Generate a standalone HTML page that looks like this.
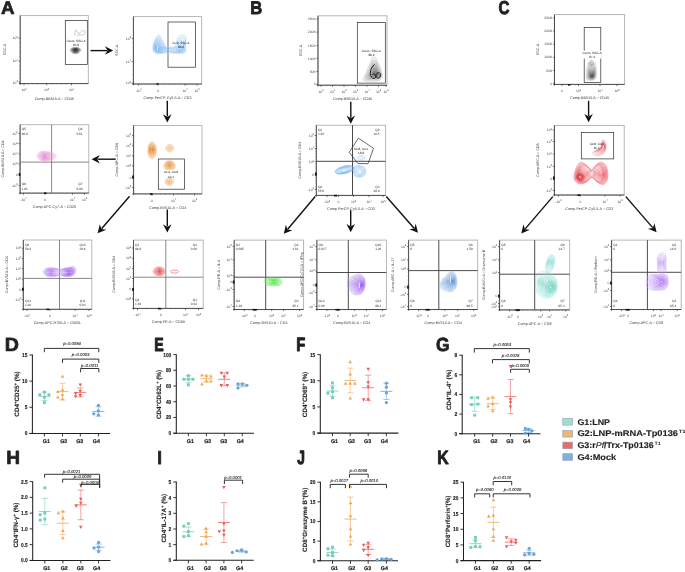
<!DOCTYPE html>
<html><head><meta charset="utf-8"><style>
html,body{margin:0;padding:0;background:#fff;}
body{width:685px;height:572px;overflow:hidden;font-family:"Liberation Sans", sans-serif;}
svg{display:block;will-change:transform;}
</style></head><body>
<svg text-rendering="geometricPrecision" width="685" height="572" viewBox="0 0 685 572" font-family='"Liberation Sans", sans-serif'>
<rect width="685" height="572" fill="#ffffff"/>
<rect x="20.20" y="15.60" width="68.10" height="68.00" fill="none" stroke="#b0b0b0" stroke-width="0.9"/>
<line x1="20.20" y1="15.60" x2="20.20" y2="84.80" stroke="#333" stroke-width="0.8"/>
<line x1="19.00" y1="83.60" x2="88.30" y2="83.60" stroke="#333" stroke-width="0.8"/>
<line x1="18.60" y1="82.30" x2="20.20" y2="82.30" stroke="#333" stroke-width="0.7"/>
<text x="17.90" y="83.50" font-size="3.4" text-anchor="end" fill="#444">10<tspan dy="-1.4" font-size="2.6">3</tspan></text>
<line x1="18.60" y1="61.20" x2="20.20" y2="61.20" stroke="#333" stroke-width="0.7"/>
<text x="17.90" y="62.40" font-size="3.4" text-anchor="end" fill="#444">10<tspan dy="-1.4" font-size="2.6">4</tspan></text>
<line x1="18.60" y1="38.20" x2="20.20" y2="38.20" stroke="#333" stroke-width="0.7"/>
<text x="17.90" y="39.40" font-size="3.4" text-anchor="end" fill="#444">10<tspan dy="-1.4" font-size="2.6">5</tspan></text>
<line x1="19.30" y1="78.08" x2="20.20" y2="78.08" stroke="#666" stroke-width="0.5"/>
<line x1="19.30" y1="73.86" x2="20.20" y2="73.86" stroke="#666" stroke-width="0.5"/>
<line x1="19.30" y1="69.64" x2="20.20" y2="69.64" stroke="#666" stroke-width="0.5"/>
<line x1="19.30" y1="65.42" x2="20.20" y2="65.42" stroke="#666" stroke-width="0.5"/>
<line x1="19.30" y1="56.60" x2="20.20" y2="56.60" stroke="#666" stroke-width="0.5"/>
<line x1="19.30" y1="52.00" x2="20.20" y2="52.00" stroke="#666" stroke-width="0.5"/>
<line x1="19.30" y1="47.40" x2="20.20" y2="47.40" stroke="#666" stroke-width="0.5"/>
<line x1="19.30" y1="42.80" x2="20.20" y2="42.80" stroke="#666" stroke-width="0.5"/>
<line x1="24.00" y1="83.60" x2="24.00" y2="85.20" stroke="#333" stroke-width="0.7"/>
<text x="24.00" y="91.20" font-size="3.4" text-anchor="middle" fill="#444">10<tspan dy="-1.4" font-size="2.6">0</tspan></text>
<line x1="46.70" y1="83.60" x2="46.70" y2="85.20" stroke="#333" stroke-width="0.7"/>
<text x="46.70" y="91.20" font-size="3.4" text-anchor="middle" fill="#444">10<tspan dy="-1.4" font-size="2.6">2</tspan></text>
<line x1="71.50" y1="83.60" x2="71.50" y2="85.20" stroke="#333" stroke-width="0.7"/>
<text x="71.50" y="91.20" font-size="3.4" text-anchor="middle" fill="#444">10<tspan dy="-1.4" font-size="2.6">4</tspan></text>
<line x1="28.54" y1="83.60" x2="28.54" y2="84.50" stroke="#666" stroke-width="0.5"/>
<line x1="33.08" y1="83.60" x2="33.08" y2="84.50" stroke="#666" stroke-width="0.5"/>
<line x1="37.62" y1="83.60" x2="37.62" y2="84.50" stroke="#666" stroke-width="0.5"/>
<line x1="42.16" y1="83.60" x2="42.16" y2="84.50" stroke="#666" stroke-width="0.5"/>
<line x1="51.66" y1="83.60" x2="51.66" y2="84.50" stroke="#666" stroke-width="0.5"/>
<line x1="56.62" y1="83.60" x2="56.62" y2="84.50" stroke="#666" stroke-width="0.5"/>
<line x1="61.58" y1="83.60" x2="61.58" y2="84.50" stroke="#666" stroke-width="0.5"/>
<line x1="66.54" y1="83.60" x2="66.54" y2="84.50" stroke="#666" stroke-width="0.5"/>
<text x="54.25" y="99.60" font-size="3.7" text-anchor="middle" fill="#3a3a3a">Comp-BB515-A :: CD45</text>
<text x="6.50" y="49.60" font-size="3.7" text-anchor="middle" fill="#3a3a3a" transform="rotate(-90 6.5 49.599999999999994)">SSC-A</text>
<rect x="65.30" y="20.40" width="22.00" height="44.10" fill="none" stroke="#2a2a2a" stroke-width="0.7"/>
<path d="M70.3,49.5 C70.5,48.9 71.1,48.2 72.0,47.9 C72.9,47.6 74.3,47.5 75.5,47.5 C76.7,47.5 78.1,47.6 79.0,47.9 C79.9,48.2 80.5,48.9 80.7,49.5 C80.9,50.1 80.5,51.2 80.0,51.8 C79.5,52.4 78.8,53.0 78.0,53.3 C77.2,53.6 76.3,53.7 75.5,53.7 C74.7,53.7 73.8,53.6 73.0,53.3 C72.2,53.0 71.5,52.4 71.0,51.8 C70.5,51.2 70.1,50.1 70.3,49.5Z" fill="#a0a0a0" fill-opacity="0.070" stroke="#a0a0a0" stroke-width="0.5" stroke-opacity="1.00"/>
<path d="M70.8,49.5 C71.0,48.9 71.6,48.4 72.3,48.1 C73.1,47.8 74.5,47.7 75.5,47.7 C76.5,47.7 77.9,47.8 78.7,48.1 C79.4,48.4 80.0,48.9 80.2,49.5 C80.3,50.1 80.0,51.0 79.5,51.6 C79.1,52.2 78.4,52.7 77.8,52.9 C77.1,53.2 76.2,53.3 75.5,53.3 C74.8,53.3 73.9,53.2 73.2,52.9 C72.6,52.7 71.9,52.2 71.5,51.6 C71.0,51.0 70.7,50.1 70.8,49.5Z" fill="#909090" fill-opacity="0.070" stroke="#909090" stroke-width="0.5" stroke-opacity="1.00"/>
<path d="M71.3,49.6 C71.5,49.0 72.0,48.5 72.7,48.3 C73.4,48.0 74.6,48.0 75.5,48.0 C76.4,48.0 77.6,48.0 78.3,48.3 C79.0,48.5 79.5,49.0 79.7,49.6 C79.8,50.1 79.5,50.9 79.1,51.4 C78.7,51.9 78.1,52.3 77.5,52.6 C76.9,52.9 76.2,52.9 75.5,52.9 C74.8,52.9 74.1,52.9 73.5,52.6 C72.9,52.3 72.3,51.9 71.9,51.4 C71.5,50.9 71.2,50.1 71.3,49.6Z" fill="#808080" fill-opacity="0.070" stroke="#808080" stroke-width="0.5" stroke-opacity="1.00"/>
<path d="M71.9,49.6 C72.0,49.1 72.4,48.7 73.0,48.5 C73.7,48.2 74.7,48.2 75.5,48.2 C76.3,48.2 77.3,48.2 78.0,48.5 C78.6,48.7 79.0,49.1 79.1,49.6 C79.3,50.0 79.0,50.8 78.7,51.2 C78.3,51.6 77.8,52.0 77.2,52.2 C76.7,52.5 76.1,52.5 75.5,52.5 C74.9,52.5 74.3,52.5 73.8,52.2 C73.2,52.0 72.7,51.6 72.3,51.2 C72.0,50.8 71.7,50.0 71.9,49.6Z" fill="#707070" fill-opacity="0.070" stroke="#707070" stroke-width="0.5" stroke-opacity="1.00"/>
<path d="M72.4,49.6 C72.5,49.2 72.9,48.9 73.4,48.7 C73.9,48.5 74.8,48.4 75.5,48.4 C76.2,48.4 77.1,48.5 77.6,48.7 C78.1,48.9 78.5,49.2 78.6,49.6 C78.7,50.0 78.5,50.6 78.2,51.0 C77.9,51.4 77.5,51.7 77.0,51.9 C76.5,52.1 76.0,52.1 75.5,52.1 C75.0,52.1 74.5,52.1 74.0,51.9 C73.5,51.7 73.1,51.4 72.8,51.0 C72.5,50.6 72.3,50.0 72.4,49.6Z" fill="#606060" fill-opacity="0.070" stroke="#606060" stroke-width="0.5" stroke-opacity="1.00"/>
<path d="M72.9,49.6 C73.0,49.3 73.3,49.0 73.8,48.8 C74.2,48.7 74.9,48.6 75.5,48.6 C76.1,48.6 76.8,48.7 77.2,48.8 C77.7,49.0 78.0,49.3 78.1,49.6 C78.2,50.0 78.0,50.5 77.8,50.8 C77.5,51.1 77.1,51.4 76.8,51.5 C76.4,51.7 75.9,51.8 75.5,51.8 C75.1,51.8 74.6,51.7 74.2,51.5 C73.9,51.4 73.5,51.1 73.2,50.8 C73.0,50.5 72.8,50.0 72.9,49.6Z" fill="#505050" fill-opacity="0.070" stroke="#505050" stroke-width="0.5" stroke-opacity="1.00"/>
<path d="M73.4,49.7 C73.5,49.4 73.8,49.2 74.1,49.0 C74.4,48.9 75.0,48.9 75.5,48.9 C76.0,48.9 76.6,48.9 76.9,49.0 C77.2,49.2 77.5,49.4 77.6,49.7 C77.6,49.9 77.5,50.3 77.3,50.6 C77.1,50.9 76.8,51.1 76.5,51.2 C76.2,51.3 75.8,51.4 75.5,51.4 C75.2,51.4 74.8,51.3 74.5,51.2 C74.2,51.1 73.9,50.9 73.7,50.6 C73.5,50.3 73.4,49.9 73.4,49.7Z" fill="#404040" fill-opacity="0.070" stroke="#404040" stroke-width="0.5" stroke-opacity="1.00"/>
<path d="M73.9,49.7 C74.0,49.5 74.2,49.3 74.5,49.2 C74.7,49.1 75.2,49.1 75.5,49.1 C75.8,49.1 76.3,49.1 76.5,49.2 C76.8,49.3 77.0,49.5 77.1,49.7 C77.1,49.9 77.0,50.2 76.8,50.4 C76.7,50.6 76.5,50.8 76.2,50.8 C76.0,50.9 75.8,51.0 75.5,51.0 C75.2,51.0 75.0,50.9 74.8,50.8 C74.5,50.8 74.3,50.6 74.2,50.4 C74.0,50.2 73.9,49.9 73.9,49.7Z" fill="#303030" fill-opacity="0.070" stroke="#303030" stroke-width="0.5" stroke-opacity="1.00"/>
<path d="M74.5,49.7 C74.5,49.6 74.6,49.5 74.8,49.4 C75.0,49.4 75.3,49.3 75.5,49.3 C75.7,49.3 76.0,49.4 76.2,49.4 C76.4,49.5 76.5,49.6 76.5,49.7 C76.6,49.9 76.5,50.1 76.4,50.2 C76.3,50.3 76.2,50.4 76.0,50.5 C75.8,50.6 75.7,50.6 75.5,50.6 C75.3,50.6 75.2,50.6 75.0,50.5 C74.8,50.4 74.7,50.3 74.6,50.2 C74.5,50.1 74.4,49.9 74.5,49.7Z" fill="#202020" fill-opacity="0.070" stroke="#202020" stroke-width="0.5" stroke-opacity="1.00"/>
<path d="M75.0,49.8 C75.0,49.7 75.1,49.6 75.2,49.6 C75.2,49.6 75.4,49.6 75.5,49.6 C75.6,49.6 75.8,49.6 75.8,49.6 C75.9,49.6 76.0,49.7 76.0,49.8 C76.0,49.8 76.0,49.9 76.0,50.0 C75.9,50.1 75.8,50.1 75.8,50.1 C75.7,50.2 75.6,50.2 75.5,50.2 C75.4,50.2 75.3,50.2 75.2,50.1 C75.2,50.1 75.1,50.1 75.0,50.0 C75.0,49.9 75.0,49.8 75.0,49.8Z" fill="#111111" fill-opacity="0.070" stroke="#111111" stroke-width="0.5" stroke-opacity="1.00"/>
<path d="M72.5,49.2 L78.8,49.2 M72.2,50.6 L79,50.6 M73,52 L78,52" stroke="#222" stroke-width="0.6" stroke-opacity="0.7"/>
<path d="M74.8,35.5 C74.5,32.7 75.2,30.2 76.3,29.9 C77.3,31.2 77.5,33.5 79.2,33.7 C80.8,31.7 82.5,29.7 84.6,30.9 C86.2,32.9 84,35.5 81.2,34.9 C79.5,34.5 77.8,35.7 76.5,35.3" fill="none" stroke="#888" stroke-width="0.45"/>
<text x="76.00" y="41.60" font-size="3.1" text-anchor="middle" fill="#222">CD45, SSC-A</text>
<text x="76.00" y="45.70" font-size="3.1" text-anchor="middle" fill="#222">95.9</text>
<line x1="90.50" y1="50.60" x2="107.20" y2="50.60" stroke="#111" stroke-width="1.4"/>
<polygon points="113.20,50.60 104.90,54.85 107.58,50.60 104.90,46.35" fill="#111"/>
<rect x="133.40" y="16.60" width="68.30" height="67.40" fill="none" stroke="#b0b0b0" stroke-width="0.9"/>
<line x1="133.40" y1="16.60" x2="133.40" y2="85.20" stroke="#333" stroke-width="0.8"/>
<line x1="132.20" y1="84.00" x2="201.70" y2="84.00" stroke="#333" stroke-width="0.8"/>
<line x1="131.80" y1="83.20" x2="133.40" y2="83.20" stroke="#333" stroke-width="0.7"/>
<text x="131.10" y="84.40" font-size="3.4" text-anchor="end" fill="#444">10<tspan dy="-1.4" font-size="2.6">3</tspan></text>
<line x1="131.80" y1="61.60" x2="133.40" y2="61.60" stroke="#333" stroke-width="0.7"/>
<text x="131.10" y="62.80" font-size="3.4" text-anchor="end" fill="#444">10<tspan dy="-1.4" font-size="2.6">4</tspan></text>
<line x1="131.80" y1="38.60" x2="133.40" y2="38.60" stroke="#333" stroke-width="0.7"/>
<text x="131.10" y="39.80" font-size="3.4" text-anchor="end" fill="#444">10<tspan dy="-1.4" font-size="2.6">5</tspan></text>
<line x1="132.50" y1="78.88" x2="133.40" y2="78.88" stroke="#666" stroke-width="0.5"/>
<line x1="132.50" y1="74.56" x2="133.40" y2="74.56" stroke="#666" stroke-width="0.5"/>
<line x1="132.50" y1="70.24" x2="133.40" y2="70.24" stroke="#666" stroke-width="0.5"/>
<line x1="132.50" y1="65.92" x2="133.40" y2="65.92" stroke="#666" stroke-width="0.5"/>
<line x1="132.50" y1="57.00" x2="133.40" y2="57.00" stroke="#666" stroke-width="0.5"/>
<line x1="132.50" y1="52.40" x2="133.40" y2="52.40" stroke="#666" stroke-width="0.5"/>
<line x1="132.50" y1="47.80" x2="133.40" y2="47.80" stroke="#666" stroke-width="0.5"/>
<line x1="132.50" y1="43.20" x2="133.40" y2="43.20" stroke="#666" stroke-width="0.5"/>
<line x1="138.60" y1="84.00" x2="138.60" y2="85.60" stroke="#333" stroke-width="0.7"/>
<text x="138.60" y="91.60" font-size="3.4" text-anchor="middle" fill="#444">-10<tspan dy="-1.4" font-size="2.6">4</tspan></text>
<line x1="158.00" y1="84.00" x2="158.00" y2="85.60" stroke="#333" stroke-width="0.7"/>
<text x="158.00" y="91.60" font-size="3.4" text-anchor="middle" fill="#444">0</text>
<line x1="185.00" y1="84.00" x2="185.00" y2="85.60" stroke="#333" stroke-width="0.7"/>
<text x="185.00" y="91.60" font-size="3.4" text-anchor="middle" fill="#444">10<tspan dy="-1.4" font-size="2.6">4</tspan></text>
<line x1="197.00" y1="84.00" x2="197.00" y2="85.60" stroke="#333" stroke-width="0.7"/>
<text x="197.00" y="91.60" font-size="3.4" text-anchor="middle" fill="#444">10<tspan dy="-1.4" font-size="2.6">5</tspan></text>
<line x1="142.48" y1="84.00" x2="142.48" y2="84.90" stroke="#666" stroke-width="0.5"/>
<line x1="146.36" y1="84.00" x2="146.36" y2="84.90" stroke="#666" stroke-width="0.5"/>
<line x1="150.24" y1="84.00" x2="150.24" y2="84.90" stroke="#666" stroke-width="0.5"/>
<line x1="154.12" y1="84.00" x2="154.12" y2="84.90" stroke="#666" stroke-width="0.5"/>
<line x1="163.40" y1="84.00" x2="163.40" y2="84.90" stroke="#666" stroke-width="0.5"/>
<line x1="168.80" y1="84.00" x2="168.80" y2="84.90" stroke="#666" stroke-width="0.5"/>
<line x1="174.20" y1="84.00" x2="174.20" y2="84.90" stroke="#666" stroke-width="0.5"/>
<line x1="179.60" y1="84.00" x2="179.60" y2="84.90" stroke="#666" stroke-width="0.5"/>
<line x1="187.40" y1="84.00" x2="187.40" y2="84.90" stroke="#666" stroke-width="0.5"/>
<line x1="189.80" y1="84.00" x2="189.80" y2="84.90" stroke="#666" stroke-width="0.5"/>
<line x1="192.20" y1="84.00" x2="192.20" y2="84.90" stroke="#666" stroke-width="0.5"/>
<line x1="194.60" y1="84.00" x2="194.60" y2="84.90" stroke="#666" stroke-width="0.5"/>
<text x="167.55" y="98.60" font-size="3.7" text-anchor="middle" fill="#3a3a3a">Comp-PerCP-Cy5-5-A :: CD3</text>
<text x="118.50" y="50.30" font-size="3.7" text-anchor="middle" fill="#3a3a3a" transform="rotate(-90 118.5 50.3)">SSC-A</text>
<rect x="168.00" y="22.00" width="27.40" height="45.20" fill="none" stroke="#2a2a2a" stroke-width="0.7"/>
<path d="M160.0,47.5 C161.7,46.6 167.0,47.0 170.0,47.0 C173.0,47.0 176.7,46.6 178.0,47.5 C179.3,48.4 179.3,51.6 178.0,52.5 C176.7,53.4 173.0,53.0 170.0,53.0 C167.0,53.0 161.7,53.4 160.0,52.5 C158.3,51.6 158.3,48.4 160.0,47.5Z" fill="#a8d0f6" fill-opacity="0.025" stroke="#a8d0f6" stroke-width="0.45" stroke-opacity="0.98"/>
<path d="M162.1,48.1 C163.4,47.4 167.5,47.7 169.8,47.7 C172.1,47.7 174.9,47.4 175.9,48.1 C176.9,48.8 176.9,51.2 175.9,51.9 C174.9,52.6 172.1,52.3 169.8,52.3 C167.5,52.3 163.4,52.6 162.1,51.9 C160.8,51.2 160.8,48.8 162.1,48.1Z" fill="#93c5f3" fill-opacity="0.025" stroke="#93c5f3" stroke-width="0.45" stroke-opacity="0.98"/>
<path d="M164.2,48.7 C165.1,48.2 167.9,48.4 169.5,48.4 C171.1,48.4 173.1,48.2 173.8,48.7 C174.5,49.2 174.5,50.8 173.8,51.3 C173.1,51.8 171.1,51.6 169.5,51.6 C167.9,51.6 165.1,51.8 164.2,51.3 C163.3,50.8 163.3,49.2 164.2,48.7Z" fill="#7ebaf0" fill-opacity="0.025" stroke="#7ebaf0" stroke-width="0.45" stroke-opacity="0.98"/>
<path d="M166.3,49.2 C166.8,49.0 168.4,49.1 169.3,49.1 C170.2,49.1 171.3,49.0 171.7,49.2 C172.1,49.5 172.1,50.5 171.7,50.8 C171.3,51.0 170.2,50.9 169.3,50.9 C168.4,50.9 166.8,51.0 166.3,50.8 C165.8,50.5 165.8,49.5 166.3,49.2Z" fill="#6ab0ee" fill-opacity="0.025" stroke="#6ab0ee" stroke-width="0.45" stroke-opacity="0.98"/>
<path d="M158.5,34.8 C159.7,34.5 160.5,37.0 161.5,38.5 C162.5,40.0 163.8,42.3 164.5,44.0 C165.2,45.7 165.9,47.2 166.0,48.5 C166.1,49.8 165.8,51.2 165.0,52.0 C164.2,52.8 162.5,53.3 161.0,53.5 C159.5,53.7 157.3,53.7 156.0,53.3 C154.7,52.9 153.8,52.2 153.3,51.0 C152.8,49.8 152.8,47.8 153.0,46.0 C153.2,44.2 153.6,42.4 154.5,40.5 C155.4,38.6 157.3,35.1 158.5,34.8Z" fill="#9acaf6" fill-opacity="0.030" stroke="#9acaf6" stroke-width="0.45" stroke-opacity="1.00"/>
<path d="M158.4,36.1 C159.5,35.8 160.2,38.0 161.1,39.4 C162.0,40.8 163.2,42.9 163.9,44.4 C164.5,45.9 165.1,47.3 165.2,48.5 C165.3,49.7 165.1,50.9 164.3,51.7 C163.6,52.4 162.0,52.8 160.7,53.0 C159.3,53.2 157.3,53.2 156.1,52.9 C155.0,52.5 154.1,51.9 153.7,50.8 C153.2,49.7 153.2,47.8 153.4,46.2 C153.6,44.6 153.9,42.9 154.8,41.2 C155.6,39.5 157.3,36.4 158.4,36.1Z" fill="#91c4f4" fill-opacity="0.030" stroke="#91c4f4" stroke-width="0.45" stroke-opacity="1.00"/>
<path d="M158.3,37.3 C159.3,37.0 159.9,39.1 160.8,40.3 C161.6,41.6 162.6,43.5 163.2,44.8 C163.8,46.2 164.4,47.4 164.4,48.5 C164.5,49.6 164.3,50.7 163.6,51.4 C162.9,52.0 161.6,52.4 160.4,52.6 C159.1,52.8 157.3,52.8 156.3,52.4 C155.2,52.1 154.5,51.5 154.1,50.5 C153.7,49.5 153.7,47.9 153.8,46.5 C154.0,45.0 154.3,43.5 155.1,42.0 C155.8,40.4 157.4,37.6 158.3,37.3Z" fill="#88bff2" fill-opacity="0.030" stroke="#88bff2" stroke-width="0.45" stroke-opacity="1.00"/>
<path d="M158.2,38.6 C159.1,38.3 159.7,40.1 160.4,41.3 C161.1,42.4 162.0,44.0 162.6,45.2 C163.1,46.4 163.6,47.5 163.7,48.5 C163.7,49.5 163.5,50.4 162.9,51.0 C162.3,51.6 161.1,52.0 160.0,52.1 C158.9,52.3 157.3,52.3 156.4,52.0 C155.5,51.7 154.8,51.2 154.5,50.3 C154.1,49.4 154.1,48.0 154.2,46.7 C154.4,45.4 154.7,44.1 155.3,42.7 C156.0,41.4 157.4,38.8 158.2,38.6Z" fill="#80b9f1" fill-opacity="0.030" stroke="#80b9f1" stroke-width="0.45" stroke-opacity="1.00"/>
<path d="M158.1,39.8 C158.9,39.6 159.4,41.2 160.0,42.2 C160.7,43.1 161.5,44.6 161.9,45.7 C162.4,46.7 162.8,47.7 162.9,48.5 C162.9,49.3 162.8,50.2 162.2,50.7 C161.7,51.2 160.7,51.5 159.7,51.7 C158.8,51.8 157.4,51.8 156.6,51.5 C155.7,51.3 155.2,50.8 154.8,50.1 C154.5,49.3 154.5,48.0 154.7,46.9 C154.8,45.8 155.0,44.6 155.6,43.4 C156.2,42.3 157.4,40.1 158.1,39.8Z" fill="#77b4ef" fill-opacity="0.030" stroke="#77b4ef" stroke-width="0.45" stroke-opacity="1.00"/>
<path d="M158.0,41.1 C158.7,40.9 159.1,42.3 159.7,43.1 C160.2,43.9 160.9,45.2 161.3,46.1 C161.7,47.0 162.0,47.8 162.1,48.5 C162.1,49.2 162.0,49.9 161.6,50.4 C161.1,50.8 160.2,51.1 159.4,51.2 C158.6,51.3 157.4,51.3 156.7,51.1 C156.0,50.9 155.5,50.5 155.2,49.9 C155.0,49.2 155.0,48.1 155.1,47.1 C155.2,46.2 155.4,45.2 155.9,44.2 C156.4,43.2 157.4,41.3 158.0,41.1Z" fill="#6fafee" fill-opacity="0.030" stroke="#6fafee" stroke-width="0.45" stroke-opacity="1.00"/>
<path d="M157.9,42.4 C158.5,42.2 158.8,43.3 159.3,44.0 C159.7,44.7 160.3,45.7 160.6,46.5 C161.0,47.2 161.3,47.9 161.3,48.5 C161.3,49.1 161.2,49.7 160.9,50.1 C160.5,50.4 159.7,50.6 159.1,50.7 C158.4,50.8 157.4,50.8 156.8,50.7 C156.3,50.5 155.8,50.2 155.6,49.6 C155.4,49.1 155.4,48.2 155.5,47.4 C155.6,46.6 155.7,45.8 156.2,44.9 C156.6,44.1 157.4,42.5 157.9,42.4Z" fill="#66a9ec" fill-opacity="0.030" stroke="#66a9ec" stroke-width="0.45" stroke-opacity="1.00"/>
<path d="M157.9,43.6 C158.3,43.5 158.6,44.4 158.9,44.9 C159.3,45.5 159.7,46.3 160.0,46.9 C160.3,47.5 160.5,48.0 160.5,48.5 C160.6,49.0 160.5,49.4 160.2,49.7 C159.9,50.0 159.3,50.2 158.7,50.3 C158.2,50.4 157.4,50.4 157.0,50.2 C156.5,50.1 156.2,49.8 156.0,49.4 C155.8,49.0 155.8,48.2 155.9,47.6 C156.0,47.0 156.1,46.3 156.4,45.7 C156.8,45.0 157.4,43.7 157.9,43.6Z" fill="#5da4ea" fill-opacity="0.030" stroke="#5da4ea" stroke-width="0.45" stroke-opacity="1.00"/>
<path d="M157.8,44.9 C158.1,44.8 158.3,45.5 158.6,45.9 C158.8,46.3 159.2,46.9 159.3,47.3 C159.5,47.8 159.7,48.1 159.7,48.5 C159.8,48.9 159.7,49.2 159.5,49.4 C159.3,49.6 158.8,49.8 158.4,49.8 C158.0,49.9 157.4,49.9 157.1,49.8 C156.8,49.7 156.5,49.5 156.4,49.2 C156.3,48.8 156.3,48.3 156.3,47.8 C156.4,47.4 156.5,46.9 156.7,46.4 C156.9,45.9 157.5,45.0 157.8,44.9Z" fill="#559ee9" fill-opacity="0.030" stroke="#559ee9" stroke-width="0.45" stroke-opacity="1.00"/>
<path d="M157.7,46.1 C157.9,46.1 158.0,46.5 158.2,46.8 C158.4,47.0 158.6,47.4 158.7,47.7 C158.8,48.0 158.9,48.3 159.0,48.5 C159.0,48.7 158.9,49.0 158.8,49.1 C158.6,49.2 158.4,49.3 158.1,49.4 C157.8,49.4 157.5,49.4 157.2,49.3 C157.0,49.3 156.9,49.1 156.8,48.9 C156.7,48.7 156.7,48.4 156.7,48.1 C156.8,47.8 156.8,47.4 157.0,47.1 C157.1,46.8 157.5,46.2 157.7,46.1Z" fill="#4c99e7" fill-opacity="0.030" stroke="#4c99e7" stroke-width="0.45" stroke-opacity="1.00"/>
<path d="M157.6,47.4 C157.7,47.4 157.7,47.6 157.8,47.7 C157.9,47.8 158.0,48.0 158.1,48.1 C158.1,48.3 158.2,48.4 158.2,48.5 C158.2,48.6 158.2,48.7 158.1,48.8 C158.0,48.8 157.9,48.9 157.8,48.9 C157.7,48.9 157.5,48.9 157.4,48.9 C157.3,48.9 157.2,48.8 157.2,48.7 C157.1,48.6 157.1,48.4 157.1,48.3 C157.2,48.2 157.2,48.0 157.3,47.9 C157.3,47.7 157.5,47.4 157.6,47.4Z" fill="#4494e6" fill-opacity="0.030" stroke="#4494e6" stroke-width="0.45" stroke-opacity="1.00"/>
<path d="M171.5,50.5 C171.6,49.5 173.2,48.2 174.0,47.0 C174.8,45.8 175.9,44.4 176.5,43.0 C177.1,41.6 176.8,39.8 177.5,38.5 C178.2,37.2 179.3,35.8 180.5,35.3 C181.7,34.8 183.5,34.8 184.5,35.3 C185.5,35.8 186.1,37.0 186.3,38.5 C186.5,40.0 185.6,42.2 185.5,44.0 C185.4,45.8 186.2,48.0 186.0,49.5 C185.8,51.0 185.7,52.4 184.5,53.0 C183.3,53.6 180.8,53.4 179.0,53.4 C177.2,53.4 174.8,53.5 173.5,53.0 C172.2,52.5 171.4,51.5 171.5,50.5Z" fill="#a0ccf6" fill-opacity="0.025" stroke="#a0ccf6" stroke-width="0.45" stroke-opacity="0.98"/>
<path d="M172.7,50.4 C172.7,49.5 174.1,48.4 174.8,47.3 C175.6,46.2 176.5,45.0 177.0,43.8 C177.6,42.5 177.3,41.0 177.9,39.8 C178.5,38.7 179.5,37.5 180.6,37.0 C181.6,36.6 183.2,36.6 184.1,37.0 C184.9,37.5 185.5,38.6 185.7,39.8 C185.8,41.1 185.0,43.1 185.0,44.7 C184.9,46.3 185.5,48.2 185.4,49.5 C185.2,50.8 185.1,52.0 184.1,52.6 C183.0,53.1 180.9,52.9 179.2,52.9 C177.6,52.9 175.5,53.0 174.4,52.6 C173.3,52.2 172.6,51.3 172.7,50.4Z" fill="#96c6f4" fill-opacity="0.025" stroke="#96c6f4" stroke-width="0.45" stroke-opacity="0.98"/>
<path d="M173.8,50.3 C173.9,49.5 175.1,48.6 175.7,47.6 C176.3,46.7 177.2,45.7 177.6,44.6 C178.0,43.5 177.8,42.1 178.3,41.2 C178.9,40.2 179.7,39.2 180.6,38.7 C181.5,38.3 182.9,38.3 183.7,38.7 C184.4,39.2 184.9,40.1 185.0,41.2 C185.1,42.3 184.4,43.9 184.4,45.3 C184.4,46.7 184.9,48.4 184.8,49.5 C184.7,50.6 184.5,51.7 183.7,52.1 C182.8,52.6 180.9,52.5 179.5,52.5 C178.1,52.5 176.3,52.5 175.3,52.1 C174.4,51.8 173.7,51.0 173.8,50.3Z" fill="#8cc1f3" fill-opacity="0.025" stroke="#8cc1f3" stroke-width="0.45" stroke-opacity="0.98"/>
<path d="M175.0,50.1 C175.0,49.5 176.0,48.7 176.6,47.9 C177.1,47.1 177.8,46.3 178.1,45.4 C178.5,44.5 178.4,43.3 178.8,42.5 C179.2,41.7 179.9,40.8 180.7,40.5 C181.4,40.1 182.6,40.1 183.2,40.5 C183.8,40.8 184.3,41.6 184.4,42.5 C184.5,43.4 183.9,44.8 183.9,46.0 C183.8,47.2 184.3,48.5 184.2,49.5 C184.1,50.5 184.0,51.3 183.2,51.7 C182.5,52.1 180.9,52.0 179.7,52.0 C178.6,52.0 177.0,52.0 176.2,51.7 C175.4,51.4 174.9,50.8 175.0,50.1Z" fill="#82bbf1" fill-opacity="0.025" stroke="#82bbf1" stroke-width="0.45" stroke-opacity="0.98"/>
<path d="M176.1,50.0 C176.2,49.5 177.0,48.9 177.4,48.2 C177.8,47.6 178.4,46.9 178.7,46.2 C179.0,45.4 178.9,44.5 179.2,43.8 C179.5,43.2 180.1,42.5 180.7,42.2 C181.3,41.9 182.3,41.9 182.8,42.2 C183.3,42.5 183.6,43.1 183.7,43.8 C183.8,44.6 183.3,45.7 183.3,46.7 C183.3,47.6 183.7,48.7 183.6,49.5 C183.5,50.3 183.4,51.0 182.8,51.3 C182.2,51.6 180.9,51.5 180.0,51.5 C179.0,51.5 177.8,51.5 177.1,51.3 C176.5,51.1 176.1,50.5 176.1,50.0Z" fill="#78b6f0" fill-opacity="0.025" stroke="#78b6f0" stroke-width="0.45" stroke-opacity="0.98"/>
<path d="M177.3,49.9 C177.3,49.5 177.9,49.0 178.2,48.5 C178.6,48.0 179.0,47.5 179.2,46.9 C179.5,46.4 179.4,45.7 179.6,45.2 C179.9,44.7 180.3,44.1 180.8,43.9 C181.3,43.7 182.0,43.7 182.4,43.9 C182.8,44.1 183.0,44.6 183.1,45.2 C183.1,45.7 182.8,46.6 182.8,47.3 C182.7,48.1 183.0,48.9 183.0,49.5 C182.9,50.1 182.8,50.6 182.4,50.9 C181.9,51.1 180.9,51.0 180.2,51.0 C179.5,51.0 178.5,51.1 178.1,50.9 C177.6,50.7 177.2,50.3 177.3,49.9Z" fill="#6eb0ee" fill-opacity="0.025" stroke="#6eb0ee" stroke-width="0.45" stroke-opacity="0.98"/>
<path d="M178.4,49.8 C178.4,49.5 178.9,49.2 179.1,48.8 C179.3,48.5 179.6,48.1 179.8,47.7 C179.9,47.4 179.9,46.9 180.1,46.5 C180.2,46.2 180.5,45.8 180.9,45.6 C181.2,45.5 181.7,45.5 181.9,45.6 C182.2,45.8 182.4,46.1 182.4,46.5 C182.5,46.9 182.2,47.5 182.2,48.0 C182.2,48.5 182.4,49.1 182.4,49.5 C182.3,49.9 182.3,50.3 181.9,50.5 C181.6,50.6 181.0,50.6 180.5,50.6 C180.0,50.6 179.3,50.6 179.0,50.5 C178.6,50.3 178.4,50.0 178.4,49.8Z" fill="#64abed" fill-opacity="0.025" stroke="#64abed" stroke-width="0.45" stroke-opacity="0.98"/>
<path d="M179.6,49.6 C179.6,49.5 179.8,49.3 179.9,49.1 C180.1,48.9 180.2,48.7 180.3,48.5 C180.4,48.3 180.4,48.0 180.5,47.9 C180.6,47.7 180.8,47.4 180.9,47.4 C181.1,47.3 181.4,47.3 181.5,47.4 C181.7,47.4 181.8,47.6 181.8,47.9 C181.8,48.1 181.7,48.4 181.7,48.7 C181.7,48.9 181.8,49.3 181.8,49.5 C181.7,49.7 181.7,49.9 181.5,50.0 C181.3,50.1 181.0,50.1 180.7,50.1 C180.4,50.1 180.1,50.1 179.9,50.0 C179.7,50.0 179.6,49.8 179.6,49.6Z" fill="#5aa6ec" fill-opacity="0.025" stroke="#5aa6ec" stroke-width="0.45" stroke-opacity="0.98"/>
<path d="M157.3,46.5 L157.6,50.5" stroke="#fff" stroke-width="0.8"/>
<text x="181.00" y="44.10" font-size="3.1" text-anchor="middle" fill="#222">CD3, SSC-A</text>
<text x="181.00" y="48.20" font-size="3.1" text-anchor="middle" fill="#222">88.2</text>
<rect x="156.5" y="83" width="1.8" height="1.6" fill="#111"/>
<line x1="167.30" y1="100.70" x2="167.30" y2="116.60" stroke="#111" stroke-width="1.4"/>
<polygon points="167.30,122.60 163.05,114.30 167.30,116.97 171.55,114.30" fill="#111"/>
<rect x="133.60" y="125.50" width="68.40" height="68.40" fill="none" stroke="#b0b0b0" stroke-width="0.9"/>
<line x1="133.60" y1="125.50" x2="133.60" y2="195.10" stroke="#333" stroke-width="0.8"/>
<line x1="132.40" y1="193.90" x2="202.00" y2="193.90" stroke="#333" stroke-width="0.8"/>
<line x1="132.00" y1="187.60" x2="133.60" y2="187.60" stroke="#333" stroke-width="0.7"/>
<text x="131.30" y="188.80" font-size="3.4" text-anchor="end" fill="#444">-10<tspan dy="-1.4" font-size="2.6">2</tspan></text>
<line x1="132.00" y1="177.40" x2="133.60" y2="177.40" stroke="#333" stroke-width="0.7"/>
<text x="131.30" y="178.60" font-size="3.4" text-anchor="end" fill="#444">0</text>
<line x1="132.00" y1="165.90" x2="133.60" y2="165.90" stroke="#333" stroke-width="0.7"/>
<text x="131.30" y="167.10" font-size="3.4" text-anchor="end" fill="#444">10<tspan dy="-1.4" font-size="2.6">3</tspan></text>
<line x1="132.00" y1="155.80" x2="133.60" y2="155.80" stroke="#333" stroke-width="0.7"/>
<text x="131.30" y="157.00" font-size="3.4" text-anchor="end" fill="#444">10<tspan dy="-1.4" font-size="2.6">4</tspan></text>
<line x1="132.00" y1="145.60" x2="133.60" y2="145.60" stroke="#333" stroke-width="0.7"/>
<text x="131.30" y="146.80" font-size="3.4" text-anchor="end" fill="#444">10<tspan dy="-1.4" font-size="2.6">5</tspan></text>
<line x1="132.00" y1="135.40" x2="133.60" y2="135.40" stroke="#333" stroke-width="0.7"/>
<text x="131.30" y="136.60" font-size="3.4" text-anchor="end" fill="#444">10<tspan dy="-1.4" font-size="2.6">6</tspan></text>
<line x1="132.70" y1="185.56" x2="133.60" y2="185.56" stroke="#666" stroke-width="0.5"/>
<line x1="132.70" y1="183.52" x2="133.60" y2="183.52" stroke="#666" stroke-width="0.5"/>
<line x1="132.70" y1="181.48" x2="133.60" y2="181.48" stroke="#666" stroke-width="0.5"/>
<line x1="132.70" y1="179.44" x2="133.60" y2="179.44" stroke="#666" stroke-width="0.5"/>
<line x1="132.70" y1="175.10" x2="133.60" y2="175.10" stroke="#666" stroke-width="0.5"/>
<line x1="132.70" y1="172.80" x2="133.60" y2="172.80" stroke="#666" stroke-width="0.5"/>
<line x1="132.70" y1="170.50" x2="133.60" y2="170.50" stroke="#666" stroke-width="0.5"/>
<line x1="132.70" y1="168.20" x2="133.60" y2="168.20" stroke="#666" stroke-width="0.5"/>
<line x1="132.70" y1="163.88" x2="133.60" y2="163.88" stroke="#666" stroke-width="0.5"/>
<line x1="132.70" y1="161.86" x2="133.60" y2="161.86" stroke="#666" stroke-width="0.5"/>
<line x1="132.70" y1="159.84" x2="133.60" y2="159.84" stroke="#666" stroke-width="0.5"/>
<line x1="132.70" y1="157.82" x2="133.60" y2="157.82" stroke="#666" stroke-width="0.5"/>
<line x1="132.70" y1="153.76" x2="133.60" y2="153.76" stroke="#666" stroke-width="0.5"/>
<line x1="132.70" y1="151.72" x2="133.60" y2="151.72" stroke="#666" stroke-width="0.5"/>
<line x1="132.70" y1="149.68" x2="133.60" y2="149.68" stroke="#666" stroke-width="0.5"/>
<line x1="132.70" y1="147.64" x2="133.60" y2="147.64" stroke="#666" stroke-width="0.5"/>
<line x1="132.70" y1="143.56" x2="133.60" y2="143.56" stroke="#666" stroke-width="0.5"/>
<line x1="132.70" y1="141.52" x2="133.60" y2="141.52" stroke="#666" stroke-width="0.5"/>
<line x1="132.70" y1="139.48" x2="133.60" y2="139.48" stroke="#666" stroke-width="0.5"/>
<line x1="132.70" y1="137.44" x2="133.60" y2="137.44" stroke="#666" stroke-width="0.5"/>
<line x1="152.00" y1="193.90" x2="152.00" y2="195.50" stroke="#333" stroke-width="0.7"/>
<text x="152.00" y="201.50" font-size="3.4" text-anchor="middle" fill="#444">0</text>
<line x1="173.50" y1="193.90" x2="173.50" y2="195.50" stroke="#333" stroke-width="0.7"/>
<text x="173.50" y="201.50" font-size="3.4" text-anchor="middle" fill="#444">10<tspan dy="-1.4" font-size="2.6">4</tspan></text>
<line x1="194.50" y1="193.90" x2="194.50" y2="195.50" stroke="#333" stroke-width="0.7"/>
<text x="194.50" y="201.50" font-size="3.4" text-anchor="middle" fill="#444">10<tspan dy="-1.4" font-size="2.6">5</tspan></text>
<line x1="156.30" y1="193.90" x2="156.30" y2="194.80" stroke="#666" stroke-width="0.5"/>
<line x1="160.60" y1="193.90" x2="160.60" y2="194.80" stroke="#666" stroke-width="0.5"/>
<line x1="164.90" y1="193.90" x2="164.90" y2="194.80" stroke="#666" stroke-width="0.5"/>
<line x1="169.20" y1="193.90" x2="169.20" y2="194.80" stroke="#666" stroke-width="0.5"/>
<line x1="177.70" y1="193.90" x2="177.70" y2="194.80" stroke="#666" stroke-width="0.5"/>
<line x1="181.90" y1="193.90" x2="181.90" y2="194.80" stroke="#666" stroke-width="0.5"/>
<line x1="186.10" y1="193.90" x2="186.10" y2="194.80" stroke="#666" stroke-width="0.5"/>
<line x1="190.30" y1="193.90" x2="190.30" y2="194.80" stroke="#666" stroke-width="0.5"/>
<text x="167.80" y="208.50" font-size="3.7" text-anchor="middle" fill="#3a3a3a">Comp-BV510-A :: CD4</text>
<text x="117.90" y="159.70" font-size="3.7" text-anchor="middle" fill="#3a3a3a" transform="rotate(-90 117.9 159.7)">Comp-APC-A :: CD8</text>
<rect x="158.30" y="159.00" width="26.10" height="30.20" fill="none" stroke="#2a2a2a" stroke-width="0.7"/>
<path d="M152.0,141.4 C152.9,141.4 154.1,142.4 154.8,143.5 C155.5,144.6 156.2,146.3 156.4,148.0 C156.6,149.7 156.5,151.9 156.2,153.5 C155.9,155.1 155.2,156.6 154.5,157.5 C153.8,158.4 152.8,159.0 152.0,159.0 C151.2,159.0 150.2,158.4 149.5,157.5 C148.8,156.6 148.2,155.1 148.0,153.5 C147.8,151.9 147.8,149.7 148.0,148.0 C148.2,146.3 148.6,144.6 149.3,143.5 C150.0,142.4 151.1,141.4 152.0,141.4Z" fill="#f0b070" fill-opacity="0.065" stroke="#f0b070" stroke-width="0.45" stroke-opacity="1.00"/>
<path d="M152.0,142.5 C152.8,142.5 153.8,143.4 154.4,144.3 C155.0,145.3 155.6,146.8 155.8,148.2 C156.0,149.6 155.9,151.6 155.6,153.0 C155.3,154.3 154.7,155.6 154.1,156.4 C153.5,157.2 152.7,157.7 152.0,157.7 C151.3,157.7 150.4,157.2 149.8,156.4 C149.2,155.6 148.7,154.3 148.5,153.0 C148.3,151.6 148.3,149.6 148.5,148.2 C148.7,146.8 149.1,145.3 149.6,144.3 C150.2,143.4 151.2,142.5 152.0,142.5Z" fill="#eeaa66" fill-opacity="0.065" stroke="#eeaa66" stroke-width="0.45" stroke-opacity="1.00"/>
<path d="M152.0,143.3 C152.7,143.3 153.5,144.1 154.1,144.9 C154.7,145.8 155.1,147.1 155.3,148.4 C155.5,149.6 155.4,151.3 155.2,152.6 C154.9,153.8 154.4,154.9 153.9,155.6 C153.3,156.3 152.6,156.8 152.0,156.8 C151.3,156.8 150.6,156.3 150.0,155.6 C149.5,154.9 149.1,153.8 148.9,152.6 C148.7,151.3 148.7,149.6 148.9,148.4 C149.1,147.1 149.4,145.8 149.9,144.9 C150.4,144.1 151.3,143.3 152.0,143.3Z" fill="#eda45d" fill-opacity="0.065" stroke="#eda45d" stroke-width="0.45" stroke-opacity="1.00"/>
<path d="M151.9,144.0 C152.6,144.0 153.3,144.7 153.8,145.5 C154.3,146.2 154.7,147.4 154.9,148.5 C155.1,149.6 155.0,151.1 154.8,152.2 C154.6,153.3 154.1,154.3 153.6,154.9 C153.1,155.5 152.5,155.9 151.9,155.9 C151.4,155.9 150.7,155.5 150.2,154.9 C149.8,154.3 149.4,153.3 149.2,152.2 C149.1,151.1 149.1,149.6 149.2,148.5 C149.4,147.4 149.7,146.2 150.1,145.5 C150.6,144.7 151.3,144.0 151.9,144.0Z" fill="#eb9e53" fill-opacity="0.065" stroke="#eb9e53" stroke-width="0.45" stroke-opacity="1.00"/>
<path d="M151.9,144.7 C152.5,144.7 153.1,145.3 153.6,146.0 C154.0,146.6 154.4,147.6 154.5,148.6 C154.7,149.6 154.6,150.9 154.4,151.9 C154.2,152.8 153.8,153.7 153.4,154.2 C153.0,154.8 152.4,155.1 151.9,155.1 C151.4,155.1 150.8,154.8 150.4,154.2 C150.0,153.7 149.7,152.8 149.6,151.9 C149.4,150.9 149.4,149.6 149.6,148.6 C149.7,147.6 149.9,146.6 150.3,146.0 C150.7,145.3 151.4,144.7 151.9,144.7Z" fill="#ea984a" fill-opacity="0.065" stroke="#ea984a" stroke-width="0.45" stroke-opacity="1.00"/>
<path d="M151.9,145.4 C152.4,145.4 153.0,145.9 153.3,146.4 C153.7,147.0 154.0,147.9 154.1,148.7 C154.3,149.6 154.2,150.7 154.0,151.5 C153.9,152.3 153.5,153.1 153.2,153.6 C152.8,154.1 152.3,154.3 151.9,154.3 C151.5,154.3 151.0,154.1 150.6,153.6 C150.3,153.1 150.0,152.3 149.9,151.5 C149.7,150.7 149.7,149.6 149.9,148.7 C150.0,147.9 150.2,147.0 150.5,146.4 C150.9,145.9 151.4,145.4 151.9,145.4Z" fill="#e89240" fill-opacity="0.065" stroke="#e89240" stroke-width="0.45" stroke-opacity="1.00"/>
<path d="M151.9,146.0 C152.3,146.0 152.8,146.4 153.1,146.9 C153.4,147.4 153.7,148.1 153.8,148.8 C153.9,149.6 153.8,150.5 153.7,151.2 C153.6,151.9 153.3,152.6 153.0,153.0 C152.7,153.4 152.2,153.6 151.9,153.6 C151.5,153.6 151.1,153.4 150.8,153.0 C150.5,152.6 150.3,151.9 150.2,151.2 C150.0,150.5 150.1,149.6 150.2,148.8 C150.2,148.1 150.4,147.4 150.7,146.9 C151.0,146.4 151.5,146.0 151.9,146.0Z" fill="#e78c37" fill-opacity="0.065" stroke="#e78c37" stroke-width="0.45" stroke-opacity="1.00"/>
<path d="M151.9,146.6 C152.2,146.6 152.6,146.9 152.9,147.3 C153.1,147.7 153.4,148.4 153.5,149.0 C153.5,149.6 153.5,150.4 153.4,150.9 C153.3,151.5 153.0,152.0 152.8,152.4 C152.5,152.7 152.2,152.9 151.9,152.9 C151.6,152.9 151.2,152.7 151.0,152.4 C150.7,152.0 150.5,151.5 150.4,150.9 C150.3,150.4 150.4,149.6 150.4,149.0 C150.5,148.4 150.7,147.7 150.9,147.3 C151.1,146.9 151.5,146.6 151.9,146.6Z" fill="#e5862d" fill-opacity="0.065" stroke="#e5862d" stroke-width="0.45" stroke-opacity="1.00"/>
<path d="M151.9,147.2 C152.1,147.2 152.5,147.5 152.7,147.8 C152.9,148.1 153.1,148.6 153.1,149.1 C153.2,149.5 153.2,150.2 153.1,150.6 C153.0,151.1 152.8,151.5 152.6,151.8 C152.4,152.1 152.1,152.2 151.9,152.2 C151.6,152.2 151.3,152.1 151.1,151.8 C150.9,151.5 150.8,151.1 150.7,150.6 C150.6,150.2 150.6,149.5 150.7,149.1 C150.8,148.6 150.9,148.1 151.1,147.8 C151.3,147.5 151.6,147.2 151.9,147.2Z" fill="#e48024" fill-opacity="0.065" stroke="#e48024" stroke-width="0.45" stroke-opacity="1.00"/>
<path d="M151.8,147.7 C152.0,147.7 152.3,148.0 152.4,148.2 C152.6,148.4 152.7,148.8 152.8,149.2 C152.8,149.5 152.8,150.0 152.8,150.4 C152.7,150.7 152.5,151.0 152.4,151.2 C152.2,151.4 152.0,151.6 151.8,151.6 C151.7,151.6 151.4,151.4 151.3,151.2 C151.2,151.0 151.0,150.7 151.0,150.4 C150.9,150.0 150.9,149.5 151.0,149.2 C151.0,148.8 151.1,148.4 151.3,148.2 C151.4,148.0 151.6,147.7 151.8,147.7Z" fill="#e27a1a" fill-opacity="0.065" stroke="#e27a1a" stroke-width="0.45" stroke-opacity="1.00"/>
<path d="M151.8,148.3 C152.0,148.3 152.1,148.5 152.2,148.6 C152.4,148.8 152.4,149.0 152.5,149.3 C152.5,149.5 152.5,149.9 152.4,150.1 C152.4,150.3 152.3,150.5 152.2,150.7 C152.1,150.8 152.0,150.9 151.8,150.9 C151.7,150.9 151.6,150.8 151.5,150.7 C151.4,150.5 151.3,150.3 151.2,150.1 C151.2,149.9 151.2,149.5 151.2,149.3 C151.3,149.0 151.3,148.8 151.4,148.6 C151.5,148.5 151.7,148.3 151.8,148.3Z" fill="#e17411" fill-opacity="0.065" stroke="#e17411" stroke-width="0.45" stroke-opacity="1.00"/>
<path d="M151.8,148.9 C151.9,148.9 152.0,148.9 152.0,149.0 C152.1,149.1 152.1,149.2 152.2,149.4 C152.2,149.5 152.2,149.7 152.2,149.8 C152.1,149.9 152.1,150.1 152.0,150.1 C152.0,150.2 151.9,150.3 151.8,150.3 C151.7,150.3 151.7,150.2 151.6,150.1 C151.6,150.1 151.5,149.9 151.5,149.8 C151.5,149.7 151.5,149.5 151.5,149.4 C151.5,149.2 151.5,149.1 151.6,149.0 C151.7,148.9 151.7,148.9 151.8,148.9Z" fill="#e06e08" fill-opacity="0.065" stroke="#e06e08" stroke-width="0.45" stroke-opacity="1.00"/>
<path d="M151.7,146 L151.7,152.5" stroke="#fff" stroke-width="0.6" stroke-dasharray="0.8,0.6"/>
<path d="M173.7,148.2 C173.7,148.8 173.5,149.6 173.2,150.1 C172.8,150.6 172.3,151.2 171.7,151.5 C171.1,151.8 170.4,152.0 169.7,152.0 C169.0,152.0 168.3,151.8 167.7,151.5 C167.1,151.2 166.6,150.6 166.2,150.1 C165.9,149.6 165.7,148.8 165.7,148.2 C165.7,147.6 165.9,146.8 166.2,146.3 C166.6,145.8 167.1,145.2 167.7,144.9 C168.3,144.6 169.0,144.4 169.7,144.4 C170.4,144.4 171.1,144.6 171.7,144.9 C172.3,145.2 172.8,145.8 173.2,146.3 C173.5,146.8 173.7,147.6 173.7,148.2Z" fill="#eeb680" fill-opacity="0.015" stroke="#eeb680" stroke-width="0.45" stroke-opacity="1.00"/>
<path d="M172.9,148.2 C172.9,148.7 172.7,149.3 172.5,149.7 C172.2,150.2 171.8,150.6 171.3,150.8 C170.8,151.1 170.2,151.2 169.7,151.2 C169.2,151.2 168.6,151.1 168.1,150.8 C167.6,150.6 167.2,150.2 166.9,149.7 C166.7,149.3 166.5,148.7 166.5,148.2 C166.5,147.7 166.7,147.1 166.9,146.7 C167.2,146.2 167.6,145.8 168.1,145.6 C168.6,145.3 169.2,145.2 169.7,145.2 C170.2,145.2 170.8,145.3 171.3,145.6 C171.8,145.8 172.2,146.2 172.5,146.7 C172.7,147.1 172.9,147.7 172.9,148.2Z" fill="#ecad72" fill-opacity="0.015" stroke="#ecad72" stroke-width="0.45" stroke-opacity="1.00"/>
<path d="M172.1,148.2 C172.1,148.6 172.0,149.0 171.8,149.3 C171.6,149.7 171.2,150.0 170.9,150.2 C170.6,150.4 170.1,150.5 169.7,150.5 C169.3,150.5 168.8,150.4 168.5,150.2 C168.2,150.0 167.8,149.7 167.6,149.3 C167.4,149.0 167.3,148.6 167.3,148.2 C167.3,147.8 167.4,147.4 167.6,147.1 C167.8,146.7 168.2,146.4 168.5,146.2 C168.8,146.0 169.3,145.9 169.7,145.9 C170.1,145.9 170.6,146.0 170.9,146.2 C171.2,146.4 171.6,146.7 171.8,147.1 C172.0,147.4 172.1,147.8 172.1,148.2Z" fill="#eba564" fill-opacity="0.015" stroke="#eba564" stroke-width="0.45" stroke-opacity="1.00"/>
<path d="M171.3,148.2 C171.3,148.5 171.2,148.7 171.1,149.0 C171.0,149.2 170.7,149.4 170.5,149.5 C170.3,149.6 170.0,149.7 169.7,149.7 C169.4,149.7 169.1,149.6 168.9,149.5 C168.7,149.4 168.4,149.2 168.3,149.0 C168.2,148.7 168.1,148.5 168.1,148.2 C168.1,147.9 168.2,147.7 168.3,147.4 C168.4,147.2 168.7,147.0 168.9,146.9 C169.1,146.8 169.4,146.7 169.7,146.7 C170.0,146.7 170.3,146.8 170.5,146.9 C170.7,147.0 171.0,147.2 171.1,147.4 C171.2,147.7 171.3,147.9 171.3,148.2Z" fill="#e99c56" fill-opacity="0.015" stroke="#e99c56" stroke-width="0.45" stroke-opacity="1.00"/>
<path d="M170.5,148.2 C170.5,148.3 170.5,148.5 170.4,148.6 C170.3,148.7 170.2,148.8 170.1,148.9 C170.0,148.9 169.8,149.0 169.7,149.0 C169.6,149.0 169.4,148.9 169.3,148.9 C169.2,148.8 169.1,148.7 169.0,148.6 C168.9,148.5 168.9,148.3 168.9,148.2 C168.9,148.1 168.9,147.9 169.0,147.8 C169.1,147.7 169.2,147.6 169.3,147.5 C169.4,147.5 169.6,147.4 169.7,147.4 C169.8,147.4 170.0,147.5 170.1,147.5 C170.2,147.6 170.3,147.7 170.4,147.8 C170.5,147.9 170.5,148.1 170.5,148.2Z" fill="#e89448" fill-opacity="0.015" stroke="#e89448" stroke-width="0.45" stroke-opacity="1.00"/>
<path d="M164.0,166.0 C164.1,164.8 164.6,162.9 165.5,162.0 C166.4,161.1 168.2,160.7 169.5,160.7 C170.8,160.7 172.5,161.1 173.5,162.0 C174.5,162.9 175.2,164.8 175.3,166.0 C175.4,167.2 175.0,168.6 174.0,169.2 C173.0,169.8 171.0,169.6 169.5,169.6 C168.0,169.6 165.9,169.8 165.0,169.2 C164.1,168.6 163.9,167.2 164.0,166.0Z" fill="#f0b478" fill-opacity="0.050" stroke="#f0b478" stroke-width="0.45" stroke-opacity="1.00"/>
<path d="M164.6,165.9 C164.7,164.8 165.1,163.1 165.9,162.3 C166.8,161.5 168.3,161.2 169.5,161.2 C170.7,161.2 172.2,161.5 173.1,162.3 C173.9,163.1 174.6,164.8 174.6,165.9 C174.7,166.9 174.4,168.2 173.5,168.7 C172.6,169.2 170.8,169.1 169.5,169.1 C168.2,169.1 166.3,169.2 165.5,168.7 C164.7,168.2 164.5,166.9 164.6,165.9Z" fill="#eeac6b" fill-opacity="0.050" stroke="#eeac6b" stroke-width="0.45" stroke-opacity="1.00"/>
<path d="M165.2,165.7 C165.3,164.8 165.7,163.3 166.4,162.6 C167.1,161.9 168.5,161.6 169.5,161.6 C170.5,161.6 171.9,161.9 172.6,162.6 C173.3,163.3 173.9,164.8 174.0,165.7 C174.1,166.7 173.7,167.7 173.0,168.2 C172.2,168.7 170.7,168.5 169.5,168.5 C168.3,168.5 166.7,168.7 166.0,168.2 C165.3,167.7 165.2,166.7 165.2,165.7Z" fill="#eca55f" fill-opacity="0.050" stroke="#eca55f" stroke-width="0.45" stroke-opacity="1.00"/>
<path d="M165.9,165.6 C165.9,164.8 166.2,163.5 166.8,162.9 C167.5,162.4 168.6,162.1 169.5,162.1 C170.4,162.1 171.5,162.4 172.2,162.9 C172.8,163.5 173.3,164.8 173.3,165.6 C173.4,166.4 173.1,167.3 172.5,167.7 C171.8,168.1 170.5,168.0 169.5,168.0 C168.5,168.0 167.1,168.1 166.5,167.7 C165.9,167.3 165.8,166.4 165.9,165.6Z" fill="#ea9d52" fill-opacity="0.050" stroke="#ea9d52" stroke-width="0.45" stroke-opacity="1.00"/>
<path d="M166.5,165.5 C166.5,164.8 166.8,163.7 167.3,163.3 C167.8,162.8 168.8,162.5 169.5,162.5 C170.2,162.5 171.2,162.8 171.7,163.3 C172.2,163.7 172.6,164.8 172.7,165.5 C172.7,166.1 172.5,166.9 172.0,167.2 C171.4,167.6 170.3,167.4 169.5,167.4 C168.7,167.4 167.5,167.6 167.0,167.2 C166.5,166.9 166.4,166.1 166.5,165.5Z" fill="#e89646" fill-opacity="0.050" stroke="#e89646" stroke-width="0.45" stroke-opacity="1.00"/>
<path d="M167.1,165.3 C167.1,164.8 167.3,164.0 167.8,163.6 C168.2,163.2 168.9,163.0 169.5,163.0 C170.1,163.0 170.8,163.2 171.2,163.6 C171.7,164.0 172.0,164.8 172.0,165.3 C172.1,165.9 171.9,166.5 171.5,166.7 C171.0,167.0 170.2,166.9 169.5,166.9 C168.8,166.9 167.9,167.0 167.5,166.7 C167.1,166.5 167.1,165.9 167.1,165.3Z" fill="#e68e39" fill-opacity="0.050" stroke="#e68e39" stroke-width="0.45" stroke-opacity="1.00"/>
<path d="M167.7,165.2 C167.7,164.8 167.9,164.2 168.2,163.9 C168.5,163.6 169.1,163.5 169.5,163.5 C169.9,163.5 170.5,163.6 170.8,163.9 C171.1,164.2 171.4,164.8 171.4,165.2 C171.4,165.6 171.3,166.0 171.0,166.2 C170.6,166.4 170.0,166.4 169.5,166.4 C169.0,166.4 168.3,166.4 168.0,166.2 C167.7,166.0 167.7,165.6 167.7,165.2Z" fill="#e4872d" fill-opacity="0.050" stroke="#e4872d" stroke-width="0.45" stroke-opacity="1.00"/>
<path d="M168.3,165.1 C168.3,164.8 168.5,164.4 168.7,164.2 C168.8,164.0 169.2,163.9 169.5,163.9 C169.8,163.9 170.1,164.0 170.3,164.2 C170.6,164.4 170.7,164.8 170.7,165.1 C170.8,165.3 170.7,165.6 170.5,165.7 C170.3,165.9 169.8,165.8 169.5,165.8 C169.2,165.8 168.7,165.9 168.5,165.7 C168.3,165.6 168.3,165.3 168.3,165.1Z" fill="#e27f20" fill-opacity="0.050" stroke="#e27f20" stroke-width="0.45" stroke-opacity="1.00"/>
<path d="M168.9,164.9 C169.0,164.8 169.0,164.6 169.1,164.5 C169.2,164.4 169.4,164.4 169.5,164.4 C169.6,164.4 169.8,164.4 169.9,164.5 C170.0,164.6 170.1,164.8 170.1,164.9 C170.1,165.0 170.0,165.2 169.9,165.2 C169.9,165.3 169.7,165.3 169.5,165.3 C169.3,165.3 169.1,165.3 169.1,165.2 C169.0,165.2 168.9,165.0 168.9,164.9Z" fill="#e07814" fill-opacity="0.050" stroke="#e07814" stroke-width="0.45" stroke-opacity="1.00"/>
<path d="M173.7,181.6 C173.7,182.3 173.5,183.0 173.1,183.6 C172.8,184.2 172.2,184.7 171.6,185.1 C170.9,185.4 170.1,185.6 169.4,185.6 C168.7,185.6 167.9,185.4 167.2,185.1 C166.6,184.7 166.0,184.2 165.7,183.6 C165.3,183.0 165.1,182.3 165.1,181.6 C165.1,180.9 165.3,180.2 165.7,179.6 C166.0,179.0 166.6,178.5 167.2,178.1 C167.9,177.8 168.7,177.6 169.4,177.6 C170.1,177.6 170.9,177.8 171.6,178.1 C172.2,178.5 172.8,179.0 173.1,179.6 C173.5,180.2 173.7,180.9 173.7,181.6Z" fill="#f0b880" fill-opacity="0.025" stroke="#f0b880" stroke-width="0.45" stroke-opacity="1.00"/>
<path d="M173.0,181.7 C173.0,182.2 172.8,182.8 172.5,183.3 C172.2,183.8 171.7,184.3 171.2,184.5 C170.7,184.8 170.0,185.0 169.4,185.0 C168.8,185.0 168.1,184.8 167.6,184.5 C167.1,184.3 166.6,183.8 166.3,183.3 C166.0,182.8 165.8,182.2 165.8,181.7 C165.8,181.1 166.0,180.5 166.3,180.0 C166.6,179.5 167.1,179.1 167.6,178.8 C168.1,178.5 168.8,178.3 169.4,178.3 C170.0,178.3 170.7,178.5 171.2,178.8 C171.7,179.1 172.2,179.5 172.5,180.0 C172.8,180.5 173.0,181.1 173.0,181.7Z" fill="#eeae71" fill-opacity="0.025" stroke="#eeae71" stroke-width="0.45" stroke-opacity="1.00"/>
<path d="M172.2,181.7 C172.2,182.2 172.1,182.7 171.9,183.1 C171.6,183.4 171.2,183.8 170.8,184.0 C170.4,184.2 169.9,184.4 169.4,184.4 C168.9,184.4 168.4,184.2 168.0,184.0 C167.6,183.8 167.2,183.4 166.9,183.1 C166.7,182.7 166.6,182.2 166.6,181.7 C166.6,181.3 166.7,180.8 166.9,180.4 C167.2,180.0 167.6,179.7 168.0,179.4 C168.4,179.2 168.9,179.1 169.4,179.1 C169.9,179.1 170.4,179.2 170.8,179.4 C171.2,179.7 171.6,180.0 171.9,180.4 C172.1,180.8 172.2,181.3 172.2,181.7Z" fill="#eca563" fill-opacity="0.025" stroke="#eca563" stroke-width="0.45" stroke-opacity="1.00"/>
<path d="M171.5,181.8 C171.5,182.1 171.4,182.5 171.2,182.8 C171.0,183.1 170.8,183.3 170.5,183.5 C170.1,183.7 169.8,183.8 169.4,183.8 C169.0,183.8 168.7,183.7 168.3,183.5 C168.0,183.3 167.8,183.1 167.6,182.8 C167.4,182.5 167.3,182.1 167.3,181.8 C167.3,181.5 167.4,181.1 167.6,180.8 C167.8,180.5 168.0,180.3 168.3,180.1 C168.7,179.9 169.0,179.8 169.4,179.8 C169.8,179.8 170.1,179.9 170.5,180.1 C170.8,180.3 171.0,180.5 171.2,180.8 C171.4,181.1 171.5,181.5 171.5,181.8Z" fill="#eb9c54" fill-opacity="0.025" stroke="#eb9c54" stroke-width="0.45" stroke-opacity="1.00"/>
<path d="M170.8,181.9 C170.8,182.1 170.7,182.3 170.6,182.5 C170.5,182.7 170.3,182.9 170.1,183.0 C169.9,183.1 169.6,183.2 169.4,183.2 C169.2,183.2 168.9,183.1 168.7,183.0 C168.5,182.9 168.3,182.7 168.2,182.5 C168.1,182.3 168.0,182.1 168.0,181.9 C168.0,181.7 168.1,181.4 168.2,181.2 C168.3,181.0 168.5,180.9 168.7,180.8 C168.9,180.7 169.2,180.6 169.4,180.6 C169.6,180.6 169.9,180.7 170.1,180.8 C170.3,180.9 170.5,181.0 170.6,181.2 C170.7,181.4 170.8,181.7 170.8,181.9Z" fill="#e99346" fill-opacity="0.025" stroke="#e99346" stroke-width="0.45" stroke-opacity="1.00"/>
<path d="M170.0,181.9 C170.0,182.0 170.0,182.2 170.0,182.2 C169.9,182.3 169.8,182.4 169.7,182.5 C169.6,182.5 169.5,182.5 169.4,182.5 C169.3,182.5 169.2,182.5 169.1,182.5 C169.0,182.4 168.9,182.3 168.8,182.2 C168.8,182.2 168.8,182.0 168.8,181.9 C168.8,181.8 168.8,181.7 168.8,181.6 C168.9,181.6 169.0,181.5 169.1,181.4 C169.2,181.4 169.3,181.3 169.4,181.3 C169.5,181.3 169.6,181.4 169.7,181.4 C169.8,181.5 169.9,181.6 170.0,181.6 C170.0,181.7 170.0,181.8 170.0,181.9Z" fill="#e88a38" fill-opacity="0.025" stroke="#e88a38" stroke-width="0.45" stroke-opacity="1.00"/>
<text x="171.00" y="173.40" font-size="3.1" text-anchor="middle" fill="#222">CD4, CD8</text>
<text x="171.00" y="177.50" font-size="3.1" text-anchor="middle" fill="#222">50.1</text>
<rect x="132.2" y="175.5" width="1.6" height="3.2" fill="#111"/>
<rect x="150" y="193.2" width="2.6" height="1.6" fill="#111"/>
<line x1="129.60" y1="196.30" x2="101.53" y2="228.67" stroke="#111" stroke-width="1.4"/>
<polygon points="97.60,233.20 99.83,224.15 101.29,228.95 106.25,229.71" fill="#111"/>
<line x1="167.30" y1="209.50" x2="167.30" y2="226.60" stroke="#111" stroke-width="1.4"/>
<polygon points="167.30,232.60 163.05,224.30 167.30,226.97 171.55,224.30" fill="#111"/>
<line x1="115.50" y1="159.20" x2="97.60" y2="159.20" stroke="#111" stroke-width="1.4"/>
<polygon points="91.60,159.20 99.90,154.95 97.22,159.20 99.90,163.45" fill="#111"/>
<rect x="20.10" y="124.70" width="68.70" height="68.40" fill="none" stroke="#b0b0b0" stroke-width="0.9"/>
<line x1="20.10" y1="124.70" x2="20.10" y2="194.30" stroke="#333" stroke-width="0.8"/>
<line x1="18.90" y1="193.10" x2="88.80" y2="193.10" stroke="#333" stroke-width="0.8"/>
<line x1="18.50" y1="185.40" x2="20.10" y2="185.40" stroke="#333" stroke-width="0.7"/>
<text x="17.80" y="186.60" font-size="3.4" text-anchor="end" fill="#444">-10<tspan dy="-1.4" font-size="2.6">3</tspan></text>
<line x1="18.50" y1="174.50" x2="20.10" y2="174.50" stroke="#333" stroke-width="0.7"/>
<text x="17.80" y="175.70" font-size="3.4" text-anchor="end" fill="#444">0</text>
<line x1="18.50" y1="164.00" x2="20.10" y2="164.00" stroke="#333" stroke-width="0.7"/>
<text x="17.80" y="165.20" font-size="3.4" text-anchor="end" fill="#444">10<tspan dy="-1.4" font-size="2.6">3</tspan></text>
<line x1="18.50" y1="153.90" x2="20.10" y2="153.90" stroke="#333" stroke-width="0.7"/>
<text x="17.80" y="155.10" font-size="3.4" text-anchor="end" fill="#444">10<tspan dy="-1.4" font-size="2.6">4</tspan></text>
<line x1="18.50" y1="143.70" x2="20.10" y2="143.70" stroke="#333" stroke-width="0.7"/>
<text x="17.80" y="144.90" font-size="3.4" text-anchor="end" fill="#444">10<tspan dy="-1.4" font-size="2.6">5</tspan></text>
<line x1="18.50" y1="133.50" x2="20.10" y2="133.50" stroke="#333" stroke-width="0.7"/>
<text x="17.80" y="134.70" font-size="3.4" text-anchor="end" fill="#444">10<tspan dy="-1.4" font-size="2.6">6</tspan></text>
<line x1="19.20" y1="183.22" x2="20.10" y2="183.22" stroke="#666" stroke-width="0.5"/>
<line x1="19.20" y1="181.04" x2="20.10" y2="181.04" stroke="#666" stroke-width="0.5"/>
<line x1="19.20" y1="178.86" x2="20.10" y2="178.86" stroke="#666" stroke-width="0.5"/>
<line x1="19.20" y1="176.68" x2="20.10" y2="176.68" stroke="#666" stroke-width="0.5"/>
<line x1="19.20" y1="172.40" x2="20.10" y2="172.40" stroke="#666" stroke-width="0.5"/>
<line x1="19.20" y1="170.30" x2="20.10" y2="170.30" stroke="#666" stroke-width="0.5"/>
<line x1="19.20" y1="168.20" x2="20.10" y2="168.20" stroke="#666" stroke-width="0.5"/>
<line x1="19.20" y1="166.10" x2="20.10" y2="166.10" stroke="#666" stroke-width="0.5"/>
<line x1="19.20" y1="161.98" x2="20.10" y2="161.98" stroke="#666" stroke-width="0.5"/>
<line x1="19.20" y1="159.96" x2="20.10" y2="159.96" stroke="#666" stroke-width="0.5"/>
<line x1="19.20" y1="157.94" x2="20.10" y2="157.94" stroke="#666" stroke-width="0.5"/>
<line x1="19.20" y1="155.92" x2="20.10" y2="155.92" stroke="#666" stroke-width="0.5"/>
<line x1="19.20" y1="151.86" x2="20.10" y2="151.86" stroke="#666" stroke-width="0.5"/>
<line x1="19.20" y1="149.82" x2="20.10" y2="149.82" stroke="#666" stroke-width="0.5"/>
<line x1="19.20" y1="147.78" x2="20.10" y2="147.78" stroke="#666" stroke-width="0.5"/>
<line x1="19.20" y1="145.74" x2="20.10" y2="145.74" stroke="#666" stroke-width="0.5"/>
<line x1="19.20" y1="141.66" x2="20.10" y2="141.66" stroke="#666" stroke-width="0.5"/>
<line x1="19.20" y1="139.62" x2="20.10" y2="139.62" stroke="#666" stroke-width="0.5"/>
<line x1="19.20" y1="137.58" x2="20.10" y2="137.58" stroke="#666" stroke-width="0.5"/>
<line x1="19.20" y1="135.54" x2="20.10" y2="135.54" stroke="#666" stroke-width="0.5"/>
<line x1="23.50" y1="193.10" x2="23.50" y2="194.70" stroke="#333" stroke-width="0.7"/>
<text x="23.50" y="200.70" font-size="3.4" text-anchor="middle" fill="#444">-10<tspan dy="-1.4" font-size="2.6">4</tspan></text>
<line x1="45.00" y1="193.10" x2="45.00" y2="194.70" stroke="#333" stroke-width="0.7"/>
<text x="45.00" y="200.70" font-size="3.4" text-anchor="middle" fill="#444">0</text>
<line x1="72.50" y1="193.10" x2="72.50" y2="194.70" stroke="#333" stroke-width="0.7"/>
<text x="72.50" y="200.70" font-size="3.4" text-anchor="middle" fill="#444">10<tspan dy="-1.4" font-size="2.6">4</tspan></text>
<line x1="84.50" y1="193.10" x2="84.50" y2="194.70" stroke="#333" stroke-width="0.7"/>
<text x="84.50" y="200.70" font-size="3.4" text-anchor="middle" fill="#444">10<tspan dy="-1.4" font-size="2.6">5</tspan></text>
<line x1="27.80" y1="193.10" x2="27.80" y2="194.00" stroke="#666" stroke-width="0.5"/>
<line x1="32.10" y1="193.10" x2="32.10" y2="194.00" stroke="#666" stroke-width="0.5"/>
<line x1="36.40" y1="193.10" x2="36.40" y2="194.00" stroke="#666" stroke-width="0.5"/>
<line x1="40.70" y1="193.10" x2="40.70" y2="194.00" stroke="#666" stroke-width="0.5"/>
<line x1="50.50" y1="193.10" x2="50.50" y2="194.00" stroke="#666" stroke-width="0.5"/>
<line x1="56.00" y1="193.10" x2="56.00" y2="194.00" stroke="#666" stroke-width="0.5"/>
<line x1="61.50" y1="193.10" x2="61.50" y2="194.00" stroke="#666" stroke-width="0.5"/>
<line x1="67.00" y1="193.10" x2="67.00" y2="194.00" stroke="#666" stroke-width="0.5"/>
<line x1="74.90" y1="193.10" x2="74.90" y2="194.00" stroke="#666" stroke-width="0.5"/>
<line x1="77.30" y1="193.10" x2="77.30" y2="194.00" stroke="#666" stroke-width="0.5"/>
<line x1="79.70" y1="193.10" x2="79.70" y2="194.00" stroke="#666" stroke-width="0.5"/>
<line x1="82.10" y1="193.10" x2="82.10" y2="194.00" stroke="#666" stroke-width="0.5"/>
<text x="54.45" y="207.70" font-size="3.7" text-anchor="middle" fill="#3a3a3a">Comp-APC-Cy7-A :: CD25</text>
<text x="4.10" y="158.90" font-size="3.7" text-anchor="middle" fill="#3a3a3a" transform="rotate(-90 4.1 158.9)">Comp-BV510-A :: CD4</text>
<line x1="51.60" y1="124.70" x2="51.60" y2="193.10" stroke="#6a6a6a" stroke-width="0.8"/>
<line x1="20.10" y1="162.10" x2="88.80" y2="162.10" stroke="#6a6a6a" stroke-width="0.8"/>
<text x="21.70" y="130.30" font-size="3.2" text-anchor="start" fill="#333">Q5</text>
<text x="21.70" y="134.70" font-size="3.2" text-anchor="start" fill="#333">96.9</text>
<text x="82.60" y="130.30" font-size="3.2" text-anchor="end" fill="#333">Q6</text>
<text x="82.60" y="134.70" font-size="3.2" text-anchor="end" fill="#333">0.61</text>
<text x="21.70" y="185.30" font-size="3.2" text-anchor="start" fill="#333">Q8</text>
<text x="21.70" y="190.10" font-size="3.2" text-anchor="start" fill="#333">1.81</text>
<text x="82.60" y="185.30" font-size="3.2" text-anchor="end" fill="#333">Q7</text>
<text x="82.60" y="190.10" font-size="3.2" text-anchor="end" fill="#333">0.40</text>
<path d="M37.1,156.5 C36.9,155.3 37.7,153.9 38.5,153.0 C39.3,152.1 40.6,151.6 42.0,151.3 C43.4,151.1 45.3,151.3 47.0,151.5 C48.7,151.7 50.6,152.0 52.0,152.5 C53.4,153.0 54.8,153.8 55.5,154.5 C56.2,155.2 56.4,155.8 56.2,156.5 C56.0,157.2 55.5,158.3 54.5,159.0 C53.5,159.7 51.8,160.2 50.0,160.5 C48.2,160.8 45.8,161.2 44.0,161.1 C42.2,161.0 40.6,160.8 39.5,160.0 C38.4,159.2 37.3,157.7 37.1,156.5Z" fill="#f0aee0" fill-opacity="0.035" stroke="#f0aee0" stroke-width="0.45" stroke-opacity="1.00"/>
<path d="M37.8,156.5 C37.7,155.5 38.4,154.1 39.1,153.4 C39.8,152.6 41.0,152.1 42.2,151.8 C43.5,151.6 45.2,151.8 46.8,152.0 C48.2,152.2 50.0,152.5 51.2,152.9 C52.5,153.4 53.8,154.1 54.4,154.7 C55.0,155.3 55.2,155.8 55.0,156.5 C54.9,157.2 54.4,158.2 53.5,158.8 C52.6,159.4 51.0,159.8 49.5,160.1 C47.9,160.4 45.6,160.7 44.0,160.7 C42.5,160.6 41.0,160.3 40.0,159.7 C39.0,159.0 38.0,157.6 37.8,156.5Z" fill="#eea4dc" fill-opacity="0.035" stroke="#eea4dc" stroke-width="0.45" stroke-opacity="1.00"/>
<path d="M38.6,156.5 C38.4,155.6 39.0,154.4 39.7,153.7 C40.4,153.0 41.4,152.6 42.5,152.4 C43.6,152.2 45.2,152.4 46.5,152.5 C47.8,152.7 49.4,152.9 50.5,153.3 C51.6,153.7 52.7,154.4 53.3,154.9 C53.9,155.5 54.0,155.9 53.9,156.5 C53.7,157.1 53.3,158.0 52.5,158.5 C51.7,159.1 50.3,159.4 48.9,159.7 C47.5,160.0 45.5,160.3 44.1,160.2 C42.7,160.1 41.4,159.9 40.5,159.3 C39.6,158.7 38.7,157.5 38.6,156.5Z" fill="#ec9bd8" fill-opacity="0.035" stroke="#ec9bd8" stroke-width="0.45" stroke-opacity="1.00"/>
<path d="M39.3,156.5 C39.2,155.7 39.7,154.7 40.3,154.1 C40.9,153.5 41.8,153.1 42.8,152.9 C43.7,152.7 45.1,152.9 46.2,153.0 C47.4,153.2 48.8,153.4 49.8,153.7 C50.7,154.1 51.7,154.7 52.2,155.1 C52.7,155.6 52.8,156.0 52.7,156.5 C52.6,157.1 52.2,157.8 51.5,158.3 C50.8,158.7 49.6,159.1 48.4,159.3 C47.1,159.6 45.4,159.8 44.1,159.8 C42.9,159.7 41.8,159.5 41.0,159.0 C40.2,158.4 39.4,157.3 39.3,156.5Z" fill="#ea92d5" fill-opacity="0.035" stroke="#ea92d5" stroke-width="0.45" stroke-opacity="1.00"/>
<path d="M40.1,156.5 C40.0,155.8 40.4,155.0 40.9,154.4 C41.4,153.9 42.1,153.6 43.0,153.4 C43.9,153.3 45.0,153.4 46.0,153.5 C47.0,153.7 48.1,153.8 49.0,154.1 C49.9,154.4 50.7,154.9 51.1,155.3 C51.5,155.7 51.6,156.1 51.5,156.5 C51.4,157.0 51.1,157.6 50.5,158.0 C49.9,158.4 48.8,158.7 47.8,158.9 C46.8,159.2 45.2,159.3 44.2,159.3 C43.2,159.2 42.2,159.1 41.5,158.6 C40.8,158.2 40.2,157.2 40.1,156.5Z" fill="#e889d1" fill-opacity="0.035" stroke="#e889d1" stroke-width="0.45" stroke-opacity="1.00"/>
<path d="M40.8,156.6 C40.7,156.0 41.1,155.2 41.5,154.8 C41.9,154.4 42.5,154.1 43.2,153.9 C44.0,153.8 44.9,154.0 45.8,154.1 C46.6,154.2 47.5,154.3 48.2,154.6 C49.0,154.8 49.6,155.2 50.0,155.6 C50.4,155.9 50.4,156.2 50.4,156.6 C50.3,156.9 50.0,157.5 49.5,157.8 C49.0,158.1 48.1,158.4 47.2,158.6 C46.4,158.7 45.1,158.9 44.2,158.8 C43.4,158.8 42.6,158.7 42.0,158.3 C41.4,157.9 40.9,157.1 40.8,156.6Z" fill="#e780ce" fill-opacity="0.035" stroke="#e780ce" stroke-width="0.45" stroke-opacity="1.00"/>
<path d="M41.5,156.6 C41.5,156.1 41.8,155.5 42.1,155.2 C42.4,154.8 42.9,154.6 43.5,154.5 C44.1,154.4 44.8,154.5 45.5,154.6 C46.2,154.6 46.9,154.8 47.5,155.0 C48.1,155.2 48.6,155.5 48.9,155.8 C49.2,156.0 49.2,156.3 49.2,156.6 C49.1,156.9 48.9,157.3 48.5,157.6 C48.1,157.8 47.4,158.0 46.7,158.2 C46.0,158.3 45.0,158.4 44.3,158.4 C43.6,158.4 43.0,158.3 42.5,158.0 C42.0,157.7 41.6,157.0 41.5,156.6Z" fill="#e577ca" fill-opacity="0.035" stroke="#e577ca" stroke-width="0.45" stroke-opacity="1.00"/>
<path d="M42.3,156.6 C42.2,156.2 42.5,155.8 42.7,155.5 C42.9,155.3 43.3,155.1 43.8,155.0 C44.2,154.9 44.8,155.0 45.2,155.1 C45.8,155.1 46.3,155.2 46.8,155.4 C47.2,155.5 47.6,155.8 47.8,156.0 C48.0,156.2 48.1,156.3 48.0,156.6 C48.0,156.8 47.8,157.1 47.5,157.3 C47.2,157.5 46.7,157.7 46.1,157.8 C45.6,157.9 44.9,158.0 44.4,157.9 C43.8,157.9 43.3,157.8 43.0,157.6 C42.7,157.4 42.3,156.9 42.3,156.6Z" fill="#e36ec7" fill-opacity="0.035" stroke="#e36ec7" stroke-width="0.45" stroke-opacity="1.00"/>
<path d="M43.0,156.6 C43.0,156.3 43.1,156.1 43.3,155.9 C43.5,155.7 43.7,155.6 44.0,155.5 C44.3,155.5 44.7,155.5 45.0,155.6 C45.3,155.6 45.7,155.7 46.0,155.8 C46.3,155.9 46.6,156.0 46.7,156.2 C46.8,156.3 46.9,156.4 46.8,156.6 C46.8,156.7 46.7,156.9 46.5,157.1 C46.3,157.2 46.0,157.3 45.6,157.4 C45.2,157.4 44.8,157.5 44.4,157.5 C44.0,157.5 43.7,157.4 43.5,157.3 C43.3,157.1 43.1,156.8 43.0,156.6Z" fill="#e165c3" fill-opacity="0.035" stroke="#e165c3" stroke-width="0.45" stroke-opacity="1.00"/>
<path d="M43.8,156.6 C43.7,156.5 43.8,156.3 43.9,156.2 C44.0,156.2 44.1,156.1 44.2,156.1 C44.4,156.0 44.6,156.1 44.8,156.1 C44.9,156.1 45.1,156.1 45.2,156.2 C45.4,156.2 45.5,156.3 45.6,156.4 C45.7,156.5 45.7,156.5 45.7,156.6 C45.7,156.7 45.6,156.8 45.5,156.8 C45.4,156.9 45.2,157.0 45.0,157.0 C44.9,157.0 44.6,157.1 44.5,157.0 C44.3,157.0 44.1,157.0 44.0,156.9 C43.9,156.9 43.8,156.7 43.8,156.6Z" fill="#e05cc0" fill-opacity="0.035" stroke="#e05cc0" stroke-width="0.45" stroke-opacity="1.00"/>
<rect x="18.8" y="173" width="1.5" height="3" fill="#111"/>
<rect x="44" y="192.4" width="2.4" height="1.6" fill="#111"/>
<rect x="23.30" y="240.00" width="68.50" height="69.30" fill="none" stroke="#b0b0b0" stroke-width="0.9"/>
<line x1="23.30" y1="240.00" x2="23.30" y2="310.50" stroke="#333" stroke-width="0.8"/>
<line x1="22.10" y1="309.30" x2="91.80" y2="309.30" stroke="#333" stroke-width="0.8"/>
<line x1="21.70" y1="299.60" x2="23.30" y2="299.60" stroke="#333" stroke-width="0.7"/>
<text x="21.00" y="300.80" font-size="3.4" text-anchor="end" fill="#444">-10<tspan dy="-1.4" font-size="2.6">3</tspan></text>
<line x1="21.70" y1="289.30" x2="23.30" y2="289.30" stroke="#333" stroke-width="0.7"/>
<text x="21.00" y="290.50" font-size="3.4" text-anchor="end" fill="#444">0</text>
<line x1="21.70" y1="279.10" x2="23.30" y2="279.10" stroke="#333" stroke-width="0.7"/>
<text x="21.00" y="280.30" font-size="3.4" text-anchor="end" fill="#444">10<tspan dy="-1.4" font-size="2.6">3</tspan></text>
<line x1="21.70" y1="268.80" x2="23.30" y2="268.80" stroke="#333" stroke-width="0.7"/>
<text x="21.00" y="270.00" font-size="3.4" text-anchor="end" fill="#444">10<tspan dy="-1.4" font-size="2.6">4</tspan></text>
<line x1="21.70" y1="258.50" x2="23.30" y2="258.50" stroke="#333" stroke-width="0.7"/>
<text x="21.00" y="259.70" font-size="3.4" text-anchor="end" fill="#444">10<tspan dy="-1.4" font-size="2.6">5</tspan></text>
<line x1="21.70" y1="248.20" x2="23.30" y2="248.20" stroke="#333" stroke-width="0.7"/>
<text x="21.00" y="249.40" font-size="3.4" text-anchor="end" fill="#444">10<tspan dy="-1.4" font-size="2.6">6</tspan></text>
<line x1="22.40" y1="297.54" x2="23.30" y2="297.54" stroke="#666" stroke-width="0.5"/>
<line x1="22.40" y1="295.48" x2="23.30" y2="295.48" stroke="#666" stroke-width="0.5"/>
<line x1="22.40" y1="293.42" x2="23.30" y2="293.42" stroke="#666" stroke-width="0.5"/>
<line x1="22.40" y1="291.36" x2="23.30" y2="291.36" stroke="#666" stroke-width="0.5"/>
<line x1="22.40" y1="287.26" x2="23.30" y2="287.26" stroke="#666" stroke-width="0.5"/>
<line x1="22.40" y1="285.22" x2="23.30" y2="285.22" stroke="#666" stroke-width="0.5"/>
<line x1="22.40" y1="283.18" x2="23.30" y2="283.18" stroke="#666" stroke-width="0.5"/>
<line x1="22.40" y1="281.14" x2="23.30" y2="281.14" stroke="#666" stroke-width="0.5"/>
<line x1="22.40" y1="277.04" x2="23.30" y2="277.04" stroke="#666" stroke-width="0.5"/>
<line x1="22.40" y1="274.98" x2="23.30" y2="274.98" stroke="#666" stroke-width="0.5"/>
<line x1="22.40" y1="272.92" x2="23.30" y2="272.92" stroke="#666" stroke-width="0.5"/>
<line x1="22.40" y1="270.86" x2="23.30" y2="270.86" stroke="#666" stroke-width="0.5"/>
<line x1="22.40" y1="266.74" x2="23.30" y2="266.74" stroke="#666" stroke-width="0.5"/>
<line x1="22.40" y1="264.68" x2="23.30" y2="264.68" stroke="#666" stroke-width="0.5"/>
<line x1="22.40" y1="262.62" x2="23.30" y2="262.62" stroke="#666" stroke-width="0.5"/>
<line x1="22.40" y1="260.56" x2="23.30" y2="260.56" stroke="#666" stroke-width="0.5"/>
<line x1="22.40" y1="256.44" x2="23.30" y2="256.44" stroke="#666" stroke-width="0.5"/>
<line x1="22.40" y1="254.38" x2="23.30" y2="254.38" stroke="#666" stroke-width="0.5"/>
<line x1="22.40" y1="252.32" x2="23.30" y2="252.32" stroke="#666" stroke-width="0.5"/>
<line x1="22.40" y1="250.26" x2="23.30" y2="250.26" stroke="#666" stroke-width="0.5"/>
<line x1="27.00" y1="309.30" x2="27.00" y2="310.90" stroke="#333" stroke-width="0.7"/>
<text x="27.00" y="316.90" font-size="3.4" text-anchor="middle" fill="#444">-10<tspan dy="-1.4" font-size="2.6">4</tspan></text>
<line x1="50.00" y1="309.30" x2="50.00" y2="310.90" stroke="#333" stroke-width="0.7"/>
<text x="50.00" y="316.90" font-size="3.4" text-anchor="middle" fill="#444">0</text>
<line x1="75.00" y1="309.30" x2="75.00" y2="310.90" stroke="#333" stroke-width="0.7"/>
<text x="75.00" y="316.90" font-size="3.4" text-anchor="middle" fill="#444">10<tspan dy="-1.4" font-size="2.6">4</tspan></text>
<line x1="89.00" y1="309.30" x2="89.00" y2="310.90" stroke="#333" stroke-width="0.7"/>
<text x="89.00" y="316.90" font-size="3.4" text-anchor="middle" fill="#444">10<tspan dy="-1.4" font-size="2.6">5</tspan></text>
<line x1="31.60" y1="309.30" x2="31.60" y2="310.20" stroke="#666" stroke-width="0.5"/>
<line x1="36.20" y1="309.30" x2="36.20" y2="310.20" stroke="#666" stroke-width="0.5"/>
<line x1="40.80" y1="309.30" x2="40.80" y2="310.20" stroke="#666" stroke-width="0.5"/>
<line x1="45.40" y1="309.30" x2="45.40" y2="310.20" stroke="#666" stroke-width="0.5"/>
<line x1="55.00" y1="309.30" x2="55.00" y2="310.20" stroke="#666" stroke-width="0.5"/>
<line x1="60.00" y1="309.30" x2="60.00" y2="310.20" stroke="#666" stroke-width="0.5"/>
<line x1="65.00" y1="309.30" x2="65.00" y2="310.20" stroke="#666" stroke-width="0.5"/>
<line x1="70.00" y1="309.30" x2="70.00" y2="310.20" stroke="#666" stroke-width="0.5"/>
<line x1="77.80" y1="309.30" x2="77.80" y2="310.20" stroke="#666" stroke-width="0.5"/>
<line x1="80.60" y1="309.30" x2="80.60" y2="310.20" stroke="#666" stroke-width="0.5"/>
<line x1="83.40" y1="309.30" x2="83.40" y2="310.20" stroke="#666" stroke-width="0.5"/>
<line x1="86.20" y1="309.30" x2="86.20" y2="310.20" stroke="#666" stroke-width="0.5"/>
<text x="57.55" y="323.90" font-size="3.7" text-anchor="middle" fill="#3a3a3a">Comp-APC-R700-A :: CD62L</text>
<text x="8.10" y="274.65" font-size="3.7" text-anchor="middle" fill="#3a3a3a" transform="rotate(-90 8.1 274.65)">Comp-BV510-A :: CD4</text>
<line x1="59.50" y1="240.00" x2="59.50" y2="309.30" stroke="#6a6a6a" stroke-width="0.8"/>
<line x1="23.30" y1="278.40" x2="91.80" y2="278.40" stroke="#6a6a6a" stroke-width="0.8"/>
<text x="24.90" y="245.60" font-size="3.2" text-anchor="start" fill="#333">Q9</text>
<text x="24.90" y="250.00" font-size="3.2" text-anchor="start" fill="#333">58.4</text>
<text x="85.60" y="245.60" font-size="3.2" text-anchor="end" fill="#333">Q10</text>
<text x="85.60" y="250.00" font-size="3.2" text-anchor="end" fill="#333">39.6</text>
<text x="24.90" y="301.50" font-size="3.2" text-anchor="start" fill="#333">Q12</text>
<text x="24.90" y="306.30" font-size="3.2" text-anchor="start" fill="#333">1.20</text>
<text x="85.60" y="301.50" font-size="3.2" text-anchor="end" fill="#333">Q11</text>
<text x="85.60" y="306.30" font-size="3.2" text-anchor="end" fill="#333">0.03</text>
<path d="M43.2,272.0 C43.1,270.9 43.7,269.7 44.5,269.0 C45.3,268.3 46.6,267.9 48.0,267.7 C49.4,267.5 51.5,267.5 53.0,267.6 C54.5,267.7 55.9,268.2 57.0,268.5 C58.1,268.8 58.5,269.3 59.5,269.4 C60.5,269.4 61.6,269.1 63.0,268.8 C64.4,268.5 66.5,267.8 68.0,267.5 C69.5,267.2 70.9,267.0 72.0,266.8 C73.1,266.6 73.8,266.0 74.5,266.2 C75.2,266.4 75.8,267.1 76.0,268.0 C76.2,268.9 76.3,270.3 76.0,271.5 C75.7,272.7 75.2,274.1 74.0,275.0 C72.8,275.9 70.8,276.5 69.0,276.7 C67.2,276.9 64.6,276.2 63.0,276.0 C61.4,275.8 60.8,275.4 59.5,275.5 C58.2,275.6 56.8,276.3 55.0,276.5 C53.2,276.7 50.7,276.9 49.0,276.7 C47.3,276.5 46.0,276.3 45.0,275.5 C44.0,274.7 43.3,273.1 43.2,272.0Z" fill="#d8b8f8" fill-opacity="0.030" stroke="#d8b8f8" stroke-width="0.45" stroke-opacity="0.98"/>
<path d="M45.2,272.0 C45.2,271.1 45.7,270.0 46.4,269.4 C47.1,268.7 48.2,268.4 49.4,268.2 C50.7,268.0 52.5,268.0 53.8,268.2 C55.1,268.3 56.4,268.7 57.3,268.9 C58.3,269.2 58.6,269.7 59.5,269.7 C60.4,269.8 61.3,269.5 62.6,269.2 C63.8,268.9 65.6,268.4 66.9,268.1 C68.2,267.8 69.5,267.6 70.4,267.4 C71.4,267.3 72.0,266.8 72.6,266.9 C73.2,267.1 73.7,267.7 73.9,268.5 C74.2,269.3 74.2,270.5 73.9,271.6 C73.6,272.6 73.2,273.9 72.2,274.6 C71.2,275.4 69.4,276.0 67.8,276.1 C66.2,276.3 63.9,275.7 62.6,275.5 C61.2,275.3 60.7,275.0 59.5,275.1 C58.3,275.1 57.1,275.8 55.6,275.9 C54.0,276.1 51.8,276.3 50.3,276.1 C48.9,276.0 47.7,275.7 46.8,275.1 C46.0,274.4 45.3,272.9 45.2,272.0Z" fill="#cca4f6" fill-opacity="0.030" stroke="#cca4f6" stroke-width="0.45" stroke-opacity="0.98"/>
<path d="M47.3,272.0 C47.2,271.2 47.6,270.3 48.2,269.8 C48.9,269.2 49.8,268.9 50.9,268.8 C51.9,268.6 53.5,268.6 54.6,268.7 C55.8,268.8 56.8,269.2 57.6,269.4 C58.4,269.6 58.8,270.0 59.5,270.0 C60.2,270.1 61.1,269.8 62.1,269.6 C63.2,269.4 64.8,268.9 65.9,268.6 C67.0,268.4 68.1,268.3 68.9,268.1 C69.7,267.9 70.2,267.5 70.8,267.6 C71.2,267.8 71.7,268.3 71.9,269.0 C72.1,269.7 72.1,270.8 71.9,271.6 C71.6,272.5 71.2,273.6 70.4,274.2 C69.5,274.9 68.0,275.4 66.6,275.5 C65.2,275.6 63.3,275.1 62.1,275.0 C60.9,274.9 60.5,274.6 59.5,274.6 C58.5,274.7 57.4,275.2 56.1,275.4 C54.8,275.5 52.9,275.6 51.6,275.5 C50.4,275.4 49.4,275.2 48.6,274.6 C47.9,274.0 47.3,272.8 47.3,272.0Z" fill="#c090f4" fill-opacity="0.030" stroke="#c090f4" stroke-width="0.45" stroke-opacity="0.98"/>
<path d="M44.0,272.0 C44.0,271.0 44.5,269.6 45.5,269.0 C46.5,268.4 48.4,268.3 50.0,268.2 C51.6,268.1 53.6,268.2 55.0,268.5 C56.4,268.8 57.9,269.0 58.5,270.0 C59.1,271.0 59.1,273.5 58.5,274.5 C57.9,275.5 56.6,275.7 55.0,276.0 C53.4,276.3 50.6,276.4 49.0,276.2 C47.4,276.0 46.3,275.7 45.5,275.0 C44.7,274.3 44.0,273.0 44.0,272.0Z" fill="#c09af4" fill-opacity="0.040" stroke="#c09af4" stroke-width="0.45" stroke-opacity="1.00"/>
<path d="M44.9,272.0 C44.9,271.2 45.3,270.0 46.2,269.4 C47.1,268.9 48.7,268.8 50.1,268.7 C51.5,268.7 53.3,268.7 54.5,269.0 C55.7,269.2 57.0,269.4 57.5,270.3 C58.0,271.2 58.0,273.3 57.5,274.2 C57.0,275.1 55.9,275.3 54.5,275.5 C53.1,275.8 50.6,275.8 49.3,275.7 C47.9,275.6 46.9,275.3 46.2,274.7 C45.5,274.0 44.9,272.9 44.9,272.0Z" fill="#ba8df3" fill-opacity="0.040" stroke="#ba8df3" stroke-width="0.45" stroke-opacity="1.00"/>
<path d="M45.8,272.1 C45.8,271.3 46.2,270.3 46.9,269.8 C47.7,269.4 49.1,269.3 50.3,269.3 C51.4,269.2 52.9,269.3 54.0,269.5 C55.0,269.7 56.1,269.8 56.6,270.6 C57.0,271.3 57.0,273.2 56.6,273.9 C56.1,274.7 55.1,274.8 54.0,275.0 C52.8,275.3 50.7,275.3 49.5,275.2 C48.3,275.1 47.5,274.8 46.9,274.3 C46.3,273.8 45.8,272.8 45.8,272.1Z" fill="#b580f2" fill-opacity="0.040" stroke="#b580f2" stroke-width="0.45" stroke-opacity="1.00"/>
<path d="M46.7,272.1 C46.7,271.5 47.0,270.7 47.6,270.3 C48.2,269.9 49.4,269.8 50.4,269.8 C51.4,269.7 52.6,269.8 53.5,270.0 C54.3,270.1 55.2,270.3 55.6,270.9 C56.0,271.5 56.0,273.0 55.6,273.7 C55.2,274.3 54.4,274.4 53.5,274.6 C52.5,274.7 50.7,274.8 49.8,274.7 C48.8,274.6 48.1,274.4 47.6,274.0 C47.1,273.5 46.7,272.7 46.7,272.1Z" fill="#af73f1" fill-opacity="0.040" stroke="#af73f1" stroke-width="0.45" stroke-opacity="1.00"/>
<path d="M47.6,272.2 C47.6,271.7 47.8,271.0 48.3,270.7 C48.8,270.4 49.7,270.3 50.5,270.3 C51.3,270.3 52.3,270.3 52.9,270.5 C53.6,270.6 54.4,270.7 54.6,271.2 C54.9,271.7 54.9,272.9 54.6,273.4 C54.4,273.9 53.7,274.0 52.9,274.1 C52.2,274.2 50.8,274.3 50.0,274.2 C49.3,274.1 48.7,274.0 48.3,273.6 C47.9,273.3 47.6,272.6 47.6,272.2Z" fill="#aa66f0" fill-opacity="0.040" stroke="#aa66f0" stroke-width="0.45" stroke-opacity="1.00"/>
<path d="M48.5,272.2 C48.5,271.8 48.7,271.3 49.0,271.1 C49.4,270.9 50.1,270.9 50.6,270.8 C51.2,270.8 51.9,270.8 52.4,270.9 C52.9,271.1 53.5,271.1 53.7,271.5 C53.9,271.8 53.9,272.7 53.7,273.1 C53.5,273.4 53.0,273.5 52.4,273.6 C51.9,273.7 50.9,273.8 50.3,273.7 C49.7,273.6 49.3,273.5 49.0,273.3 C48.7,273.0 48.5,272.6 48.5,272.2Z" fill="#a459ef" fill-opacity="0.040" stroke="#a459ef" stroke-width="0.45" stroke-opacity="1.00"/>
<path d="M49.4,272.2 C49.4,272.0 49.5,271.7 49.7,271.5 C50.0,271.4 50.4,271.4 50.8,271.4 C51.1,271.3 51.6,271.4 51.9,271.4 C52.2,271.5 52.6,271.5 52.7,271.8 C52.8,272.0 52.8,272.6 52.7,272.8 C52.6,273.0 52.3,273.1 51.9,273.1 C51.6,273.2 50.9,273.2 50.5,273.2 C50.2,273.2 49.9,273.1 49.7,272.9 C49.6,272.8 49.4,272.5 49.4,272.2Z" fill="#9f4cee" fill-opacity="0.040" stroke="#9f4cee" stroke-width="0.45" stroke-opacity="1.00"/>
<path d="M50.3,272.3 C50.3,272.2 50.4,272.0 50.5,272.0 C50.6,271.9 50.7,271.9 50.9,271.9 C51.1,271.9 51.3,271.9 51.4,271.9 C51.5,272.0 51.7,272.0 51.8,272.1 C51.8,272.2 51.8,272.4 51.8,272.5 C51.7,272.6 51.6,272.6 51.4,272.7 C51.2,272.7 51.0,272.7 50.8,272.7 C50.6,272.7 50.5,272.6 50.5,272.6 C50.4,272.5 50.3,272.4 50.3,272.3Z" fill="#9a40ee" fill-opacity="0.040" stroke="#9a40ee" stroke-width="0.45" stroke-opacity="1.00"/>
<path d="M60.0,271.5 C60.1,270.4 61.7,269.6 63.0,269.0 C64.3,268.4 66.4,268.2 68.0,268.0 C69.6,267.8 71.3,267.4 72.5,267.5 C73.7,267.6 74.6,267.8 75.0,268.5 C75.4,269.2 75.3,270.9 75.0,272.0 C74.7,273.1 74.2,274.6 73.0,275.3 C71.8,276.0 69.8,276.3 68.0,276.3 C66.2,276.3 63.8,276.3 62.5,275.5 C61.2,274.7 59.9,272.6 60.0,271.5Z" fill="#b486f2" fill-opacity="0.050" stroke="#b486f2" stroke-width="0.45" stroke-opacity="1.00"/>
<path d="M61.0,271.6 C61.1,270.7 62.5,269.9 63.7,269.4 C64.9,268.9 66.7,268.7 68.1,268.5 C69.5,268.3 71.1,268.0 72.1,268.1 C73.1,268.1 74.0,268.3 74.3,268.9 C74.7,269.6 74.6,271.1 74.3,272.1 C74.0,273.1 73.6,274.3 72.5,275.0 C71.5,275.6 69.7,275.8 68.1,275.9 C66.6,275.9 64.4,275.9 63.2,275.2 C62.0,274.5 60.9,272.6 61.0,271.6Z" fill="#ae7af0" fill-opacity="0.050" stroke="#ae7af0" stroke-width="0.45" stroke-opacity="1.00"/>
<path d="M62.0,271.7 C62.1,270.9 63.3,270.2 64.3,269.8 C65.4,269.3 67.0,269.2 68.2,269.0 C69.5,268.8 70.8,268.6 71.7,268.6 C72.6,268.7 73.3,268.8 73.7,269.4 C74.0,270.0 73.9,271.2 73.7,272.1 C73.4,273.0 73.0,274.1 72.1,274.7 C71.2,275.2 69.6,275.4 68.2,275.4 C66.9,275.5 65.0,275.4 64.0,274.8 C62.9,274.2 62.0,272.6 62.0,271.7Z" fill="#a96fef" fill-opacity="0.050" stroke="#a96fef" stroke-width="0.45" stroke-opacity="1.00"/>
<path d="M63.0,271.8 C63.1,271.1 64.1,270.6 65.0,270.2 C65.9,269.8 67.3,269.7 68.3,269.5 C69.4,269.4 70.5,269.1 71.3,269.2 C72.1,269.2 72.7,269.4 73.0,269.9 C73.3,270.3 73.2,271.4 73.0,272.2 C72.8,272.9 72.4,273.9 71.7,274.4 C70.9,274.8 69.5,275.0 68.3,275.0 C67.2,275.0 65.6,275.0 64.7,274.5 C63.8,274.0 63.0,272.6 63.0,271.8Z" fill="#a463ee" fill-opacity="0.050" stroke="#a463ee" stroke-width="0.45" stroke-opacity="1.00"/>
<path d="M64.0,271.9 C64.1,271.4 65.0,270.9 65.7,270.6 C66.4,270.3 67.6,270.2 68.5,270.0 C69.3,269.9 70.3,269.7 70.9,269.8 C71.6,269.8 72.1,269.9 72.3,270.3 C72.5,270.7 72.5,271.6 72.3,272.2 C72.1,272.8 71.8,273.6 71.2,274.0 C70.6,274.4 69.4,274.6 68.5,274.6 C67.5,274.6 66.2,274.6 65.4,274.1 C64.7,273.7 64.0,272.5 64.0,271.9Z" fill="#9f58ed" fill-opacity="0.050" stroke="#9f58ed" stroke-width="0.45" stroke-opacity="1.00"/>
<path d="M65.1,272.1 C65.1,271.6 65.8,271.2 66.4,271.0 C67.0,270.7 67.9,270.6 68.6,270.5 C69.3,270.4 70.0,270.3 70.5,270.3 C71.0,270.3 71.4,270.4 71.6,270.8 C71.8,271.1 71.8,271.8 71.6,272.3 C71.5,272.8 71.3,273.4 70.8,273.7 C70.2,274.0 69.3,274.1 68.6,274.2 C67.8,274.2 66.7,274.2 66.2,273.8 C65.6,273.5 65.0,272.5 65.1,272.1Z" fill="#994ceb" fill-opacity="0.050" stroke="#994ceb" stroke-width="0.45" stroke-opacity="1.00"/>
<path d="M66.1,272.2 C66.1,271.8 66.6,271.6 67.0,271.4 C67.5,271.2 68.2,271.1 68.7,271.0 C69.2,271.0 69.8,270.8 70.1,270.9 C70.5,270.9 70.8,271.0 71.0,271.2 C71.1,271.4 71.1,272.0 71.0,272.3 C70.8,272.7 70.7,273.2 70.3,273.4 C69.9,273.6 69.2,273.7 68.7,273.7 C68.1,273.7 67.3,273.7 66.9,273.5 C66.5,273.2 66.0,272.5 66.1,272.2Z" fill="#9441ea" fill-opacity="0.050" stroke="#9441ea" stroke-width="0.45" stroke-opacity="1.00"/>
<path d="M67.1,272.3 C67.1,272.1 67.4,271.9 67.7,271.8 C68.0,271.6 68.5,271.6 68.8,271.5 C69.1,271.5 69.5,271.4 69.7,271.4 C70.0,271.5 70.2,271.5 70.3,271.6 C70.4,271.8 70.3,272.2 70.3,272.4 C70.2,272.6 70.1,272.9 69.8,273.1 C69.6,273.2 69.2,273.3 68.8,273.3 C68.4,273.3 67.9,273.3 67.6,273.1 C67.3,273.0 67.1,272.5 67.1,272.3Z" fill="#8f35e9" fill-opacity="0.050" stroke="#8f35e9" stroke-width="0.45" stroke-opacity="1.00"/>
<path d="M68.1,272.4 C68.1,272.3 68.3,272.2 68.4,272.1 C68.5,272.1 68.7,272.1 68.9,272.1 C69.1,272.0 69.2,272.0 69.3,272.0 C69.5,272.0 69.6,272.0 69.6,272.1 C69.6,272.2 69.6,272.3 69.6,272.4 C69.6,272.6 69.5,272.7 69.4,272.8 C69.3,272.9 69.1,272.9 68.9,272.9 C68.7,272.9 68.5,272.9 68.3,272.8 C68.2,272.7 68.1,272.5 68.1,272.4Z" fill="#8a2ae8" fill-opacity="0.050" stroke="#8a2ae8" stroke-width="0.45" stroke-opacity="1.00"/>
<path d="M47,272.3 L57,272.3 M62,272.6 L72,272.4" stroke="#fff" stroke-width="0.5" stroke-opacity="0.8" stroke-dasharray="1.5,0.7"/>
<rect x="22" y="287.8" width="1.6" height="3" fill="#111"/>
<rect x="46.5" y="308.6" width="2.8" height="1.6" fill="#111"/>
<rect x="133.50" y="240.10" width="69.70" height="68.30" fill="none" stroke="#b0b0b0" stroke-width="0.9"/>
<line x1="133.50" y1="240.10" x2="133.50" y2="309.60" stroke="#333" stroke-width="0.8"/>
<line x1="132.30" y1="308.40" x2="203.20" y2="308.40" stroke="#333" stroke-width="0.8"/>
<line x1="131.90" y1="299.00" x2="133.50" y2="299.00" stroke="#333" stroke-width="0.7"/>
<text x="131.20" y="300.20" font-size="3.4" text-anchor="end" fill="#444">-10<tspan dy="-1.4" font-size="2.6">3</tspan></text>
<line x1="131.90" y1="289.10" x2="133.50" y2="289.10" stroke="#333" stroke-width="0.7"/>
<text x="131.20" y="290.30" font-size="3.4" text-anchor="end" fill="#444">0</text>
<line x1="131.90" y1="278.50" x2="133.50" y2="278.50" stroke="#333" stroke-width="0.7"/>
<text x="131.20" y="279.70" font-size="3.4" text-anchor="end" fill="#444">10<tspan dy="-1.4" font-size="2.6">3</tspan></text>
<line x1="131.90" y1="268.40" x2="133.50" y2="268.40" stroke="#333" stroke-width="0.7"/>
<text x="131.20" y="269.60" font-size="3.4" text-anchor="end" fill="#444">10<tspan dy="-1.4" font-size="2.6">4</tspan></text>
<line x1="131.90" y1="258.20" x2="133.50" y2="258.20" stroke="#333" stroke-width="0.7"/>
<text x="131.20" y="259.40" font-size="3.4" text-anchor="end" fill="#444">10<tspan dy="-1.4" font-size="2.6">5</tspan></text>
<line x1="131.90" y1="248.00" x2="133.50" y2="248.00" stroke="#333" stroke-width="0.7"/>
<text x="131.20" y="249.20" font-size="3.4" text-anchor="end" fill="#444">10<tspan dy="-1.4" font-size="2.6">6</tspan></text>
<line x1="132.60" y1="297.02" x2="133.50" y2="297.02" stroke="#666" stroke-width="0.5"/>
<line x1="132.60" y1="295.04" x2="133.50" y2="295.04" stroke="#666" stroke-width="0.5"/>
<line x1="132.60" y1="293.06" x2="133.50" y2="293.06" stroke="#666" stroke-width="0.5"/>
<line x1="132.60" y1="291.08" x2="133.50" y2="291.08" stroke="#666" stroke-width="0.5"/>
<line x1="132.60" y1="286.98" x2="133.50" y2="286.98" stroke="#666" stroke-width="0.5"/>
<line x1="132.60" y1="284.86" x2="133.50" y2="284.86" stroke="#666" stroke-width="0.5"/>
<line x1="132.60" y1="282.74" x2="133.50" y2="282.74" stroke="#666" stroke-width="0.5"/>
<line x1="132.60" y1="280.62" x2="133.50" y2="280.62" stroke="#666" stroke-width="0.5"/>
<line x1="132.60" y1="276.48" x2="133.50" y2="276.48" stroke="#666" stroke-width="0.5"/>
<line x1="132.60" y1="274.46" x2="133.50" y2="274.46" stroke="#666" stroke-width="0.5"/>
<line x1="132.60" y1="272.44" x2="133.50" y2="272.44" stroke="#666" stroke-width="0.5"/>
<line x1="132.60" y1="270.42" x2="133.50" y2="270.42" stroke="#666" stroke-width="0.5"/>
<line x1="132.60" y1="266.36" x2="133.50" y2="266.36" stroke="#666" stroke-width="0.5"/>
<line x1="132.60" y1="264.32" x2="133.50" y2="264.32" stroke="#666" stroke-width="0.5"/>
<line x1="132.60" y1="262.28" x2="133.50" y2="262.28" stroke="#666" stroke-width="0.5"/>
<line x1="132.60" y1="260.24" x2="133.50" y2="260.24" stroke="#666" stroke-width="0.5"/>
<line x1="132.60" y1="256.16" x2="133.50" y2="256.16" stroke="#666" stroke-width="0.5"/>
<line x1="132.60" y1="254.12" x2="133.50" y2="254.12" stroke="#666" stroke-width="0.5"/>
<line x1="132.60" y1="252.08" x2="133.50" y2="252.08" stroke="#666" stroke-width="0.5"/>
<line x1="132.60" y1="250.04" x2="133.50" y2="250.04" stroke="#666" stroke-width="0.5"/>
<line x1="137.50" y1="308.40" x2="137.50" y2="310.00" stroke="#333" stroke-width="0.7"/>
<text x="137.50" y="316.00" font-size="3.4" text-anchor="middle" fill="#444">-10<tspan dy="-1.4" font-size="2.6">4</tspan></text>
<line x1="161.00" y1="308.40" x2="161.00" y2="310.00" stroke="#333" stroke-width="0.7"/>
<text x="161.00" y="316.00" font-size="3.4" text-anchor="middle" fill="#444">0</text>
<line x1="185.50" y1="308.40" x2="185.50" y2="310.00" stroke="#333" stroke-width="0.7"/>
<text x="185.50" y="316.00" font-size="3.4" text-anchor="middle" fill="#444">10<tspan dy="-1.4" font-size="2.6">4</tspan></text>
<line x1="198.50" y1="308.40" x2="198.50" y2="310.00" stroke="#333" stroke-width="0.7"/>
<text x="198.50" y="316.00" font-size="3.4" text-anchor="middle" fill="#444">10<tspan dy="-1.4" font-size="2.6">5</tspan></text>
<line x1="142.20" y1="308.40" x2="142.20" y2="309.30" stroke="#666" stroke-width="0.5"/>
<line x1="146.90" y1="308.40" x2="146.90" y2="309.30" stroke="#666" stroke-width="0.5"/>
<line x1="151.60" y1="308.40" x2="151.60" y2="309.30" stroke="#666" stroke-width="0.5"/>
<line x1="156.30" y1="308.40" x2="156.30" y2="309.30" stroke="#666" stroke-width="0.5"/>
<line x1="165.90" y1="308.40" x2="165.90" y2="309.30" stroke="#666" stroke-width="0.5"/>
<line x1="170.80" y1="308.40" x2="170.80" y2="309.30" stroke="#666" stroke-width="0.5"/>
<line x1="175.70" y1="308.40" x2="175.70" y2="309.30" stroke="#666" stroke-width="0.5"/>
<line x1="180.60" y1="308.40" x2="180.60" y2="309.30" stroke="#666" stroke-width="0.5"/>
<line x1="188.10" y1="308.40" x2="188.10" y2="309.30" stroke="#666" stroke-width="0.5"/>
<line x1="190.70" y1="308.40" x2="190.70" y2="309.30" stroke="#666" stroke-width="0.5"/>
<line x1="193.30" y1="308.40" x2="193.30" y2="309.30" stroke="#666" stroke-width="0.5"/>
<line x1="195.90" y1="308.40" x2="195.90" y2="309.30" stroke="#666" stroke-width="0.5"/>
<text x="168.35" y="323.00" font-size="3.7" text-anchor="middle" fill="#3a3a3a">Comp-PE-A :: CD69</text>
<text x="115.10" y="274.25" font-size="3.7" text-anchor="middle" fill="#3a3a3a" transform="rotate(-90 115.1 274.25)">Comp-BV510-A :: CD4</text>
<line x1="165.80" y1="240.10" x2="165.80" y2="308.40" stroke="#6a6a6a" stroke-width="0.8"/>
<line x1="133.50" y1="277.20" x2="203.20" y2="277.20" stroke="#6a6a6a" stroke-width="0.8"/>
<text x="135.10" y="245.70" font-size="3.2" text-anchor="start" fill="#333">Q1</text>
<text x="135.10" y="250.10" font-size="3.2" text-anchor="start" fill="#333">98.8</text>
<text x="197.00" y="245.70" font-size="3.2" text-anchor="end" fill="#333">Q2</text>
<text x="197.00" y="250.10" font-size="3.2" text-anchor="end" fill="#333">0.06</text>
<text x="135.10" y="300.60" font-size="3.2" text-anchor="start" fill="#333">Q4</text>
<text x="135.10" y="305.40" font-size="3.2" text-anchor="start" fill="#333">1.46</text>
<text x="197.00" y="300.60" font-size="3.2" text-anchor="end" fill="#333">Q3</text>
<text x="197.00" y="305.40" font-size="3.2" text-anchor="end" fill="#333">0.02</text>
<path d="M165.5,271.4 C165.5,272.0 165.2,272.6 164.9,273.1 C164.7,273.7 164.3,274.3 163.7,274.7 C163.2,275.1 162.4,275.4 161.7,275.6 C160.9,275.9 160.1,276.0 159.3,276.0 C158.5,276.0 157.6,275.9 156.9,275.7 C156.2,275.5 155.5,275.1 154.9,274.7 C154.3,274.3 153.8,273.7 153.5,273.2 C153.2,272.6 153.1,272.0 153.1,271.4 C153.1,270.8 153.2,270.2 153.5,269.6 C153.8,269.1 154.4,268.6 154.9,268.2 C155.5,267.7 156.2,267.3 156.9,267.1 C157.6,266.9 158.5,266.7 159.3,266.7 C160.1,266.8 160.9,267.0 161.6,267.2 C162.4,267.4 163.1,267.8 163.6,268.2 C164.2,268.6 164.7,269.1 165.0,269.7 C165.3,270.2 165.5,270.8 165.5,271.4Z" fill="#f08e96" fill-opacity="0.035" stroke="#f08e96" stroke-width="0.45" stroke-opacity="1.00"/>
<path d="M164.9,271.4 C164.9,271.9 164.7,272.5 164.4,273.0 C164.1,273.5 163.8,274.0 163.3,274.4 C162.8,274.7 162.1,275.0 161.5,275.2 C160.8,275.4 160.0,275.5 159.3,275.6 C158.6,275.6 157.8,275.5 157.2,275.3 C156.5,275.1 155.9,274.7 155.4,274.3 C154.9,274.0 154.4,273.5 154.1,273.0 C153.9,272.5 153.8,271.9 153.8,271.4 C153.8,270.9 153.9,270.3 154.1,269.8 C154.4,269.3 154.9,268.9 155.4,268.5 C155.9,268.1 156.5,267.7 157.2,267.5 C157.8,267.3 158.6,267.2 159.3,267.2 C160.0,267.2 160.8,267.4 161.4,267.6 C162.1,267.8 162.7,268.1 163.2,268.5 C163.7,268.9 164.2,269.4 164.4,269.8 C164.7,270.3 164.9,270.9 164.9,271.4Z" fill="#ed8088" fill-opacity="0.035" stroke="#ed8088" stroke-width="0.45" stroke-opacity="1.00"/>
<path d="M164.3,271.4 C164.3,271.9 164.1,272.3 163.9,272.8 C163.6,273.2 163.3,273.7 162.9,274.0 C162.5,274.3 161.8,274.6 161.2,274.8 C160.7,275.0 160.0,275.1 159.4,275.1 C158.7,275.1 158.0,275.0 157.5,274.8 C156.9,274.6 156.3,274.3 155.9,274.0 C155.4,273.7 155.0,273.3 154.7,272.8 C154.5,272.4 154.4,271.9 154.4,271.4 C154.4,270.9 154.5,270.4 154.8,270.0 C155.0,269.6 155.4,269.2 155.9,268.8 C156.3,268.5 156.9,268.2 157.4,268.0 C158.0,267.8 158.7,267.7 159.4,267.7 C160.0,267.7 160.7,267.9 161.2,268.1 C161.8,268.3 162.4,268.5 162.8,268.8 C163.3,269.2 163.6,269.6 163.9,270.0 C164.1,270.4 164.3,270.9 164.3,271.4Z" fill="#ea727a" fill-opacity="0.035" stroke="#ea727a" stroke-width="0.45" stroke-opacity="1.00"/>
<path d="M163.7,271.4 C163.7,271.8 163.5,272.2 163.3,272.6 C163.1,273.0 162.8,273.4 162.5,273.7 C162.1,274.0 161.5,274.2 161.0,274.3 C160.5,274.5 159.9,274.6 159.4,274.6 C158.8,274.6 158.2,274.5 157.7,274.4 C157.2,274.2 156.7,274.0 156.3,273.7 C155.9,273.4 155.6,273.0 155.4,272.6 C155.2,272.3 155.1,271.8 155.1,271.4 C155.1,271.0 155.2,270.5 155.4,270.2 C155.6,269.8 156.0,269.4 156.4,269.1 C156.7,268.9 157.2,268.6 157.7,268.4 C158.2,268.3 158.8,268.2 159.4,268.2 C159.9,268.2 160.5,268.3 161.0,268.5 C161.5,268.7 162.0,268.9 162.4,269.2 C162.8,269.5 163.1,269.8 163.3,270.2 C163.5,270.6 163.7,271.0 163.7,271.4Z" fill="#e8646d" fill-opacity="0.035" stroke="#e8646d" stroke-width="0.45" stroke-opacity="1.00"/>
<path d="M163.1,271.4 C163.1,271.7 162.9,272.1 162.8,272.4 C162.6,272.7 162.4,273.1 162.0,273.3 C161.7,273.6 161.3,273.8 160.8,273.9 C160.4,274.0 159.9,274.1 159.4,274.1 C159.0,274.1 158.4,274.1 158.0,273.9 C157.6,273.8 157.1,273.6 156.8,273.3 C156.5,273.1 156.2,272.8 156.0,272.5 C155.8,272.1 155.8,271.8 155.8,271.4 C155.8,271.0 155.8,270.7 156.0,270.4 C156.2,270.0 156.5,269.7 156.8,269.5 C157.2,269.2 157.6,269.0 158.0,268.9 C158.4,268.7 159.0,268.6 159.4,268.6 C159.9,268.7 160.4,268.8 160.8,268.9 C161.2,269.1 161.7,269.3 162.0,269.5 C162.3,269.7 162.6,270.1 162.8,270.4 C163.0,270.7 163.1,271.1 163.1,271.4Z" fill="#e5565f" fill-opacity="0.035" stroke="#e5565f" stroke-width="0.45" stroke-opacity="1.00"/>
<path d="M162.5,271.4 C162.5,271.7 162.4,272.0 162.2,272.2 C162.1,272.5 161.9,272.8 161.6,273.0 C161.4,273.2 161.0,273.4 160.6,273.5 C160.3,273.6 159.8,273.7 159.5,273.7 C159.1,273.7 158.6,273.6 158.3,273.5 C157.9,273.4 157.6,273.2 157.3,273.0 C157.0,272.8 156.8,272.5 156.6,272.3 C156.5,272.0 156.4,271.7 156.4,271.4 C156.4,271.1 156.5,270.8 156.6,270.5 C156.8,270.3 157.0,270.0 157.3,269.8 C157.6,269.6 157.9,269.4 158.3,269.3 C158.6,269.2 159.1,269.1 159.5,269.1 C159.8,269.1 160.2,269.2 160.6,269.3 C161.0,269.5 161.3,269.6 161.6,269.8 C161.8,270.0 162.1,270.3 162.2,270.5 C162.4,270.8 162.5,271.1 162.5,271.4Z" fill="#e24852" fill-opacity="0.035" stroke="#e24852" stroke-width="0.45" stroke-opacity="1.00"/>
<path d="M161.9,271.4 C161.9,271.6 161.8,271.9 161.7,272.1 C161.6,272.3 161.4,272.5 161.2,272.7 C161.0,272.8 160.7,273.0 160.4,273.0 C160.1,273.1 159.8,273.2 159.5,273.2 C159.2,273.2 158.8,273.1 158.6,273.1 C158.3,273.0 158.0,272.8 157.8,272.7 C157.6,272.5 157.4,272.3 157.2,272.1 C157.1,271.9 157.1,271.6 157.1,271.4 C157.1,271.2 157.1,270.9 157.2,270.7 C157.4,270.5 157.6,270.3 157.8,270.1 C158.0,270.0 158.3,269.8 158.6,269.7 C158.8,269.6 159.2,269.6 159.5,269.6 C159.8,269.6 160.1,269.7 160.4,269.8 C160.7,269.9 160.9,270.0 161.2,270.2 C161.4,270.3 161.6,270.5 161.7,270.7 C161.8,270.9 161.9,271.2 161.9,271.4Z" fill="#e03a44" fill-opacity="0.035" stroke="#e03a44" stroke-width="0.45" stroke-opacity="1.00"/>
<path d="M161.3,271.4 C161.3,271.6 161.2,271.7 161.1,271.9 C161.0,272.0 160.9,272.2 160.8,272.3 C160.6,272.5 160.4,272.5 160.2,272.6 C160.0,272.7 159.7,272.7 159.5,272.7 C159.3,272.7 159.0,272.7 158.8,272.6 C158.6,272.6 158.4,272.5 158.3,272.3 C158.1,272.2 157.9,272.1 157.9,271.9 C157.8,271.8 157.8,271.6 157.8,271.4 C157.8,271.2 157.8,271.0 157.9,270.9 C158.0,270.7 158.1,270.6 158.3,270.5 C158.4,270.4 158.6,270.2 158.8,270.2 C159.0,270.1 159.3,270.1 159.5,270.1 C159.7,270.1 160.0,270.1 160.2,270.2 C160.4,270.3 160.6,270.4 160.7,270.5 C160.9,270.6 161.0,270.8 161.1,270.9 C161.2,271.1 161.3,271.2 161.3,271.4Z" fill="#dd2c37" fill-opacity="0.035" stroke="#dd2c37" stroke-width="0.45" stroke-opacity="1.00"/>
<path d="M160.7,271.4 C160.7,271.5 160.6,271.6 160.6,271.7 C160.5,271.8 160.5,271.9 160.4,272.0 C160.3,272.1 160.1,272.1 160.0,272.2 C159.8,272.2 159.7,272.2 159.5,272.2 C159.4,272.2 159.2,272.2 159.1,272.2 C159.0,272.1 158.8,272.1 158.7,272.0 C158.6,271.9 158.5,271.8 158.5,271.7 C158.4,271.6 158.4,271.5 158.4,271.4 C158.4,271.3 158.4,271.2 158.5,271.1 C158.5,271.0 158.6,270.9 158.7,270.8 C158.9,270.7 159.0,270.7 159.1,270.6 C159.2,270.6 159.4,270.5 159.5,270.6 C159.7,270.6 159.8,270.6 160.0,270.6 C160.1,270.7 160.2,270.7 160.3,270.8 C160.4,270.9 160.5,271.0 160.6,271.1 C160.6,271.2 160.7,271.3 160.7,271.4Z" fill="#da1e29" fill-opacity="0.035" stroke="#da1e29" stroke-width="0.45" stroke-opacity="1.00"/>
<path d="M160.1,271.4 C160.1,271.4 160.1,271.5 160.0,271.5 C160.0,271.6 160.0,271.6 159.9,271.7 C159.9,271.7 159.8,271.7 159.8,271.7 C159.7,271.8 159.6,271.8 159.6,271.8 C159.5,271.8 159.4,271.8 159.4,271.7 C159.3,271.7 159.3,271.7 159.2,271.7 C159.2,271.6 159.1,271.6 159.1,271.5 C159.1,271.5 159.1,271.4 159.1,271.4 C159.1,271.4 159.1,271.3 159.1,271.3 C159.1,271.2 159.2,271.2 159.2,271.1 C159.3,271.1 159.3,271.1 159.4,271.1 C159.4,271.0 159.5,271.0 159.6,271.0 C159.6,271.0 159.7,271.0 159.8,271.1 C159.8,271.1 159.9,271.1 159.9,271.1 C160.0,271.2 160.0,271.2 160.0,271.3 C160.1,271.3 160.1,271.4 160.1,271.4Z" fill="#d8101c" fill-opacity="0.035" stroke="#d8101c" stroke-width="0.45" stroke-opacity="1.00"/>
<ellipse cx="174.6" cy="271.6" rx="4" ry="1.5" fill="none" stroke="#e2343c" stroke-width="0.5"/>
<rect x="132.2" y="288" width="1.6" height="3" fill="#111"/>
<rect x="158" y="307.8" width="2.6" height="1.6" fill="#111"/>
<rect x="318.00" y="15.80" width="69.00" height="69.40" fill="none" stroke="#b0b0b0" stroke-width="0.9"/>
<line x1="318.00" y1="15.80" x2="318.00" y2="86.40" stroke="#333" stroke-width="0.8"/>
<line x1="316.80" y1="85.20" x2="387.00" y2="85.20" stroke="#333" stroke-width="0.8"/>
<line x1="316.40" y1="84.20" x2="318.00" y2="84.20" stroke="#333" stroke-width="0.7"/>
<text x="315.70" y="85.40" font-size="3.4" text-anchor="end" fill="#444">0</text>
<line x1="316.40" y1="71.40" x2="318.00" y2="71.40" stroke="#333" stroke-width="0.7"/>
<text x="315.70" y="72.60" font-size="3.4" text-anchor="end" fill="#444">50K</text>
<line x1="316.40" y1="58.30" x2="318.00" y2="58.30" stroke="#333" stroke-width="0.7"/>
<text x="315.70" y="59.50" font-size="3.4" text-anchor="end" fill="#444">100K</text>
<line x1="316.40" y1="45.60" x2="318.00" y2="45.60" stroke="#333" stroke-width="0.7"/>
<text x="315.70" y="46.80" font-size="3.4" text-anchor="end" fill="#444">150K</text>
<line x1="316.40" y1="32.10" x2="318.00" y2="32.10" stroke="#333" stroke-width="0.7"/>
<text x="315.70" y="33.30" font-size="3.4" text-anchor="end" fill="#444">200K</text>
<line x1="316.40" y1="19.00" x2="318.00" y2="19.00" stroke="#333" stroke-width="0.7"/>
<text x="315.70" y="20.20" font-size="3.4" text-anchor="end" fill="#444">250K</text>
<line x1="317.10" y1="81.64" x2="318.00" y2="81.64" stroke="#666" stroke-width="0.5"/>
<line x1="317.10" y1="79.08" x2="318.00" y2="79.08" stroke="#666" stroke-width="0.5"/>
<line x1="317.10" y1="76.52" x2="318.00" y2="76.52" stroke="#666" stroke-width="0.5"/>
<line x1="317.10" y1="73.96" x2="318.00" y2="73.96" stroke="#666" stroke-width="0.5"/>
<line x1="317.10" y1="68.78" x2="318.00" y2="68.78" stroke="#666" stroke-width="0.5"/>
<line x1="317.10" y1="66.16" x2="318.00" y2="66.16" stroke="#666" stroke-width="0.5"/>
<line x1="317.10" y1="63.54" x2="318.00" y2="63.54" stroke="#666" stroke-width="0.5"/>
<line x1="317.10" y1="60.92" x2="318.00" y2="60.92" stroke="#666" stroke-width="0.5"/>
<line x1="317.10" y1="55.76" x2="318.00" y2="55.76" stroke="#666" stroke-width="0.5"/>
<line x1="317.10" y1="53.22" x2="318.00" y2="53.22" stroke="#666" stroke-width="0.5"/>
<line x1="317.10" y1="50.68" x2="318.00" y2="50.68" stroke="#666" stroke-width="0.5"/>
<line x1="317.10" y1="48.14" x2="318.00" y2="48.14" stroke="#666" stroke-width="0.5"/>
<line x1="317.10" y1="42.90" x2="318.00" y2="42.90" stroke="#666" stroke-width="0.5"/>
<line x1="317.10" y1="40.20" x2="318.00" y2="40.20" stroke="#666" stroke-width="0.5"/>
<line x1="317.10" y1="37.50" x2="318.00" y2="37.50" stroke="#666" stroke-width="0.5"/>
<line x1="317.10" y1="34.80" x2="318.00" y2="34.80" stroke="#666" stroke-width="0.5"/>
<line x1="317.10" y1="29.48" x2="318.00" y2="29.48" stroke="#666" stroke-width="0.5"/>
<line x1="317.10" y1="26.86" x2="318.00" y2="26.86" stroke="#666" stroke-width="0.5"/>
<line x1="317.10" y1="24.24" x2="318.00" y2="24.24" stroke="#666" stroke-width="0.5"/>
<line x1="317.10" y1="21.62" x2="318.00" y2="21.62" stroke="#666" stroke-width="0.5"/>
<line x1="321.00" y1="85.20" x2="321.00" y2="86.80" stroke="#333" stroke-width="0.7"/>
<text x="321.00" y="92.80" font-size="3.4" text-anchor="middle" fill="#444">10<tspan dy="-1.4" font-size="2.6">0</tspan></text>
<line x1="332.50" y1="85.20" x2="332.50" y2="86.80" stroke="#333" stroke-width="0.7"/>
<text x="332.50" y="92.80" font-size="3.4" text-anchor="middle" fill="#444">10<tspan dy="-1.4" font-size="2.6">1</tspan></text>
<line x1="344.00" y1="85.20" x2="344.00" y2="86.80" stroke="#333" stroke-width="0.7"/>
<text x="344.00" y="92.80" font-size="3.4" text-anchor="middle" fill="#444">10<tspan dy="-1.4" font-size="2.6">2</tspan></text>
<line x1="355.50" y1="85.20" x2="355.50" y2="86.80" stroke="#333" stroke-width="0.7"/>
<text x="355.50" y="92.80" font-size="3.4" text-anchor="middle" fill="#444">10<tspan dy="-1.4" font-size="2.6">3</tspan></text>
<line x1="367.00" y1="85.20" x2="367.00" y2="86.80" stroke="#333" stroke-width="0.7"/>
<text x="367.00" y="92.80" font-size="3.4" text-anchor="middle" fill="#444">10<tspan dy="-1.4" font-size="2.6">4</tspan></text>
<line x1="378.50" y1="85.20" x2="378.50" y2="86.80" stroke="#333" stroke-width="0.7"/>
<text x="378.50" y="92.80" font-size="3.4" text-anchor="middle" fill="#444">10<tspan dy="-1.4" font-size="2.6">5</tspan></text>
<line x1="386.00" y1="85.20" x2="386.00" y2="86.80" stroke="#333" stroke-width="0.7"/>
<text x="386.00" y="92.80" font-size="3.4" text-anchor="middle" fill="#444">10<tspan dy="-1.4" font-size="2.6">6</tspan></text>
<line x1="323.30" y1="85.20" x2="323.30" y2="86.10" stroke="#666" stroke-width="0.5"/>
<line x1="325.60" y1="85.20" x2="325.60" y2="86.10" stroke="#666" stroke-width="0.5"/>
<line x1="327.90" y1="85.20" x2="327.90" y2="86.10" stroke="#666" stroke-width="0.5"/>
<line x1="330.20" y1="85.20" x2="330.20" y2="86.10" stroke="#666" stroke-width="0.5"/>
<line x1="334.80" y1="85.20" x2="334.80" y2="86.10" stroke="#666" stroke-width="0.5"/>
<line x1="337.10" y1="85.20" x2="337.10" y2="86.10" stroke="#666" stroke-width="0.5"/>
<line x1="339.40" y1="85.20" x2="339.40" y2="86.10" stroke="#666" stroke-width="0.5"/>
<line x1="341.70" y1="85.20" x2="341.70" y2="86.10" stroke="#666" stroke-width="0.5"/>
<line x1="346.30" y1="85.20" x2="346.30" y2="86.10" stroke="#666" stroke-width="0.5"/>
<line x1="348.60" y1="85.20" x2="348.60" y2="86.10" stroke="#666" stroke-width="0.5"/>
<line x1="350.90" y1="85.20" x2="350.90" y2="86.10" stroke="#666" stroke-width="0.5"/>
<line x1="353.20" y1="85.20" x2="353.20" y2="86.10" stroke="#666" stroke-width="0.5"/>
<line x1="357.80" y1="85.20" x2="357.80" y2="86.10" stroke="#666" stroke-width="0.5"/>
<line x1="360.10" y1="85.20" x2="360.10" y2="86.10" stroke="#666" stroke-width="0.5"/>
<line x1="362.40" y1="85.20" x2="362.40" y2="86.10" stroke="#666" stroke-width="0.5"/>
<line x1="364.70" y1="85.20" x2="364.70" y2="86.10" stroke="#666" stroke-width="0.5"/>
<line x1="369.30" y1="85.20" x2="369.30" y2="86.10" stroke="#666" stroke-width="0.5"/>
<line x1="371.60" y1="85.20" x2="371.60" y2="86.10" stroke="#666" stroke-width="0.5"/>
<line x1="373.90" y1="85.20" x2="373.90" y2="86.10" stroke="#666" stroke-width="0.5"/>
<line x1="376.20" y1="85.20" x2="376.20" y2="86.10" stroke="#666" stroke-width="0.5"/>
<line x1="380.00" y1="85.20" x2="380.00" y2="86.10" stroke="#666" stroke-width="0.5"/>
<line x1="381.50" y1="85.20" x2="381.50" y2="86.10" stroke="#666" stroke-width="0.5"/>
<line x1="383.00" y1="85.20" x2="383.00" y2="86.10" stroke="#666" stroke-width="0.5"/>
<line x1="384.50" y1="85.20" x2="384.50" y2="86.10" stroke="#666" stroke-width="0.5"/>
<text x="352.50" y="99.80" font-size="3.7" text-anchor="middle" fill="#3a3a3a">Comp-BB515-A :: CD45</text>
<text x="302.10" y="50.50" font-size="3.7" text-anchor="middle" fill="#3a3a3a" transform="rotate(-90 302.1 50.5)">SSC-A</text>
<rect x="357.30" y="22.50" width="28.00" height="60.60" fill="none" stroke="#2a2a2a" stroke-width="0.7"/>
<path d="M363.3,80.2 C362.6,79.0 364.6,76.2 365.5,74.0 C366.4,71.8 367.6,69.2 368.5,67.0 C369.4,64.8 370.3,62.6 371.0,61.0 C371.7,59.4 371.8,58.1 372.5,57.6 C373.2,57.1 374.7,57.1 375.5,57.8 C376.3,58.4 376.7,59.8 377.5,61.5 C378.3,63.2 379.8,65.9 380.5,68.0 C381.2,70.1 381.8,72.3 382.0,74.0 C382.2,75.7 382.5,77.3 381.8,78.4 C381.1,79.5 380.0,80.4 378.0,80.8 C376.0,81.2 372.4,81.1 370.0,81.0 C367.6,80.9 364.1,81.4 363.3,80.2Z" fill="#a8a8a8" fill-opacity="0.025" stroke="#a8a8a8" stroke-width="0.45" stroke-opacity="1.00"/>
<path d="M365.0,79.2 C364.3,78.2 366.1,75.8 366.9,73.9 C367.6,72.0 368.6,69.8 369.4,67.9 C370.2,66.1 371.0,64.1 371.6,62.8 C372.1,61.4 372.2,60.3 372.9,59.9 C373.5,59.4 374.7,59.5 375.4,60.0 C376.1,60.6 376.4,61.8 377.1,63.2 C377.9,64.7 379.1,67.0 379.7,68.8 C380.4,70.6 380.8,72.4 381.0,73.9 C381.2,75.4 381.4,76.7 380.8,77.7 C380.3,78.7 379.3,79.4 377.6,79.8 C375.9,80.1 372.8,80.0 370.7,79.9 C368.6,79.8 365.6,80.2 365.0,79.2Z" fill="#9b9b9b" fill-opacity="0.025" stroke="#9b9b9b" stroke-width="0.45" stroke-opacity="1.00"/>
<path d="M366.2,78.5 C365.6,77.7 367.2,75.5 367.9,73.9 C368.5,72.2 369.4,70.2 370.1,68.6 C370.8,67.0 371.5,65.3 372.0,64.1 C372.5,62.9 372.6,61.9 373.1,61.5 C373.7,61.1 374.7,61.2 375.4,61.7 C376.0,62.2 376.3,63.2 376.9,64.5 C377.5,65.8 378.6,67.8 379.1,69.4 C379.7,70.9 380.1,72.6 380.3,73.9 C380.4,75.2 380.6,76.3 380.1,77.2 C379.6,78.0 378.7,78.7 377.3,79.0 C375.8,79.3 373.1,79.2 371.2,79.1 C369.4,79.1 366.8,79.4 366.2,78.5Z" fill="#8e8e8e" fill-opacity="0.025" stroke="#8e8e8e" stroke-width="0.45" stroke-opacity="1.00"/>
<path d="M367.3,77.9 C366.8,77.1 368.2,75.3 368.8,73.8 C369.3,72.4 370.1,70.7 370.7,69.2 C371.3,67.8 371.9,66.3 372.4,65.3 C372.8,64.3 372.9,63.4 373.4,63.1 C373.9,62.7 374.8,62.8 375.3,63.2 C375.9,63.6 376.1,64.5 376.6,65.6 C377.2,66.7 378.1,68.5 378.6,69.9 C379.1,71.3 379.5,72.7 379.6,73.8 C379.7,75.0 379.9,76.0 379.5,76.7 C379.0,77.5 378.3,78.0 377.0,78.3 C375.7,78.6 373.3,78.5 371.7,78.4 C370.1,78.4 367.8,78.7 367.3,77.9Z" fill="#818181" fill-opacity="0.025" stroke="#818181" stroke-width="0.45" stroke-opacity="1.00"/>
<path d="M368.4,77.3 C367.9,76.6 369.1,75.0 369.6,73.8 C370.1,72.5 370.8,71.0 371.3,69.8 C371.8,68.6 372.4,67.3 372.7,66.4 C373.1,65.5 373.2,64.8 373.6,64.5 C374.0,64.2 374.8,64.2 375.3,64.6 C375.8,65.0 375.9,65.7 376.4,66.7 C376.9,67.7 377.7,69.2 378.1,70.4 C378.5,71.6 378.9,72.8 379.0,73.8 C379.1,74.8 379.2,75.6 378.9,76.3 C378.5,76.9 377.8,77.4 376.7,77.6 C375.6,77.9 373.6,77.8 372.2,77.8 C370.8,77.7 368.8,78.0 368.4,77.3Z" fill="#747474" fill-opacity="0.025" stroke="#747474" stroke-width="0.45" stroke-opacity="1.00"/>
<path d="M369.3,76.7 C369.0,76.2 370.0,74.8 370.4,73.7 C370.8,72.7 371.4,71.4 371.9,70.4 C372.3,69.3 372.7,68.2 373.1,67.5 C373.4,66.7 373.4,66.1 373.8,65.8 C374.2,65.6 374.8,65.6 375.2,65.9 C375.6,66.2 375.8,66.9 376.2,67.7 C376.6,68.5 377.3,69.8 377.7,70.8 C378.0,71.8 378.3,72.9 378.4,73.7 C378.5,74.6 378.6,75.3 378.3,75.9 C378.0,76.4 377.4,76.8 376.4,77.0 C375.5,77.2 373.8,77.2 372.6,77.1 C371.4,77.1 369.7,77.3 369.3,76.7Z" fill="#686868" fill-opacity="0.025" stroke="#686868" stroke-width="0.45" stroke-opacity="1.00"/>
<path d="M370.3,76.2 C370.0,75.7 370.8,74.6 371.2,73.7 C371.5,72.8 372.0,71.8 372.4,70.9 C372.8,70.0 373.1,69.1 373.4,68.5 C373.7,67.8 373.7,67.3 374.0,67.1 C374.3,66.9 374.9,66.9 375.2,67.2 C375.5,67.5 375.7,68.0 376.0,68.7 C376.3,69.4 376.9,70.5 377.2,71.3 C377.5,72.1 377.7,73.0 377.8,73.7 C377.9,74.4 378.0,75.0 377.7,75.5 C377.5,75.9 377.0,76.3 376.2,76.4 C375.4,76.6 374.0,76.6 373.0,76.5 C372.0,76.5 370.6,76.7 370.3,76.2Z" fill="#5b5b5b" fill-opacity="0.025" stroke="#5b5b5b" stroke-width="0.45" stroke-opacity="1.00"/>
<path d="M371.2,75.7 C371.0,75.3 371.6,74.4 371.9,73.7 C372.2,73.0 372.6,72.1 372.9,71.4 C373.2,70.7 373.5,70.0 373.7,69.5 C373.9,69.0 373.9,68.5 374.2,68.4 C374.4,68.2 374.9,68.2 375.2,68.4 C375.4,68.6 375.5,69.1 375.8,69.6 C376.1,70.2 376.5,71.0 376.8,71.7 C377.0,72.4 377.2,73.1 377.3,73.7 C377.3,74.2 377.4,74.7 377.2,75.1 C377.0,75.5 376.6,75.7 376.0,75.9 C375.3,76.0 374.2,76.0 373.4,75.9 C372.6,75.9 371.5,76.0 371.2,75.7Z" fill="#4e4e4e" fill-opacity="0.025" stroke="#4e4e4e" stroke-width="0.45" stroke-opacity="1.00"/>
<path d="M372.1,75.2 C371.9,74.9 372.4,74.2 372.7,73.6 C372.9,73.1 373.2,72.4 373.4,71.9 C373.6,71.4 373.8,70.8 374.0,70.4 C374.2,70.0 374.2,69.7 374.4,69.6 C374.6,69.4 374.9,69.5 375.1,69.6 C375.3,69.8 375.4,70.1 375.6,70.5 C375.8,71.0 376.2,71.6 376.4,72.1 C376.5,72.7 376.7,73.2 376.7,73.6 C376.8,74.1 376.8,74.4 376.7,74.7 C376.5,75.0 376.2,75.2 375.7,75.3 C375.3,75.4 374.4,75.4 373.8,75.4 C373.2,75.3 372.3,75.4 372.1,75.2Z" fill="#414141" fill-opacity="0.025" stroke="#414141" stroke-width="0.45" stroke-opacity="1.00"/>
<path d="M373.0,74.7 C372.8,74.5 373.2,74.0 373.4,73.6 C373.5,73.2 373.7,72.8 373.9,72.4 C374.0,72.0 374.2,71.6 374.3,71.3 C374.4,71.1 374.4,70.8 374.6,70.8 C374.7,70.7 374.9,70.7 375.1,70.8 C375.2,70.9 375.3,71.1 375.4,71.4 C375.6,71.7 375.8,72.2 376.0,72.5 C376.1,72.9 376.2,73.3 376.2,73.6 C376.2,73.9 376.3,74.2 376.2,74.3 C376.1,74.5 375.9,74.7 375.5,74.8 C375.2,74.8 374.6,74.8 374.1,74.8 C373.7,74.8 373.1,74.9 373.0,74.7Z" fill="#343434" fill-opacity="0.025" stroke="#343434" stroke-width="0.45" stroke-opacity="1.00"/>
<path d="M373.8,74.2 C373.8,74.1 374.0,73.8 374.1,73.5 C374.1,73.3 374.3,73.1 374.4,72.8 C374.4,72.6 374.5,72.4 374.6,72.2 C374.7,72.1 374.7,72.0 374.8,71.9 C374.8,71.9 375.0,71.9 375.1,71.9 C375.1,72.0 375.2,72.1 375.2,72.3 C375.3,72.5 375.5,72.7 375.6,73.0 C375.6,73.2 375.7,73.4 375.7,73.5 C375.7,73.7 375.7,73.9 375.7,74.0 C375.6,74.1 375.5,74.2 375.3,74.2 C375.1,74.3 374.7,74.3 374.5,74.2 C374.3,74.2 373.9,74.3 373.8,74.2Z" fill="#282828" fill-opacity="0.025" stroke="#282828" stroke-width="0.45" stroke-opacity="1.00"/>
<path d="M374.8,64.6 C372.2,65.8 370.2,69.5 370.3,73.5 C370.4,76.8 372.2,78.6 374.2,78.4 C375.8,78.1 376.2,76.2 375.2,74.6 C374.4,73.4 372.8,73.6 372.4,75" fill="none" stroke="#111" stroke-width="0.9"/>
<ellipse cx="378.4" cy="75.4" rx="2.3" ry="2.9" fill="none" stroke="#1a1a1a" stroke-width="0.8" transform="rotate(20 378.4 75.4)"/>
<ellipse cx="378.4" cy="75.6" rx="1.2" ry="1.5" fill="none" stroke="#333" stroke-width="0.5"/>
<text x="371.40" y="52.00" font-size="3.1" text-anchor="middle" fill="#222">CD45, SSC-A</text>
<text x="371.40" y="56.10" font-size="3.1" text-anchor="middle" fill="#222">98.2</text>
<line x1="350.80" y1="101.70" x2="350.80" y2="117.80" stroke="#111" stroke-width="1.4"/>
<polygon points="350.80,123.80 346.55,115.50 350.80,118.17 355.05,115.50" fill="#111"/>
<rect x="554.50" y="14.60" width="70.10" height="69.80" fill="none" stroke="#b0b0b0" stroke-width="0.9"/>
<line x1="554.50" y1="14.60" x2="554.50" y2="85.60" stroke="#333" stroke-width="0.8"/>
<line x1="553.30" y1="84.40" x2="624.60" y2="84.40" stroke="#333" stroke-width="0.8"/>
<line x1="552.90" y1="83.30" x2="554.50" y2="83.30" stroke="#333" stroke-width="0.7"/>
<text x="552.20" y="84.50" font-size="3.4" text-anchor="end" fill="#444">0</text>
<line x1="552.90" y1="70.30" x2="554.50" y2="70.30" stroke="#333" stroke-width="0.7"/>
<text x="552.20" y="71.50" font-size="3.4" text-anchor="end" fill="#444">50K</text>
<line x1="552.90" y1="57.20" x2="554.50" y2="57.20" stroke="#333" stroke-width="0.7"/>
<text x="552.20" y="58.40" font-size="3.4" text-anchor="end" fill="#444">100K</text>
<line x1="552.90" y1="44.20" x2="554.50" y2="44.20" stroke="#333" stroke-width="0.7"/>
<text x="552.20" y="45.40" font-size="3.4" text-anchor="end" fill="#444">150K</text>
<line x1="552.90" y1="31.10" x2="554.50" y2="31.10" stroke="#333" stroke-width="0.7"/>
<text x="552.20" y="32.30" font-size="3.4" text-anchor="end" fill="#444">200K</text>
<line x1="552.90" y1="18.00" x2="554.50" y2="18.00" stroke="#333" stroke-width="0.7"/>
<text x="552.20" y="19.20" font-size="3.4" text-anchor="end" fill="#444">250K</text>
<line x1="553.60" y1="80.70" x2="554.50" y2="80.70" stroke="#666" stroke-width="0.5"/>
<line x1="553.60" y1="78.10" x2="554.50" y2="78.10" stroke="#666" stroke-width="0.5"/>
<line x1="553.60" y1="75.50" x2="554.50" y2="75.50" stroke="#666" stroke-width="0.5"/>
<line x1="553.60" y1="72.90" x2="554.50" y2="72.90" stroke="#666" stroke-width="0.5"/>
<line x1="553.60" y1="67.68" x2="554.50" y2="67.68" stroke="#666" stroke-width="0.5"/>
<line x1="553.60" y1="65.06" x2="554.50" y2="65.06" stroke="#666" stroke-width="0.5"/>
<line x1="553.60" y1="62.44" x2="554.50" y2="62.44" stroke="#666" stroke-width="0.5"/>
<line x1="553.60" y1="59.82" x2="554.50" y2="59.82" stroke="#666" stroke-width="0.5"/>
<line x1="553.60" y1="54.60" x2="554.50" y2="54.60" stroke="#666" stroke-width="0.5"/>
<line x1="553.60" y1="52.00" x2="554.50" y2="52.00" stroke="#666" stroke-width="0.5"/>
<line x1="553.60" y1="49.40" x2="554.50" y2="49.40" stroke="#666" stroke-width="0.5"/>
<line x1="553.60" y1="46.80" x2="554.50" y2="46.80" stroke="#666" stroke-width="0.5"/>
<line x1="553.60" y1="41.58" x2="554.50" y2="41.58" stroke="#666" stroke-width="0.5"/>
<line x1="553.60" y1="38.96" x2="554.50" y2="38.96" stroke="#666" stroke-width="0.5"/>
<line x1="553.60" y1="36.34" x2="554.50" y2="36.34" stroke="#666" stroke-width="0.5"/>
<line x1="553.60" y1="33.72" x2="554.50" y2="33.72" stroke="#666" stroke-width="0.5"/>
<line x1="553.60" y1="28.48" x2="554.50" y2="28.48" stroke="#666" stroke-width="0.5"/>
<line x1="553.60" y1="25.86" x2="554.50" y2="25.86" stroke="#666" stroke-width="0.5"/>
<line x1="553.60" y1="23.24" x2="554.50" y2="23.24" stroke="#666" stroke-width="0.5"/>
<line x1="553.60" y1="20.62" x2="554.50" y2="20.62" stroke="#666" stroke-width="0.5"/>
<line x1="562.00" y1="84.40" x2="562.00" y2="86.00" stroke="#333" stroke-width="0.7"/>
<text x="562.00" y="92.00" font-size="3.4" text-anchor="middle" fill="#444">0</text>
<line x1="578.50" y1="84.40" x2="578.50" y2="86.00" stroke="#333" stroke-width="0.7"/>
<text x="578.50" y="92.00" font-size="3.4" text-anchor="middle" fill="#444">10<tspan dy="-1.4" font-size="2.6">3</tspan></text>
<line x1="600.00" y1="84.40" x2="600.00" y2="86.00" stroke="#333" stroke-width="0.7"/>
<text x="600.00" y="92.00" font-size="3.4" text-anchor="middle" fill="#444">10<tspan dy="-1.4" font-size="2.6">4</tspan></text>
<line x1="617.00" y1="84.40" x2="617.00" y2="86.00" stroke="#333" stroke-width="0.7"/>
<text x="617.00" y="92.00" font-size="3.4" text-anchor="middle" fill="#444">10<tspan dy="-1.4" font-size="2.6">5</tspan></text>
<line x1="565.30" y1="84.40" x2="565.30" y2="85.30" stroke="#666" stroke-width="0.5"/>
<line x1="568.60" y1="84.40" x2="568.60" y2="85.30" stroke="#666" stroke-width="0.5"/>
<line x1="571.90" y1="84.40" x2="571.90" y2="85.30" stroke="#666" stroke-width="0.5"/>
<line x1="575.20" y1="84.40" x2="575.20" y2="85.30" stroke="#666" stroke-width="0.5"/>
<line x1="582.80" y1="84.40" x2="582.80" y2="85.30" stroke="#666" stroke-width="0.5"/>
<line x1="587.10" y1="84.40" x2="587.10" y2="85.30" stroke="#666" stroke-width="0.5"/>
<line x1="591.40" y1="84.40" x2="591.40" y2="85.30" stroke="#666" stroke-width="0.5"/>
<line x1="595.70" y1="84.40" x2="595.70" y2="85.30" stroke="#666" stroke-width="0.5"/>
<line x1="603.40" y1="84.40" x2="603.40" y2="85.30" stroke="#666" stroke-width="0.5"/>
<line x1="606.80" y1="84.40" x2="606.80" y2="85.30" stroke="#666" stroke-width="0.5"/>
<line x1="610.20" y1="84.40" x2="610.20" y2="85.30" stroke="#666" stroke-width="0.5"/>
<line x1="613.60" y1="84.40" x2="613.60" y2="85.30" stroke="#666" stroke-width="0.5"/>
<text x="589.55" y="99.00" font-size="3.7" text-anchor="middle" fill="#3a3a3a">Comp-BB515-A :: CD45</text>
<text x="538.90" y="49.50" font-size="3.7" text-anchor="middle" fill="#3a3a3a" transform="rotate(-90 538.9 49.5)">SSC-A</text>
<rect x="584.20" y="27.40" width="16.60" height="55.00" fill="none" stroke="#2a2a2a" stroke-width="0.7"/>
<path d="M586.3,78.0 C586.1,76.5 586.2,73.3 586.5,71.0 C586.8,68.7 587.2,65.8 588.0,64.0 C588.8,62.2 590.1,60.3 591.2,60.0 C592.3,59.7 593.7,60.7 594.5,62.0 C595.3,63.3 595.9,65.8 596.2,68.0 C596.5,70.2 596.6,73.1 596.4,75.0 C596.2,76.9 595.9,78.6 595.0,79.5 C594.1,80.4 592.2,80.2 591.0,80.3 C589.8,80.4 588.3,80.4 587.5,80.0 C586.7,79.6 586.5,79.5 586.3,78.0Z" fill="#b0b0b0" fill-opacity="0.030" stroke="#b0b0b0" stroke-width="0.45" stroke-opacity="1.00"/>
<path d="M587.2,77.7 C587.1,76.4 587.1,73.8 587.4,71.8 C587.6,69.8 588.0,67.5 588.6,65.9 C589.3,64.4 590.4,62.8 591.3,62.6 C592.2,62.3 593.4,63.1 594.1,64.2 C594.8,65.4 595.3,67.5 595.5,69.3 C595.8,71.1 595.9,73.6 595.7,75.2 C595.5,76.8 595.3,78.2 594.5,78.9 C593.8,79.7 592.2,79.5 591.2,79.6 C590.1,79.7 588.9,79.7 588.2,79.4 C587.6,79.0 587.4,78.9 587.2,77.7Z" fill="#a1a1a1" fill-opacity="0.030" stroke="#a1a1a1" stroke-width="0.45" stroke-opacity="1.00"/>
<path d="M587.8,77.5 C587.7,76.4 587.8,74.1 588.0,72.3 C588.2,70.6 588.5,68.6 589.1,67.2 C589.6,65.9 590.6,64.6 591.4,64.3 C592.2,64.1 593.2,64.8 593.8,65.8 C594.4,66.7 594.8,68.6 595.1,70.2 C595.3,71.7 595.4,73.9 595.2,75.3 C595.1,76.7 594.9,77.9 594.2,78.6 C593.5,79.2 592.2,79.1 591.3,79.1 C590.4,79.2 589.3,79.2 588.7,78.9 C588.1,78.6 588.0,78.6 587.8,77.5Z" fill="#929292" fill-opacity="0.030" stroke="#929292" stroke-width="0.45" stroke-opacity="1.00"/>
<path d="M588.4,77.3 C588.3,76.3 588.3,74.3 588.5,72.8 C588.7,71.3 589.0,69.5 589.5,68.4 C590.0,67.2 590.8,66.0 591.5,65.8 C592.2,65.6 593.1,66.3 593.6,67.1 C594.1,68.0 594.5,69.5 594.7,70.9 C594.9,72.3 594.9,74.1 594.8,75.4 C594.7,76.6 594.5,77.7 593.9,78.2 C593.3,78.8 592.2,78.7 591.4,78.7 C590.6,78.8 589.6,78.8 589.1,78.5 C588.6,78.3 588.5,78.2 588.4,77.3Z" fill="#838383" fill-opacity="0.030" stroke="#838383" stroke-width="0.45" stroke-opacity="1.00"/>
<path d="M588.9,77.1 C588.8,76.3 588.8,74.5 589.0,73.3 C589.1,72.0 589.4,70.4 589.8,69.4 C590.2,68.4 591.0,67.4 591.6,67.2 C592.2,67.1 592.9,67.6 593.4,68.3 C593.8,69.1 594.1,70.4 594.3,71.6 C594.5,72.8 594.5,74.4 594.4,75.5 C594.3,76.5 594.1,77.4 593.6,77.9 C593.1,78.4 592.1,78.3 591.5,78.4 C590.8,78.4 590.0,78.4 589.5,78.2 C589.1,78.0 589.0,77.9 588.9,77.1Z" fill="#747474" fill-opacity="0.030" stroke="#747474" stroke-width="0.45" stroke-opacity="1.00"/>
<path d="M589.4,76.9 C589.3,76.2 589.3,74.8 589.4,73.7 C589.6,72.6 589.8,71.3 590.1,70.4 C590.5,69.6 591.1,68.7 591.6,68.6 C592.1,68.4 592.8,68.9 593.2,69.5 C593.5,70.1 593.8,71.3 594.0,72.3 C594.1,73.3 594.1,74.6 594.0,75.5 C594.0,76.4 593.8,77.2 593.4,77.6 C593.0,78.0 592.1,78.0 591.5,78.0 C591.0,78.0 590.3,78.0 589.9,77.9 C589.5,77.7 589.4,77.6 589.4,76.9Z" fill="#656565" fill-opacity="0.030" stroke="#656565" stroke-width="0.45" stroke-opacity="1.00"/>
<path d="M589.8,76.8 C589.7,76.2 589.8,75.0 589.9,74.1 C590.0,73.2 590.2,72.1 590.5,71.4 C590.8,70.7 591.3,69.9 591.7,69.8 C592.1,69.7 592.6,70.1 593.0,70.6 C593.3,71.1 593.5,72.1 593.6,72.9 C593.7,73.7 593.8,74.9 593.7,75.6 C593.6,76.4 593.5,77.0 593.2,77.4 C592.8,77.7 592.1,77.6 591.6,77.7 C591.1,77.7 590.6,77.7 590.3,77.5 C590.0,77.4 589.9,77.4 589.8,76.8Z" fill="#565656" fill-opacity="0.030" stroke="#565656" stroke-width="0.45" stroke-opacity="1.00"/>
<path d="M590.2,76.6 C590.2,76.2 590.2,75.2 590.3,74.4 C590.4,73.7 590.5,72.8 590.8,72.3 C591.0,71.7 591.4,71.1 591.8,71.0 C592.1,70.9 592.5,71.2 592.8,71.6 C593.0,72.1 593.2,72.8 593.3,73.5 C593.4,74.2 593.4,75.1 593.4,75.7 C593.3,76.3 593.2,76.8 592.9,77.1 C592.7,77.4 592.1,77.3 591.7,77.3 C591.3,77.4 590.8,77.4 590.6,77.2 C590.4,77.1 590.3,77.1 590.2,76.6Z" fill="#474747" fill-opacity="0.030" stroke="#474747" stroke-width="0.45" stroke-opacity="1.00"/>
<path d="M590.6,76.5 C590.6,76.1 590.6,75.4 590.7,74.8 C590.8,74.2 590.9,73.6 591.0,73.1 C591.2,72.7 591.6,72.3 591.8,72.2 C592.1,72.1 592.4,72.3 592.6,72.7 C592.8,73.0 592.9,73.6 593.0,74.1 C593.1,74.6 593.1,75.3 593.1,75.8 C593.0,76.2 592.9,76.6 592.7,76.8 C592.5,77.0 592.1,77.0 591.8,77.0 C591.5,77.0 591.1,77.0 590.9,77.0 C590.7,76.9 590.7,76.8 590.6,76.5Z" fill="#383838" fill-opacity="0.030" stroke="#383838" stroke-width="0.45" stroke-opacity="1.00"/>
<path d="M591.0,76.3 C591.0,76.1 591.0,75.6 591.1,75.2 C591.1,74.8 591.2,74.3 591.3,74.0 C591.5,73.7 591.7,73.4 591.9,73.3 C592.0,73.2 592.3,73.4 592.4,73.6 C592.6,73.9 592.7,74.3 592.7,74.7 C592.8,75.0 592.8,75.5 592.7,75.8 C592.7,76.2 592.7,76.4 592.5,76.6 C592.4,76.7 592.0,76.7 591.8,76.7 C591.6,76.7 591.4,76.7 591.2,76.7 C591.1,76.6 591.1,76.6 591.0,76.3Z" fill="#292929" fill-opacity="0.030" stroke="#292929" stroke-width="0.45" stroke-opacity="1.00"/>
<path d="M591.4,76.2 C591.4,76.0 591.4,75.7 591.5,75.5 C591.5,75.3 591.5,75.0 591.6,74.8 C591.7,74.6 591.8,74.4 591.9,74.4 C592.0,74.4 592.2,74.5 592.2,74.6 C592.3,74.7 592.4,75.0 592.4,75.2 C592.5,75.4 592.5,75.7 592.4,75.9 C592.4,76.1 592.4,76.3 592.3,76.3 C592.2,76.4 592.0,76.4 591.9,76.4 C591.8,76.4 591.6,76.4 591.5,76.4 C591.5,76.4 591.4,76.4 591.4,76.2Z" fill="#1a1a1a" fill-opacity="0.030" stroke="#1a1a1a" stroke-width="0.45" stroke-opacity="1.00"/>
<path d="M593.8,63.5 C593.8,64.0 593.6,64.5 593.3,64.9 C593.0,65.3 592.5,65.6 592.0,65.8 C591.5,65.9 590.9,65.9 590.4,65.8 C589.9,65.6 589.4,65.3 589.1,64.9 C588.8,64.5 588.6,64.0 588.6,63.5 C588.6,63.0 588.8,62.5 589.1,62.1 C589.4,61.7 589.9,61.4 590.4,61.2 C590.9,61.1 591.5,61.1 592.0,61.2 C592.5,61.4 593.0,61.7 593.3,62.1 C593.6,62.5 593.8,63.0 593.8,63.5Z" fill="#888" fill-opacity="0.000" stroke="#888" stroke-width="0.4" stroke-opacity="1.00"/>
<path d="M592.9,63.7 C592.9,64.0 592.8,64.3 592.6,64.6 C592.4,64.8 592.0,65.1 591.7,65.2 C591.4,65.3 591.0,65.3 590.7,65.2 C590.4,65.1 590.0,64.8 589.8,64.6 C589.6,64.3 589.5,64.0 589.5,63.7 C589.5,63.4 589.6,63.0 589.8,62.8 C590.0,62.5 590.4,62.3 590.7,62.2 C591.0,62.1 591.4,62.1 591.7,62.2 C592.0,62.3 592.4,62.5 592.6,62.8 C592.8,63.0 592.9,63.4 592.9,63.7Z" fill="#888" fill-opacity="0.000" stroke="#888" stroke-width="0.4" stroke-opacity="1.00"/>
<path d="M592.0,63.9 C592.0,64.0 591.9,64.2 591.8,64.3 C591.7,64.4 591.6,64.5 591.4,64.5 C591.3,64.6 591.1,64.6 591.0,64.5 C590.8,64.5 590.7,64.4 590.6,64.3 C590.5,64.2 590.4,64.0 590.4,63.9 C590.4,63.7 590.5,63.5 590.6,63.4 C590.7,63.3 590.8,63.2 591.0,63.2 C591.1,63.1 591.3,63.1 591.4,63.2 C591.6,63.2 591.7,63.3 591.8,63.4 C591.9,63.5 592.0,63.7 592.0,63.9Z" fill="#888" fill-opacity="0.000" stroke="#888" stroke-width="0.4" stroke-opacity="1.00"/>
<rect x="582.50" y="50.60" width="19" height="8" fill="#fff"/>
<text x="592.00" y="53.60" font-size="3.1" text-anchor="middle" fill="#222">CD45, SSC-A</text>
<text x="592.00" y="57.70" font-size="3.1" text-anchor="middle" fill="#222">97.3</text>
<rect x="568" y="84" width="2.4" height="1.6" fill="#111"/>
<line x1="588.60" y1="100.80" x2="588.60" y2="116.20" stroke="#111" stroke-width="1.4"/>
<polygon points="588.60,122.20 584.35,113.90 588.60,116.58 592.85,113.90" fill="#111"/>
<rect x="316.30" y="125.20" width="69.30" height="70.20" fill="none" stroke="#b0b0b0" stroke-width="0.9"/>
<line x1="316.30" y1="125.20" x2="316.30" y2="196.60" stroke="#333" stroke-width="0.8"/>
<line x1="315.10" y1="195.40" x2="385.60" y2="195.40" stroke="#333" stroke-width="0.8"/>
<line x1="314.70" y1="189.50" x2="316.30" y2="189.50" stroke="#333" stroke-width="0.7"/>
<text x="314.00" y="190.70" font-size="3.4" text-anchor="end" fill="#444">-10<tspan dy="-1.4" font-size="2.6">3</tspan></text>
<line x1="314.70" y1="174.50" x2="316.30" y2="174.50" stroke="#333" stroke-width="0.7"/>
<text x="314.00" y="175.70" font-size="3.4" text-anchor="end" fill="#444">0</text>
<line x1="314.70" y1="161.80" x2="316.30" y2="161.80" stroke="#333" stroke-width="0.7"/>
<text x="314.00" y="163.00" font-size="3.4" text-anchor="end" fill="#444">10<tspan dy="-1.4" font-size="2.6">3</tspan></text>
<line x1="314.70" y1="148.50" x2="316.30" y2="148.50" stroke="#333" stroke-width="0.7"/>
<text x="314.00" y="149.70" font-size="3.4" text-anchor="end" fill="#444">10<tspan dy="-1.4" font-size="2.6">4</tspan></text>
<line x1="314.70" y1="135.50" x2="316.30" y2="135.50" stroke="#333" stroke-width="0.7"/>
<text x="314.00" y="136.70" font-size="3.4" text-anchor="end" fill="#444">10<tspan dy="-1.4" font-size="2.6">5</tspan></text>
<line x1="315.40" y1="186.50" x2="316.30" y2="186.50" stroke="#666" stroke-width="0.5"/>
<line x1="315.40" y1="183.50" x2="316.30" y2="183.50" stroke="#666" stroke-width="0.5"/>
<line x1="315.40" y1="180.50" x2="316.30" y2="180.50" stroke="#666" stroke-width="0.5"/>
<line x1="315.40" y1="177.50" x2="316.30" y2="177.50" stroke="#666" stroke-width="0.5"/>
<line x1="315.40" y1="171.96" x2="316.30" y2="171.96" stroke="#666" stroke-width="0.5"/>
<line x1="315.40" y1="169.42" x2="316.30" y2="169.42" stroke="#666" stroke-width="0.5"/>
<line x1="315.40" y1="166.88" x2="316.30" y2="166.88" stroke="#666" stroke-width="0.5"/>
<line x1="315.40" y1="164.34" x2="316.30" y2="164.34" stroke="#666" stroke-width="0.5"/>
<line x1="315.40" y1="159.14" x2="316.30" y2="159.14" stroke="#666" stroke-width="0.5"/>
<line x1="315.40" y1="156.48" x2="316.30" y2="156.48" stroke="#666" stroke-width="0.5"/>
<line x1="315.40" y1="153.82" x2="316.30" y2="153.82" stroke="#666" stroke-width="0.5"/>
<line x1="315.40" y1="151.16" x2="316.30" y2="151.16" stroke="#666" stroke-width="0.5"/>
<line x1="315.40" y1="145.90" x2="316.30" y2="145.90" stroke="#666" stroke-width="0.5"/>
<line x1="315.40" y1="143.30" x2="316.30" y2="143.30" stroke="#666" stroke-width="0.5"/>
<line x1="315.40" y1="140.70" x2="316.30" y2="140.70" stroke="#666" stroke-width="0.5"/>
<line x1="315.40" y1="138.10" x2="316.30" y2="138.10" stroke="#666" stroke-width="0.5"/>
<line x1="327.00" y1="195.40" x2="327.00" y2="197.00" stroke="#333" stroke-width="0.7"/>
<text x="327.00" y="203.00" font-size="3.4" text-anchor="middle" fill="#444">-10<tspan dy="-1.4" font-size="2.6">3</tspan></text>
<line x1="338.50" y1="195.40" x2="338.50" y2="197.00" stroke="#333" stroke-width="0.7"/>
<text x="338.50" y="203.00" font-size="3.4" text-anchor="middle" fill="#444">0</text>
<line x1="353.50" y1="195.40" x2="353.50" y2="197.00" stroke="#333" stroke-width="0.7"/>
<text x="353.50" y="203.00" font-size="3.4" text-anchor="middle" fill="#444">10<tspan dy="-1.4" font-size="2.6">3</tspan></text>
<line x1="369.00" y1="195.40" x2="369.00" y2="197.00" stroke="#333" stroke-width="0.7"/>
<text x="369.00" y="203.00" font-size="3.4" text-anchor="middle" fill="#444">10<tspan dy="-1.4" font-size="2.6">4</tspan></text>
<line x1="383.00" y1="195.40" x2="383.00" y2="197.00" stroke="#333" stroke-width="0.7"/>
<text x="383.00" y="203.00" font-size="3.4" text-anchor="middle" fill="#444">10<tspan dy="-1.4" font-size="2.6">5</tspan></text>
<line x1="329.30" y1="195.40" x2="329.30" y2="196.30" stroke="#666" stroke-width="0.5"/>
<line x1="331.60" y1="195.40" x2="331.60" y2="196.30" stroke="#666" stroke-width="0.5"/>
<line x1="333.90" y1="195.40" x2="333.90" y2="196.30" stroke="#666" stroke-width="0.5"/>
<line x1="336.20" y1="195.40" x2="336.20" y2="196.30" stroke="#666" stroke-width="0.5"/>
<line x1="341.50" y1="195.40" x2="341.50" y2="196.30" stroke="#666" stroke-width="0.5"/>
<line x1="344.50" y1="195.40" x2="344.50" y2="196.30" stroke="#666" stroke-width="0.5"/>
<line x1="347.50" y1="195.40" x2="347.50" y2="196.30" stroke="#666" stroke-width="0.5"/>
<line x1="350.50" y1="195.40" x2="350.50" y2="196.30" stroke="#666" stroke-width="0.5"/>
<line x1="356.60" y1="195.40" x2="356.60" y2="196.30" stroke="#666" stroke-width="0.5"/>
<line x1="359.70" y1="195.40" x2="359.70" y2="196.30" stroke="#666" stroke-width="0.5"/>
<line x1="362.80" y1="195.40" x2="362.80" y2="196.30" stroke="#666" stroke-width="0.5"/>
<line x1="365.90" y1="195.40" x2="365.90" y2="196.30" stroke="#666" stroke-width="0.5"/>
<line x1="371.80" y1="195.40" x2="371.80" y2="196.30" stroke="#666" stroke-width="0.5"/>
<line x1="374.60" y1="195.40" x2="374.60" y2="196.30" stroke="#666" stroke-width="0.5"/>
<line x1="377.40" y1="195.40" x2="377.40" y2="196.30" stroke="#666" stroke-width="0.5"/>
<line x1="380.20" y1="195.40" x2="380.20" y2="196.30" stroke="#666" stroke-width="0.5"/>
<text x="350.95" y="210.00" font-size="3.7" text-anchor="middle" fill="#3a3a3a">Comp-PerCP-Cy5-5-A :: CD3</text>
<text x="301.30" y="160.30" font-size="3.7" text-anchor="middle" fill="#3a3a3a" transform="rotate(-90 301.3 160.3)">Comp-BV510-A :: CD4</text>
<line x1="352.50" y1="125.20" x2="352.50" y2="195.40" stroke="#4a4a4a" stroke-width="1.0"/>
<line x1="316.30" y1="161.30" x2="385.60" y2="161.30" stroke="#4a4a4a" stroke-width="1.0"/>
<text x="317.90" y="130.80" font-size="3.2" text-anchor="start" fill="#333">Q1</text>
<text x="317.90" y="135.20" font-size="3.2" text-anchor="start" fill="#333">1.26</text>
<text x="379.60" y="130.80" font-size="3.2" text-anchor="end" fill="#333">Q2</text>
<text x="379.60" y="135.20" font-size="3.2" text-anchor="end" fill="#333">10.5</text>
<text x="317.90" y="187.60" font-size="3.2" text-anchor="start" fill="#333">Q4</text>
<text x="317.90" y="192.40" font-size="3.2" text-anchor="start" fill="#333">55.6</text>
<text x="379.60" y="187.60" font-size="3.2" text-anchor="end" fill="#333">Q3</text>
<text x="379.60" y="192.40" font-size="3.2" text-anchor="end" fill="#333">28.8</text>
<path d="M357.0,158.5 C357.0,157.8 357.7,156.5 358.5,156.0 C359.3,155.5 361.0,155.4 362.0,155.5 C363.0,155.6 364.1,155.9 364.5,156.5 C364.9,157.1 365.0,158.3 364.6,159.0 C364.2,159.7 363.0,160.3 362.0,160.5 C361.0,160.7 359.3,160.6 358.5,160.3 C357.7,160.0 357.0,159.2 357.0,158.5Z" fill="#9ccaf6" fill-opacity="0.015" stroke="#9ccaf6" stroke-width="0.45" stroke-opacity="1.00"/>
<path d="M358.2,158.3 C358.2,157.8 358.7,156.9 359.2,156.6 C359.8,156.2 361.0,156.2 361.7,156.2 C362.4,156.3 363.1,156.5 363.4,156.9 C363.8,157.4 363.8,158.2 363.5,158.7 C363.2,159.2 362.4,159.6 361.7,159.8 C361.0,159.9 359.8,159.8 359.2,159.6 C358.7,159.4 358.2,158.9 358.2,158.3Z" fill="#aad2f8" fill-opacity="0.015" stroke="#aad2f8" stroke-width="0.45" stroke-opacity="1.00"/>
<path d="M359.4,158.2 C359.4,157.9 359.7,157.4 360.0,157.2 C360.3,157.0 361.0,157.0 361.4,157.0 C361.8,157.0 362.2,157.2 362.4,157.4 C362.6,157.6 362.6,158.1 362.4,158.4 C362.3,158.7 361.8,158.9 361.4,159.0 C361.0,159.1 360.3,159.1 360.0,158.9 C359.7,158.8 359.4,158.5 359.4,158.2Z" fill="#b8dafa" fill-opacity="0.015" stroke="#b8dafa" stroke-width="0.45" stroke-opacity="1.00"/>
<path d="M354.0,167.0 C354.8,165.9 356.5,165.7 358.0,165.6 C359.5,165.5 361.7,165.8 363.0,166.5 C364.3,167.2 365.4,168.6 365.6,170.0 C365.9,171.4 365.4,173.8 364.5,175.0 C363.6,176.2 361.6,176.9 360.0,177.1 C358.4,177.3 356.1,176.8 355.0,176.0 C353.9,175.2 353.7,173.5 353.5,172.0 C353.3,170.5 353.2,168.1 354.0,167.0Z" fill="#78b8f2" fill-opacity="0.010" stroke="#78b8f2" stroke-width="0.5" stroke-opacity="1.00"/>
<path d="M354.8,167.6 C355.5,166.7 357.0,166.5 358.3,166.4 C359.6,166.4 361.5,166.6 362.6,167.2 C363.7,167.8 364.6,169.0 364.8,170.2 C365.0,171.4 364.7,173.5 363.9,174.5 C363.1,175.5 361.4,176.2 360.0,176.3 C358.6,176.5 356.6,176.1 355.7,175.4 C354.8,174.6 354.6,173.2 354.4,171.9 C354.3,170.6 354.2,168.5 354.8,167.6Z" fill="#81bdf3" fill-opacity="0.010" stroke="#81bdf3" stroke-width="0.5" stroke-opacity="1.00"/>
<path d="M355.7,168.3 C356.2,167.5 357.5,167.3 358.6,167.3 C359.6,167.2 361.2,167.4 362.2,167.9 C363.1,168.4 363.9,169.4 364.0,170.4 C364.2,171.4 363.9,173.2 363.2,174.0 C362.6,174.9 361.1,175.4 360.0,175.5 C358.9,175.7 357.2,175.4 356.4,174.7 C355.6,174.1 355.4,172.9 355.3,171.9 C355.2,170.8 355.1,169.0 355.7,168.3Z" fill="#8bc2f4" fill-opacity="0.010" stroke="#8bc2f4" stroke-width="0.5" stroke-opacity="1.00"/>
<path d="M356.5,168.9 C357.0,168.3 358.0,168.1 358.8,168.1 C359.7,168.0 361.0,168.2 361.7,168.6 C362.5,169.0 363.1,169.8 363.2,170.6 C363.4,171.5 363.2,172.8 362.6,173.5 C362.1,174.2 360.9,174.7 360.0,174.7 C359.1,174.8 357.7,174.6 357.1,174.1 C356.5,173.6 356.3,172.7 356.2,171.8 C356.1,170.9 356.1,169.5 356.5,168.9Z" fill="#94c7f5" fill-opacity="0.010" stroke="#94c7f5" stroke-width="0.5" stroke-opacity="1.00"/>
<path d="M357.4,169.5 C357.7,169.1 358.5,168.9 359.1,168.9 C359.8,168.9 360.8,169.0 361.3,169.3 C361.9,169.6 362.4,170.2 362.5,170.8 C362.6,171.5 362.4,172.5 362.0,173.0 C361.6,173.6 360.7,173.9 360.0,174.0 C359.3,174.0 358.3,173.9 357.8,173.5 C357.3,173.1 357.2,172.4 357.1,171.7 C357.1,171.1 357.0,170.0 357.4,169.5Z" fill="#9eccf6" fill-opacity="0.010" stroke="#9eccf6" stroke-width="0.5" stroke-opacity="1.00"/>
<path d="M358.2,170.2 C358.4,169.8 358.9,169.8 359.4,169.7 C359.8,169.7 360.5,169.8 360.9,170.0 C361.3,170.2 361.6,170.6 361.7,171.1 C361.8,171.5 361.6,172.2 361.4,172.6 C361.1,172.9 360.5,173.1 360.0,173.2 C359.5,173.2 358.8,173.1 358.5,172.8 C358.2,172.6 358.1,172.1 358.1,171.7 C358.0,171.2 358.0,170.5 358.2,170.2Z" fill="#a8d2f8" fill-opacity="0.010" stroke="#a8d2f8" stroke-width="0.5" stroke-opacity="1.00"/>
<path d="M354.1,167.4 C354.2,167.8 354.1,168.3 353.8,168.8 C353.6,169.3 353.1,169.8 352.5,170.3 C351.8,170.8 351.0,171.3 350.1,171.7 C349.2,172.2 348.2,172.6 347.1,172.9 C346.1,173.3 344.9,173.6 343.8,173.7 C342.7,173.9 341.6,174.1 340.6,174.1 C339.6,174.1 338.7,174.1 337.9,173.9 C337.1,173.8 336.4,173.5 336.0,173.3 C335.5,173.0 335.2,172.6 335.1,172.2 C335.0,171.8 335.1,171.3 335.4,170.8 C335.6,170.3 336.1,169.8 336.7,169.3 C337.4,168.8 338.2,168.3 339.1,167.9 C340.0,167.4 341.0,167.0 342.1,166.7 C343.1,166.3 344.3,166.0 345.4,165.9 C346.5,165.7 347.6,165.5 348.6,165.5 C349.6,165.5 350.5,165.5 351.3,165.7 C352.1,165.8 352.8,166.1 353.2,166.3 C353.7,166.6 354.0,167.0 354.1,167.4Z" fill="#5aa6ee" fill-opacity="0.013" stroke="#5aa6ee" stroke-width="0.5" stroke-opacity="1.00"/>
<path d="M353.1,167.7 C353.2,168.1 353.1,168.5 352.9,168.9 C352.6,169.4 352.2,169.8 351.6,170.3 C351.1,170.7 350.3,171.2 349.5,171.6 C348.7,172.0 347.8,172.3 346.8,172.7 C345.9,173.0 344.8,173.2 343.9,173.4 C342.9,173.6 341.9,173.7 341.0,173.7 C340.1,173.7 339.2,173.7 338.5,173.6 C337.8,173.4 337.2,173.2 336.8,173.0 C336.4,172.7 336.1,172.3 336.0,172.0 C335.9,171.6 336.0,171.2 336.2,170.7 C336.5,170.3 336.9,169.8 337.5,169.4 C338.0,169.0 338.8,168.5 339.6,168.1 C340.4,167.7 341.3,167.3 342.3,167.0 C343.2,166.7 344.3,166.5 345.3,166.3 C346.2,166.1 347.3,166.0 348.1,166.0 C349.0,165.9 349.9,166.0 350.6,166.1 C351.3,166.3 351.9,166.5 352.3,166.7 C352.7,167.0 353.0,167.3 353.1,167.7Z" fill="#65acef" fill-opacity="0.013" stroke="#65acef" stroke-width="0.5" stroke-opacity="1.00"/>
<path d="M352.1,168.0 C352.2,168.3 352.1,168.7 351.9,169.1 C351.7,169.5 351.3,169.9 350.8,170.3 C350.3,170.7 349.7,171.1 348.9,171.4 C348.2,171.8 347.4,172.1 346.5,172.4 C345.7,172.6 344.8,172.9 343.9,173.0 C343.0,173.2 342.1,173.3 341.3,173.3 C340.5,173.3 339.8,173.3 339.2,173.2 C338.5,173.1 338.0,172.9 337.6,172.6 C337.2,172.4 337.0,172.1 336.9,171.8 C336.8,171.4 336.9,171.1 337.1,170.7 C337.3,170.3 337.7,169.9 338.2,169.5 C338.7,169.1 339.4,168.7 340.1,168.3 C340.8,168.0 341.7,167.7 342.5,167.4 C343.3,167.1 344.3,166.9 345.1,166.7 C346.0,166.6 346.9,166.5 347.7,166.4 C348.5,166.4 349.3,166.5 349.9,166.6 C350.5,166.7 351.1,166.9 351.4,167.1 C351.8,167.3 352.0,167.7 352.1,168.0Z" fill="#70b2f0" fill-opacity="0.013" stroke="#70b2f0" stroke-width="0.5" stroke-opacity="1.00"/>
<path d="M351.1,168.3 C351.2,168.5 351.1,168.9 350.9,169.2 C350.8,169.6 350.4,169.9 350.0,170.3 C349.5,170.6 349.0,171.0 348.4,171.3 C347.7,171.6 347.0,171.9 346.3,172.1 C345.5,172.3 344.7,172.5 343.9,172.7 C343.2,172.8 342.4,172.9 341.7,172.9 C341.0,172.9 340.3,172.9 339.8,172.8 C339.2,172.7 338.8,172.5 338.4,172.3 C338.1,172.1 337.9,171.9 337.8,171.6 C337.8,171.3 337.8,171.0 338.0,170.6 C338.2,170.3 338.5,169.9 339.0,169.6 C339.4,169.2 340.0,168.9 340.6,168.6 C341.2,168.3 342.0,168.0 342.7,167.7 C343.4,167.5 344.3,167.3 345.0,167.2 C345.8,167.0 346.6,166.9 347.3,166.9 C348.0,166.9 348.6,166.9 349.2,167.0 C349.7,167.1 350.2,167.3 350.5,167.5 C350.8,167.7 351.1,168.0 351.1,168.3Z" fill="#7bb8f2" fill-opacity="0.013" stroke="#7bb8f2" stroke-width="0.5" stroke-opacity="1.00"/>
<path d="M350.1,168.5 C350.2,168.8 350.1,169.1 350.0,169.4 C349.8,169.6 349.5,170.0 349.2,170.3 C348.8,170.5 348.3,170.9 347.8,171.1 C347.2,171.4 346.6,171.6 346.0,171.8 C345.3,172.0 344.6,172.2 344.0,172.3 C343.3,172.4 342.6,172.5 342.1,172.5 C341.5,172.6 340.9,172.5 340.4,172.4 C339.9,172.4 339.5,172.2 339.3,172.0 C339.0,171.9 338.8,171.6 338.7,171.4 C338.7,171.1 338.7,170.8 338.9,170.6 C339.1,170.3 339.4,170.0 339.7,169.7 C340.1,169.4 340.6,169.1 341.1,168.8 C341.7,168.5 342.3,168.3 342.9,168.1 C343.6,167.9 344.3,167.7 344.9,167.6 C345.6,167.5 346.2,167.4 346.8,167.4 C347.4,167.4 348.0,167.4 348.5,167.5 C348.9,167.6 349.3,167.7 349.6,167.9 C349.9,168.1 350.1,168.3 350.1,168.5Z" fill="#86bff3" fill-opacity="0.013" stroke="#86bff3" stroke-width="0.5" stroke-opacity="1.00"/>
<path d="M349.2,168.8 C349.2,169.0 349.2,169.3 349.0,169.5 C348.9,169.7 348.6,170.0 348.3,170.2 C348.0,170.5 347.6,170.7 347.2,171.0 C346.7,171.2 346.2,171.4 345.7,171.6 C345.1,171.7 344.6,171.9 344.0,172.0 C343.5,172.1 342.9,172.1 342.4,172.1 C341.9,172.2 341.4,172.1 341.0,172.1 C340.7,172.0 340.3,171.9 340.1,171.7 C339.9,171.6 339.7,171.4 339.6,171.2 C339.6,171.0 339.6,170.7 339.8,170.5 C339.9,170.3 340.2,170.0 340.5,169.8 C340.8,169.5 341.2,169.3 341.6,169.0 C342.1,168.8 342.6,168.6 343.1,168.4 C343.7,168.3 344.2,168.1 344.8,168.0 C345.3,167.9 345.9,167.9 346.4,167.9 C346.9,167.8 347.4,167.9 347.8,167.9 C348.1,168.0 348.5,168.1 348.7,168.3 C348.9,168.4 349.1,168.6 349.2,168.8Z" fill="#91c5f5" fill-opacity="0.013" stroke="#91c5f5" stroke-width="0.5" stroke-opacity="1.00"/>
<path d="M348.2,169.1 C348.2,169.3 348.2,169.4 348.1,169.6 C347.9,169.8 347.8,170.0 347.5,170.2 C347.3,170.4 346.9,170.6 346.6,170.8 C346.2,171.0 345.8,171.2 345.4,171.3 C345.0,171.4 344.5,171.5 344.1,171.6 C343.6,171.7 343.2,171.7 342.8,171.8 C342.4,171.8 342.0,171.7 341.7,171.7 C341.4,171.6 341.1,171.5 340.9,171.4 C340.7,171.3 340.6,171.2 340.6,171.0 C340.5,170.8 340.6,170.6 340.7,170.4 C340.8,170.2 341.0,170.0 341.2,169.8 C341.5,169.6 341.8,169.4 342.1,169.3 C342.5,169.1 342.9,168.9 343.3,168.8 C343.8,168.7 344.2,168.5 344.7,168.5 C345.1,168.4 345.6,168.3 346.0,168.3 C346.3,168.3 346.7,168.3 347.0,168.4 C347.4,168.4 347.6,168.5 347.8,168.7 C348.0,168.8 348.1,168.9 348.2,169.1Z" fill="#9ccbf6" fill-opacity="0.013" stroke="#9ccbf6" stroke-width="0.5" stroke-opacity="1.00"/>
<path d="M347.2,169.4 C347.2,169.5 347.2,169.6 347.1,169.8 C347.0,169.9 346.9,170.1 346.7,170.2 C346.5,170.4 346.2,170.5 346.0,170.7 C345.7,170.8 345.4,170.9 345.1,171.0 C344.8,171.1 344.4,171.2 344.1,171.3 C343.8,171.3 343.4,171.4 343.1,171.4 C342.8,171.4 342.5,171.4 342.3,171.3 C342.1,171.3 341.9,171.2 341.7,171.1 C341.6,171.0 341.5,170.9 341.5,170.8 C341.4,170.7 341.5,170.5 341.5,170.4 C341.6,170.2 341.8,170.1 342.0,169.9 C342.1,169.8 342.4,169.6 342.7,169.5 C342.9,169.4 343.2,169.2 343.6,169.1 C343.9,169.0 344.2,169.0 344.6,168.9 C344.9,168.8 345.2,168.8 345.5,168.8 C345.8,168.8 346.1,168.8 346.3,168.8 C346.6,168.9 346.8,169.0 346.9,169.0 C347.0,169.1 347.1,169.2 347.2,169.4Z" fill="#a8d2f8" fill-opacity="0.013" stroke="#a8d2f8" stroke-width="0.5" stroke-opacity="1.00"/>
<polygon points="358.4,138.2 373.5,148.3 368,163.7 357.9,163.5 349.2,152.3" fill="none" stroke="#2a2a2a" stroke-width="0.7"/>
<text x="361.00" y="149.90" font-size="3.1" text-anchor="middle" fill="#222">CD8, CD4</text>
<text x="361.00" y="154.00" font-size="3.1" text-anchor="middle" fill="#222">18.8</text>
<rect x="315" y="172.5" width="1.6" height="3.2" fill="#111"/>
<rect x="334" y="194.8" width="3.2" height="1.6" fill="#111"/>
<line x1="315.20" y1="196.50" x2="287.66" y2="229.21" stroke="#111" stroke-width="1.4"/>
<polygon points="283.80,233.80 285.89,224.71 287.42,229.50 292.40,230.19" fill="#111"/>
<line x1="350.70" y1="210.30" x2="350.70" y2="226.20" stroke="#111" stroke-width="1.4"/>
<polygon points="350.70,232.20 346.45,223.90 350.70,226.57 354.95,223.90" fill="#111"/>
<line x1="386.30" y1="196.50" x2="414.05" y2="228.28" stroke="#111" stroke-width="1.4"/>
<polygon points="418.00,232.80 409.34,229.34 414.30,228.56 415.74,223.75" fill="#111"/>
<rect x="554.40" y="125.40" width="69.80" height="69.60" fill="none" stroke="#b0b0b0" stroke-width="0.9"/>
<line x1="554.40" y1="125.40" x2="554.40" y2="196.20" stroke="#333" stroke-width="0.8"/>
<line x1="553.20" y1="195.00" x2="624.20" y2="195.00" stroke="#333" stroke-width="0.8"/>
<line x1="552.80" y1="190.50" x2="554.40" y2="190.50" stroke="#333" stroke-width="0.7"/>
<text x="552.10" y="191.70" font-size="3.4" text-anchor="end" fill="#444">-10<tspan dy="-1.4" font-size="2.6">3</tspan></text>
<line x1="552.80" y1="179.00" x2="554.40" y2="179.00" stroke="#333" stroke-width="0.7"/>
<text x="552.10" y="180.20" font-size="3.4" text-anchor="end" fill="#444">0</text>
<line x1="552.80" y1="166.50" x2="554.40" y2="166.50" stroke="#333" stroke-width="0.7"/>
<text x="552.10" y="167.70" font-size="3.4" text-anchor="end" fill="#444">10<tspan dy="-1.4" font-size="2.6">3</tspan></text>
<line x1="552.80" y1="154.00" x2="554.40" y2="154.00" stroke="#333" stroke-width="0.7"/>
<text x="552.10" y="155.20" font-size="3.4" text-anchor="end" fill="#444">10<tspan dy="-1.4" font-size="2.6">4</tspan></text>
<line x1="552.80" y1="141.50" x2="554.40" y2="141.50" stroke="#333" stroke-width="0.7"/>
<text x="552.10" y="142.70" font-size="3.4" text-anchor="end" fill="#444">10<tspan dy="-1.4" font-size="2.6">5</tspan></text>
<line x1="552.80" y1="130.00" x2="554.40" y2="130.00" stroke="#333" stroke-width="0.7"/>
<text x="552.10" y="131.20" font-size="3.4" text-anchor="end" fill="#444">10<tspan dy="-1.4" font-size="2.6">6</tspan></text>
<line x1="553.50" y1="188.20" x2="554.40" y2="188.20" stroke="#666" stroke-width="0.5"/>
<line x1="553.50" y1="185.90" x2="554.40" y2="185.90" stroke="#666" stroke-width="0.5"/>
<line x1="553.50" y1="183.60" x2="554.40" y2="183.60" stroke="#666" stroke-width="0.5"/>
<line x1="553.50" y1="181.30" x2="554.40" y2="181.30" stroke="#666" stroke-width="0.5"/>
<line x1="553.50" y1="176.50" x2="554.40" y2="176.50" stroke="#666" stroke-width="0.5"/>
<line x1="553.50" y1="174.00" x2="554.40" y2="174.00" stroke="#666" stroke-width="0.5"/>
<line x1="553.50" y1="171.50" x2="554.40" y2="171.50" stroke="#666" stroke-width="0.5"/>
<line x1="553.50" y1="169.00" x2="554.40" y2="169.00" stroke="#666" stroke-width="0.5"/>
<line x1="553.50" y1="164.00" x2="554.40" y2="164.00" stroke="#666" stroke-width="0.5"/>
<line x1="553.50" y1="161.50" x2="554.40" y2="161.50" stroke="#666" stroke-width="0.5"/>
<line x1="553.50" y1="159.00" x2="554.40" y2="159.00" stroke="#666" stroke-width="0.5"/>
<line x1="553.50" y1="156.50" x2="554.40" y2="156.50" stroke="#666" stroke-width="0.5"/>
<line x1="553.50" y1="151.50" x2="554.40" y2="151.50" stroke="#666" stroke-width="0.5"/>
<line x1="553.50" y1="149.00" x2="554.40" y2="149.00" stroke="#666" stroke-width="0.5"/>
<line x1="553.50" y1="146.50" x2="554.40" y2="146.50" stroke="#666" stroke-width="0.5"/>
<line x1="553.50" y1="144.00" x2="554.40" y2="144.00" stroke="#666" stroke-width="0.5"/>
<line x1="553.50" y1="139.20" x2="554.40" y2="139.20" stroke="#666" stroke-width="0.5"/>
<line x1="553.50" y1="136.90" x2="554.40" y2="136.90" stroke="#666" stroke-width="0.5"/>
<line x1="553.50" y1="134.60" x2="554.40" y2="134.60" stroke="#666" stroke-width="0.5"/>
<line x1="553.50" y1="132.30" x2="554.40" y2="132.30" stroke="#666" stroke-width="0.5"/>
<line x1="558.50" y1="195.00" x2="558.50" y2="196.60" stroke="#333" stroke-width="0.7"/>
<text x="558.50" y="202.60" font-size="3.4" text-anchor="middle" fill="#444">-10<tspan dy="-1.4" font-size="2.6">3</tspan></text>
<line x1="580.50" y1="195.00" x2="580.50" y2="196.60" stroke="#333" stroke-width="0.7"/>
<text x="580.50" y="202.60" font-size="3.4" text-anchor="middle" fill="#444">0</text>
<line x1="605.00" y1="195.00" x2="605.00" y2="196.60" stroke="#333" stroke-width="0.7"/>
<text x="605.00" y="202.60" font-size="3.4" text-anchor="middle" fill="#444">10<tspan dy="-1.4" font-size="2.6">4</tspan></text>
<line x1="620.00" y1="195.00" x2="620.00" y2="196.60" stroke="#333" stroke-width="0.7"/>
<text x="620.00" y="202.60" font-size="3.4" text-anchor="middle" fill="#444">10<tspan dy="-1.4" font-size="2.6">5</tspan></text>
<line x1="562.90" y1="195.00" x2="562.90" y2="195.90" stroke="#666" stroke-width="0.5"/>
<line x1="567.30" y1="195.00" x2="567.30" y2="195.90" stroke="#666" stroke-width="0.5"/>
<line x1="571.70" y1="195.00" x2="571.70" y2="195.90" stroke="#666" stroke-width="0.5"/>
<line x1="576.10" y1="195.00" x2="576.10" y2="195.90" stroke="#666" stroke-width="0.5"/>
<line x1="585.40" y1="195.00" x2="585.40" y2="195.90" stroke="#666" stroke-width="0.5"/>
<line x1="590.30" y1="195.00" x2="590.30" y2="195.90" stroke="#666" stroke-width="0.5"/>
<line x1="595.20" y1="195.00" x2="595.20" y2="195.90" stroke="#666" stroke-width="0.5"/>
<line x1="600.10" y1="195.00" x2="600.10" y2="195.90" stroke="#666" stroke-width="0.5"/>
<line x1="608.00" y1="195.00" x2="608.00" y2="195.90" stroke="#666" stroke-width="0.5"/>
<line x1="611.00" y1="195.00" x2="611.00" y2="195.90" stroke="#666" stroke-width="0.5"/>
<line x1="614.00" y1="195.00" x2="614.00" y2="195.90" stroke="#666" stroke-width="0.5"/>
<line x1="617.00" y1="195.00" x2="617.00" y2="195.90" stroke="#666" stroke-width="0.5"/>
<text x="589.30" y="209.60" font-size="3.7" text-anchor="middle" fill="#3a3a3a">Comp-PerCP-Cy5-5-A :: CD3</text>
<text x="539.30" y="160.20" font-size="3.7" text-anchor="middle" fill="#3a3a3a" transform="rotate(-90 539.3 160.2)">Comp-APC-A :: CD8</text>
<rect x="581.30" y="132.50" width="32.40" height="26.40" fill="none" stroke="#2a2a2a" stroke-width="0.7"/>
<path d="M580.5,162.0 C581.8,161.7 583.6,163.1 585.0,164.0 C586.4,164.9 587.9,166.5 589.0,167.5 C590.1,168.5 590.7,170.0 591.5,170.0 C592.3,170.0 593.0,168.6 594.0,167.5 C595.0,166.4 596.3,164.4 597.5,163.5 C598.7,162.6 599.8,161.9 601.0,162.0 C602.2,162.1 603.9,162.7 605.0,164.0 C606.1,165.3 607.0,167.8 607.5,170.0 C608.0,172.2 608.2,174.8 608.0,177.0 C607.8,179.2 607.0,181.8 606.0,183.0 C605.0,184.2 603.5,184.7 602.0,184.5 C600.5,184.3 598.5,183.1 597.0,182.0 C595.5,180.9 594.2,178.6 593.0,178.0 C591.8,177.4 591.0,177.8 590.0,178.5 C589.0,179.2 588.3,181.1 587.0,182.0 C585.7,182.9 583.7,183.8 582.0,184.0 C580.3,184.2 578.3,183.8 577.0,183.0 C575.7,182.2 574.4,180.7 574.0,179.0 C573.6,177.3 574.0,175.2 574.5,173.0 C575.0,170.8 576.0,167.8 577.0,166.0 C578.0,164.2 579.2,162.3 580.5,162.0Z" fill="#f09098" fill-opacity="0.013" stroke="#f09098" stroke-width="0.45" stroke-opacity="1.00"/>
<path d="M581.2,162.8 C582.5,162.5 584.1,163.8 585.4,164.7 C586.7,165.6 588.1,167.0 589.1,168.0 C590.1,168.9 590.7,170.3 591.5,170.3 C592.2,170.3 592.9,169.0 593.8,168.0 C594.7,166.9 596.0,165.1 597.0,164.2 C598.1,163.4 599.1,162.8 600.3,162.8 C601.5,162.9 603.0,163.5 604.0,164.7 C605.0,165.9 605.9,168.3 606.3,170.3 C606.8,172.3 607.0,174.8 606.8,176.8 C606.6,178.8 605.9,181.2 605.0,182.4 C604.0,183.5 602.6,183.9 601.2,183.8 C599.8,183.6 598.0,182.4 596.6,181.4 C595.2,180.4 593.9,178.3 592.9,177.7 C591.8,177.2 591.0,177.6 590.1,178.2 C589.1,178.8 588.5,180.6 587.3,181.4 C586.0,182.3 584.2,183.1 582.6,183.3 C581.1,183.5 579.2,183.1 578.0,182.4 C576.7,181.6 575.6,180.2 575.2,178.7 C574.8,177.1 575.2,175.1 575.7,173.1 C576.1,171.1 577.0,168.3 578.0,166.6 C578.9,164.9 580.0,163.2 581.2,162.8Z" fill="#ef8c94" fill-opacity="0.013" stroke="#ef8c94" stroke-width="0.45" stroke-opacity="1.00"/>
<path d="M582.0,163.7 C583.1,163.4 584.6,164.6 585.8,165.4 C587.1,166.2 588.3,167.6 589.3,168.4 C590.2,169.3 590.7,170.6 591.4,170.6 C592.1,170.6 592.7,169.3 593.6,168.4 C594.4,167.5 595.6,165.8 596.6,165.0 C597.6,164.2 598.5,163.6 599.6,163.7 C600.7,163.8 602.1,164.3 603.0,165.4 C604.0,166.5 604.8,168.7 605.2,170.6 C605.6,172.4 605.8,174.7 605.6,176.6 C605.4,178.4 604.8,180.7 603.9,181.7 C603.0,182.8 601.8,183.2 600.5,183.0 C599.2,182.9 597.4,181.8 596.2,180.9 C594.9,179.9 593.7,177.9 592.7,177.4 C591.7,176.9 591.0,177.3 590.1,177.9 C589.3,178.4 588.7,180.1 587.6,180.9 C586.4,181.7 584.7,182.5 583.3,182.6 C581.8,182.7 580.1,182.5 579.0,181.7 C577.8,181.0 576.7,179.7 576.4,178.3 C576.0,176.9 576.4,175.0 576.8,173.1 C577.2,171.3 578.1,168.7 579.0,167.1 C579.8,165.5 580.8,164.0 582.0,163.7Z" fill="#ee8890" fill-opacity="0.013" stroke="#ee8890" stroke-width="0.45" stroke-opacity="1.00"/>
<path d="M582.7,164.5 C583.8,164.3 585.1,165.4 586.3,166.1 C587.4,166.8 588.6,168.1 589.4,168.9 C590.3,169.7 590.7,170.8 591.4,170.8 C592.1,170.8 592.6,169.7 593.4,168.9 C594.2,168.0 595.2,166.4 596.1,165.7 C597.1,165.0 597.9,164.5 598.9,164.5 C599.9,164.6 601.2,165.0 602.1,166.1 C602.9,167.2 603.6,169.1 604.0,170.8 C604.4,172.6 604.6,174.7 604.4,176.4 C604.2,178.1 603.6,180.1 602.9,181.1 C602.1,182.1 600.9,182.4 599.7,182.3 C598.5,182.2 596.9,181.2 595.7,180.3 C594.6,179.5 593.5,177.6 592.6,177.2 C591.7,176.7 591.0,177.0 590.2,177.6 C589.4,178.1 588.9,179.6 587.8,180.3 C586.8,181.0 585.2,181.8 583.9,181.9 C582.6,182.0 581.0,181.8 579.9,181.1 C578.9,180.5 577.9,179.3 577.6,177.9 C577.2,176.6 577.6,174.9 578.0,173.2 C578.4,171.5 579.2,169.1 579.9,167.7 C580.7,166.2 581.7,164.8 582.7,164.5Z" fill="#ed848c" fill-opacity="0.013" stroke="#ed848c" stroke-width="0.45" stroke-opacity="1.00"/>
<path d="M583.4,165.4 C584.4,165.1 585.7,166.1 586.7,166.8 C587.7,167.5 588.8,168.6 589.6,169.3 C590.3,170.0 590.8,171.1 591.4,171.1 C592.0,171.1 592.4,170.1 593.2,169.3 C593.9,168.5 594.8,167.1 595.7,166.4 C596.5,165.8 597.3,165.3 598.2,165.4 C599.1,165.4 600.3,165.8 601.1,166.8 C601.9,167.8 602.5,169.6 602.9,171.1 C603.2,172.7 603.4,174.6 603.2,176.2 C603.1,177.7 602.5,179.6 601.8,180.5 C601.1,181.4 600.0,181.7 598.9,181.6 C597.8,181.4 596.4,180.5 595.3,179.8 C594.2,179.0 593.3,177.3 592.4,176.9 C591.6,176.5 591.0,176.8 590.3,177.2 C589.6,177.7 589.1,179.1 588.1,179.8 C587.2,180.4 585.7,181.1 584.5,181.2 C583.3,181.3 581.9,181.1 580.9,180.5 C580.0,179.9 579.1,178.8 578.8,177.6 C578.5,176.4 578.8,174.8 579.1,173.3 C579.5,171.7 580.2,169.6 580.9,168.2 C581.6,166.9 582.5,165.6 583.4,165.4Z" fill="#ec8088" fill-opacity="0.013" stroke="#ec8088" stroke-width="0.45" stroke-opacity="1.00"/>
<path d="M584.0,177.2 C584.0,177.8 583.8,178.6 583.5,179.1 C583.2,179.6 582.7,180.2 582.2,180.5 C581.7,180.8 581.0,181.0 580.4,181.0 C579.8,181.0 579.1,180.8 578.6,180.5 C578.1,180.2 577.6,179.6 577.3,179.1 C577.0,178.6 576.8,177.8 576.8,177.2 C576.8,176.6 577.0,175.8 577.3,175.3 C577.6,174.8 578.1,174.2 578.6,173.9 C579.1,173.6 579.8,173.4 580.4,173.4 C581.0,173.4 581.7,173.6 582.2,173.9 C582.7,174.2 583.2,174.8 583.5,175.3 C583.8,175.8 584.0,176.6 584.0,177.2Z" fill="#e01828" fill-opacity="0.025" stroke="#e01828" stroke-width="0.55" stroke-opacity="1.00"/>
<path d="M583.1,177.2 C583.1,177.7 583.0,178.2 582.7,178.6 C582.5,179.0 582.1,179.4 581.8,179.7 C581.4,179.9 580.9,180.1 580.4,180.1 C579.9,180.1 579.4,179.9 579.0,179.7 C578.7,179.4 578.3,179.0 578.1,178.6 C577.8,178.2 577.7,177.7 577.7,177.2 C577.7,176.7 577.8,176.2 578.1,175.8 C578.3,175.4 578.7,175.0 579.0,174.7 C579.4,174.5 579.9,174.3 580.4,174.3 C580.9,174.3 581.4,174.5 581.8,174.7 C582.1,175.0 582.5,175.4 582.7,175.8 C583.0,176.2 583.1,176.7 583.1,177.2Z" fill="#e01828" fill-opacity="0.025" stroke="#e01828" stroke-width="0.55" stroke-opacity="1.00"/>
<path d="M582.2,177.2 C582.2,177.5 582.1,177.9 582.0,178.1 C581.8,178.4 581.6,178.7 581.3,178.8 C581.0,179.0 580.7,179.1 580.4,179.1 C580.1,179.1 579.8,179.0 579.5,178.8 C579.2,178.7 579.0,178.4 578.8,178.1 C578.7,177.9 578.6,177.5 578.6,177.2 C578.6,176.9 578.7,176.5 578.8,176.2 C579.0,176.0 579.2,175.7 579.5,175.6 C579.8,175.4 580.1,175.3 580.4,175.3 C580.7,175.3 581.0,175.4 581.3,175.6 C581.6,175.7 581.8,176.0 582.0,176.2 C582.1,176.5 582.2,176.9 582.2,177.2Z" fill="#e01828" fill-opacity="0.025" stroke="#e01828" stroke-width="0.55" stroke-opacity="1.00"/>
<path d="M595.8,173.8 C595.8,174.3 595.6,174.9 595.2,175.4 C594.8,175.9 594.2,176.3 593.5,176.6 C592.9,176.8 592.0,177.0 591.3,177.0 C590.5,177.0 589.7,176.8 589.0,176.6 C588.4,176.3 587.8,175.9 587.4,175.4 C587.0,174.9 586.8,174.3 586.8,173.8 C586.8,173.3 587.0,172.7 587.4,172.2 C587.8,171.7 588.4,171.3 589.0,171.0 C589.7,170.8 590.5,170.6 591.3,170.6 C592.0,170.6 592.9,170.8 593.5,171.0 C594.2,171.3 594.8,171.7 595.2,172.2 C595.6,172.7 595.8,173.3 595.8,173.8Z" fill="#f09aa2" fill-opacity="0.010" stroke="#f09aa2" stroke-width="0.45" stroke-opacity="1.00"/>
<path d="M594.4,173.8 C594.4,174.2 594.3,174.6 594.0,174.9 C593.8,175.2 593.3,175.6 592.9,175.7 C592.4,175.9 591.8,176.0 591.3,176.0 C590.8,176.0 590.2,175.9 589.7,175.7 C589.3,175.6 588.8,175.2 588.6,174.9 C588.3,174.6 588.1,174.2 588.1,173.8 C588.1,173.4 588.3,173.0 588.6,172.7 C588.8,172.4 589.3,172.0 589.7,171.9 C590.2,171.7 590.8,171.6 591.3,171.6 C591.8,171.6 592.4,171.7 592.9,171.9 C593.3,172.0 593.8,172.4 594.0,172.7 C594.3,173.0 594.4,173.4 594.4,173.8Z" fill="#f09aa2" fill-opacity="0.010" stroke="#f09aa2" stroke-width="0.45" stroke-opacity="1.00"/>
<path d="M593.1,173.8 C593.1,174.0 593.0,174.3 592.9,174.4 C592.7,174.6 592.5,174.8 592.2,174.9 C591.9,175.0 591.6,175.1 591.3,175.1 C591.0,175.1 590.7,175.0 590.4,174.9 C590.1,174.8 589.9,174.6 589.7,174.4 C589.6,174.3 589.5,174.0 589.5,173.8 C589.5,173.6 589.6,173.3 589.7,173.2 C589.9,173.0 590.1,172.8 590.4,172.7 C590.7,172.6 591.0,172.5 591.3,172.5 C591.6,172.5 591.9,172.6 592.2,172.7 C592.5,172.8 592.7,173.0 592.9,173.2 C593.0,173.3 593.1,173.6 593.1,173.8Z" fill="#f09aa2" fill-opacity="0.010" stroke="#f09aa2" stroke-width="0.45" stroke-opacity="1.00"/>
<path d="M580.5,163.0 C581.8,162.8 583.5,163.9 585.0,165.0 C586.5,166.1 588.7,167.8 589.5,169.5 C590.3,171.2 590.4,173.1 590.0,175.0 C589.6,176.9 588.3,179.6 587.0,181.0 C585.7,182.4 583.7,183.2 582.0,183.5 C580.3,183.8 578.2,183.3 577.0,182.5 C575.8,181.7 574.8,180.2 574.5,178.5 C574.2,176.8 574.5,174.1 575.0,172.0 C575.5,169.9 576.6,167.5 577.5,166.0 C578.4,164.5 579.2,163.2 580.5,163.0Z" fill="#ec7880" fill-opacity="0.035" stroke="#ec7880" stroke-width="0.45" stroke-opacity="1.00"/>
<path d="M580.4,164.8 C581.5,164.6 583.0,165.6 584.3,166.5 C585.6,167.5 587.5,169.0 588.2,170.5 C589.0,171.9 589.0,173.6 588.7,175.3 C588.3,176.9 587.2,179.3 586.1,180.5 C584.9,181.7 583.1,182.5 581.7,182.7 C580.2,182.9 578.4,182.5 577.3,181.8 C576.2,181.1 575.4,179.8 575.1,178.3 C574.9,176.8 575.1,174.5 575.6,172.6 C576.0,170.8 577.0,168.7 577.8,167.4 C578.6,166.1 579.3,164.9 580.4,164.8Z" fill="#ea6d76" fill-opacity="0.035" stroke="#ea6d76" stroke-width="0.45" stroke-opacity="1.00"/>
<path d="M580.3,166.2 C581.3,166.1 582.6,166.9 583.8,167.7 C584.9,168.6 586.6,169.9 587.2,171.2 C587.9,172.5 587.9,174.0 587.6,175.5 C587.3,176.9 586.3,179.0 585.3,180.1 C584.3,181.2 582.7,181.8 581.5,182.0 C580.2,182.2 578.6,181.9 577.6,181.2 C576.6,180.6 575.9,179.5 575.7,178.2 C575.4,176.8 575.7,174.8 576.1,173.1 C576.4,171.5 577.3,169.7 578.0,168.5 C578.7,167.4 579.3,166.3 580.3,166.2Z" fill="#e8626c" fill-opacity="0.035" stroke="#e8626c" stroke-width="0.45" stroke-opacity="1.00"/>
<path d="M580.2,167.5 C581.1,167.4 582.2,168.1 583.3,168.9 C584.3,169.6 585.7,170.8 586.3,171.9 C586.9,173.1 586.9,174.4 586.6,175.6 C586.4,176.9 585.5,178.7 584.6,179.7 C583.7,180.7 582.4,181.2 581.2,181.4 C580.1,181.6 578.7,181.3 577.8,180.7 C577.0,180.2 576.4,179.2 576.1,178.0 C575.9,176.8 576.1,175.0 576.5,173.6 C576.8,172.2 577.6,170.6 578.2,169.6 C578.8,168.5 579.4,167.6 580.2,167.5Z" fill="#e65862" fill-opacity="0.035" stroke="#e65862" stroke-width="0.45" stroke-opacity="1.00"/>
<path d="M580.1,168.8 C580.9,168.7 581.9,169.3 582.8,170.0 C583.7,170.6 584.9,171.6 585.4,172.6 C585.9,173.6 585.9,174.7 585.7,175.8 C585.5,177.0 584.7,178.5 583.9,179.3 C583.2,180.2 582.0,180.7 581.0,180.8 C580.0,181.0 578.8,180.7 578.1,180.2 C577.3,179.7 576.8,178.9 576.6,177.9 C576.4,176.9 576.6,175.3 576.9,174.1 C577.2,172.8 577.8,171.4 578.4,170.5 C578.9,169.7 579.4,168.9 580.1,168.8Z" fill="#e44d58" fill-opacity="0.035" stroke="#e44d58" stroke-width="0.45" stroke-opacity="1.00"/>
<path d="M580.1,170.0 C580.7,169.9 581.6,170.4 582.3,171.0 C583.1,171.5 584.1,172.4 584.6,173.2 C585.0,174.1 585.0,175.0 584.8,176.0 C584.6,177.0 584.0,178.3 583.3,179.0 C582.6,179.7 581.6,180.1 580.8,180.3 C580.0,180.4 578.9,180.2 578.3,179.8 C577.7,179.3 577.2,178.6 577.0,177.8 C576.9,176.9 577.0,175.5 577.3,174.5 C577.5,173.5 578.1,172.2 578.5,171.5 C579.0,170.7 579.4,170.1 580.1,170.0Z" fill="#e2434f" fill-opacity="0.035" stroke="#e2434f" stroke-width="0.45" stroke-opacity="1.00"/>
<path d="M580.0,171.2 C580.5,171.1 581.2,171.5 581.9,172.0 C582.5,172.4 583.4,173.2 583.7,173.9 C584.1,174.6 584.1,175.4 583.9,176.2 C583.8,177.0 583.2,178.1 582.7,178.7 C582.1,179.3 581.3,179.6 580.6,179.7 C579.9,179.8 579.0,179.6 578.5,179.3 C578.0,178.9 577.6,178.4 577.5,177.6 C577.3,176.9 577.5,175.8 577.7,174.9 C577.9,174.0 578.3,173.0 578.7,172.4 C579.1,171.8 579.5,171.2 580.0,171.2Z" fill="#e03845" fill-opacity="0.035" stroke="#e03845" stroke-width="0.45" stroke-opacity="1.00"/>
<path d="M579.9,172.3 C580.3,172.2 580.9,172.6 581.4,173.0 C581.9,173.3 582.6,173.9 582.9,174.5 C583.2,175.0 583.2,175.7 583.1,176.3 C582.9,177.0 582.5,177.9 582.1,178.3 C581.6,178.8 581.0,179.1 580.4,179.2 C579.8,179.3 579.1,179.1 578.7,178.8 C578.3,178.6 578.0,178.1 577.9,177.5 C577.8,176.9 577.9,176.0 578.1,175.3 C578.2,174.6 578.6,173.8 578.9,173.3 C579.2,172.8 579.5,172.4 579.9,172.3Z" fill="#de2d3b" fill-opacity="0.035" stroke="#de2d3b" stroke-width="0.45" stroke-opacity="1.00"/>
<path d="M579.8,173.4 C580.1,173.4 580.6,173.7 581.0,173.9 C581.4,174.2 581.9,174.7 582.1,175.1 C582.3,175.5 582.4,176.0 582.3,176.5 C582.2,177.0 581.8,177.7 581.5,178.0 C581.1,178.4 580.6,178.6 580.2,178.7 C579.8,178.7 579.3,178.6 578.9,178.4 C578.6,178.2 578.4,177.8 578.3,177.4 C578.2,176.9 578.3,176.3 578.4,175.7 C578.6,175.2 578.8,174.6 579.1,174.2 C579.3,173.8 579.5,173.5 579.8,173.4Z" fill="#dc2331" fill-opacity="0.035" stroke="#dc2331" stroke-width="0.45" stroke-opacity="1.00"/>
<path d="M579.8,174.5 C580.0,174.5 580.3,174.7 580.6,174.9 C580.8,175.1 581.2,175.4 581.4,175.7 C581.5,176.0 581.5,176.3 581.4,176.6 C581.4,177.0 581.1,177.5 580.9,177.7 C580.7,178.0 580.3,178.1 580.0,178.2 C579.7,178.2 579.4,178.1 579.1,178.0 C578.9,177.8 578.8,177.6 578.7,177.3 C578.6,177.0 578.7,176.5 578.8,176.1 C578.9,175.7 579.1,175.3 579.2,175.1 C579.4,174.8 579.5,174.6 579.8,174.5Z" fill="#da1827" fill-opacity="0.035" stroke="#da1827" stroke-width="0.45" stroke-opacity="1.00"/>
<path d="M579.7,175.6 C579.8,175.6 580.0,175.7 580.1,175.8 C580.3,175.9 580.5,176.1 580.6,176.2 C580.7,176.4 580.7,176.6 580.6,176.8 C580.6,177.0 580.5,177.3 580.3,177.4 C580.2,177.5 580.0,177.6 579.8,177.7 C579.7,177.7 579.5,177.6 579.3,177.6 C579.2,177.5 579.1,177.3 579.1,177.2 C579.1,177.0 579.1,176.7 579.1,176.5 C579.2,176.3 579.3,176.1 579.4,175.9 C579.5,175.8 579.6,175.6 579.7,175.6Z" fill="#d80e1e" fill-opacity="0.035" stroke="#d80e1e" stroke-width="0.45" stroke-opacity="1.00"/>
<path d="M601.0,163.0 C602.2,163.1 604.0,163.8 605.0,165.0 C606.0,166.2 606.8,168.0 607.3,170.0 C607.8,172.0 608.0,174.9 607.7,177.0 C607.4,179.1 606.5,181.4 605.5,182.5 C604.5,183.6 602.9,184.1 601.5,183.8 C600.1,183.6 598.3,182.2 597.0,181.0 C595.7,179.8 594.0,178.5 593.5,176.5 C593.0,174.5 593.3,171.0 594.0,169.0 C594.7,167.0 596.3,165.5 597.5,164.5 C598.7,163.5 599.8,162.9 601.0,163.0Z" fill="#ee8088" fill-opacity="0.020" stroke="#ee8088" stroke-width="0.45" stroke-opacity="1.00"/>
<path d="M601.1,164.2 C602.2,164.3 603.8,164.9 604.7,166.0 C605.6,167.1 606.4,168.7 606.8,170.5 C607.2,172.3 607.4,174.9 607.1,176.8 C606.9,178.7 606.1,180.7 605.1,181.8 C604.2,182.8 602.8,183.1 601.5,182.9 C600.3,182.7 598.7,181.5 597.5,180.4 C596.3,179.3 594.8,178.2 594.4,176.3 C593.9,174.5 594.2,171.4 594.8,169.6 C595.4,167.8 596.9,166.5 598.0,165.6 C599.0,164.7 600.0,164.1 601.1,164.2Z" fill="#ec7780" fill-opacity="0.020" stroke="#ec7780" stroke-width="0.45" stroke-opacity="1.00"/>
<path d="M601.2,165.4 C602.2,165.5 603.6,166.1 604.4,167.0 C605.2,167.9 605.9,169.4 606.2,171.0 C606.6,172.6 606.8,174.9 606.6,176.6 C606.3,178.3 605.6,180.1 604.8,181.0 C604.0,181.9 602.7,182.2 601.6,182.0 C600.5,181.8 599.1,180.8 598.0,179.8 C596.9,178.8 595.6,177.8 595.2,176.2 C594.8,174.6 595.1,171.8 595.6,170.2 C596.1,168.6 597.5,167.4 598.4,166.6 C599.3,165.8 600.2,165.3 601.2,165.4Z" fill="#ea6e78" fill-opacity="0.020" stroke="#ea6e78" stroke-width="0.45" stroke-opacity="1.00"/>
<path d="M601.3,166.6 C602.2,166.7 603.4,167.2 604.1,168.0 C604.8,168.8 605.4,170.1 605.7,171.5 C606.0,172.9 606.2,174.9 606.0,176.4 C605.8,177.9 605.2,179.5 604.5,180.2 C603.7,181.0 602.6,181.3 601.6,181.2 C600.7,181.0 599.4,180.1 598.5,179.2 C597.6,178.3 596.4,177.5 596.0,176.1 C595.7,174.7 595.9,172.2 596.4,170.8 C596.9,169.4 598.0,168.4 598.9,167.7 C599.7,166.9 600.4,166.5 601.3,166.6Z" fill="#e96570" fill-opacity="0.020" stroke="#e96570" stroke-width="0.45" stroke-opacity="1.00"/>
<path d="M601.4,167.8 C602.1,167.9 603.2,168.3 603.8,169.0 C604.4,169.7 604.9,170.8 605.2,172.0 C605.4,173.2 605.6,174.9 605.4,176.2 C605.2,177.4 604.7,178.8 604.1,179.5 C603.5,180.2 602.6,180.4 601.7,180.3 C600.9,180.1 599.8,179.3 599.0,178.6 C598.2,177.9 597.2,177.1 596.9,175.9 C596.6,174.7 596.8,172.6 597.2,171.4 C597.6,170.2 598.6,169.3 599.3,168.7 C600.0,168.1 600.6,167.8 601.4,167.8Z" fill="#e75c68" fill-opacity="0.020" stroke="#e75c68" stroke-width="0.45" stroke-opacity="1.00"/>
<path d="M601.5,169.0 C602.1,169.0 603.0,169.4 603.5,170.0 C604.0,170.6 604.4,171.5 604.6,172.5 C604.9,173.5 605.0,175.0 604.9,176.0 C604.7,177.0 604.3,178.2 603.8,178.8 C603.2,179.3 602.5,179.5 601.8,179.4 C601.0,179.3 600.2,178.6 599.5,178.0 C598.8,177.4 598.0,176.8 597.8,175.8 C597.5,174.8 597.7,173.0 598.0,172.0 C598.3,171.0 599.2,170.2 599.8,169.8 C600.3,169.2 600.9,169.0 601.5,169.0Z" fill="#e65360" fill-opacity="0.020" stroke="#e65360" stroke-width="0.45" stroke-opacity="1.00"/>
<path d="M601.6,170.2 C602.1,170.2 602.8,170.5 603.2,171.0 C603.6,171.5 603.9,172.2 604.1,173.0 C604.3,173.8 604.4,175.0 604.3,175.8 C604.2,176.6 603.8,177.5 603.4,178.0 C603.0,178.5 602.4,178.6 601.8,178.5 C601.2,178.4 600.5,177.9 600.0,177.4 C599.5,176.9 598.8,176.4 598.6,175.6 C598.4,174.8 598.5,173.4 598.8,172.6 C599.1,171.8 599.7,171.2 600.2,170.8 C600.7,170.4 601.1,170.2 601.6,170.2Z" fill="#e44a58" fill-opacity="0.020" stroke="#e44a58" stroke-width="0.45" stroke-opacity="1.00"/>
<path d="M601.7,171.4 C602.1,171.4 602.6,171.7 602.9,172.0 C603.2,172.3 603.5,172.9 603.6,173.5 C603.7,174.1 603.8,175.0 603.7,175.6 C603.6,176.2 603.4,176.9 603.0,177.2 C602.7,177.6 602.3,177.7 601.9,177.6 C601.4,177.6 600.9,177.2 600.5,176.8 C600.1,176.4 599.6,176.0 599.5,175.4 C599.3,174.8 599.4,173.8 599.6,173.2 C599.8,172.6 600.3,172.1 600.6,171.8 C601.0,171.6 601.3,171.4 601.7,171.4Z" fill="#e34150" fill-opacity="0.020" stroke="#e34150" stroke-width="0.45" stroke-opacity="1.00"/>
<path d="M601.8,172.6 C602.0,172.6 602.4,172.8 602.6,173.0 C602.8,173.2 603.0,173.6 603.1,174.0 C603.1,174.4 603.2,175.0 603.1,175.4 C603.1,175.8 602.9,176.3 602.7,176.5 C602.5,176.7 602.2,176.8 601.9,176.8 C601.6,176.7 601.3,176.4 601.0,176.2 C600.7,176.0 600.4,175.7 600.3,175.3 C600.2,174.9 600.3,174.2 600.4,173.8 C600.5,173.4 600.9,173.1 601.1,172.9 C601.3,172.7 601.5,172.6 601.8,172.6Z" fill="#e13848" fill-opacity="0.020" stroke="#e13848" stroke-width="0.45" stroke-opacity="1.00"/>
<path d="M601.9,173.8 C602.0,173.8 602.2,173.9 602.3,174.0 C602.4,174.1 602.5,174.3 602.5,174.5 C602.6,174.7 602.6,175.0 602.6,175.2 C602.5,175.4 602.5,175.6 602.4,175.8 C602.2,175.9 602.1,175.9 602.0,175.9 C601.8,175.9 601.6,175.7 601.5,175.6 C601.4,175.5 601.2,175.3 601.1,175.2 C601.1,175.0 601.1,174.6 601.2,174.4 C601.3,174.2 601.4,174.0 601.5,173.9 C601.7,173.8 601.8,173.8 601.9,173.8Z" fill="#e03040" fill-opacity="0.020" stroke="#e03040" stroke-width="0.45" stroke-opacity="1.00"/>
<circle cx="579.8" cy="177" r="0.7" fill="#fff"/>
<path d="M603.0,139.5 C603.7,139.4 605.0,141.6 605.5,143.0 C606.0,144.4 606.2,146.3 606.0,148.0 C605.8,149.7 605.2,151.8 604.0,153.0 C602.8,154.2 600.7,155.2 599.0,155.5 C597.3,155.8 595.0,155.6 594.0,155.0 C593.0,154.4 592.6,152.6 593.0,152.0 C593.4,151.4 595.2,152.1 596.5,151.5 C597.8,150.9 599.7,149.8 600.5,148.5 C601.3,147.2 601.1,145.0 601.5,143.5 C601.9,142.0 602.3,139.6 603.0,139.5Z" fill="#ee8890" fill-opacity="0.010" stroke="#ee8890" stroke-width="0.45" stroke-opacity="1.00"/>
<path d="M603.1,140.5 C603.6,140.4 604.8,142.3 605.2,143.5 C605.6,144.7 605.9,146.4 605.6,147.8 C605.4,149.2 604.9,151.0 603.9,152.1 C602.9,153.2 601.1,154.0 599.6,154.2 C598.2,154.5 596.2,154.3 595.3,153.8 C594.5,153.3 594.1,151.7 594.5,151.2 C594.8,150.7 596.4,151.3 597.5,150.8 C598.6,150.3 600.2,149.4 600.9,148.2 C601.6,147.1 601.4,145.2 601.8,143.9 C602.1,142.6 602.5,140.6 603.1,140.5Z" fill="#eb767f" fill-opacity="0.010" stroke="#eb767f" stroke-width="0.45" stroke-opacity="1.00"/>
<path d="M603.1,141.5 C603.6,141.4 604.6,143.0 604.9,144.0 C605.3,145.0 605.5,146.4 605.3,147.6 C605.1,148.8 604.7,150.3 603.9,151.2 C603.0,152.1 601.5,152.7 600.3,153.0 C599.1,153.2 597.4,153.0 596.7,152.6 C595.9,152.2 595.6,150.9 595.9,150.5 C596.2,150.0 597.6,150.5 598.5,150.1 C599.4,149.7 600.7,148.9 601.3,147.9 C601.9,147.0 601.8,145.4 602.1,144.3 C602.4,143.3 602.7,141.5 603.1,141.5Z" fill="#e8646e" fill-opacity="0.010" stroke="#e8646e" stroke-width="0.45" stroke-opacity="1.00"/>
<path d="M603.2,142.4 C603.6,142.4 604.4,143.6 604.7,144.5 C604.9,145.3 605.1,146.4 605.0,147.4 C604.8,148.3 604.5,149.5 603.8,150.3 C603.1,151.0 601.9,151.5 600.9,151.7 C599.9,151.9 598.6,151.8 598.0,151.4 C597.4,151.1 597.2,150.0 597.4,149.7 C597.7,149.4 598.7,149.7 599.4,149.4 C600.2,149.1 601.3,148.4 601.8,147.7 C602.2,146.9 602.1,145.6 602.3,144.8 C602.6,143.9 602.8,142.5 603.2,142.4Z" fill="#e5535d" fill-opacity="0.010" stroke="#e5535d" stroke-width="0.45" stroke-opacity="1.00"/>
<path d="M603.3,143.4 C603.6,143.4 604.2,144.3 604.4,145.0 C604.6,145.6 604.7,146.4 604.6,147.2 C604.5,147.9 604.2,148.8 603.7,149.4 C603.2,149.9 602.3,150.3 601.5,150.5 C600.8,150.6 599.8,150.5 599.3,150.2 C598.9,150.0 598.7,149.2 598.9,148.9 C599.1,148.7 599.9,149.0 600.4,148.7 C601.0,148.4 601.8,148.0 602.2,147.4 C602.5,146.8 602.4,145.8 602.6,145.2 C602.8,144.5 603.0,143.5 603.3,143.4Z" fill="#e2414c" fill-opacity="0.010" stroke="#e2414c" stroke-width="0.45" stroke-opacity="1.00"/>
<path d="M603.4,144.4 C603.6,144.4 604.0,145.0 604.1,145.4 C604.2,145.9 604.3,146.4 604.2,146.9 C604.2,147.4 604.0,148.1 603.6,148.4 C603.3,148.8 602.6,149.1 602.1,149.2 C601.6,149.3 600.9,149.2 600.6,149.1 C600.4,148.9 600.2,148.3 600.4,148.2 C600.5,148.0 601.0,148.2 601.4,148.0 C601.8,147.8 602.4,147.5 602.6,147.1 C602.9,146.7 602.8,146.0 602.9,145.6 C603.0,145.2 603.1,144.4 603.4,144.4Z" fill="#e0303c" fill-opacity="0.010" stroke="#e0303c" stroke-width="0.45" stroke-opacity="1.00"/>
<text x="596.80" y="144.60" font-size="3.1" text-anchor="middle" fill="#222">CD8, CD3</text>
<text x="596.80" y="148.70" font-size="3.1" text-anchor="middle" fill="#222">95.6</text>
<rect x="553" y="176.5" width="1.6" height="3.2" fill="#111"/>
<rect x="577.5" y="194.4" width="2.6" height="1.6" fill="#111"/>
<line x1="552.80" y1="196.60" x2="525.20" y2="228.84" stroke="#111" stroke-width="1.4"/>
<polygon points="521.30,233.40 523.47,224.33 524.96,229.13 529.93,229.86" fill="#111"/>
<line x1="625.80" y1="196.60" x2="652.67" y2="227.66" stroke="#111" stroke-width="1.4"/>
<polygon points="656.60,232.20 647.96,228.70 652.92,227.95 654.38,223.14" fill="#111"/>
<rect x="234.20" y="240.10" width="69.40" height="69.40" fill="none" stroke="#b0b0b0" stroke-width="0.9"/>
<line x1="234.20" y1="240.10" x2="234.20" y2="310.70" stroke="#333" stroke-width="0.8"/>
<line x1="233.00" y1="309.50" x2="303.60" y2="309.50" stroke="#333" stroke-width="0.8"/>
<line x1="232.60" y1="306.50" x2="234.20" y2="306.50" stroke="#333" stroke-width="0.7"/>
<text x="231.90" y="307.70" font-size="3.4" text-anchor="end" fill="#444">-10<tspan dy="-1.4" font-size="2.6">4</tspan></text>
<line x1="232.60" y1="289.50" x2="234.20" y2="289.50" stroke="#333" stroke-width="0.7"/>
<text x="231.90" y="290.70" font-size="3.4" text-anchor="end" fill="#444">-10<tspan dy="-1.4" font-size="2.6">3</tspan></text>
<line x1="232.60" y1="282.00" x2="234.20" y2="282.00" stroke="#333" stroke-width="0.7"/>
<text x="231.90" y="283.20" font-size="3.4" text-anchor="end" fill="#444">0</text>
<line x1="232.60" y1="275.70" x2="234.20" y2="275.70" stroke="#333" stroke-width="0.7"/>
<text x="231.90" y="276.90" font-size="3.4" text-anchor="end" fill="#444">10<tspan dy="-1.4" font-size="2.6">3</tspan></text>
<line x1="232.60" y1="259.90" x2="234.20" y2="259.90" stroke="#333" stroke-width="0.7"/>
<text x="231.90" y="261.10" font-size="3.4" text-anchor="end" fill="#444">10<tspan dy="-1.4" font-size="2.6">4</tspan></text>
<line x1="232.60" y1="246.60" x2="234.20" y2="246.60" stroke="#333" stroke-width="0.7"/>
<text x="231.90" y="247.80" font-size="3.4" text-anchor="end" fill="#444">10<tspan dy="-1.4" font-size="2.6">5</tspan></text>
<line x1="233.30" y1="303.10" x2="234.20" y2="303.10" stroke="#666" stroke-width="0.5"/>
<line x1="233.30" y1="299.70" x2="234.20" y2="299.70" stroke="#666" stroke-width="0.5"/>
<line x1="233.30" y1="296.30" x2="234.20" y2="296.30" stroke="#666" stroke-width="0.5"/>
<line x1="233.30" y1="292.90" x2="234.20" y2="292.90" stroke="#666" stroke-width="0.5"/>
<line x1="233.30" y1="288.00" x2="234.20" y2="288.00" stroke="#666" stroke-width="0.5"/>
<line x1="233.30" y1="286.50" x2="234.20" y2="286.50" stroke="#666" stroke-width="0.5"/>
<line x1="233.30" y1="285.00" x2="234.20" y2="285.00" stroke="#666" stroke-width="0.5"/>
<line x1="233.30" y1="283.50" x2="234.20" y2="283.50" stroke="#666" stroke-width="0.5"/>
<line x1="233.30" y1="280.74" x2="234.20" y2="280.74" stroke="#666" stroke-width="0.5"/>
<line x1="233.30" y1="279.48" x2="234.20" y2="279.48" stroke="#666" stroke-width="0.5"/>
<line x1="233.30" y1="278.22" x2="234.20" y2="278.22" stroke="#666" stroke-width="0.5"/>
<line x1="233.30" y1="276.96" x2="234.20" y2="276.96" stroke="#666" stroke-width="0.5"/>
<line x1="233.30" y1="272.54" x2="234.20" y2="272.54" stroke="#666" stroke-width="0.5"/>
<line x1="233.30" y1="269.38" x2="234.20" y2="269.38" stroke="#666" stroke-width="0.5"/>
<line x1="233.30" y1="266.22" x2="234.20" y2="266.22" stroke="#666" stroke-width="0.5"/>
<line x1="233.30" y1="263.06" x2="234.20" y2="263.06" stroke="#666" stroke-width="0.5"/>
<line x1="233.30" y1="257.24" x2="234.20" y2="257.24" stroke="#666" stroke-width="0.5"/>
<line x1="233.30" y1="254.58" x2="234.20" y2="254.58" stroke="#666" stroke-width="0.5"/>
<line x1="233.30" y1="251.92" x2="234.20" y2="251.92" stroke="#666" stroke-width="0.5"/>
<line x1="233.30" y1="249.26" x2="234.20" y2="249.26" stroke="#666" stroke-width="0.5"/>
<line x1="244.20" y1="309.50" x2="244.20" y2="311.10" stroke="#333" stroke-width="0.7"/>
<text x="244.20" y="317.10" font-size="3.4" text-anchor="middle" fill="#444">-10<tspan dy="-1.4" font-size="2.6">3</tspan></text>
<line x1="255.00" y1="309.50" x2="255.00" y2="311.10" stroke="#333" stroke-width="0.7"/>
<text x="255.00" y="317.10" font-size="3.4" text-anchor="middle" fill="#444">0</text>
<line x1="271.70" y1="309.50" x2="271.70" y2="311.10" stroke="#333" stroke-width="0.7"/>
<text x="271.70" y="317.10" font-size="3.4" text-anchor="middle" fill="#444">10<tspan dy="-1.4" font-size="2.6">3</tspan></text>
<line x1="283.60" y1="309.50" x2="283.60" y2="311.10" stroke="#333" stroke-width="0.7"/>
<text x="283.60" y="317.10" font-size="3.4" text-anchor="middle" fill="#444">10<tspan dy="-1.4" font-size="2.6">4</tspan></text>
<line x1="299.60" y1="309.50" x2="299.60" y2="311.10" stroke="#333" stroke-width="0.7"/>
<text x="299.60" y="317.10" font-size="3.4" text-anchor="middle" fill="#444">10<tspan dy="-1.4" font-size="2.6">5</tspan></text>
<line x1="246.36" y1="309.50" x2="246.36" y2="310.40" stroke="#666" stroke-width="0.5"/>
<line x1="248.52" y1="309.50" x2="248.52" y2="310.40" stroke="#666" stroke-width="0.5"/>
<line x1="250.68" y1="309.50" x2="250.68" y2="310.40" stroke="#666" stroke-width="0.5"/>
<line x1="252.84" y1="309.50" x2="252.84" y2="310.40" stroke="#666" stroke-width="0.5"/>
<line x1="258.34" y1="309.50" x2="258.34" y2="310.40" stroke="#666" stroke-width="0.5"/>
<line x1="261.68" y1="309.50" x2="261.68" y2="310.40" stroke="#666" stroke-width="0.5"/>
<line x1="265.02" y1="309.50" x2="265.02" y2="310.40" stroke="#666" stroke-width="0.5"/>
<line x1="268.36" y1="309.50" x2="268.36" y2="310.40" stroke="#666" stroke-width="0.5"/>
<line x1="274.08" y1="309.50" x2="274.08" y2="310.40" stroke="#666" stroke-width="0.5"/>
<line x1="276.46" y1="309.50" x2="276.46" y2="310.40" stroke="#666" stroke-width="0.5"/>
<line x1="278.84" y1="309.50" x2="278.84" y2="310.40" stroke="#666" stroke-width="0.5"/>
<line x1="281.22" y1="309.50" x2="281.22" y2="310.40" stroke="#666" stroke-width="0.5"/>
<line x1="286.80" y1="309.50" x2="286.80" y2="310.40" stroke="#666" stroke-width="0.5"/>
<line x1="290.00" y1="309.50" x2="290.00" y2="310.40" stroke="#666" stroke-width="0.5"/>
<line x1="293.20" y1="309.50" x2="293.20" y2="310.40" stroke="#666" stroke-width="0.5"/>
<line x1="296.40" y1="309.50" x2="296.40" y2="310.40" stroke="#666" stroke-width="0.5"/>
<text x="268.90" y="324.10" font-size="3.7" text-anchor="middle" fill="#3a3a3a">Comp-BV510-A :: CD4</text>
<text x="219.70" y="274.80" font-size="3.7" text-anchor="middle" fill="#3a3a3a" transform="rotate(-90 219.7 274.8)">Comp-PE-A :: IL-4</text>
<line x1="265.70" y1="240.10" x2="265.70" y2="309.50" stroke="#444" stroke-width="0.95"/>
<line x1="234.20" y1="277.20" x2="303.60" y2="277.20" stroke="#444" stroke-width="0.95"/>
<text x="235.80" y="245.70" font-size="3.2" text-anchor="start" fill="#333">Q1</text>
<text x="235.80" y="250.10" font-size="3.2" text-anchor="start" fill="#333">0.095</text>
<text x="298.60" y="245.70" font-size="3.2" text-anchor="end" fill="#333">Q2</text>
<text x="298.60" y="250.10" font-size="3.2" text-anchor="end" fill="#333">3.61</text>
<text x="235.80" y="301.70" font-size="3.2" text-anchor="start" fill="#333">Q4</text>
<text x="235.80" y="306.50" font-size="3.2" text-anchor="start" fill="#333">1.29</text>
<text x="298.60" y="301.70" font-size="3.2" text-anchor="end" fill="#333">Q3</text>
<text x="298.60" y="306.50" font-size="3.2" text-anchor="end" fill="#333">95.1</text>
<rect x="232.80" y="280.50" width="1.6" height="3.2" fill="#111"/>
<rect x="252.50" y="308.90" width="4.4" height="1.6" fill="#111"/>
<path d="M265.0,278.5 C265.9,277.9 268.2,278.1 270.0,278.0 C271.8,277.9 274.2,278.0 276.0,278.2 C277.8,278.4 279.4,278.4 280.5,279.0 C281.6,279.6 282.3,280.6 282.5,281.5 C282.7,282.4 282.4,283.8 281.5,284.5 C280.6,285.2 278.9,285.6 277.0,285.8 C275.1,286.0 271.9,285.8 270.0,285.6 C268.1,285.4 266.4,285.5 265.5,284.8 C264.6,284.1 264.9,282.6 264.8,281.5 C264.7,280.4 264.1,279.1 265.0,278.5Z" fill="#80ee7c" fill-opacity="0.065" stroke="#80ee7c" stroke-width="0.45" stroke-opacity="1.00"/>
<path d="M266.1,278.9 C266.9,278.4 268.9,278.5 270.5,278.5 C272.1,278.4 274.2,278.5 275.7,278.6 C277.3,278.8 278.7,278.8 279.7,279.3 C280.6,279.8 281.3,280.7 281.4,281.5 C281.6,282.3 281.4,283.5 280.6,284.1 C279.8,284.8 278.3,285.1 276.6,285.3 C274.9,285.4 272.2,285.2 270.5,285.1 C268.8,285.0 267.3,285.0 266.6,284.4 C265.8,283.8 266.0,282.4 266.0,281.5 C265.9,280.6 265.4,279.4 266.1,278.9Z" fill="#72ea6e" fill-opacity="0.065" stroke="#72ea6e" stroke-width="0.45" stroke-opacity="1.00"/>
<path d="M267.3,279.3 C267.9,278.8 269.6,278.9 271.0,278.9 C272.4,278.9 274.2,278.9 275.5,279.1 C276.8,279.2 278.1,279.2 278.9,279.7 C279.7,280.1 280.2,280.8 280.4,281.5 C280.5,282.2 280.3,283.2 279.6,283.8 C278.9,284.3 277.7,284.6 276.2,284.7 C274.8,284.9 272.4,284.7 271.0,284.6 C269.6,284.5 268.3,284.5 267.6,284.0 C267.0,283.5 267.2,282.3 267.1,281.5 C267.1,280.7 266.6,279.7 267.3,279.3Z" fill="#64e760" fill-opacity="0.065" stroke="#64e760" stroke-width="0.45" stroke-opacity="1.00"/>
<path d="M268.4,279.7 C268.9,279.3 270.4,279.4 271.5,279.4 C272.7,279.3 274.2,279.4 275.2,279.5 C276.3,279.6 277.4,279.6 278.0,280.0 C278.7,280.3 279.2,281.0 279.3,281.5 C279.4,282.1 279.2,283.0 278.7,283.4 C278.1,283.9 277.1,284.1 275.9,284.2 C274.7,284.3 272.7,284.2 271.5,284.1 C270.3,284.0 269.2,284.0 268.7,283.6 C268.2,283.2 268.3,282.2 268.3,281.5 C268.2,280.9 267.9,280.0 268.4,279.7Z" fill="#56e452" fill-opacity="0.065" stroke="#56e452" stroke-width="0.45" stroke-opacity="1.00"/>
<path d="M269.5,280.1 C270.0,279.8 271.1,279.8 272.0,279.8 C272.9,279.8 274.1,279.8 275.0,279.9 C275.9,280.0 276.7,280.0 277.2,280.3 C277.8,280.6 278.1,281.1 278.2,281.6 C278.3,282.0 278.2,282.7 277.7,283.0 C277.3,283.4 276.4,283.6 275.5,283.7 C274.5,283.8 273.0,283.7 272.0,283.6 C271.1,283.5 270.2,283.5 269.8,283.2 C269.3,282.9 269.5,282.1 269.4,281.6 C269.4,281.0 269.1,280.3 269.5,280.1Z" fill="#48e144" fill-opacity="0.065" stroke="#48e144" stroke-width="0.45" stroke-opacity="1.00"/>
<path d="M270.7,280.4 C271.0,280.2 271.8,280.3 272.5,280.3 C273.2,280.2 274.1,280.3 274.7,280.3 C275.4,280.4 276.0,280.4 276.4,280.6 C276.8,280.8 277.1,281.2 277.2,281.6 C277.2,281.9 277.1,282.4 276.8,282.7 C276.4,282.9 275.8,283.1 275.1,283.2 C274.4,283.2 273.2,283.1 272.5,283.1 C271.8,283.0 271.2,283.0 270.8,282.8 C270.5,282.5 270.6,282.0 270.6,281.6 C270.6,281.2 270.3,280.7 270.7,280.4Z" fill="#3ade36" fill-opacity="0.065" stroke="#3ade36" stroke-width="0.45" stroke-opacity="1.00"/>
<path d="M271.8,280.8 C272.0,280.7 272.6,280.7 273.0,280.7 C273.5,280.7 274.1,280.7 274.5,280.8 C274.9,280.8 275.3,280.8 275.6,281.0 C275.9,281.1 276.0,281.4 276.1,281.6 C276.1,281.8 276.1,282.1 275.8,282.3 C275.6,282.5 275.2,282.6 274.7,282.6 C274.3,282.7 273.5,282.6 273.0,282.6 C272.5,282.5 272.1,282.6 271.9,282.4 C271.7,282.2 271.8,281.8 271.7,281.6 C271.7,281.3 271.6,281.0 271.8,280.8Z" fill="#2cdb28" fill-opacity="0.065" stroke="#2cdb28" stroke-width="0.45" stroke-opacity="1.00"/>
<path d="M272.9,281.2 C273.0,281.2 273.3,281.2 273.5,281.2 C273.7,281.2 274.0,281.2 274.2,281.2 C274.4,281.2 274.6,281.2 274.8,281.3 C274.9,281.4 275.0,281.5 275.0,281.6 C275.0,281.7 275.0,281.9 274.9,281.9 C274.8,282.0 274.6,282.1 274.4,282.1 C274.1,282.1 273.8,282.1 273.5,282.1 C273.3,282.1 273.1,282.1 273.0,282.0 C272.9,281.9 272.9,281.7 272.9,281.6 C272.9,281.5 272.8,281.3 272.9,281.2Z" fill="#1ed81a" fill-opacity="0.065" stroke="#1ed81a" stroke-width="0.45" stroke-opacity="1.00"/>
<path d="M268,281.5 L276,281.5" stroke="#fff" stroke-width="0.45" stroke-opacity="0.8" stroke-dasharray="1.2,0.6"/>
<rect x="316.90" y="240.10" width="69.50" height="69.40" fill="none" stroke="#b0b0b0" stroke-width="0.9"/>
<line x1="316.90" y1="240.10" x2="316.90" y2="310.70" stroke="#333" stroke-width="0.8"/>
<line x1="315.70" y1="309.50" x2="386.40" y2="309.50" stroke="#333" stroke-width="0.8"/>
<line x1="315.30" y1="306.50" x2="316.90" y2="306.50" stroke="#333" stroke-width="0.7"/>
<text x="314.60" y="307.70" font-size="3.4" text-anchor="end" fill="#444">-10<tspan dy="-1.4" font-size="2.6">4</tspan></text>
<line x1="315.30" y1="292.50" x2="316.90" y2="292.50" stroke="#333" stroke-width="0.7"/>
<text x="314.60" y="293.70" font-size="3.4" text-anchor="end" fill="#444">-10<tspan dy="-1.4" font-size="2.6">3</tspan></text>
<line x1="315.30" y1="285.00" x2="316.90" y2="285.00" stroke="#333" stroke-width="0.7"/>
<text x="314.60" y="286.20" font-size="3.4" text-anchor="end" fill="#444">0</text>
<line x1="315.30" y1="271.00" x2="316.90" y2="271.00" stroke="#333" stroke-width="0.7"/>
<text x="314.60" y="272.20" font-size="3.4" text-anchor="end" fill="#444">10<tspan dy="-1.4" font-size="2.6">3</tspan></text>
<line x1="315.30" y1="259.90" x2="316.90" y2="259.90" stroke="#333" stroke-width="0.7"/>
<text x="314.60" y="261.10" font-size="3.4" text-anchor="end" fill="#444">10<tspan dy="-1.4" font-size="2.6">4</tspan></text>
<line x1="315.30" y1="246.60" x2="316.90" y2="246.60" stroke="#333" stroke-width="0.7"/>
<text x="314.60" y="247.80" font-size="3.4" text-anchor="end" fill="#444">10<tspan dy="-1.4" font-size="2.6">5</tspan></text>
<line x1="316.00" y1="303.70" x2="316.90" y2="303.70" stroke="#666" stroke-width="0.5"/>
<line x1="316.00" y1="300.90" x2="316.90" y2="300.90" stroke="#666" stroke-width="0.5"/>
<line x1="316.00" y1="298.10" x2="316.90" y2="298.10" stroke="#666" stroke-width="0.5"/>
<line x1="316.00" y1="295.30" x2="316.90" y2="295.30" stroke="#666" stroke-width="0.5"/>
<line x1="316.00" y1="291.00" x2="316.90" y2="291.00" stroke="#666" stroke-width="0.5"/>
<line x1="316.00" y1="289.50" x2="316.90" y2="289.50" stroke="#666" stroke-width="0.5"/>
<line x1="316.00" y1="288.00" x2="316.90" y2="288.00" stroke="#666" stroke-width="0.5"/>
<line x1="316.00" y1="286.50" x2="316.90" y2="286.50" stroke="#666" stroke-width="0.5"/>
<line x1="316.00" y1="282.20" x2="316.90" y2="282.20" stroke="#666" stroke-width="0.5"/>
<line x1="316.00" y1="279.40" x2="316.90" y2="279.40" stroke="#666" stroke-width="0.5"/>
<line x1="316.00" y1="276.60" x2="316.90" y2="276.60" stroke="#666" stroke-width="0.5"/>
<line x1="316.00" y1="273.80" x2="316.90" y2="273.80" stroke="#666" stroke-width="0.5"/>
<line x1="316.00" y1="268.78" x2="316.90" y2="268.78" stroke="#666" stroke-width="0.5"/>
<line x1="316.00" y1="266.56" x2="316.90" y2="266.56" stroke="#666" stroke-width="0.5"/>
<line x1="316.00" y1="264.34" x2="316.90" y2="264.34" stroke="#666" stroke-width="0.5"/>
<line x1="316.00" y1="262.12" x2="316.90" y2="262.12" stroke="#666" stroke-width="0.5"/>
<line x1="316.00" y1="257.24" x2="316.90" y2="257.24" stroke="#666" stroke-width="0.5"/>
<line x1="316.00" y1="254.58" x2="316.90" y2="254.58" stroke="#666" stroke-width="0.5"/>
<line x1="316.00" y1="251.92" x2="316.90" y2="251.92" stroke="#666" stroke-width="0.5"/>
<line x1="316.00" y1="249.26" x2="316.90" y2="249.26" stroke="#666" stroke-width="0.5"/>
<line x1="326.90" y1="309.50" x2="326.90" y2="311.10" stroke="#333" stroke-width="0.7"/>
<text x="326.90" y="317.10" font-size="3.4" text-anchor="middle" fill="#444">-10<tspan dy="-1.4" font-size="2.6">3</tspan></text>
<line x1="338.00" y1="309.50" x2="338.00" y2="311.10" stroke="#333" stroke-width="0.7"/>
<text x="338.00" y="317.10" font-size="3.4" text-anchor="middle" fill="#444">0</text>
<line x1="354.30" y1="309.50" x2="354.30" y2="311.10" stroke="#333" stroke-width="0.7"/>
<text x="354.30" y="317.10" font-size="3.4" text-anchor="middle" fill="#444">10<tspan dy="-1.4" font-size="2.6">3</tspan></text>
<line x1="366.40" y1="309.50" x2="366.40" y2="311.10" stroke="#333" stroke-width="0.7"/>
<text x="366.40" y="317.10" font-size="3.4" text-anchor="middle" fill="#444">10<tspan dy="-1.4" font-size="2.6">4</tspan></text>
<line x1="382.40" y1="309.50" x2="382.40" y2="311.10" stroke="#333" stroke-width="0.7"/>
<text x="382.40" y="317.10" font-size="3.4" text-anchor="middle" fill="#444">10<tspan dy="-1.4" font-size="2.6">5</tspan></text>
<line x1="329.12" y1="309.50" x2="329.12" y2="310.40" stroke="#666" stroke-width="0.5"/>
<line x1="331.34" y1="309.50" x2="331.34" y2="310.40" stroke="#666" stroke-width="0.5"/>
<line x1="333.56" y1="309.50" x2="333.56" y2="310.40" stroke="#666" stroke-width="0.5"/>
<line x1="335.78" y1="309.50" x2="335.78" y2="310.40" stroke="#666" stroke-width="0.5"/>
<line x1="341.26" y1="309.50" x2="341.26" y2="310.40" stroke="#666" stroke-width="0.5"/>
<line x1="344.52" y1="309.50" x2="344.52" y2="310.40" stroke="#666" stroke-width="0.5"/>
<line x1="347.78" y1="309.50" x2="347.78" y2="310.40" stroke="#666" stroke-width="0.5"/>
<line x1="351.04" y1="309.50" x2="351.04" y2="310.40" stroke="#666" stroke-width="0.5"/>
<line x1="356.72" y1="309.50" x2="356.72" y2="310.40" stroke="#666" stroke-width="0.5"/>
<line x1="359.14" y1="309.50" x2="359.14" y2="310.40" stroke="#666" stroke-width="0.5"/>
<line x1="361.56" y1="309.50" x2="361.56" y2="310.40" stroke="#666" stroke-width="0.5"/>
<line x1="363.98" y1="309.50" x2="363.98" y2="310.40" stroke="#666" stroke-width="0.5"/>
<line x1="369.60" y1="309.50" x2="369.60" y2="310.40" stroke="#666" stroke-width="0.5"/>
<line x1="372.80" y1="309.50" x2="372.80" y2="310.40" stroke="#666" stroke-width="0.5"/>
<line x1="376.00" y1="309.50" x2="376.00" y2="310.40" stroke="#666" stroke-width="0.5"/>
<line x1="379.20" y1="309.50" x2="379.20" y2="310.40" stroke="#666" stroke-width="0.5"/>
<text x="351.65" y="324.10" font-size="3.7" text-anchor="middle" fill="#3a3a3a">Comp-BV510-A :: CD4</text>
<text x="302.70" y="274.80" font-size="3.7" text-anchor="middle" fill="#3a3a3a" transform="rotate(-90 302.7 274.8)">Comp-APC/Cy7(2)A :: IFNg</text>
<line x1="348.30" y1="240.10" x2="348.30" y2="309.50" stroke="#444" stroke-width="0.95"/>
<line x1="316.90" y1="272.50" x2="386.40" y2="272.50" stroke="#444" stroke-width="0.95"/>
<text x="318.50" y="245.70" font-size="3.2" text-anchor="start" fill="#333">Q9</text>
<text x="318.50" y="250.10" font-size="3.2" text-anchor="start" fill="#333">0.017</text>
<text x="381.40" y="245.70" font-size="3.2" text-anchor="end" fill="#333">Q10</text>
<text x="381.40" y="250.10" font-size="3.2" text-anchor="end" fill="#333">1.26</text>
<text x="318.50" y="301.70" font-size="3.2" text-anchor="start" fill="#333">Q12</text>
<text x="318.50" y="306.50" font-size="3.2" text-anchor="start" fill="#333">0.66</text>
<text x="381.40" y="301.70" font-size="3.2" text-anchor="end" fill="#333">Q11</text>
<text x="381.40" y="306.50" font-size="3.2" text-anchor="end" fill="#333">98.1</text>
<rect x="315.50" y="283.50" width="1.6" height="3.2" fill="#111"/>
<rect x="335.50" y="308.90" width="4.4" height="1.6" fill="#111"/>
<path d="M347.6,283.4 C347.7,281.9 348.5,280.0 349.0,279.0 C349.5,278.0 349.4,277.8 350.4,277.2 C351.4,276.6 353.4,275.7 355.0,275.2 C356.6,274.7 358.7,273.9 360.2,274.2 C361.7,274.5 363.0,275.9 363.9,277.2 C364.8,278.5 365.1,280.4 365.3,282.0 C365.5,283.6 365.4,285.0 365.1,286.5 C364.8,288.0 364.2,289.8 363.5,291.0 C362.8,292.2 362.1,293.3 361.0,294.0 C359.9,294.7 358.4,295.0 357.1,295.0 C355.8,295.0 354.0,294.5 353.0,294.0 C352.0,293.5 351.8,292.9 351.0,291.9 C350.2,290.9 349.1,289.4 348.5,288.0 C347.9,286.6 347.5,284.9 347.6,283.4Z" fill="#b08af0" fill-opacity="0.035" stroke="#b08af0" stroke-width="0.45" stroke-opacity="1.00"/>
<path d="M349.0,283.6 C349.1,282.2 349.8,280.6 350.3,279.6 C350.7,278.7 350.6,278.6 351.5,278.0 C352.4,277.5 354.2,276.7 355.6,276.2 C357.1,275.8 358.9,275.1 360.3,275.3 C361.6,275.6 362.8,276.9 363.6,278.0 C364.3,279.2 364.6,280.9 364.8,282.3 C365.0,283.7 364.9,285.0 364.6,286.3 C364.4,287.7 363.8,289.2 363.2,290.4 C362.6,291.5 361.9,292.4 361.0,293.0 C360.0,293.6 358.7,293.9 357.5,293.9 C356.3,293.9 354.7,293.5 353.8,293.0 C352.9,292.6 352.7,292.1 352.0,291.2 C351.4,290.3 350.3,288.9 349.8,287.7 C349.3,286.4 348.9,284.9 349.0,283.6Z" fill="#ab81ef" fill-opacity="0.035" stroke="#ab81ef" stroke-width="0.45" stroke-opacity="1.00"/>
<path d="M350.2,283.7 C350.3,282.5 351.0,281.0 351.3,280.2 C351.7,279.4 351.7,279.3 352.5,278.7 C353.3,278.2 354.8,277.5 356.2,277.1 C357.5,276.7 359.1,276.1 360.3,276.3 C361.5,276.6 362.6,277.7 363.3,278.7 C364.0,279.8 364.2,281.4 364.4,282.6 C364.6,283.8 364.5,285.0 364.2,286.2 C364.0,287.4 363.5,288.8 363.0,289.8 C362.4,290.8 361.8,291.7 361.0,292.2 C360.1,292.7 358.9,293.0 357.8,293.0 C356.8,293.0 355.4,292.6 354.5,292.2 C353.7,291.8 353.5,291.3 352.9,290.5 C352.3,289.7 351.4,288.5 350.9,287.4 C350.5,286.3 350.2,284.9 350.2,283.7Z" fill="#a678ee" fill-opacity="0.035" stroke="#a678ee" stroke-width="0.45" stroke-opacity="1.00"/>
<path d="M351.4,283.9 C351.4,282.8 352.0,281.5 352.4,280.7 C352.7,280.0 352.7,279.9 353.4,279.4 C354.1,279.0 355.5,278.4 356.7,278.0 C357.8,277.6 359.3,277.0 360.4,277.3 C361.4,277.5 362.4,278.5 363.0,279.4 C363.6,280.4 363.9,281.8 364.0,282.9 C364.2,284.0 364.1,285.0 363.9,286.1 C363.7,287.1 363.2,288.4 362.7,289.3 C362.2,290.2 361.7,291.0 360.9,291.4 C360.2,291.9 359.1,292.1 358.2,292.1 C357.2,292.1 356.0,291.8 355.2,291.4 C354.5,291.1 354.3,290.6 353.8,289.9 C353.3,289.2 352.4,288.2 352.0,287.1 C351.6,286.1 351.3,284.9 351.4,283.9Z" fill="#a16fed" fill-opacity="0.035" stroke="#a16fed" stroke-width="0.45" stroke-opacity="1.00"/>
<path d="M352.5,284.0 C352.5,283.0 353.1,281.9 353.4,281.2 C353.7,280.6 353.6,280.5 354.2,280.1 C354.9,279.7 356.1,279.1 357.1,278.8 C358.2,278.5 359.5,278.0 360.4,278.2 C361.4,278.4 362.2,279.3 362.8,280.1 C363.3,280.9 363.5,282.1 363.6,283.1 C363.8,284.1 363.7,285.0 363.5,285.9 C363.3,286.9 362.9,288.0 362.5,288.8 C362.1,289.6 361.6,290.2 360.9,290.7 C360.3,291.1 359.3,291.3 358.5,291.3 C357.6,291.3 356.5,291.0 355.9,290.7 C355.2,290.3 355.1,290.0 354.6,289.3 C354.2,288.7 353.4,287.8 353.1,286.9 C352.7,286.0 352.4,284.9 352.5,284.0Z" fill="#9c66ed" fill-opacity="0.035" stroke="#9c66ed" stroke-width="0.45" stroke-opacity="1.00"/>
<path d="M353.6,284.1 C353.6,283.3 354.1,282.3 354.3,281.7 C354.6,281.1 354.6,281.1 355.1,280.7 C355.7,280.4 356.7,279.9 357.6,279.6 C358.5,279.4 359.7,278.9 360.5,279.1 C361.3,279.3 362.0,280.0 362.5,280.7 C363.0,281.4 363.2,282.5 363.3,283.4 C363.4,284.2 363.3,285.0 363.2,285.8 C363.0,286.6 362.7,287.6 362.3,288.3 C361.9,289.0 361.5,289.6 360.9,289.9 C360.3,290.3 359.5,290.5 358.8,290.5 C358.0,290.5 357.1,290.2 356.5,289.9 C356.0,289.6 355.8,289.3 355.4,288.8 C355.0,288.2 354.4,287.4 354.1,286.6 C353.8,285.9 353.5,284.9 353.6,284.1Z" fill="#975dec" fill-opacity="0.035" stroke="#975dec" stroke-width="0.45" stroke-opacity="1.00"/>
<path d="M354.6,284.3 C354.7,283.6 355.1,282.7 355.3,282.2 C355.5,281.7 355.5,281.7 355.9,281.4 C356.4,281.1 357.3,280.7 358.1,280.4 C358.9,280.2 359.8,279.8 360.5,280.0 C361.2,280.1 361.9,280.8 362.2,281.4 C362.6,282.0 362.8,282.9 362.9,283.6 C363.0,284.3 362.9,285.0 362.8,285.7 C362.7,286.4 362.4,287.2 362.1,287.8 C361.7,288.4 361.4,288.9 360.9,289.2 C360.4,289.5 359.7,289.7 359.1,289.7 C358.5,289.7 357.6,289.4 357.2,289.2 C356.7,289.0 356.6,288.7 356.2,288.2 C355.9,287.8 355.3,287.1 355.1,286.4 C354.8,285.7 354.6,285.0 354.6,284.3Z" fill="#9254eb" fill-opacity="0.035" stroke="#9254eb" stroke-width="0.45" stroke-opacity="1.00"/>
<path d="M355.7,284.4 C355.7,283.8 356.0,283.1 356.2,282.7 C356.4,282.3 356.4,282.2 356.8,282.0 C357.2,281.7 357.9,281.4 358.6,281.2 C359.2,281.0 360.0,280.7 360.6,280.8 C361.1,280.9 361.7,281.5 362.0,282.0 C362.3,282.5 362.5,283.2 362.5,283.8 C362.6,284.4 362.6,285.0 362.5,285.6 C362.3,286.2 362.1,286.8 361.8,287.3 C361.6,287.8 361.3,288.2 360.9,288.5 C360.5,288.7 359.9,288.9 359.4,288.9 C358.8,288.9 358.2,288.7 357.8,288.5 C357.4,288.3 357.3,288.1 357.0,287.7 C356.7,287.3 356.3,286.7 356.0,286.2 C355.8,285.6 355.7,285.0 355.7,284.4Z" fill="#8d4bea" fill-opacity="0.035" stroke="#8d4bea" stroke-width="0.45" stroke-opacity="1.00"/>
<path d="M356.7,284.5 C356.7,284.0 357.0,283.5 357.2,283.1 C357.3,282.8 357.3,282.8 357.6,282.6 C357.9,282.4 358.5,282.1 359.0,282.0 C359.5,281.8 360.2,281.6 360.6,281.7 C361.1,281.8 361.5,282.2 361.8,282.6 C362.0,283.0 362.1,283.6 362.2,284.1 C362.3,284.6 362.2,285.0 362.1,285.5 C362.0,285.9 361.8,286.5 361.6,286.9 C361.4,287.2 361.2,287.6 360.9,287.8 C360.5,288.0 360.1,288.1 359.7,288.1 C359.2,288.1 358.7,287.9 358.4,287.8 C358.1,287.6 358.0,287.4 357.8,287.1 C357.5,286.8 357.2,286.4 357.0,285.9 C356.8,285.5 356.7,285.0 356.7,284.5Z" fill="#8842ea" fill-opacity="0.035" stroke="#8842ea" stroke-width="0.45" stroke-opacity="1.00"/>
<path d="M357.7,284.6 C357.8,284.3 358.0,283.8 358.1,283.6 C358.2,283.4 358.2,283.3 358.4,283.2 C358.6,283.0 359.1,282.8 359.5,282.7 C359.8,282.6 360.3,282.4 360.7,282.5 C361.0,282.6 361.3,282.9 361.5,283.2 C361.7,283.5 361.8,283.9 361.8,284.3 C361.9,284.7 361.9,285.0 361.8,285.3 C361.7,285.7 361.6,286.1 361.4,286.4 C361.3,286.7 361.1,286.9 360.8,287.1 C360.6,287.2 360.3,287.3 359.9,287.3 C359.6,287.3 359.2,287.2 359.0,287.1 C358.8,287.0 358.7,286.8 358.5,286.6 C358.4,286.4 358.1,286.0 357.9,285.7 C357.8,285.4 357.7,285.0 357.7,284.6Z" fill="#8339e9" fill-opacity="0.035" stroke="#8339e9" stroke-width="0.45" stroke-opacity="1.00"/>
<path d="M358.7,284.8 C358.8,284.5 358.9,284.2 359.0,284.1 C359.0,283.9 359.0,283.9 359.2,283.8 C359.3,283.7 359.6,283.6 359.9,283.5 C360.2,283.4 360.5,283.3 360.7,283.3 C360.9,283.4 361.2,283.6 361.3,283.8 C361.4,284.0 361.5,284.3 361.5,284.5 C361.5,284.8 361.5,285.0 361.5,285.2 C361.4,285.5 361.3,285.7 361.2,285.9 C361.1,286.1 361.0,286.3 360.8,286.4 C360.7,286.5 360.4,286.6 360.2,286.6 C360.0,286.6 359.7,286.5 359.6,286.4 C359.4,286.3 359.4,286.2 359.3,286.1 C359.2,285.9 359.0,285.7 358.9,285.5 C358.8,285.2 358.7,285.0 358.7,284.8Z" fill="#7e30e8" fill-opacity="0.035" stroke="#7e30e8" stroke-width="0.45" stroke-opacity="1.00"/>
<path d="M359.7,284.9 C359.8,284.8 359.8,284.6 359.9,284.5 C359.9,284.4 359.9,284.4 360.0,284.4 C360.0,284.3 360.2,284.3 360.3,284.2 C360.5,284.2 360.6,284.1 360.8,284.1 C360.9,284.2 361.0,284.3 361.0,284.4 C361.1,284.5 361.1,284.6 361.2,284.8 C361.2,284.9 361.2,285.0 361.1,285.1 C361.1,285.2 361.1,285.4 361.0,285.5 C361.0,285.6 360.9,285.7 360.8,285.7 C360.7,285.8 360.6,285.8 360.5,285.8 C360.4,285.8 360.3,285.8 360.2,285.7 C360.1,285.7 360.1,285.6 360.0,285.6 C360.0,285.5 359.9,285.4 359.8,285.2 C359.8,285.1 359.7,285.0 359.7,284.9Z" fill="#7a28e8" fill-opacity="0.035" stroke="#7a28e8" stroke-width="0.45" stroke-opacity="1.00"/>
<path d="M359.4,282.5 L359.4,288" stroke="#fff" stroke-width="0.7"/>
<rect x="408.60" y="240.10" width="69.10" height="69.40" fill="none" stroke="#b0b0b0" stroke-width="0.9"/>
<line x1="408.60" y1="240.10" x2="408.60" y2="310.70" stroke="#333" stroke-width="0.8"/>
<line x1="407.40" y1="309.50" x2="477.70" y2="309.50" stroke="#333" stroke-width="0.8"/>
<line x1="407.00" y1="306.50" x2="408.60" y2="306.50" stroke="#333" stroke-width="0.7"/>
<text x="406.30" y="307.70" font-size="3.4" text-anchor="end" fill="#444">-10<tspan dy="-1.4" font-size="2.6">4</tspan></text>
<line x1="407.00" y1="294.50" x2="408.60" y2="294.50" stroke="#333" stroke-width="0.7"/>
<text x="406.30" y="295.70" font-size="3.4" text-anchor="end" fill="#444">-10<tspan dy="-1.4" font-size="2.6">3</tspan></text>
<line x1="407.00" y1="287.00" x2="408.60" y2="287.00" stroke="#333" stroke-width="0.7"/>
<text x="406.30" y="288.20" font-size="3.4" text-anchor="end" fill="#444">0</text>
<line x1="407.00" y1="269.10" x2="408.60" y2="269.10" stroke="#333" stroke-width="0.7"/>
<text x="406.30" y="270.30" font-size="3.4" text-anchor="end" fill="#444">10<tspan dy="-1.4" font-size="2.6">3</tspan></text>
<line x1="407.00" y1="259.90" x2="408.60" y2="259.90" stroke="#333" stroke-width="0.7"/>
<text x="406.30" y="261.10" font-size="3.4" text-anchor="end" fill="#444">10<tspan dy="-1.4" font-size="2.6">4</tspan></text>
<line x1="407.00" y1="246.60" x2="408.60" y2="246.60" stroke="#333" stroke-width="0.7"/>
<text x="406.30" y="247.80" font-size="3.4" text-anchor="end" fill="#444">10<tspan dy="-1.4" font-size="2.6">5</tspan></text>
<line x1="407.70" y1="304.10" x2="408.60" y2="304.10" stroke="#666" stroke-width="0.5"/>
<line x1="407.70" y1="301.70" x2="408.60" y2="301.70" stroke="#666" stroke-width="0.5"/>
<line x1="407.70" y1="299.30" x2="408.60" y2="299.30" stroke="#666" stroke-width="0.5"/>
<line x1="407.70" y1="296.90" x2="408.60" y2="296.90" stroke="#666" stroke-width="0.5"/>
<line x1="407.70" y1="293.00" x2="408.60" y2="293.00" stroke="#666" stroke-width="0.5"/>
<line x1="407.70" y1="291.50" x2="408.60" y2="291.50" stroke="#666" stroke-width="0.5"/>
<line x1="407.70" y1="290.00" x2="408.60" y2="290.00" stroke="#666" stroke-width="0.5"/>
<line x1="407.70" y1="288.50" x2="408.60" y2="288.50" stroke="#666" stroke-width="0.5"/>
<line x1="407.70" y1="283.42" x2="408.60" y2="283.42" stroke="#666" stroke-width="0.5"/>
<line x1="407.70" y1="279.84" x2="408.60" y2="279.84" stroke="#666" stroke-width="0.5"/>
<line x1="407.70" y1="276.26" x2="408.60" y2="276.26" stroke="#666" stroke-width="0.5"/>
<line x1="407.70" y1="272.68" x2="408.60" y2="272.68" stroke="#666" stroke-width="0.5"/>
<line x1="407.70" y1="267.26" x2="408.60" y2="267.26" stroke="#666" stroke-width="0.5"/>
<line x1="407.70" y1="265.42" x2="408.60" y2="265.42" stroke="#666" stroke-width="0.5"/>
<line x1="407.70" y1="263.58" x2="408.60" y2="263.58" stroke="#666" stroke-width="0.5"/>
<line x1="407.70" y1="261.74" x2="408.60" y2="261.74" stroke="#666" stroke-width="0.5"/>
<line x1="407.70" y1="257.24" x2="408.60" y2="257.24" stroke="#666" stroke-width="0.5"/>
<line x1="407.70" y1="254.58" x2="408.60" y2="254.58" stroke="#666" stroke-width="0.5"/>
<line x1="407.70" y1="251.92" x2="408.60" y2="251.92" stroke="#666" stroke-width="0.5"/>
<line x1="407.70" y1="249.26" x2="408.60" y2="249.26" stroke="#666" stroke-width="0.5"/>
<line x1="418.60" y1="309.50" x2="418.60" y2="311.10" stroke="#333" stroke-width="0.7"/>
<text x="418.60" y="317.10" font-size="3.4" text-anchor="middle" fill="#444">-10<tspan dy="-1.4" font-size="2.6">3</tspan></text>
<line x1="428.00" y1="309.50" x2="428.00" y2="311.10" stroke="#333" stroke-width="0.7"/>
<text x="428.00" y="317.10" font-size="3.4" text-anchor="middle" fill="#444">0</text>
<line x1="444.80" y1="309.50" x2="444.80" y2="311.10" stroke="#333" stroke-width="0.7"/>
<text x="444.80" y="317.10" font-size="3.4" text-anchor="middle" fill="#444">10<tspan dy="-1.4" font-size="2.6">3</tspan></text>
<line x1="457.70" y1="309.50" x2="457.70" y2="311.10" stroke="#333" stroke-width="0.7"/>
<text x="457.70" y="317.10" font-size="3.4" text-anchor="middle" fill="#444">10<tspan dy="-1.4" font-size="2.6">4</tspan></text>
<line x1="473.70" y1="309.50" x2="473.70" y2="311.10" stroke="#333" stroke-width="0.7"/>
<text x="473.70" y="317.10" font-size="3.4" text-anchor="middle" fill="#444">10<tspan dy="-1.4" font-size="2.6">5</tspan></text>
<line x1="420.48" y1="309.50" x2="420.48" y2="310.40" stroke="#666" stroke-width="0.5"/>
<line x1="422.36" y1="309.50" x2="422.36" y2="310.40" stroke="#666" stroke-width="0.5"/>
<line x1="424.24" y1="309.50" x2="424.24" y2="310.40" stroke="#666" stroke-width="0.5"/>
<line x1="426.12" y1="309.50" x2="426.12" y2="310.40" stroke="#666" stroke-width="0.5"/>
<line x1="431.36" y1="309.50" x2="431.36" y2="310.40" stroke="#666" stroke-width="0.5"/>
<line x1="434.72" y1="309.50" x2="434.72" y2="310.40" stroke="#666" stroke-width="0.5"/>
<line x1="438.08" y1="309.50" x2="438.08" y2="310.40" stroke="#666" stroke-width="0.5"/>
<line x1="441.44" y1="309.50" x2="441.44" y2="310.40" stroke="#666" stroke-width="0.5"/>
<line x1="447.38" y1="309.50" x2="447.38" y2="310.40" stroke="#666" stroke-width="0.5"/>
<line x1="449.96" y1="309.50" x2="449.96" y2="310.40" stroke="#666" stroke-width="0.5"/>
<line x1="452.54" y1="309.50" x2="452.54" y2="310.40" stroke="#666" stroke-width="0.5"/>
<line x1="455.12" y1="309.50" x2="455.12" y2="310.40" stroke="#666" stroke-width="0.5"/>
<line x1="460.90" y1="309.50" x2="460.90" y2="310.40" stroke="#666" stroke-width="0.5"/>
<line x1="464.10" y1="309.50" x2="464.10" y2="310.40" stroke="#666" stroke-width="0.5"/>
<line x1="467.30" y1="309.50" x2="467.30" y2="310.40" stroke="#666" stroke-width="0.5"/>
<line x1="470.50" y1="309.50" x2="470.50" y2="310.40" stroke="#666" stroke-width="0.5"/>
<text x="443.15" y="324.10" font-size="3.7" text-anchor="middle" fill="#3a3a3a">Comp-BV510-A :: CD4</text>
<text x="394.20" y="274.80" font-size="3.7" text-anchor="middle" fill="#3a3a3a" transform="rotate(-90 394.2 274.8)">Comp-APC-A :: IL-17</text>
<line x1="438.80" y1="240.10" x2="438.80" y2="309.50" stroke="#444" stroke-width="0.95"/>
<line x1="408.60" y1="270.60" x2="477.70" y2="270.60" stroke="#444" stroke-width="0.95"/>
<text x="410.20" y="245.70" font-size="3.2" text-anchor="start" fill="#333">Q5</text>
<text x="410.20" y="250.10" font-size="3.2" text-anchor="start" fill="#333">0</text>
<text x="472.70" y="245.70" font-size="3.2" text-anchor="end" fill="#333">Q6</text>
<text x="472.70" y="250.10" font-size="3.2" text-anchor="end" fill="#333">1.58</text>
<text x="410.20" y="301.70" font-size="3.2" text-anchor="start" fill="#333">Q8</text>
<text x="410.20" y="306.50" font-size="3.2" text-anchor="start" fill="#333">0</text>
<text x="472.70" y="301.70" font-size="3.2" text-anchor="end" fill="#333">Q7</text>
<text x="472.70" y="306.50" font-size="3.2" text-anchor="end" fill="#333">98.5</text>
<rect x="407.20" y="285.50" width="1.6" height="3.2" fill="#111"/>
<rect x="425.50" y="308.90" width="4.4" height="1.6" fill="#111"/>
<path d="M440.0,285.2 C440.2,283.8 441.0,281.6 442.0,280.0 C443.0,278.4 444.8,276.8 446.0,275.5 C447.2,274.2 448.6,273.0 449.5,272.3 C450.4,271.6 450.8,271.2 451.6,271.3 C452.4,271.4 453.7,272.0 454.5,273.0 C455.3,274.0 456.0,275.8 456.4,277.5 C456.8,279.2 457.0,281.6 456.9,283.4 C456.8,285.2 456.3,287.1 455.5,288.5 C454.7,289.9 453.0,290.9 452.0,291.5 C451.0,292.1 450.9,292.1 449.7,291.9 C448.5,291.7 446.4,291.1 445.0,290.5 C443.6,289.9 441.8,289.4 441.0,288.5 C440.2,287.6 439.8,286.6 440.0,285.2Z" fill="#8cb6e6" fill-opacity="0.030" stroke="#8cb6e6" stroke-width="0.45" stroke-opacity="1.00"/>
<path d="M441.2,284.8 C441.4,283.5 442.1,281.6 443.0,280.2 C443.9,278.7 445.5,277.3 446.6,276.1 C447.7,275.0 448.9,273.9 449.7,273.3 C450.5,272.7 450.8,272.3 451.6,272.4 C452.3,272.5 453.5,273.0 454.2,273.9 C454.9,274.8 455.5,276.4 455.9,277.9 C456.2,279.5 456.5,281.6 456.3,283.2 C456.2,284.8 455.8,286.5 455.1,287.8 C454.3,289.0 452.8,289.9 451.9,290.4 C451.1,290.9 450.9,290.9 449.9,290.8 C448.8,290.6 447.0,290.0 445.7,289.5 C444.4,289.0 442.9,288.5 442.1,287.8 C441.4,287.0 441.1,286.1 441.2,284.8Z" fill="#83afe2" fill-opacity="0.030" stroke="#83afe2" stroke-width="0.45" stroke-opacity="1.00"/>
<path d="M442.3,284.5 C442.4,283.3 443.1,281.6 443.9,280.3 C444.7,279.0 446.1,277.7 447.1,276.7 C448.1,275.7 449.1,274.7 449.9,274.1 C450.6,273.6 450.9,273.2 451.6,273.3 C452.2,273.4 453.3,273.9 453.9,274.7 C454.5,275.5 455.1,276.9 455.4,278.3 C455.7,279.7 455.9,281.6 455.8,283.0 C455.7,284.5 455.4,286.0 454.7,287.1 C454.1,288.2 452.7,289.1 451.9,289.5 C451.1,290.0 451.0,290.0 450.1,289.8 C449.1,289.7 447.5,289.2 446.3,288.7 C445.1,288.3 443.8,287.8 443.1,287.1 C442.4,286.4 442.1,285.6 442.3,284.5Z" fill="#7aa8de" fill-opacity="0.030" stroke="#7aa8de" stroke-width="0.45" stroke-opacity="1.00"/>
<path d="M443.3,284.1 C443.4,283.1 444.0,281.6 444.7,280.4 C445.4,279.3 446.7,278.1 447.6,277.2 C448.5,276.3 449.4,275.4 450.1,274.9 C450.7,274.4 451.0,274.1 451.6,274.2 C452.2,274.3 453.1,274.7 453.6,275.4 C454.2,276.2 454.7,277.4 455.0,278.6 C455.3,279.9 455.5,281.5 455.4,282.9 C455.2,284.2 454.9,285.5 454.4,286.5 C453.8,287.5 452.5,288.2 451.9,288.6 C451.2,289.0 451.0,289.0 450.2,288.9 C449.4,288.8 447.9,288.3 446.9,287.9 C445.8,287.5 444.6,287.1 444.0,286.5 C443.4,285.9 443.2,285.2 443.3,284.1Z" fill="#71a1da" fill-opacity="0.030" stroke="#71a1da" stroke-width="0.45" stroke-opacity="1.00"/>
<path d="M444.3,283.8 C444.4,282.9 444.9,281.6 445.5,280.6 C446.1,279.5 447.2,278.5 448.0,277.7 C448.8,276.9 449.7,276.1 450.2,275.7 C450.8,275.3 451.0,275.0 451.6,275.1 C452.1,275.1 452.9,275.5 453.4,276.1 C453.9,276.8 454.3,277.9 454.6,279.0 C454.8,280.1 455.0,281.5 454.9,282.7 C454.8,283.9 454.5,285.1 454.0,285.9 C453.5,286.8 452.4,287.4 451.8,287.8 C451.2,288.2 451.1,288.2 450.4,288.1 C449.6,287.9 448.3,287.5 447.4,287.2 C446.5,286.8 445.4,286.5 444.9,285.9 C444.4,285.4 444.2,284.7 444.3,283.8Z" fill="#689bd6" fill-opacity="0.030" stroke="#689bd6" stroke-width="0.45" stroke-opacity="1.00"/>
<path d="M445.2,283.5 C445.3,282.8 445.8,281.6 446.3,280.7 C446.8,279.8 447.8,278.9 448.5,278.2 C449.2,277.5 449.9,276.8 450.4,276.5 C450.9,276.1 451.1,275.9 451.6,275.9 C452.0,276.0 452.7,276.3 453.1,276.8 C453.6,277.4 454.0,278.4 454.2,279.3 C454.4,280.3 454.5,281.5 454.5,282.5 C454.4,283.5 454.1,284.6 453.7,285.3 C453.2,286.1 452.3,286.7 451.8,287.0 C451.2,287.3 451.2,287.3 450.5,287.2 C449.9,287.1 448.7,286.7 447.9,286.4 C447.1,286.1 446.2,285.8 445.8,285.3 C445.3,284.8 445.1,284.3 445.2,283.5Z" fill="#5f94d2" fill-opacity="0.030" stroke="#5f94d2" stroke-width="0.45" stroke-opacity="1.00"/>
<path d="M446.1,283.2 C446.2,282.6 446.6,281.6 447.1,280.8 C447.5,280.0 448.3,279.3 448.9,278.7 C449.5,278.1 450.1,277.5 450.6,277.2 C451.0,276.9 451.2,276.7 451.5,276.7 C451.9,276.8 452.5,277.0 452.9,277.5 C453.3,278.0 453.6,278.8 453.8,279.6 C454.0,280.4 454.1,281.5 454.0,282.4 C454.0,283.2 453.7,284.1 453.4,284.8 C453.0,285.4 452.2,285.9 451.7,286.2 C451.3,286.4 451.2,286.4 450.7,286.4 C450.1,286.3 449.1,286.0 448.5,285.7 C447.8,285.4 447.0,285.2 446.6,284.8 C446.2,284.4 446.1,283.9 446.1,283.2Z" fill="#568dcf" fill-opacity="0.030" stroke="#568dcf" stroke-width="0.45" stroke-opacity="1.00"/>
<path d="M447.0,282.9 C447.1,282.4 447.4,281.5 447.8,280.9 C448.2,280.3 448.9,279.7 449.4,279.2 C449.9,278.7 450.4,278.2 450.7,277.9 C451.1,277.7 451.2,277.5 451.5,277.5 C451.9,277.6 452.4,277.8 452.7,278.2 C453.0,278.6 453.2,279.3 453.4,280.0 C453.6,280.6 453.7,281.5 453.6,282.2 C453.5,282.9 453.4,283.7 453.0,284.2 C452.7,284.7 452.1,285.2 451.7,285.4 C451.3,285.6 451.3,285.6 450.8,285.5 C450.4,285.5 449.5,285.2 449.0,285.0 C448.4,284.8 447.8,284.6 447.4,284.2 C447.1,283.9 447.0,283.5 447.0,282.9Z" fill="#4d86cb" fill-opacity="0.030" stroke="#4d86cb" stroke-width="0.45" stroke-opacity="1.00"/>
<path d="M447.9,282.6 C448.0,282.2 448.3,281.5 448.6,281.0 C448.9,280.5 449.4,280.0 449.8,279.6 C450.2,279.2 450.6,278.9 450.9,278.7 C451.2,278.4 451.3,278.3 451.5,278.3 C451.8,278.4 452.2,278.6 452.4,278.9 C452.7,279.2 452.9,279.7 453.0,280.3 C453.1,280.8 453.2,281.5 453.2,282.1 C453.1,282.7 453.0,283.2 452.7,283.7 C452.5,284.1 452.0,284.4 451.7,284.6 C451.4,284.8 451.3,284.8 450.9,284.7 C450.6,284.7 449.9,284.5 449.5,284.3 C449.0,284.1 448.5,283.9 448.3,283.7 C448.0,283.4 447.9,283.1 447.9,282.6Z" fill="#4480c7" fill-opacity="0.030" stroke="#4480c7" stroke-width="0.45" stroke-opacity="1.00"/>
<path d="M448.8,282.4 C448.9,282.0 449.1,281.5 449.3,281.2 C449.5,280.8 449.9,280.4 450.2,280.1 C450.5,279.8 450.8,279.5 451.0,279.4 C451.3,279.2 451.3,279.1 451.5,279.1 C451.7,279.2 452.0,279.3 452.2,279.5 C452.4,279.8 452.5,280.2 452.6,280.6 C452.7,281.0 452.8,281.5 452.8,281.9 C452.7,282.4 452.6,282.8 452.4,283.1 C452.2,283.4 451.8,283.7 451.6,283.8 C451.4,284.0 451.4,284.0 451.1,283.9 C450.8,283.9 450.3,283.7 450.0,283.6 C449.7,283.5 449.3,283.3 449.1,283.1 C448.9,282.9 448.8,282.7 448.8,282.4Z" fill="#3b79c3" fill-opacity="0.030" stroke="#3b79c3" stroke-width="0.45" stroke-opacity="1.00"/>
<path d="M449.7,282.1 C449.7,281.9 449.9,281.5 450.0,281.3 C450.2,281.0 450.4,280.8 450.6,280.6 C450.8,280.4 451.0,280.2 451.2,280.1 C451.3,280.0 451.4,279.9 451.5,279.9 C451.6,279.9 451.8,280.0 452.0,280.2 C452.1,280.3 452.2,280.6 452.3,280.9 C452.3,281.1 452.4,281.5 452.3,281.8 C452.3,282.1 452.2,282.4 452.1,282.6 C452.0,282.8 451.7,283.0 451.6,283.1 C451.4,283.1 451.4,283.1 451.2,283.1 C451.0,283.1 450.7,283.0 450.5,282.9 C450.3,282.8 450.0,282.7 449.9,282.6 C449.7,282.5 449.7,282.3 449.7,282.1Z" fill="#3272bf" fill-opacity="0.030" stroke="#3272bf" stroke-width="0.45" stroke-opacity="1.00"/>
<path d="M450.6,281.8 C450.6,281.7 450.7,281.5 450.7,281.4 C450.8,281.3 451.0,281.1 451.1,281.0 C451.2,280.9 451.3,280.8 451.3,280.8 C451.4,280.7 451.4,280.7 451.5,280.7 C451.6,280.7 451.7,280.7 451.7,280.8 C451.8,280.9 451.9,281.0 451.9,281.2 C451.9,281.3 451.9,281.5 451.9,281.7 C451.9,281.8 451.9,282.0 451.8,282.1 C451.8,282.2 451.6,282.3 451.5,282.3 C451.5,282.3 451.4,282.3 451.4,282.3 C451.3,282.3 451.1,282.3 451.0,282.2 C450.9,282.2 450.7,282.1 450.7,282.1 C450.6,282.0 450.6,281.9 450.6,281.8Z" fill="#2a6cbc" fill-opacity="0.030" stroke="#2a6cbc" stroke-width="0.45" stroke-opacity="1.00"/>
<path d="M450.8,276 L450.2,283" stroke="#fff" stroke-width="0.7"/>
<rect x="499.60" y="240.10" width="70.10" height="69.80" fill="none" stroke="#b0b0b0" stroke-width="0.9"/>
<line x1="499.60" y1="240.10" x2="499.60" y2="311.10" stroke="#333" stroke-width="0.8"/>
<line x1="498.40" y1="309.90" x2="569.70" y2="309.90" stroke="#333" stroke-width="0.8"/>
<line x1="498.00" y1="306.90" x2="499.60" y2="306.90" stroke="#333" stroke-width="0.7"/>
<text x="497.30" y="308.10" font-size="3.4" text-anchor="end" fill="#444">-10<tspan dy="-1.4" font-size="2.6">4</tspan></text>
<line x1="498.00" y1="303.50" x2="499.60" y2="303.50" stroke="#333" stroke-width="0.7"/>
<text x="497.30" y="304.70" font-size="3.4" text-anchor="end" fill="#444">-10<tspan dy="-1.4" font-size="2.6">3</tspan></text>
<line x1="498.00" y1="296.00" x2="499.60" y2="296.00" stroke="#333" stroke-width="0.7"/>
<text x="497.30" y="297.20" font-size="3.4" text-anchor="end" fill="#444">0</text>
<line x1="498.00" y1="272.70" x2="499.60" y2="272.70" stroke="#333" stroke-width="0.7"/>
<text x="497.30" y="273.90" font-size="3.4" text-anchor="end" fill="#444">10<tspan dy="-1.4" font-size="2.6">3</tspan></text>
<line x1="498.00" y1="259.90" x2="499.60" y2="259.90" stroke="#333" stroke-width="0.7"/>
<text x="497.30" y="261.10" font-size="3.4" text-anchor="end" fill="#444">10<tspan dy="-1.4" font-size="2.6">4</tspan></text>
<line x1="498.00" y1="246.60" x2="499.60" y2="246.60" stroke="#333" stroke-width="0.7"/>
<text x="497.30" y="247.80" font-size="3.4" text-anchor="end" fill="#444">10<tspan dy="-1.4" font-size="2.6">5</tspan></text>
<line x1="498.70" y1="306.22" x2="499.60" y2="306.22" stroke="#666" stroke-width="0.5"/>
<line x1="498.70" y1="305.54" x2="499.60" y2="305.54" stroke="#666" stroke-width="0.5"/>
<line x1="498.70" y1="304.86" x2="499.60" y2="304.86" stroke="#666" stroke-width="0.5"/>
<line x1="498.70" y1="304.18" x2="499.60" y2="304.18" stroke="#666" stroke-width="0.5"/>
<line x1="498.70" y1="302.00" x2="499.60" y2="302.00" stroke="#666" stroke-width="0.5"/>
<line x1="498.70" y1="300.50" x2="499.60" y2="300.50" stroke="#666" stroke-width="0.5"/>
<line x1="498.70" y1="299.00" x2="499.60" y2="299.00" stroke="#666" stroke-width="0.5"/>
<line x1="498.70" y1="297.50" x2="499.60" y2="297.50" stroke="#666" stroke-width="0.5"/>
<line x1="498.70" y1="291.34" x2="499.60" y2="291.34" stroke="#666" stroke-width="0.5"/>
<line x1="498.70" y1="286.68" x2="499.60" y2="286.68" stroke="#666" stroke-width="0.5"/>
<line x1="498.70" y1="282.02" x2="499.60" y2="282.02" stroke="#666" stroke-width="0.5"/>
<line x1="498.70" y1="277.36" x2="499.60" y2="277.36" stroke="#666" stroke-width="0.5"/>
<line x1="498.70" y1="270.14" x2="499.60" y2="270.14" stroke="#666" stroke-width="0.5"/>
<line x1="498.70" y1="267.58" x2="499.60" y2="267.58" stroke="#666" stroke-width="0.5"/>
<line x1="498.70" y1="265.02" x2="499.60" y2="265.02" stroke="#666" stroke-width="0.5"/>
<line x1="498.70" y1="262.46" x2="499.60" y2="262.46" stroke="#666" stroke-width="0.5"/>
<line x1="498.70" y1="257.24" x2="499.60" y2="257.24" stroke="#666" stroke-width="0.5"/>
<line x1="498.70" y1="254.58" x2="499.60" y2="254.58" stroke="#666" stroke-width="0.5"/>
<line x1="498.70" y1="251.92" x2="499.60" y2="251.92" stroke="#666" stroke-width="0.5"/>
<line x1="498.70" y1="249.26" x2="499.60" y2="249.26" stroke="#666" stroke-width="0.5"/>
<line x1="509.60" y1="309.90" x2="509.60" y2="311.50" stroke="#333" stroke-width="0.7"/>
<text x="509.60" y="317.50" font-size="3.4" text-anchor="middle" fill="#444">-10<tspan dy="-1.4" font-size="2.6">3</tspan></text>
<line x1="518.00" y1="309.90" x2="518.00" y2="311.50" stroke="#333" stroke-width="0.7"/>
<text x="518.00" y="317.50" font-size="3.4" text-anchor="middle" fill="#444">0</text>
<line x1="540.70" y1="309.90" x2="540.70" y2="311.50" stroke="#333" stroke-width="0.7"/>
<text x="540.70" y="317.50" font-size="3.4" text-anchor="middle" fill="#444">10<tspan dy="-1.4" font-size="2.6">3</tspan></text>
<line x1="549.70" y1="309.90" x2="549.70" y2="311.50" stroke="#333" stroke-width="0.7"/>
<text x="549.70" y="317.50" font-size="3.4" text-anchor="middle" fill="#444">10<tspan dy="-1.4" font-size="2.6">4</tspan></text>
<line x1="565.70" y1="309.90" x2="565.70" y2="311.50" stroke="#333" stroke-width="0.7"/>
<text x="565.70" y="317.50" font-size="3.4" text-anchor="middle" fill="#444">10<tspan dy="-1.4" font-size="2.6">5</tspan></text>
<line x1="511.28" y1="309.90" x2="511.28" y2="310.80" stroke="#666" stroke-width="0.5"/>
<line x1="512.96" y1="309.90" x2="512.96" y2="310.80" stroke="#666" stroke-width="0.5"/>
<line x1="514.64" y1="309.90" x2="514.64" y2="310.80" stroke="#666" stroke-width="0.5"/>
<line x1="516.32" y1="309.90" x2="516.32" y2="310.80" stroke="#666" stroke-width="0.5"/>
<line x1="522.54" y1="309.90" x2="522.54" y2="310.80" stroke="#666" stroke-width="0.5"/>
<line x1="527.08" y1="309.90" x2="527.08" y2="310.80" stroke="#666" stroke-width="0.5"/>
<line x1="531.62" y1="309.90" x2="531.62" y2="310.80" stroke="#666" stroke-width="0.5"/>
<line x1="536.16" y1="309.90" x2="536.16" y2="310.80" stroke="#666" stroke-width="0.5"/>
<line x1="542.50" y1="309.90" x2="542.50" y2="310.80" stroke="#666" stroke-width="0.5"/>
<line x1="544.30" y1="309.90" x2="544.30" y2="310.80" stroke="#666" stroke-width="0.5"/>
<line x1="546.10" y1="309.90" x2="546.10" y2="310.80" stroke="#666" stroke-width="0.5"/>
<line x1="547.90" y1="309.90" x2="547.90" y2="310.80" stroke="#666" stroke-width="0.5"/>
<line x1="552.90" y1="309.90" x2="552.90" y2="310.80" stroke="#666" stroke-width="0.5"/>
<line x1="556.10" y1="309.90" x2="556.10" y2="310.80" stroke="#666" stroke-width="0.5"/>
<line x1="559.30" y1="309.90" x2="559.30" y2="310.80" stroke="#666" stroke-width="0.5"/>
<line x1="562.50" y1="309.90" x2="562.50" y2="310.80" stroke="#666" stroke-width="0.5"/>
<text x="534.65" y="324.50" font-size="3.7" text-anchor="middle" fill="#3a3a3a">Comp-APC-A :: CD8</text>
<text x="484.90" y="275.00" font-size="3.7" text-anchor="middle" fill="#3a3a3a" transform="rotate(-90 484.9 275.0)">Comp-BV421-A :: Granzyme B</text>
<line x1="534.70" y1="240.10" x2="534.70" y2="309.90" stroke="#444" stroke-width="0.95"/>
<line x1="499.60" y1="274.20" x2="569.70" y2="274.20" stroke="#444" stroke-width="0.95"/>
<text x="501.20" y="245.70" font-size="3.2" text-anchor="start" fill="#333">Q5</text>
<text x="501.20" y="250.10" font-size="3.2" text-anchor="start" fill="#333">0</text>
<text x="564.70" y="245.70" font-size="3.2" text-anchor="end" fill="#333">Q6</text>
<text x="564.70" y="250.10" font-size="3.2" text-anchor="end" fill="#333">14.7</text>
<text x="501.20" y="302.10" font-size="3.2" text-anchor="start" fill="#333">Q8</text>
<text x="501.20" y="306.90" font-size="3.2" text-anchor="start" fill="#333">0</text>
<text x="564.70" y="302.10" font-size="3.2" text-anchor="end" fill="#333">Q7</text>
<text x="564.70" y="306.90" font-size="3.2" text-anchor="end" fill="#333">85.3</text>
<rect x="498.20" y="294.50" width="1.6" height="3.2" fill="#111"/>
<rect x="515.50" y="309.30" width="4.4" height="1.6" fill="#111"/>
<path d="M554.3,264.8 C554.0,266.0 553.6,267.2 553.1,268.2 C552.6,269.3 552.0,270.2 551.5,271.0 C550.9,271.7 550.2,272.3 549.7,272.6 C549.1,272.9 548.4,273.1 547.9,272.9 C547.4,272.8 546.9,272.4 546.5,271.8 C546.2,271.3 545.9,270.4 545.7,269.5 C545.5,268.6 545.5,267.5 545.6,266.4 C545.6,265.2 545.8,263.9 546.1,262.8 C546.4,261.6 546.8,260.4 547.3,259.4 C547.8,258.3 548.4,257.4 548.9,256.6 C549.5,255.9 550.2,255.3 550.7,255.0 C551.3,254.7 552.0,254.5 552.5,254.7 C553.0,254.8 553.5,255.2 553.9,255.8 C554.2,256.3 554.5,257.2 554.7,258.1 C554.9,259.0 554.9,260.1 554.8,261.2 C554.8,262.4 554.6,263.7 554.3,264.8Z" fill="#9ae2d8" fill-opacity="0.018" stroke="#9ae2d8" stroke-width="0.45" stroke-opacity="1.00"/>
<path d="M553.7,264.4 C553.5,265.4 553.1,266.5 552.7,267.3 C552.3,268.2 551.8,269.1 551.3,269.7 C550.8,270.3 550.3,270.8 549.8,271.1 C549.3,271.4 548.7,271.5 548.3,271.4 C547.8,271.3 547.4,270.9 547.1,270.4 C546.8,270.0 546.5,269.2 546.4,268.5 C546.2,267.7 546.2,266.7 546.2,265.7 C546.3,264.8 546.5,263.7 546.7,262.7 C547.0,261.7 547.3,260.6 547.7,259.7 C548.1,258.9 548.6,258.0 549.1,257.4 C549.6,256.8 550.2,256.3 550.7,256.0 C551.2,255.7 551.7,255.6 552.2,255.7 C552.6,255.8 553.1,256.2 553.4,256.6 C553.7,257.1 553.9,257.8 554.1,258.6 C554.2,259.4 554.3,260.4 554.2,261.4 C554.1,262.3 554.0,263.4 553.7,264.4Z" fill="#8dded3" fill-opacity="0.018" stroke="#8dded3" stroke-width="0.45" stroke-opacity="1.00"/>
<path d="M553.2,264.0 C553.0,264.9 552.7,265.7 552.3,266.5 C552.0,267.2 551.6,267.9 551.2,268.4 C550.8,269.0 550.3,269.4 549.9,269.6 C549.4,269.8 549.0,269.9 548.6,269.8 C548.3,269.7 547.9,269.5 547.6,269.1 C547.4,268.6 547.2,268.1 547.0,267.4 C546.9,266.7 546.9,265.9 546.9,265.1 C547.0,264.3 547.1,263.4 547.3,262.6 C547.5,261.7 547.8,260.9 548.2,260.1 C548.5,259.4 548.9,258.7 549.3,258.2 C549.8,257.6 550.2,257.2 550.6,257.0 C551.1,256.7 551.5,256.7 551.9,256.8 C552.3,256.8 552.6,257.1 552.9,257.5 C553.1,257.9 553.4,258.5 553.5,259.2 C553.6,259.8 553.6,260.7 553.6,261.5 C553.5,262.3 553.4,263.2 553.2,264.0Z" fill="#81dace" fill-opacity="0.018" stroke="#81dace" stroke-width="0.45" stroke-opacity="1.00"/>
<path d="M552.6,263.6 C552.5,264.3 552.2,265.0 551.9,265.6 C551.7,266.2 551.3,266.7 551.0,267.2 C550.7,267.6 550.3,267.9 550.0,268.1 C549.6,268.3 549.3,268.4 549.0,268.3 C548.7,268.2 548.4,268.0 548.2,267.7 C548.0,267.3 547.8,266.9 547.7,266.3 C547.6,265.8 547.6,265.1 547.6,264.5 C547.7,263.9 547.8,263.1 547.9,262.5 C548.1,261.8 548.4,261.1 548.6,260.5 C548.9,259.9 549.2,259.3 549.6,258.9 C549.9,258.5 550.3,258.2 550.6,258.0 C550.9,257.8 551.3,257.7 551.6,257.8 C551.9,257.9 552.2,258.1 552.4,258.4 C552.6,258.7 552.8,259.2 552.9,259.7 C553.0,260.3 553.0,260.9 553.0,261.6 C552.9,262.2 552.8,263.0 552.6,263.6Z" fill="#75d7c9" fill-opacity="0.018" stroke="#75d7c9" stroke-width="0.45" stroke-opacity="1.00"/>
<path d="M552.1,263.2 C552.0,263.7 551.8,264.3 551.6,264.7 C551.4,265.1 551.1,265.6 550.9,265.9 C550.6,266.2 550.3,266.5 550.1,266.6 C549.8,266.7 549.6,266.8 549.3,266.7 C549.1,266.7 548.9,266.5 548.7,266.3 C548.6,266.0 548.4,265.7 548.4,265.3 C548.3,264.9 548.3,264.4 548.3,263.9 C548.3,263.4 548.4,262.8 548.5,262.3 C548.7,261.8 548.9,261.3 549.1,260.9 C549.3,260.4 549.5,260.0 549.8,259.7 C550.0,259.4 550.3,259.1 550.5,259.0 C550.8,258.8 551.1,258.8 551.3,258.8 C551.5,258.9 551.7,259.1 551.9,259.3 C552.1,259.5 552.2,259.9 552.3,260.3 C552.3,260.7 552.4,261.2 552.3,261.7 C552.3,262.2 552.2,262.7 552.1,263.2Z" fill="#68d3c4" fill-opacity="0.018" stroke="#68d3c4" stroke-width="0.45" stroke-opacity="1.00"/>
<path d="M551.5,262.8 C551.4,263.2 551.3,263.5 551.2,263.8 C551.0,264.1 550.9,264.4 550.7,264.6 C550.5,264.8 550.4,265.0 550.2,265.1 C550.0,265.2 549.8,265.2 549.7,265.2 C549.5,265.1 549.4,265.0 549.3,264.9 C549.2,264.7 549.1,264.5 549.0,264.2 C549.0,263.9 549.0,263.6 549.0,263.3 C549.0,262.9 549.1,262.6 549.2,262.2 C549.2,261.9 549.4,261.5 549.5,261.2 C549.6,260.9 549.8,260.6 550.0,260.4 C550.1,260.2 550.3,260.0 550.5,260.0 C550.7,259.9 550.9,259.8 551.0,259.9 C551.2,259.9 551.3,260.0 551.4,260.2 C551.5,260.3 551.6,260.6 551.7,260.9 C551.7,261.1 551.7,261.5 551.7,261.8 C551.7,262.1 551.6,262.5 551.5,262.8Z" fill="#5ccfbf" fill-opacity="0.018" stroke="#5ccfbf" stroke-width="0.45" stroke-opacity="1.00"/>
<path d="M551.0,262.4 C550.9,262.6 550.9,262.8 550.8,262.9 C550.7,263.1 550.6,263.2 550.6,263.3 C550.5,263.5 550.4,263.5 550.3,263.6 C550.2,263.6 550.1,263.7 550.0,263.6 C550.0,263.6 549.9,263.6 549.8,263.5 C549.8,263.4 549.7,263.3 549.7,263.1 C549.7,263.0 549.7,262.8 549.7,262.7 C549.7,262.5 549.7,262.3 549.8,262.1 C549.8,261.9 549.9,261.8 549.9,261.6 C550.0,261.5 550.1,261.3 550.2,261.2 C550.3,261.1 550.4,261.0 550.5,260.9 C550.5,260.9 550.6,260.9 550.7,260.9 C550.8,260.9 550.9,261.0 550.9,261.1 C551.0,261.1 551.0,261.3 551.0,261.4 C551.1,261.5 551.1,261.7 551.1,261.9 C551.1,262.1 551.0,262.2 551.0,262.4Z" fill="#50ccba" fill-opacity="0.018" stroke="#50ccba" stroke-width="0.45" stroke-opacity="1.00"/>
<path d="M535.5,280.0 C535.6,277.3 536.2,276.3 537.0,275.0 C537.8,273.7 539.2,272.7 540.5,272.0 C541.8,271.3 543.6,270.9 545.0,271.0 C546.4,271.1 547.6,271.8 549.0,272.5 C550.4,273.2 552.2,274.2 553.5,275.5 C554.8,276.8 555.9,278.1 556.5,280.0 C557.1,281.9 557.4,284.8 557.3,287.0 C557.2,289.2 556.9,291.3 556.0,293.0 C555.1,294.7 553.7,296.1 552.0,297.0 C550.3,297.9 548.0,298.4 546.0,298.2 C544.0,298.0 541.6,297.2 540.0,296.0 C538.4,294.8 537.2,293.7 536.5,291.0 C535.8,288.3 535.4,282.7 535.5,280.0Z" fill="#98e2d8" fill-opacity="0.022" stroke="#98e2d8" stroke-width="0.45" stroke-opacity="1.00"/>
<path d="M537.1,280.8 C537.2,278.4 537.7,277.5 538.4,276.3 C539.2,275.1 540.4,274.2 541.6,273.6 C542.8,273.0 544.3,272.7 545.6,272.7 C546.9,272.8 547.9,273.4 549.2,274.1 C550.4,274.7 552.1,275.6 553.2,276.8 C554.3,277.9 555.3,279.1 555.9,280.8 C556.4,282.5 556.7,285.1 556.6,287.0 C556.5,289.0 556.2,290.9 555.4,292.4 C554.6,293.9 553.3,295.2 551.8,296.0 C550.4,296.7 548.3,297.2 546.5,297.0 C544.7,296.9 542.5,296.1 541.1,295.1 C539.7,294.0 538.7,293.0 538.0,290.6 C537.3,288.2 537.0,283.2 537.1,280.8Z" fill="#8fdfd4" fill-opacity="0.022" stroke="#8fdfd4" stroke-width="0.45" stroke-opacity="1.00"/>
<path d="M538.5,281.4 C538.5,279.3 539.0,278.5 539.7,277.4 C540.3,276.4 541.4,275.6 542.5,275.0 C543.6,274.5 545.0,274.2 546.1,274.2 C547.2,274.3 548.2,274.8 549.3,275.4 C550.4,276.0 551.9,276.8 552.9,277.8 C553.9,278.8 554.8,279.9 555.3,281.4 C555.8,283.0 556.0,285.3 556.0,287.1 C555.9,288.8 555.6,290.5 554.9,291.9 C554.2,293.2 553.0,294.4 551.7,295.1 C550.4,295.8 548.5,296.2 546.9,296.0 C545.3,295.9 543.4,295.2 542.1,294.3 C540.8,293.3 539.9,292.4 539.3,290.3 C538.7,288.1 538.4,283.6 538.5,281.4Z" fill="#86dcd0" fill-opacity="0.022" stroke="#86dcd0" stroke-width="0.45" stroke-opacity="1.00"/>
<path d="M539.8,282.1 C539.8,280.2 540.3,279.5 540.9,278.5 C541.5,277.6 542.4,276.8 543.4,276.4 C544.3,275.9 545.6,275.6 546.6,275.7 C547.6,275.7 548.4,276.2 549.4,276.7 C550.4,277.3 551.7,278.0 552.6,278.9 C553.5,279.8 554.3,280.7 554.8,282.1 C555.2,283.5 555.4,285.5 555.4,287.1 C555.3,288.6 555.1,290.2 554.4,291.4 C553.8,292.6 552.8,293.6 551.6,294.2 C550.4,294.8 548.7,295.2 547.3,295.1 C545.9,295.0 544.1,294.4 543.0,293.5 C541.9,292.7 541.0,291.8 540.5,289.9 C540.0,288.0 539.7,284.0 539.8,282.1Z" fill="#7dd9cc" fill-opacity="0.022" stroke="#7dd9cc" stroke-width="0.45" stroke-opacity="1.00"/>
<path d="M541.1,282.7 C541.1,281.0 541.5,280.4 542.0,279.6 C542.5,278.7 543.4,278.1 544.2,277.7 C545.0,277.2 546.1,277.0 547.0,277.0 C547.9,277.1 548.7,277.5 549.6,278.0 C550.4,278.5 551.6,279.1 552.4,279.9 C553.2,280.7 553.9,281.5 554.3,282.7 C554.7,283.9 554.8,285.7 554.8,287.1 C554.7,288.5 554.5,289.8 554.0,290.9 C553.4,291.9 552.5,292.9 551.4,293.4 C550.4,294.0 548.9,294.3 547.7,294.2 C546.4,294.1 544.9,293.5 543.9,292.8 C542.9,292.0 542.2,291.3 541.7,289.6 C541.2,288.0 541.0,284.4 541.1,282.7Z" fill="#75d7c8" fill-opacity="0.022" stroke="#75d7c8" stroke-width="0.45" stroke-opacity="1.00"/>
<path d="M542.3,283.3 C542.3,281.8 542.7,281.3 543.1,280.6 C543.6,279.8 544.3,279.3 545.0,278.9 C545.8,278.6 546.7,278.3 547.5,278.4 C548.3,278.4 548.9,278.8 549.7,279.2 C550.5,279.6 551.5,280.2 552.1,280.8 C552.8,281.5 553.4,282.3 553.8,283.3 C554.1,284.4 554.3,285.9 554.2,287.1 C554.2,288.3 554.0,289.5 553.5,290.4 C553.0,291.3 552.2,292.1 551.3,292.6 C550.4,293.1 549.1,293.4 548.0,293.3 C546.9,293.2 545.6,292.7 544.8,292.1 C543.9,291.4 543.2,290.8 542.8,289.3 C542.4,287.9 542.2,284.8 542.3,283.3Z" fill="#6cd4c4" fill-opacity="0.022" stroke="#6cd4c4" stroke-width="0.45" stroke-opacity="1.00"/>
<path d="M543.5,283.9 C543.5,282.6 543.8,282.2 544.2,281.6 C544.6,280.9 545.2,280.5 545.8,280.2 C546.5,279.8 547.3,279.7 547.9,279.7 C548.6,279.7 549.1,280.0 549.8,280.4 C550.5,280.7 551.3,281.2 551.9,281.8 C552.5,282.4 553.0,283.0 553.3,283.9 C553.6,284.8 553.7,286.1 553.7,287.2 C553.6,288.2 553.5,289.2 553.1,290.0 C552.7,290.7 552.0,291.4 551.2,291.8 C550.4,292.2 549.3,292.5 548.4,292.4 C547.5,292.3 546.3,291.9 545.6,291.4 C544.9,290.8 544.3,290.3 544.0,289.0 C543.6,287.8 543.5,285.1 543.5,283.9Z" fill="#63d1c1" fill-opacity="0.022" stroke="#63d1c1" stroke-width="0.45" stroke-opacity="1.00"/>
<path d="M544.7,284.5 C544.7,283.4 544.9,283.1 545.3,282.5 C545.6,282.0 546.1,281.6 546.6,281.4 C547.1,281.1 547.8,281.0 548.4,281.0 C548.9,281.0 549.4,281.3 549.9,281.6 C550.5,281.9 551.2,282.2 551.7,282.7 C552.1,283.2 552.6,283.7 552.8,284.5 C553.1,285.2 553.2,286.3 553.1,287.2 C553.1,288.0 553.0,288.9 552.6,289.5 C552.3,290.2 551.7,290.7 551.1,291.1 C550.4,291.4 549.5,291.6 548.8,291.5 C548.0,291.5 547.0,291.1 546.4,290.7 C545.8,290.2 545.4,289.8 545.1,288.7 C544.8,287.7 544.7,285.5 544.7,284.5Z" fill="#5acebd" fill-opacity="0.022" stroke="#5acebd" stroke-width="0.45" stroke-opacity="1.00"/>
<path d="M545.9,285.0 C545.9,284.2 546.1,283.9 546.3,283.5 C546.6,283.1 547.0,282.8 547.4,282.6 C547.8,282.4 548.4,282.2 548.8,282.3 C549.2,282.3 549.6,282.5 550.0,282.7 C550.5,283.0 551.0,283.3 551.4,283.7 C551.8,284.0 552.2,284.4 552.4,285.0 C552.6,285.6 552.6,286.5 552.6,287.2 C552.6,287.9 552.5,288.5 552.2,289.1 C551.9,289.6 551.5,290.0 551.0,290.3 C550.4,290.6 549.7,290.7 549.1,290.7 C548.5,290.6 547.7,290.4 547.3,290.0 C546.8,289.6 546.4,289.3 546.2,288.4 C545.9,287.6 545.8,285.9 545.9,285.0Z" fill="#52ccb9" fill-opacity="0.022" stroke="#52ccb9" stroke-width="0.45" stroke-opacity="1.00"/>
<path d="M547.0,285.6 C547.0,285.0 547.2,284.8 547.4,284.4 C547.6,284.1 547.9,283.9 548.2,283.8 C548.5,283.6 548.9,283.5 549.2,283.5 C549.6,283.5 549.8,283.7 550.2,283.9 C550.5,284.0 550.9,284.3 551.2,284.6 C551.5,284.9 551.7,285.2 551.9,285.6 C552.0,286.1 552.1,286.7 552.1,287.2 C552.1,287.7 552.0,288.2 551.8,288.6 C551.6,289.0 551.2,289.3 550.8,289.6 C550.5,289.8 549.9,289.9 549.5,289.8 C549.0,289.8 548.4,289.6 548.1,289.3 C547.7,289.0 547.4,288.8 547.3,288.2 C547.1,287.5 547.0,286.2 547.0,285.6Z" fill="#49c9b5" fill-opacity="0.022" stroke="#49c9b5" stroke-width="0.45" stroke-opacity="1.00"/>
<path d="M548.2,286.2 C548.2,285.7 548.3,285.6 548.4,285.4 C548.5,285.2 548.7,285.0 548.9,284.9 C549.2,284.8 549.4,284.8 549.6,284.8 C549.9,284.8 550.0,284.9 550.3,285.0 C550.5,285.1 550.8,285.3 551.0,285.5 C551.2,285.7 551.3,285.9 551.4,286.2 C551.5,286.5 551.6,286.9 551.6,287.3 C551.5,287.6 551.5,287.9 551.4,288.2 C551.2,288.4 551.0,288.7 550.7,288.8 C550.5,288.9 550.1,289.0 549.8,289.0 C549.5,289.0 549.1,288.8 548.9,288.7 C548.6,288.5 548.4,288.3 548.3,287.9 C548.2,287.5 548.2,286.6 548.2,286.2Z" fill="#40c6b1" fill-opacity="0.022" stroke="#40c6b1" stroke-width="0.45" stroke-opacity="1.00"/>
<path d="M549.3,286.7 C549.3,286.5 549.4,286.4 549.4,286.3 C549.5,286.2 549.6,286.1 549.7,286.1 C549.8,286.0 549.9,286.0 550.1,286.0 C550.2,286.0 550.3,286.1 550.4,286.1 C550.5,286.2 550.6,286.3 550.7,286.4 C550.8,286.5 550.9,286.6 551.0,286.7 C551.0,286.9 551.1,287.1 551.0,287.3 C551.0,287.4 551.0,287.6 550.9,287.8 C550.9,287.9 550.8,288.0 550.6,288.1 C550.5,288.1 550.3,288.2 550.1,288.2 C550.0,288.2 549.8,288.1 549.7,288.0 C549.5,287.9 549.4,287.8 549.4,287.6 C549.3,287.4 549.3,286.9 549.3,286.7Z" fill="#38c4ae" fill-opacity="0.022" stroke="#38c4ae" stroke-width="0.45" stroke-opacity="1.00"/>
<path d="M544.2,282.0 C544.2,282.8 544.0,283.8 543.6,284.5 C543.2,285.1 542.6,285.7 542.0,286.0 C541.4,286.2 540.6,286.2 540.0,286.0 C539.4,285.7 538.8,285.1 538.4,284.5 C538.0,283.8 537.8,282.8 537.8,282.0 C537.8,281.2 538.0,280.2 538.4,279.5 C538.8,278.9 539.4,278.3 540.0,278.0 C540.6,277.8 541.4,277.8 542.0,278.0 C542.6,278.3 543.2,278.9 543.6,279.5 C544.0,280.2 544.2,281.2 544.2,282.0Z" fill="#8ad8cc" fill-opacity="0.010" stroke="#8ad8cc" stroke-width="0.4" stroke-opacity="1.00"/>
<path d="M543.4,282.0 C543.4,282.6 543.2,283.4 542.9,283.9 C542.6,284.4 542.1,284.8 541.7,285.0 C541.2,285.2 540.7,285.2 540.2,285.0 C539.8,284.8 539.3,284.4 539.0,283.9 C538.7,283.4 538.5,282.6 538.5,282.0 C538.5,281.4 538.7,280.6 539.0,280.1 C539.3,279.6 539.8,279.2 540.2,279.0 C540.7,278.8 541.2,278.8 541.7,279.0 C542.1,279.2 542.6,279.6 542.9,280.1 C543.2,280.6 543.4,281.4 543.4,282.0Z" fill="#8ad8cc" fill-opacity="0.010" stroke="#8ad8cc" stroke-width="0.4" stroke-opacity="1.00"/>
<path d="M542.5,282.0 C542.5,282.4 542.4,282.9 542.2,283.2 C542.0,283.6 541.7,283.9 541.4,284.0 C541.1,284.1 540.7,284.1 540.4,284.0 C540.1,283.9 539.8,283.6 539.6,283.2 C539.4,282.9 539.3,282.4 539.3,282.0 C539.3,281.6 539.4,281.1 539.6,280.8 C539.8,280.4 540.1,280.1 540.4,280.0 C540.7,279.9 541.1,279.9 541.4,280.0 C541.7,280.1 542.0,280.4 542.2,280.8 C542.4,281.1 542.5,281.6 542.5,282.0Z" fill="#8ad8cc" fill-opacity="0.010" stroke="#8ad8cc" stroke-width="0.4" stroke-opacity="1.00"/>
<path d="M541.6,282.0 C541.6,282.2 541.6,282.5 541.5,282.6 C541.4,282.8 541.2,282.9 541.1,283.0 C540.9,283.1 540.8,283.1 540.6,283.0 C540.5,282.9 540.3,282.8 540.2,282.6 C540.1,282.5 540.0,282.2 540.0,282.0 C540.0,281.8 540.1,281.5 540.2,281.4 C540.3,281.2 540.5,281.1 540.6,281.0 C540.8,280.9 540.9,280.9 541.1,281.0 C541.2,281.1 541.4,281.2 541.5,281.4 C541.6,281.5 541.6,281.8 541.6,282.0Z" fill="#8ad8cc" fill-opacity="0.010" stroke="#8ad8cc" stroke-width="0.4" stroke-opacity="1.00"/>
<path d="M556.1,287.0 C556.1,287.8 555.9,288.7 555.6,289.4 C555.2,290.2 554.7,290.9 554.1,291.4 C553.5,291.9 552.7,292.3 551.9,292.5 C551.1,292.6 550.3,292.6 549.5,292.5 C548.7,292.3 547.9,291.9 547.3,291.4 C546.7,290.9 546.2,290.2 545.8,289.4 C545.5,288.7 545.3,287.8 545.3,287.0 C545.3,286.2 545.5,285.3 545.8,284.6 C546.2,283.8 546.7,283.1 547.3,282.6 C547.9,282.1 548.7,281.7 549.5,281.5 C550.3,281.4 551.1,281.4 551.9,281.5 C552.7,281.7 553.5,282.1 554.1,282.6 C554.7,283.1 555.2,283.8 555.6,284.6 C555.9,285.3 556.1,286.2 556.1,287.0Z" fill="#78d4c4" fill-opacity="0.000" stroke="#78d4c4" stroke-width="0.4" stroke-opacity="0.98"/>
<path d="M555.0,287.0 C555.0,287.6 554.9,288.4 554.6,288.9 C554.3,289.5 553.9,290.1 553.4,290.5 C552.9,290.9 552.3,291.2 551.7,291.4 C551.1,291.5 550.3,291.5 549.7,291.4 C549.1,291.2 548.5,290.9 548.0,290.5 C547.5,290.1 547.1,289.5 546.8,288.9 C546.5,288.4 546.4,287.6 546.4,287.0 C546.4,286.4 546.5,285.6 546.8,285.1 C547.1,284.5 547.5,283.9 548.0,283.5 C548.5,283.1 549.1,282.8 549.7,282.6 C550.3,282.5 551.1,282.5 551.7,282.6 C552.3,282.8 552.9,283.1 553.4,283.5 C553.9,283.9 554.3,284.5 554.6,285.1 C554.9,285.6 555.0,286.4 555.0,287.0Z" fill="#78d4c4" fill-opacity="0.000" stroke="#78d4c4" stroke-width="0.4" stroke-opacity="0.98"/>
<path d="M553.9,287.0 C553.9,287.5 553.8,288.0 553.6,288.5 C553.4,288.9 553.1,289.3 552.7,289.6 C552.4,289.9 551.9,290.2 551.4,290.3 C551.0,290.4 550.4,290.4 550.0,290.3 C549.5,290.2 549.0,289.9 548.7,289.6 C548.3,289.3 548.0,288.9 547.8,288.5 C547.6,288.0 547.5,287.5 547.5,287.0 C547.5,286.5 547.6,286.0 547.8,285.5 C548.0,285.1 548.3,284.7 548.7,284.4 C549.0,284.1 549.5,283.8 550.0,283.7 C550.4,283.6 551.0,283.6 551.4,283.7 C551.9,283.8 552.4,284.1 552.7,284.4 C553.1,284.7 553.4,285.1 553.6,285.5 C553.8,286.0 553.9,286.5 553.9,287.0Z" fill="#78d4c4" fill-opacity="0.000" stroke="#78d4c4" stroke-width="0.4" stroke-opacity="0.98"/>
<path d="M552.9,287.0 C552.9,287.3 552.8,287.7 552.6,288.0 C552.5,288.3 552.3,288.5 552.0,288.8 C551.8,289.0 551.5,289.1 551.2,289.2 C550.9,289.3 550.5,289.3 550.2,289.2 C549.9,289.1 549.6,289.0 549.4,288.8 C549.1,288.5 548.9,288.3 548.8,288.0 C548.6,287.7 548.5,287.3 548.5,287.0 C548.5,286.7 548.6,286.3 548.8,286.0 C548.9,285.7 549.1,285.5 549.4,285.2 C549.6,285.0 549.9,284.9 550.2,284.8 C550.5,284.7 550.9,284.7 551.2,284.8 C551.5,284.9 551.8,285.0 552.0,285.2 C552.3,285.5 552.5,285.7 552.6,286.0 C552.8,286.3 552.9,286.7 552.9,287.0Z" fill="#78d4c4" fill-opacity="0.000" stroke="#78d4c4" stroke-width="0.4" stroke-opacity="0.98"/>
<path d="M551.8,287.0 C551.8,287.2 551.7,287.3 551.7,287.5 C551.6,287.6 551.5,287.8 551.4,287.9 C551.3,288.0 551.1,288.1 550.9,288.1 C550.8,288.1 550.6,288.1 550.5,288.1 C550.3,288.1 550.1,288.0 550.0,287.9 C549.9,287.8 549.8,287.6 549.7,287.5 C549.7,287.3 549.6,287.2 549.6,287.0 C549.6,286.8 549.7,286.7 549.7,286.5 C549.8,286.4 549.9,286.2 550.0,286.1 C550.1,286.0 550.3,285.9 550.5,285.9 C550.6,285.9 550.8,285.9 550.9,285.9 C551.1,285.9 551.3,286.0 551.4,286.1 C551.5,286.2 551.6,286.4 551.7,286.5 C551.7,286.7 551.8,286.8 551.8,287.0Z" fill="#78d4c4" fill-opacity="0.000" stroke="#78d4c4" stroke-width="0.4" stroke-opacity="0.98"/>
<circle cx="550.6" cy="287.4" r="0.6" fill="#fff"/>
<rect x="611.60" y="240.10" width="69.60" height="69.40" fill="none" stroke="#b0b0b0" stroke-width="0.9"/>
<line x1="611.60" y1="240.10" x2="611.60" y2="310.70" stroke="#333" stroke-width="0.8"/>
<line x1="610.40" y1="309.50" x2="681.20" y2="309.50" stroke="#333" stroke-width="0.8"/>
<line x1="610.00" y1="306.50" x2="611.60" y2="306.50" stroke="#333" stroke-width="0.7"/>
<text x="609.30" y="307.70" font-size="3.4" text-anchor="end" fill="#444">-10<tspan dy="-1.4" font-size="2.6">4</tspan></text>
<line x1="610.00" y1="290.50" x2="611.60" y2="290.50" stroke="#333" stroke-width="0.7"/>
<text x="609.30" y="291.70" font-size="3.4" text-anchor="end" fill="#444">-10<tspan dy="-1.4" font-size="2.6">3</tspan></text>
<line x1="610.00" y1="283.00" x2="611.60" y2="283.00" stroke="#333" stroke-width="0.7"/>
<text x="609.30" y="284.20" font-size="3.4" text-anchor="end" fill="#444">0</text>
<line x1="610.00" y1="270.80" x2="611.60" y2="270.80" stroke="#333" stroke-width="0.7"/>
<text x="609.30" y="272.00" font-size="3.4" text-anchor="end" fill="#444">10<tspan dy="-1.4" font-size="2.6">3</tspan></text>
<line x1="610.00" y1="259.90" x2="611.60" y2="259.90" stroke="#333" stroke-width="0.7"/>
<text x="609.30" y="261.10" font-size="3.4" text-anchor="end" fill="#444">10<tspan dy="-1.4" font-size="2.6">4</tspan></text>
<line x1="610.00" y1="246.60" x2="611.60" y2="246.60" stroke="#333" stroke-width="0.7"/>
<text x="609.30" y="247.80" font-size="3.4" text-anchor="end" fill="#444">10<tspan dy="-1.4" font-size="2.6">5</tspan></text>
<line x1="610.70" y1="303.30" x2="611.60" y2="303.30" stroke="#666" stroke-width="0.5"/>
<line x1="610.70" y1="300.10" x2="611.60" y2="300.10" stroke="#666" stroke-width="0.5"/>
<line x1="610.70" y1="296.90" x2="611.60" y2="296.90" stroke="#666" stroke-width="0.5"/>
<line x1="610.70" y1="293.70" x2="611.60" y2="293.70" stroke="#666" stroke-width="0.5"/>
<line x1="610.70" y1="289.00" x2="611.60" y2="289.00" stroke="#666" stroke-width="0.5"/>
<line x1="610.70" y1="287.50" x2="611.60" y2="287.50" stroke="#666" stroke-width="0.5"/>
<line x1="610.70" y1="286.00" x2="611.60" y2="286.00" stroke="#666" stroke-width="0.5"/>
<line x1="610.70" y1="284.50" x2="611.60" y2="284.50" stroke="#666" stroke-width="0.5"/>
<line x1="610.70" y1="280.56" x2="611.60" y2="280.56" stroke="#666" stroke-width="0.5"/>
<line x1="610.70" y1="278.12" x2="611.60" y2="278.12" stroke="#666" stroke-width="0.5"/>
<line x1="610.70" y1="275.68" x2="611.60" y2="275.68" stroke="#666" stroke-width="0.5"/>
<line x1="610.70" y1="273.24" x2="611.60" y2="273.24" stroke="#666" stroke-width="0.5"/>
<line x1="610.70" y1="268.62" x2="611.60" y2="268.62" stroke="#666" stroke-width="0.5"/>
<line x1="610.70" y1="266.44" x2="611.60" y2="266.44" stroke="#666" stroke-width="0.5"/>
<line x1="610.70" y1="264.26" x2="611.60" y2="264.26" stroke="#666" stroke-width="0.5"/>
<line x1="610.70" y1="262.08" x2="611.60" y2="262.08" stroke="#666" stroke-width="0.5"/>
<line x1="610.70" y1="257.24" x2="611.60" y2="257.24" stroke="#666" stroke-width="0.5"/>
<line x1="610.70" y1="254.58" x2="611.60" y2="254.58" stroke="#666" stroke-width="0.5"/>
<line x1="610.70" y1="251.92" x2="611.60" y2="251.92" stroke="#666" stroke-width="0.5"/>
<line x1="610.70" y1="249.26" x2="611.60" y2="249.26" stroke="#666" stroke-width="0.5"/>
<line x1="621.60" y1="309.50" x2="621.60" y2="311.10" stroke="#333" stroke-width="0.7"/>
<text x="621.60" y="317.10" font-size="3.4" text-anchor="middle" fill="#444">-10<tspan dy="-1.4" font-size="2.6">3</tspan></text>
<line x1="628.00" y1="309.50" x2="628.00" y2="311.10" stroke="#333" stroke-width="0.7"/>
<text x="628.00" y="317.10" font-size="3.4" text-anchor="middle" fill="#444">0</text>
<line x1="653.40" y1="309.50" x2="653.40" y2="311.10" stroke="#333" stroke-width="0.7"/>
<text x="653.40" y="317.10" font-size="3.4" text-anchor="middle" fill="#444">10<tspan dy="-1.4" font-size="2.6">3</tspan></text>
<line x1="661.20" y1="309.50" x2="661.20" y2="311.10" stroke="#333" stroke-width="0.7"/>
<text x="661.20" y="317.10" font-size="3.4" text-anchor="middle" fill="#444">10<tspan dy="-1.4" font-size="2.6">4</tspan></text>
<line x1="677.20" y1="309.50" x2="677.20" y2="311.10" stroke="#333" stroke-width="0.7"/>
<text x="677.20" y="317.10" font-size="3.4" text-anchor="middle" fill="#444">10<tspan dy="-1.4" font-size="2.6">5</tspan></text>
<line x1="622.88" y1="309.50" x2="622.88" y2="310.40" stroke="#666" stroke-width="0.5"/>
<line x1="624.16" y1="309.50" x2="624.16" y2="310.40" stroke="#666" stroke-width="0.5"/>
<line x1="625.44" y1="309.50" x2="625.44" y2="310.40" stroke="#666" stroke-width="0.5"/>
<line x1="626.72" y1="309.50" x2="626.72" y2="310.40" stroke="#666" stroke-width="0.5"/>
<line x1="633.08" y1="309.50" x2="633.08" y2="310.40" stroke="#666" stroke-width="0.5"/>
<line x1="638.16" y1="309.50" x2="638.16" y2="310.40" stroke="#666" stroke-width="0.5"/>
<line x1="643.24" y1="309.50" x2="643.24" y2="310.40" stroke="#666" stroke-width="0.5"/>
<line x1="648.32" y1="309.50" x2="648.32" y2="310.40" stroke="#666" stroke-width="0.5"/>
<line x1="654.96" y1="309.50" x2="654.96" y2="310.40" stroke="#666" stroke-width="0.5"/>
<line x1="656.52" y1="309.50" x2="656.52" y2="310.40" stroke="#666" stroke-width="0.5"/>
<line x1="658.08" y1="309.50" x2="658.08" y2="310.40" stroke="#666" stroke-width="0.5"/>
<line x1="659.64" y1="309.50" x2="659.64" y2="310.40" stroke="#666" stroke-width="0.5"/>
<line x1="664.40" y1="309.50" x2="664.40" y2="310.40" stroke="#666" stroke-width="0.5"/>
<line x1="667.60" y1="309.50" x2="667.60" y2="310.40" stroke="#666" stroke-width="0.5"/>
<line x1="670.80" y1="309.50" x2="670.80" y2="310.40" stroke="#666" stroke-width="0.5"/>
<line x1="674.00" y1="309.50" x2="674.00" y2="310.40" stroke="#666" stroke-width="0.5"/>
<text x="646.40" y="324.10" font-size="3.7" text-anchor="middle" fill="#3a3a3a">Comp-APC-A :: CD8</text>
<text x="596.90" y="274.80" font-size="3.7" text-anchor="middle" fill="#3a3a3a" transform="rotate(-90 596.9 274.8)">Comp-PE-A :: Perforin</text>
<line x1="647.40" y1="240.10" x2="647.40" y2="309.50" stroke="#444" stroke-width="0.95"/>
<line x1="611.60" y1="272.30" x2="681.20" y2="272.30" stroke="#444" stroke-width="0.95"/>
<text x="613.20" y="245.70" font-size="3.2" text-anchor="start" fill="#333">Q1</text>
<text x="613.20" y="250.10" font-size="3.2" text-anchor="start" fill="#333">0</text>
<text x="676.20" y="245.70" font-size="3.2" text-anchor="end" fill="#333">Q2</text>
<text x="676.20" y="250.10" font-size="3.2" text-anchor="end" fill="#333">14.6</text>
<text x="613.20" y="301.70" font-size="3.2" text-anchor="start" fill="#333">Q4</text>
<text x="613.20" y="306.50" font-size="3.2" text-anchor="start" fill="#333">0</text>
<text x="676.20" y="301.70" font-size="3.2" text-anchor="end" fill="#333">Q3</text>
<text x="676.20" y="306.50" font-size="3.2" text-anchor="end" fill="#333">85.4</text>
<rect x="610.20" y="281.50" width="1.6" height="3.2" fill="#111"/>
<rect x="625.50" y="308.90" width="4.4" height="1.6" fill="#111"/>
<path d="M657.2,262.0 C657.1,259.2 657.4,257.5 658.0,256.0 C658.6,254.5 659.9,253.5 661.0,253.0 C662.1,252.5 663.6,252.5 664.5,253.2 C665.4,253.9 666.0,255.2 666.2,257.0 C666.5,258.8 666.1,261.4 666.0,264.0 C665.9,266.6 666.8,271.2 665.5,272.6 C664.2,274.0 659.9,274.4 658.5,272.6 C657.1,270.8 657.3,264.8 657.2,262.0Z" fill="#ccb0f6" fill-opacity="0.020" stroke="#ccb0f6" stroke-width="0.45" stroke-opacity="1.00"/>
<path d="M657.8,262.1 C657.7,259.8 658.0,258.3 658.5,257.0 C659.0,255.7 660.1,254.8 661.1,254.4 C662.0,254.0 663.3,254.0 664.1,254.6 C664.8,255.2 665.3,256.3 665.5,257.9 C665.7,259.4 665.5,261.6 665.4,263.9 C665.3,266.1 666.0,270.0 664.9,271.2 C663.9,272.5 660.1,272.8 658.9,271.2 C657.7,269.7 657.9,264.5 657.8,262.1Z" fill="#c5a6f4" fill-opacity="0.020" stroke="#c5a6f4" stroke-width="0.45" stroke-opacity="1.00"/>
<path d="M658.4,262.3 C658.4,260.3 658.5,259.1 659.0,258.0 C659.4,256.9 660.4,256.2 661.1,255.8 C661.9,255.5 663.0,255.5 663.6,256.0 C664.3,256.5 664.7,257.4 664.9,258.7 C665.0,260.0 664.8,261.9 664.7,263.7 C664.6,265.6 665.3,268.9 664.4,269.9 C663.5,270.9 660.3,271.1 659.4,269.9 C658.4,268.6 658.5,264.3 658.4,262.3Z" fill="#be9df2" fill-opacity="0.020" stroke="#be9df2" stroke-width="0.45" stroke-opacity="1.00"/>
<path d="M659.0,262.4 C659.0,260.8 659.1,259.8 659.5,259.0 C659.9,258.1 660.6,257.5 661.2,257.2 C661.8,257.0 662.7,257.0 663.2,257.4 C663.7,257.7 664.1,258.5 664.2,259.6 C664.3,260.6 664.2,262.1 664.1,263.6 C664.0,265.1 664.5,267.7 663.8,268.5 C663.1,269.3 660.6,269.5 659.8,268.5 C659.0,267.5 659.1,264.0 659.0,262.4Z" fill="#b894f1" fill-opacity="0.020" stroke="#b894f1" stroke-width="0.45" stroke-opacity="1.00"/>
<path d="M659.6,262.6 C659.6,261.4 659.7,260.6 660.0,260.0 C660.3,259.3 660.8,258.9 661.3,258.7 C661.8,258.5 662.4,258.5 662.8,258.8 C663.2,259.0 663.4,259.6 663.5,260.4 C663.6,261.2 663.5,262.3 663.5,263.4 C663.4,264.6 663.8,266.5 663.2,267.2 C662.7,267.8 660.8,267.9 660.2,267.2 C659.6,266.4 659.7,263.8 659.6,262.6Z" fill="#b18aef" fill-opacity="0.020" stroke="#b18aef" stroke-width="0.45" stroke-opacity="1.00"/>
<path d="M660.2,262.7 C660.2,261.9 660.3,261.4 660.5,261.0 C660.7,260.5 661.0,260.2 661.4,260.1 C661.7,259.9 662.1,259.9 662.4,260.1 C662.6,260.3 662.8,260.7 662.9,261.2 C662.9,261.8 662.8,262.5 662.8,263.3 C662.8,264.1 663.0,265.4 662.7,265.8 C662.3,266.2 661.0,266.3 660.6,265.8 C660.2,265.3 660.3,263.5 660.2,262.7Z" fill="#aa81ed" fill-opacity="0.020" stroke="#aa81ed" stroke-width="0.45" stroke-opacity="1.00"/>
<path d="M660.9,262.9 C660.8,262.4 660.9,262.2 661.0,261.9 C661.1,261.7 661.3,261.6 661.4,261.5 C661.6,261.4 661.8,261.4 662.0,261.5 C662.1,261.6 662.2,261.8 662.2,262.1 C662.2,262.4 662.2,262.8 662.2,263.1 C662.2,263.5 662.3,264.2 662.1,264.4 C661.9,264.7 661.3,264.7 661.0,264.4 C660.8,264.2 660.9,263.3 660.9,262.9Z" fill="#a478ec" fill-opacity="0.020" stroke="#a478ec" stroke-width="0.45" stroke-opacity="1.00"/>
<path d="M646.1,282.0 C646.1,280.2 646.7,278.2 647.5,277.0 C648.3,275.8 649.6,274.9 651.0,274.5 C652.4,274.1 654.2,274.3 656.0,274.3 C657.8,274.3 660.2,274.2 662.0,274.3 C663.8,274.4 666.0,274.1 667.0,275.0 C668.0,275.9 668.1,278.2 668.3,280.0 C668.5,281.8 668.5,283.9 668.0,285.5 C667.5,287.1 666.3,288.7 665.0,289.5 C663.7,290.3 662.2,290.2 660.0,290.3 C657.8,290.4 654.1,290.5 652.0,290.0 C649.9,289.5 648.5,288.8 647.5,287.5 C646.5,286.2 646.1,283.8 646.1,282.0Z" fill="#c8a8f4" fill-opacity="0.035" stroke="#c8a8f4" stroke-width="0.45" stroke-opacity="1.00"/>
<path d="M647.5,282.0 C647.5,280.4 648.1,278.6 648.8,277.4 C649.5,276.3 650.7,275.6 652.0,275.2 C653.3,274.8 654.9,275.0 656.5,275.0 C658.2,275.0 660.3,274.9 662.0,275.0 C663.6,275.1 665.6,274.8 666.5,275.6 C667.5,276.5 667.5,278.6 667.7,280.2 C667.8,281.7 667.9,283.7 667.4,285.2 C666.9,286.6 665.9,288.1 664.7,288.8 C663.5,289.5 662.1,289.4 660.2,289.5 C658.2,289.6 654.8,289.7 652.9,289.2 C651.0,288.8 649.7,288.2 648.8,287.0 C647.9,285.8 647.5,283.6 647.5,282.0Z" fill="#c19cf3" fill-opacity="0.035" stroke="#c19cf3" stroke-width="0.45" stroke-opacity="1.00"/>
<path d="M649.0,281.9 C649.0,280.5 649.4,278.9 650.1,277.9 C650.8,276.8 651.8,276.2 653.0,275.8 C654.1,275.5 655.6,275.7 657.0,275.7 C658.5,275.6 660.4,275.6 661.9,275.7 C663.4,275.8 665.2,275.5 666.0,276.2 C666.9,277.0 666.9,278.9 667.1,280.3 C667.2,281.7 667.3,283.5 666.8,284.8 C666.4,286.1 665.5,287.4 664.4,288.1 C663.3,288.7 662.1,288.6 660.3,288.7 C658.5,288.8 655.5,288.9 653.8,288.5 C652.1,288.1 650.9,287.5 650.1,286.4 C649.3,285.3 649.0,283.4 649.0,281.9Z" fill="#bb90f2" fill-opacity="0.035" stroke="#bb90f2" stroke-width="0.45" stroke-opacity="1.00"/>
<path d="M650.4,281.9 C650.4,280.7 650.8,279.2 651.4,278.3 C652.0,277.4 652.9,276.8 654.0,276.5 C655.0,276.2 656.2,276.4 657.6,276.3 C658.9,276.3 660.6,276.3 661.9,276.3 C663.2,276.4 664.8,276.2 665.5,276.8 C666.3,277.5 666.4,279.2 666.5,280.5 C666.6,281.7 666.7,283.3 666.3,284.5 C665.9,285.6 665.1,286.8 664.1,287.3 C663.1,287.9 662.0,287.9 660.5,287.9 C658.9,288.0 656.2,288.0 654.7,287.7 C653.2,287.4 652.1,286.9 651.4,285.9 C650.7,284.9 650.4,283.2 650.4,281.9Z" fill="#b584f1" fill-opacity="0.035" stroke="#b584f1" stroke-width="0.45" stroke-opacity="1.00"/>
<path d="M651.8,281.9 C651.8,280.8 652.2,279.5 652.7,278.7 C653.2,277.9 654.0,277.4 654.9,277.1 C655.8,276.9 656.9,277.0 658.1,277.0 C659.3,277.0 660.7,276.9 661.9,277.0 C663.0,277.1 664.4,276.9 665.0,277.5 C665.7,278.1 665.8,279.5 665.9,280.6 C666.0,281.7 666.0,283.1 665.7,284.1 C665.3,285.1 664.6,286.1 663.8,286.6 C662.9,287.1 662.0,287.1 660.6,287.1 C659.3,287.2 656.9,287.2 655.6,286.9 C654.3,286.7 653.3,286.2 652.7,285.4 C652.1,284.5 651.8,283.0 651.8,281.9Z" fill="#af78f0" fill-opacity="0.035" stroke="#af78f0" stroke-width="0.45" stroke-opacity="1.00"/>
<path d="M653.3,281.9 C653.3,280.9 653.6,279.8 654.0,279.2 C654.5,278.5 655.2,278.1 655.9,277.8 C656.7,277.6 657.6,277.7 658.6,277.7 C659.6,277.7 660.9,277.6 661.9,277.7 C662.9,277.8 664.0,277.6 664.6,278.1 C665.1,278.6 665.2,279.8 665.3,280.8 C665.4,281.7 665.4,282.9 665.1,283.8 C664.8,284.6 664.2,285.5 663.5,285.9 C662.8,286.3 662.0,286.3 660.8,286.3 C659.6,286.4 657.6,286.4 656.5,286.2 C655.3,285.9 654.6,285.6 654.0,284.8 C653.5,284.1 653.3,282.8 653.3,281.9Z" fill="#a96cf0" fill-opacity="0.035" stroke="#a96cf0" stroke-width="0.45" stroke-opacity="1.00"/>
<path d="M654.7,281.8 C654.7,281.1 655.0,280.2 655.3,279.6 C655.7,279.0 656.3,278.7 656.9,278.5 C657.5,278.3 658.3,278.4 659.1,278.4 C660.0,278.4 661.0,278.3 661.8,278.4 C662.7,278.4 663.6,278.3 664.1,278.7 C664.5,279.1 664.6,280.2 664.7,280.9 C664.7,281.7 664.8,282.7 664.5,283.4 C664.3,284.1 663.8,284.8 663.2,285.2 C662.6,285.6 661.9,285.5 660.9,285.6 C660.0,285.6 658.3,285.6 657.4,285.4 C656.4,285.2 655.8,284.9 655.3,284.3 C654.9,283.7 654.7,282.6 654.7,281.8Z" fill="#a260ef" fill-opacity="0.035" stroke="#a260ef" stroke-width="0.45" stroke-opacity="1.00"/>
<path d="M656.1,281.8 C656.1,281.2 656.4,280.5 656.6,280.0 C656.9,279.6 657.4,279.3 657.9,279.1 C658.4,279.0 659.0,279.1 659.7,279.1 C660.3,279.1 661.2,279.0 661.8,279.1 C662.5,279.1 663.2,279.0 663.6,279.3 C664.0,279.7 664.0,280.5 664.0,281.1 C664.1,281.7 664.1,282.5 663.9,283.1 C663.7,283.6 663.3,284.2 662.9,284.5 C662.4,284.8 661.9,284.7 661.1,284.8 C660.3,284.8 659.0,284.8 658.2,284.7 C657.5,284.5 657.0,284.2 656.6,283.8 C656.3,283.3 656.1,282.4 656.1,281.8Z" fill="#9c54ee" fill-opacity="0.035" stroke="#9c54ee" stroke-width="0.45" stroke-opacity="1.00"/>
<path d="M657.6,281.8 C657.6,281.3 657.7,280.8 658.0,280.5 C658.2,280.1 658.5,279.9 658.9,279.8 C659.2,279.7 659.7,279.8 660.2,279.7 C660.7,279.7 661.3,279.7 661.8,279.7 C662.3,279.8 662.8,279.7 663.1,279.9 C663.4,280.2 663.4,280.8 663.4,281.3 C663.5,281.7 663.5,282.3 663.4,282.7 C663.2,283.1 662.9,283.5 662.6,283.8 C662.2,284.0 661.8,283.9 661.3,284.0 C660.7,284.0 659.7,284.0 659.1,283.9 C658.6,283.8 658.2,283.6 658.0,283.2 C657.7,282.9 657.6,282.2 657.6,281.8Z" fill="#9648ed" fill-opacity="0.035" stroke="#9648ed" stroke-width="0.45" stroke-opacity="1.00"/>
<path d="M659.0,281.8 C659.0,281.5 659.1,281.1 659.3,280.9 C659.4,280.7 659.6,280.5 659.9,280.5 C660.1,280.4 660.4,280.4 660.7,280.4 C661.0,280.4 661.4,280.4 661.8,280.4 C662.1,280.4 662.4,280.4 662.6,280.5 C662.8,280.7 662.8,281.1 662.8,281.4 C662.9,281.7 662.9,282.1 662.8,282.4 C662.7,282.6 662.5,282.9 662.3,283.0 C662.0,283.2 661.8,283.2 661.4,283.2 C661.0,283.2 660.4,283.2 660.0,283.1 C659.7,283.0 659.4,282.9 659.3,282.7 C659.1,282.5 659.0,282.1 659.0,281.8Z" fill="#903cec" fill-opacity="0.035" stroke="#903cec" stroke-width="0.45" stroke-opacity="1.00"/>
<path d="M660.5,281.7 C660.5,281.6 660.5,281.4 660.6,281.3 C660.6,281.2 660.7,281.2 660.8,281.1 C661.0,281.1 661.1,281.1 661.2,281.1 C661.4,281.1 661.6,281.1 661.7,281.1 C661.9,281.1 662.0,281.1 662.1,281.2 C662.2,281.2 662.2,281.4 662.2,281.6 C662.2,281.7 662.2,281.9 662.2,282.0 C662.2,282.1 662.1,282.3 662.0,282.3 C661.9,282.4 661.7,282.4 661.6,282.4 C661.4,282.4 661.1,282.4 660.9,282.4 C660.8,282.3 660.6,282.3 660.6,282.2 C660.5,282.1 660.5,281.9 660.5,281.7Z" fill="#8a30ec" fill-opacity="0.035" stroke="#8a30ec" stroke-width="0.45" stroke-opacity="1.00"/>
<circle cx="661.7" cy="281.7" r="0.6" fill="#fff"/>
<text x="0" y="0" font-size="18.205" font-weight="bold" fill="#231f20" stroke="#231f20" stroke-width="0.726" stroke-linejoin="round" transform="translate(1.069 13.762) scale(1.0337 1)">A</text>
<text x="0" y="0" font-size="18.205" font-weight="bold" fill="#231f20" stroke="#231f20" stroke-width="0.822" stroke-linejoin="round" transform="translate(250.327 13.762) scale(0.9119 1)">B</text>
<text x="0" y="0" font-size="18.679" font-weight="bold" fill="#231f20" stroke="#231f20" stroke-width="0.923" stroke-linejoin="round" transform="translate(498.615 13.980) scale(0.8127 1)">C</text>
<text x="0" y="0" font-size="19.077" font-weight="bold" fill="#231f20" stroke="#231f20" stroke-width="0.730" stroke-linejoin="round" transform="translate(4.726 350.663) scale(1.0278 1)">D</text>
<text x="0" y="0" font-size="19.077" font-weight="bold" fill="#231f20" stroke="#231f20" stroke-width="1.013" stroke-linejoin="round" transform="translate(154.193 350.663) scale(0.7404 1)">E</text>
<text x="0" y="0" font-size="19.223" font-weight="bold" fill="#231f20" stroke="#231f20" stroke-width="0.972" stroke-linejoin="round" transform="translate(296.245 350.562) scale(0.7716 1)">F</text>
<text x="0" y="0" font-size="18.962" font-weight="bold" fill="#231f20" stroke="#231f20" stroke-width="0.818" stroke-linejoin="round" transform="translate(435.925 350.577) scale(0.9163 1)">G</text>
<text x="0" y="0" font-size="18.932" font-weight="bold" fill="#231f20" stroke="#231f20" stroke-width="0.744" stroke-linejoin="round" transform="translate(6.160 463.863) scale(1.0085 1)">H</text>
<text x="0" y="0" font-size="18.641" font-weight="bold" fill="#231f20" stroke="#231f20" stroke-width="0.830" stroke-linejoin="round" transform="translate(157.211 463.863) scale(0.9031 1)">I</text>
<text x="0" y="0" font-size="19.240" font-weight="bold" fill="#231f20" stroke="#231f20" stroke-width="1.045" stroke-linejoin="round" transform="translate(297.129 464.075) scale(0.7175 1)">J</text>
<text x="0" y="0" font-size="19.223" font-weight="bold" fill="#231f20" stroke="#231f20" stroke-width="0.911" stroke-linejoin="round" transform="translate(437.179 463.963) scale(0.8234 1)">K</text>
<line x1="32.40" y1="354.60" x2="32.40" y2="433.90" stroke="#231f20" stroke-width="1.05"/>
<line x1="29.40" y1="433.40" x2="110.00" y2="433.40" stroke="#231f20" stroke-width="1.05"/>
<line x1="29.40" y1="433.40" x2="32.40" y2="433.40" stroke="#231f20" stroke-width="0.9"/>
<text x="27.40" y="435.40" font-size="5.7" text-anchor="end" font-weight="bold" fill="#231f20" stroke="#231f20" stroke-width="0.15" textLength="2.70" lengthAdjust="spacingAndGlyphs">0</text>
<line x1="29.40" y1="407.27" x2="32.40" y2="407.27" stroke="#231f20" stroke-width="0.9"/>
<text x="27.40" y="409.27" font-size="5.7" text-anchor="end" font-weight="bold" fill="#231f20" stroke="#231f20" stroke-width="0.15" textLength="2.70" lengthAdjust="spacingAndGlyphs">5</text>
<line x1="29.40" y1="381.13" x2="32.40" y2="381.13" stroke="#231f20" stroke-width="0.9"/>
<text x="27.40" y="383.13" font-size="5.7" text-anchor="end" font-weight="bold" fill="#231f20" stroke="#231f20" stroke-width="0.15" textLength="5.40" lengthAdjust="spacingAndGlyphs">10</text>
<line x1="29.40" y1="355.00" x2="32.40" y2="355.00" stroke="#231f20" stroke-width="0.9"/>
<text x="27.40" y="357.00" font-size="5.7" text-anchor="end" font-weight="bold" fill="#231f20" stroke="#231f20" stroke-width="0.15" textLength="5.40" lengthAdjust="spacingAndGlyphs">15</text>
<line x1="44.40" y1="433.40" x2="44.40" y2="436.40" stroke="#231f20" stroke-width="0.9"/>
<text x="46.40" y="442.90" font-size="5.3" text-anchor="middle" font-weight="bold" fill="#231f20" stroke="#231f20" stroke-width="0.2">G1</text>
<line x1="62.50" y1="433.40" x2="62.50" y2="436.40" stroke="#231f20" stroke-width="0.9"/>
<text x="63.80" y="442.90" font-size="5.3" text-anchor="middle" font-weight="bold" fill="#231f20" stroke="#231f20" stroke-width="0.2">G2</text>
<line x1="80.30" y1="433.40" x2="80.30" y2="436.40" stroke="#231f20" stroke-width="0.9"/>
<text x="79.70" y="442.90" font-size="5.3" text-anchor="middle" font-weight="bold" fill="#231f20" stroke="#231f20" stroke-width="0.2">G3</text>
<line x1="98.40" y1="433.40" x2="98.40" y2="436.40" stroke="#231f20" stroke-width="0.9"/>
<text x="96.40" y="442.90" font-size="5.3" text-anchor="middle" font-weight="bold" fill="#231f20" stroke="#231f20" stroke-width="0.2">G4</text>
<rect x="38.35" y="393.27" width="2.9" height="2.9" fill="#72cfbb"/>
<rect x="42.95" y="390.66" width="2.9" height="2.9" fill="#72cfbb"/>
<rect x="47.55" y="393.27" width="2.9" height="2.9" fill="#72cfbb"/>
<rect x="42.95" y="395.89" width="2.9" height="2.9" fill="#72cfbb"/>
<rect x="42.95" y="401.11" width="2.9" height="2.9" fill="#72cfbb"/>
<line x1="44.40" y1="392.11" x2="44.40" y2="400.47" stroke="#72cfbb" stroke-width="0.55"/>
<line x1="41.40" y1="392.11" x2="47.40" y2="392.11" stroke="#72cfbb" stroke-width="0.6"/>
<line x1="41.40" y1="400.47" x2="47.40" y2="400.47" stroke="#72cfbb" stroke-width="0.6"/>
<line x1="38.40" y1="396.29" x2="50.40" y2="396.29" stroke="#72cfbb" stroke-width="0.8"/>
<polygon points="62.50,374.38 64.30,377.68 60.70,377.68" fill="#f0a957"/>
<polygon points="62.50,387.97 64.30,391.27 60.70,391.27" fill="#f0a957"/>
<polygon points="57.90,389.70 59.70,393.00 56.10,393.00" fill="#f0a957"/>
<polygon points="62.50,392.68 64.30,395.98 60.70,395.98" fill="#f0a957"/>
<polygon points="62.50,396.86 64.30,400.16 60.70,400.16" fill="#f0a957"/>
<polygon points="57.90,395.29 59.70,398.59 56.10,398.59" fill="#f0a957"/>
<line x1="62.50" y1="383.22" x2="62.50" y2="399.95" stroke="#f0a957" stroke-width="0.55"/>
<line x1="59.50" y1="383.22" x2="65.50" y2="383.22" stroke="#f0a957" stroke-width="0.6"/>
<line x1="59.50" y1="399.95" x2="65.50" y2="399.95" stroke="#f0a957" stroke-width="0.6"/>
<line x1="56.50" y1="391.59" x2="68.50" y2="391.59" stroke="#f0a957" stroke-width="0.8"/>
<polygon points="80.30,386.84 82.10,383.54 78.50,383.54" fill="#e8605a"/>
<polygon points="80.30,393.11 82.10,389.81 78.50,389.81" fill="#e8605a"/>
<polygon points="75.70,395.41 77.50,392.11 73.90,392.11" fill="#e8605a"/>
<polygon points="75.70,398.49 77.50,395.19 73.90,395.19" fill="#e8605a"/>
<polygon points="80.30,397.40 82.10,394.10 78.50,394.10" fill="#e8605a"/>
<line x1="80.30" y1="387.93" x2="80.30" y2="396.81" stroke="#e8605a" stroke-width="0.55"/>
<line x1="77.30" y1="387.93" x2="83.30" y2="387.93" stroke="#e8605a" stroke-width="0.6"/>
<line x1="77.30" y1="396.81" x2="83.30" y2="396.81" stroke="#e8605a" stroke-width="0.6"/>
<line x1="74.30" y1="392.37" x2="86.30" y2="392.37" stroke="#e8605a" stroke-width="0.8"/>
<circle cx="98.40" cy="405.28" r="1.6" fill="#6aa3d5"/>
<circle cx="98.40" cy="410.93" r="1.6" fill="#6aa3d5"/>
<circle cx="93.80" cy="413.80" r="1.6" fill="#6aa3d5"/>
<circle cx="98.40" cy="415.00" r="1.6" fill="#6aa3d5"/>
<line x1="98.40" y1="406.74" x2="98.40" y2="416.15" stroke="#6aa3d5" stroke-width="0.55"/>
<line x1="95.40" y1="406.74" x2="101.40" y2="406.74" stroke="#6aa3d5" stroke-width="0.6"/>
<line x1="95.40" y1="416.15" x2="101.40" y2="416.15" stroke="#6aa3d5" stroke-width="0.6"/>
<line x1="92.40" y1="411.45" x2="104.40" y2="411.45" stroke="#6aa3d5" stroke-width="0.8"/>
<path d="M44.30,352.20 L44.30,348.40 L98.80,348.40 L98.80,352.20" fill="none" stroke="#2a2a2a" stroke-width="0.95"/>
<text x="72.00" y="345.40" font-size="4.2" text-anchor="middle" font-style="italic" fill="#1a1a1a" stroke="#1a1a1a" stroke-width="0.08">p=0.0084</text>
<path d="M62.50,362.90 L62.50,359.10 L98.80,359.10 L98.80,362.90" fill="none" stroke="#2a2a2a" stroke-width="0.95"/>
<text x="80.60" y="356.10" font-size="4.2" text-anchor="middle" font-style="italic" fill="#1a1a1a" stroke="#1a1a1a" stroke-width="0.08">p=0.0003</text>
<path d="M80.60,372.30 L80.60,368.50 L98.80,368.50 L98.80,372.30" fill="none" stroke="#2a2a2a" stroke-width="0.95"/>
<text x="89.70" y="366.60" font-size="4.2" text-anchor="middle" font-style="italic" fill="#1a1a1a" stroke="#1a1a1a" stroke-width="0.08">p=0.0011</text>
<text x="18.50" y="394.00" font-size="6.3" font-weight="bold" fill="#231f20" stroke="#231f20" stroke-width="0.12" text-anchor="middle" transform="rotate(-90 18.50 394.00)">CD4<tspan dy="-2" font-size="4.3">+</tspan><tspan dy="2">CD25</tspan><tspan dy="-2" font-size="4.3">+</tspan><tspan dy="2"> (%)</tspan></text>
<line x1="176.30" y1="354.20" x2="176.30" y2="433.70" stroke="#231f20" stroke-width="1.05"/>
<line x1="173.30" y1="433.20" x2="254.10" y2="433.20" stroke="#231f20" stroke-width="1.05"/>
<line x1="173.30" y1="433.20" x2="176.30" y2="433.20" stroke="#231f20" stroke-width="0.9"/>
<text x="171.30" y="435.20" font-size="5.7" text-anchor="end" font-weight="bold" fill="#231f20" stroke="#231f20" stroke-width="0.15" textLength="2.70" lengthAdjust="spacingAndGlyphs">0</text>
<line x1="173.30" y1="417.48" x2="176.30" y2="417.48" stroke="#231f20" stroke-width="0.9"/>
<text x="171.30" y="419.48" font-size="5.7" text-anchor="end" font-weight="bold" fill="#231f20" stroke="#231f20" stroke-width="0.15" textLength="5.40" lengthAdjust="spacingAndGlyphs">20</text>
<line x1="173.30" y1="401.76" x2="176.30" y2="401.76" stroke="#231f20" stroke-width="0.9"/>
<text x="171.30" y="403.76" font-size="5.7" text-anchor="end" font-weight="bold" fill="#231f20" stroke="#231f20" stroke-width="0.15" textLength="5.40" lengthAdjust="spacingAndGlyphs">40</text>
<line x1="173.30" y1="386.04" x2="176.30" y2="386.04" stroke="#231f20" stroke-width="0.9"/>
<text x="171.30" y="388.04" font-size="5.7" text-anchor="end" font-weight="bold" fill="#231f20" stroke="#231f20" stroke-width="0.15" textLength="5.40" lengthAdjust="spacingAndGlyphs">60</text>
<line x1="173.30" y1="370.32" x2="176.30" y2="370.32" stroke="#231f20" stroke-width="0.9"/>
<text x="171.30" y="372.32" font-size="5.7" text-anchor="end" font-weight="bold" fill="#231f20" stroke="#231f20" stroke-width="0.15" textLength="5.40" lengthAdjust="spacingAndGlyphs">80</text>
<line x1="173.30" y1="354.60" x2="176.30" y2="354.60" stroke="#231f20" stroke-width="0.9"/>
<text x="171.30" y="356.60" font-size="5.7" text-anchor="end" font-weight="bold" fill="#231f20" stroke="#231f20" stroke-width="0.15" textLength="8.10" lengthAdjust="spacingAndGlyphs">100</text>
<line x1="188.40" y1="433.20" x2="188.40" y2="436.20" stroke="#231f20" stroke-width="0.9"/>
<text x="190.40" y="442.70" font-size="5.3" text-anchor="middle" font-weight="bold" fill="#231f20" stroke="#231f20" stroke-width="0.2">G1</text>
<line x1="206.40" y1="433.20" x2="206.40" y2="436.20" stroke="#231f20" stroke-width="0.9"/>
<text x="207.70" y="442.70" font-size="5.3" text-anchor="middle" font-weight="bold" fill="#231f20" stroke="#231f20" stroke-width="0.2">G2</text>
<line x1="224.30" y1="433.20" x2="224.30" y2="436.20" stroke="#231f20" stroke-width="0.9"/>
<text x="223.70" y="442.70" font-size="5.3" text-anchor="middle" font-weight="bold" fill="#231f20" stroke="#231f20" stroke-width="0.2">G3</text>
<line x1="242.30" y1="433.20" x2="242.30" y2="436.20" stroke="#231f20" stroke-width="0.9"/>
<text x="240.30" y="442.70" font-size="5.3" text-anchor="middle" font-weight="bold" fill="#231f20" stroke="#231f20" stroke-width="0.2">G4</text>
<rect x="186.95" y="374.21" width="2.9" height="2.9" fill="#72cfbb"/>
<rect x="182.45" y="377.83" width="2.9" height="2.9" fill="#72cfbb"/>
<rect x="186.95" y="377.83" width="2.9" height="2.9" fill="#72cfbb"/>
<rect x="191.45" y="377.83" width="2.9" height="2.9" fill="#72cfbb"/>
<rect x="186.95" y="383.41" width="2.9" height="2.9" fill="#72cfbb"/>
<line x1="188.40" y1="375.74" x2="188.40" y2="382.82" stroke="#72cfbb" stroke-width="0.55"/>
<line x1="185.40" y1="375.74" x2="191.40" y2="375.74" stroke="#72cfbb" stroke-width="0.6"/>
<line x1="185.40" y1="382.82" x2="191.40" y2="382.82" stroke="#72cfbb" stroke-width="0.6"/>
<line x1="182.40" y1="379.28" x2="194.40" y2="379.28" stroke="#72cfbb" stroke-width="0.8"/>
<polygon points="201.90,373.15 203.70,376.45 200.10,376.45" fill="#f0a957"/>
<polygon points="206.40,373.93 208.20,377.23 204.60,377.23" fill="#f0a957"/>
<polygon points="210.90,374.17 212.70,377.47 209.10,377.47" fill="#f0a957"/>
<polygon points="206.40,379.04 208.20,382.34 204.60,382.34" fill="#f0a957"/>
<polygon points="210.90,379.28 212.70,382.58 209.10,382.58" fill="#f0a957"/>
<polygon points="201.90,382.11 203.70,385.41 200.10,385.41" fill="#f0a957"/>
<line x1="206.40" y1="375.11" x2="206.40" y2="382.19" stroke="#f0a957" stroke-width="0.55"/>
<line x1="203.40" y1="375.11" x2="209.40" y2="375.11" stroke="#f0a957" stroke-width="0.6"/>
<line x1="203.40" y1="382.19" x2="209.40" y2="382.19" stroke="#f0a957" stroke-width="0.6"/>
<line x1="200.40" y1="378.65" x2="212.40" y2="378.65" stroke="#f0a957" stroke-width="0.8"/>
<polygon points="221.30,375.04 223.10,371.74 219.50,371.74" fill="#e8605a"/>
<polygon points="227.30,375.04 229.10,371.74 225.50,371.74" fill="#e8605a"/>
<polygon points="224.30,378.73 226.10,375.43 222.50,375.43" fill="#e8605a"/>
<polygon points="221.30,387.38 223.10,384.08 219.50,384.08" fill="#e8605a"/>
<polygon points="227.30,387.38 229.10,384.08 225.50,384.08" fill="#e8605a"/>
<line x1="224.30" y1="372.99" x2="224.30" y2="385.57" stroke="#e8605a" stroke-width="0.55"/>
<line x1="221.30" y1="372.99" x2="227.30" y2="372.99" stroke="#e8605a" stroke-width="0.6"/>
<line x1="221.30" y1="385.57" x2="227.30" y2="385.57" stroke="#e8605a" stroke-width="0.6"/>
<line x1="218.30" y1="379.28" x2="230.30" y2="379.28" stroke="#e8605a" stroke-width="0.8"/>
<circle cx="238.00" cy="383.84" r="1.6" fill="#6aa3d5"/>
<circle cx="242.30" cy="383.84" r="1.6" fill="#6aa3d5"/>
<circle cx="246.80" cy="385.33" r="1.6" fill="#6aa3d5"/>
<circle cx="238.00" cy="387.93" r="1.6" fill="#6aa3d5"/>
<line x1="242.30" y1="383.52" x2="242.30" y2="386.98" stroke="#6aa3d5" stroke-width="0.55"/>
<line x1="239.30" y1="383.52" x2="245.30" y2="383.52" stroke="#6aa3d5" stroke-width="0.6"/>
<line x1="239.30" y1="386.98" x2="245.30" y2="386.98" stroke="#6aa3d5" stroke-width="0.6"/>
<line x1="236.30" y1="385.25" x2="248.30" y2="385.25" stroke="#6aa3d5" stroke-width="0.8"/>
<text x="160.60" y="394.50" font-size="6.3" font-weight="bold" fill="#231f20" stroke="#231f20" stroke-width="0.12" text-anchor="middle" transform="rotate(-90 160.60 394.50)">CD4<tspan dy="-2" font-size="4.3">+</tspan><tspan dy="2">CD62L</tspan><tspan dy="-2" font-size="4.3">+</tspan><tspan dy="2"> (%)</tspan></text>
<line x1="320.30" y1="354.20" x2="320.30" y2="433.60" stroke="#231f20" stroke-width="1.05"/>
<line x1="317.30" y1="433.10" x2="398.40" y2="433.10" stroke="#231f20" stroke-width="1.05"/>
<line x1="317.30" y1="433.10" x2="320.30" y2="433.10" stroke="#231f20" stroke-width="0.9"/>
<text x="315.30" y="435.10" font-size="5.7" text-anchor="end" font-weight="bold" fill="#231f20" stroke="#231f20" stroke-width="0.15" textLength="2.70" lengthAdjust="spacingAndGlyphs">0</text>
<line x1="317.30" y1="406.93" x2="320.30" y2="406.93" stroke="#231f20" stroke-width="0.9"/>
<text x="315.30" y="408.93" font-size="5.7" text-anchor="end" font-weight="bold" fill="#231f20" stroke="#231f20" stroke-width="0.15" textLength="2.70" lengthAdjust="spacingAndGlyphs">5</text>
<line x1="317.30" y1="380.77" x2="320.30" y2="380.77" stroke="#231f20" stroke-width="0.9"/>
<text x="315.30" y="382.77" font-size="5.7" text-anchor="end" font-weight="bold" fill="#231f20" stroke="#231f20" stroke-width="0.15" textLength="5.40" lengthAdjust="spacingAndGlyphs">10</text>
<line x1="317.30" y1="354.60" x2="320.30" y2="354.60" stroke="#231f20" stroke-width="0.9"/>
<text x="315.30" y="356.60" font-size="5.7" text-anchor="end" font-weight="bold" fill="#231f20" stroke="#231f20" stroke-width="0.15" textLength="5.40" lengthAdjust="spacingAndGlyphs">15</text>
<line x1="332.50" y1="433.10" x2="332.50" y2="436.10" stroke="#231f20" stroke-width="0.9"/>
<text x="334.50" y="442.60" font-size="5.3" text-anchor="middle" font-weight="bold" fill="#231f20" stroke="#231f20" stroke-width="0.2">G1</text>
<line x1="350.20" y1="433.10" x2="350.20" y2="436.10" stroke="#231f20" stroke-width="0.9"/>
<text x="351.50" y="442.60" font-size="5.3" text-anchor="middle" font-weight="bold" fill="#231f20" stroke="#231f20" stroke-width="0.2">G2</text>
<line x1="368.20" y1="433.10" x2="368.20" y2="436.10" stroke="#231f20" stroke-width="0.9"/>
<text x="367.60" y="442.60" font-size="5.3" text-anchor="middle" font-weight="bold" fill="#231f20" stroke="#231f20" stroke-width="0.2">G3</text>
<line x1="386.40" y1="433.10" x2="386.40" y2="436.10" stroke="#231f20" stroke-width="0.9"/>
<text x="384.40" y="442.60" font-size="5.3" text-anchor="middle" font-weight="bold" fill="#231f20" stroke="#231f20" stroke-width="0.2">G4</text>
<rect x="331.05" y="381.51" width="2.9" height="2.9" fill="#72cfbb"/>
<rect x="331.05" y="386.33" width="2.9" height="2.9" fill="#72cfbb"/>
<rect x="331.05" y="390.15" width="2.9" height="2.9" fill="#72cfbb"/>
<rect x="326.45" y="391.67" width="2.9" height="2.9" fill="#72cfbb"/>
<rect x="331.05" y="396.27" width="2.9" height="2.9" fill="#72cfbb"/>
<line x1="332.50" y1="385.74" x2="332.50" y2="396.21" stroke="#72cfbb" stroke-width="0.55"/>
<line x1="329.50" y1="385.74" x2="335.50" y2="385.74" stroke="#72cfbb" stroke-width="0.6"/>
<line x1="329.50" y1="396.21" x2="335.50" y2="396.21" stroke="#72cfbb" stroke-width="0.6"/>
<line x1="326.50" y1="390.97" x2="338.50" y2="390.97" stroke="#72cfbb" stroke-width="0.8"/>
<polygon points="350.20,359.88 352.00,363.18 348.40,363.18" fill="#f0a957"/>
<polygon points="350.20,372.13 352.00,375.43 348.40,375.43" fill="#f0a957"/>
<polygon points="350.20,381.55 352.00,384.85 348.40,384.85" fill="#f0a957"/>
<polygon points="345.60,381.55 347.40,384.85 343.80,384.85" fill="#f0a957"/>
<polygon points="354.80,381.55 356.60,384.85 353.00,384.85" fill="#f0a957"/>
<polygon points="350.20,396.25 352.00,399.55 348.40,399.55" fill="#f0a957"/>
<line x1="350.20" y1="368.15" x2="350.20" y2="392.75" stroke="#f0a957" stroke-width="0.55"/>
<line x1="347.20" y1="368.15" x2="353.20" y2="368.15" stroke="#f0a957" stroke-width="0.6"/>
<line x1="347.20" y1="392.75" x2="353.20" y2="392.75" stroke="#f0a957" stroke-width="0.6"/>
<line x1="344.20" y1="380.45" x2="356.20" y2="380.45" stroke="#f0a957" stroke-width="0.8"/>
<polygon points="368.20,371.09 370.00,367.79 366.40,367.79" fill="#e8605a"/>
<polygon points="368.20,384.59 370.00,381.29 366.40,381.29" fill="#e8605a"/>
<polygon points="368.20,388.83 370.00,385.53 366.40,385.53" fill="#e8605a"/>
<polygon points="368.20,401.65 370.00,398.35 366.40,398.35" fill="#e8605a"/>
<polygon points="363.60,401.65 365.40,398.35 361.80,398.35" fill="#e8605a"/>
<line x1="368.20" y1="375.22" x2="368.20" y2="400.34" stroke="#e8605a" stroke-width="0.55"/>
<line x1="365.20" y1="375.22" x2="371.20" y2="375.22" stroke="#e8605a" stroke-width="0.6"/>
<line x1="365.20" y1="400.34" x2="371.20" y2="400.34" stroke="#e8605a" stroke-width="0.6"/>
<line x1="362.20" y1="387.78" x2="374.20" y2="387.78" stroke="#e8605a" stroke-width="0.8"/>
<circle cx="386.40" cy="383.17" r="1.6" fill="#6aa3d5"/>
<circle cx="386.40" cy="387.20" r="1.6" fill="#6aa3d5"/>
<circle cx="386.40" cy="393.12" r="1.6" fill="#6aa3d5"/>
<circle cx="386.40" cy="402.54" r="1.6" fill="#6aa3d5"/>
<line x1="386.40" y1="383.28" x2="386.40" y2="399.50" stroke="#6aa3d5" stroke-width="0.55"/>
<line x1="383.40" y1="383.28" x2="389.40" y2="383.28" stroke="#6aa3d5" stroke-width="0.6"/>
<line x1="383.40" y1="399.50" x2="389.40" y2="399.50" stroke="#6aa3d5" stroke-width="0.6"/>
<line x1="380.40" y1="391.39" x2="392.40" y2="391.39" stroke="#6aa3d5" stroke-width="0.8"/>
<text x="306.80" y="394.50" font-size="6.3" font-weight="bold" fill="#231f20" stroke="#231f20" stroke-width="0.12" text-anchor="middle" transform="rotate(-90 306.80 394.50)">CD4<tspan dy="-2" font-size="4.3">+</tspan><tspan dy="2">CD69</tspan><tspan dy="-2" font-size="4.3">+</tspan><tspan dy="2"> (%)</tspan></text>
<line x1="462.20" y1="354.80" x2="462.20" y2="434.20" stroke="#231f20" stroke-width="1.05"/>
<line x1="459.20" y1="433.70" x2="540.40" y2="433.70" stroke="#231f20" stroke-width="1.05"/>
<line x1="459.20" y1="433.70" x2="462.20" y2="433.70" stroke="#231f20" stroke-width="0.9"/>
<text x="457.20" y="435.70" font-size="5.7" text-anchor="end" font-weight="bold" fill="#231f20" stroke="#231f20" stroke-width="0.15" textLength="2.70" lengthAdjust="spacingAndGlyphs">0</text>
<line x1="459.20" y1="414.07" x2="462.20" y2="414.07" stroke="#231f20" stroke-width="0.9"/>
<text x="457.20" y="416.07" font-size="5.7" text-anchor="end" font-weight="bold" fill="#231f20" stroke="#231f20" stroke-width="0.15" textLength="2.70" lengthAdjust="spacingAndGlyphs">2</text>
<line x1="459.20" y1="394.45" x2="462.20" y2="394.45" stroke="#231f20" stroke-width="0.9"/>
<text x="457.20" y="396.45" font-size="5.7" text-anchor="end" font-weight="bold" fill="#231f20" stroke="#231f20" stroke-width="0.15" textLength="2.70" lengthAdjust="spacingAndGlyphs">4</text>
<line x1="459.20" y1="374.82" x2="462.20" y2="374.82" stroke="#231f20" stroke-width="0.9"/>
<text x="457.20" y="376.82" font-size="5.7" text-anchor="end" font-weight="bold" fill="#231f20" stroke="#231f20" stroke-width="0.15" textLength="2.70" lengthAdjust="spacingAndGlyphs">6</text>
<line x1="459.20" y1="355.20" x2="462.20" y2="355.20" stroke="#231f20" stroke-width="0.9"/>
<text x="457.20" y="357.20" font-size="5.7" text-anchor="end" font-weight="bold" fill="#231f20" stroke="#231f20" stroke-width="0.15" textLength="2.70" lengthAdjust="spacingAndGlyphs">8</text>
<line x1="474.70" y1="433.70" x2="474.70" y2="436.70" stroke="#231f20" stroke-width="0.9"/>
<text x="476.70" y="443.20" font-size="5.3" text-anchor="middle" font-weight="bold" fill="#231f20" stroke="#231f20" stroke-width="0.2">G1</text>
<line x1="492.70" y1="433.70" x2="492.70" y2="436.70" stroke="#231f20" stroke-width="0.9"/>
<text x="494.00" y="443.20" font-size="5.3" text-anchor="middle" font-weight="bold" fill="#231f20" stroke="#231f20" stroke-width="0.2">G2</text>
<line x1="510.50" y1="433.70" x2="510.50" y2="436.70" stroke="#231f20" stroke-width="0.9"/>
<text x="509.90" y="443.20" font-size="5.3" text-anchor="middle" font-weight="bold" fill="#231f20" stroke="#231f20" stroke-width="0.2">G3</text>
<line x1="528.60" y1="433.70" x2="528.60" y2="436.70" stroke="#231f20" stroke-width="0.9"/>
<text x="526.60" y="443.20" font-size="5.3" text-anchor="middle" font-weight="bold" fill="#231f20" stroke="#231f20" stroke-width="0.2">G4</text>
<rect x="470.15" y="396.24" width="2.9" height="2.9" fill="#72cfbb"/>
<rect x="476.35" y="396.24" width="2.9" height="2.9" fill="#72cfbb"/>
<rect x="470.15" y="403.20" width="2.9" height="2.9" fill="#72cfbb"/>
<rect x="476.35" y="402.62" width="2.9" height="2.9" fill="#72cfbb"/>
<rect x="473.25" y="413.70" width="2.9" height="2.9" fill="#72cfbb"/>
<line x1="474.70" y1="397.20" x2="474.70" y2="411.33" stroke="#72cfbb" stroke-width="0.55"/>
<line x1="471.70" y1="397.20" x2="477.70" y2="397.20" stroke="#72cfbb" stroke-width="0.6"/>
<line x1="471.70" y1="411.33" x2="477.70" y2="411.33" stroke="#72cfbb" stroke-width="0.6"/>
<line x1="468.70" y1="404.26" x2="480.70" y2="404.26" stroke="#72cfbb" stroke-width="0.8"/>
<polygon points="492.70,395.25 494.50,398.55 490.90,398.55" fill="#f0a957"/>
<polygon points="488.10,396.33 489.90,399.63 486.30,399.63" fill="#f0a957"/>
<polygon points="492.70,401.73 494.50,405.03 490.90,405.03" fill="#f0a957"/>
<polygon points="488.10,404.08 489.90,407.38 486.30,407.38" fill="#f0a957"/>
<polygon points="492.70,408.89 494.50,412.19 490.90,412.19" fill="#f0a957"/>
<line x1="492.70" y1="397.79" x2="492.70" y2="409.56" stroke="#f0a957" stroke-width="0.55"/>
<line x1="489.70" y1="397.79" x2="495.70" y2="397.79" stroke="#f0a957" stroke-width="0.6"/>
<line x1="489.70" y1="409.56" x2="495.70" y2="409.56" stroke="#f0a957" stroke-width="0.6"/>
<line x1="486.70" y1="403.67" x2="498.70" y2="403.67" stroke="#f0a957" stroke-width="0.8"/>
<polygon points="510.50,368.24 512.30,364.94 508.70,364.94" fill="#e8605a"/>
<polygon points="510.50,401.50 512.30,398.20 508.70,398.20" fill="#e8605a"/>
<polygon points="510.50,404.54 512.30,401.24 508.70,401.24" fill="#e8605a"/>
<polygon points="510.50,408.76 512.30,405.46 508.70,405.46" fill="#e8605a"/>
<line x1="510.50" y1="379.53" x2="510.50" y2="413.68" stroke="#e8605a" stroke-width="0.55"/>
<line x1="507.50" y1="379.53" x2="513.50" y2="379.53" stroke="#e8605a" stroke-width="0.6"/>
<line x1="507.50" y1="413.68" x2="513.50" y2="413.68" stroke="#e8605a" stroke-width="0.6"/>
<line x1="504.50" y1="396.61" x2="516.50" y2="396.61" stroke="#e8605a" stroke-width="0.8"/>
<circle cx="525.40" cy="428.40" r="1.6" fill="#6aa3d5"/>
<circle cx="528.60" cy="429.28" r="1.6" fill="#6aa3d5"/>
<circle cx="531.80" cy="430.95" r="1.6" fill="#6aa3d5"/>
<circle cx="525.40" cy="433.11" r="1.6" fill="#6aa3d5"/>
<line x1="528.60" y1="428.50" x2="528.60" y2="432.42" stroke="#6aa3d5" stroke-width="0.55"/>
<line x1="525.60" y1="428.50" x2="531.60" y2="428.50" stroke="#6aa3d5" stroke-width="0.6"/>
<line x1="525.60" y1="432.42" x2="531.60" y2="432.42" stroke="#6aa3d5" stroke-width="0.6"/>
<line x1="522.60" y1="430.46" x2="534.60" y2="430.46" stroke="#6aa3d5" stroke-width="0.8"/>
<path d="M474.30,352.60 L474.30,348.60 L529.30,348.60 L529.30,352.60" fill="none" stroke="#2a2a2a" stroke-width="0.95"/>
<text x="502.20" y="345.80" font-size="4.2" text-anchor="middle" font-style="italic" fill="#1a1a1a" stroke="#1a1a1a" stroke-width="0.08">p=0.0053</text>
<path d="M492.50,363.40 L492.50,359.60 L529.30,359.60 L529.30,363.40" fill="none" stroke="#2a2a2a" stroke-width="0.95"/>
<text x="510.60" y="356.60" font-size="4.2" text-anchor="middle" font-style="italic" fill="#1a1a1a" stroke="#1a1a1a" stroke-width="0.08">p=0.0028</text>
<path d="M510.60,372.90 L510.60,369.30 L529.30,369.30 L529.30,372.90" fill="none" stroke="#2a2a2a" stroke-width="0.95"/>
<text x="520.20" y="367.00" font-size="4.2" text-anchor="middle" font-style="italic" fill="#1a1a1a" stroke="#1a1a1a" stroke-width="0.08">p=0.0005</text>
<text x="451.50" y="389.80" font-size="6.3" font-weight="bold" fill="#231f20" stroke="#231f20" stroke-width="0.12" text-anchor="middle" transform="rotate(-90 451.50 389.80)">CD4<tspan dy="-2" font-size="4.3">+</tspan><tspan dy="2">IL-4</tspan><tspan dy="-2" font-size="4.3">+</tspan><tspan dy="2"> (%)</tspan></text>
<line x1="32.70" y1="481.20" x2="32.70" y2="560.90" stroke="#231f20" stroke-width="1.05"/>
<line x1="29.70" y1="560.40" x2="110.50" y2="560.40" stroke="#231f20" stroke-width="1.05"/>
<line x1="29.70" y1="560.40" x2="32.70" y2="560.40" stroke="#231f20" stroke-width="0.9"/>
<text x="27.70" y="562.40" font-size="5.7" text-anchor="end" font-weight="bold" fill="#231f20" stroke="#231f20" stroke-width="0.15" textLength="6.75" lengthAdjust="spacingAndGlyphs">0.0</text>
<line x1="29.70" y1="544.64" x2="32.70" y2="544.64" stroke="#231f20" stroke-width="0.9"/>
<text x="27.70" y="546.64" font-size="5.7" text-anchor="end" font-weight="bold" fill="#231f20" stroke="#231f20" stroke-width="0.15" textLength="6.75" lengthAdjust="spacingAndGlyphs">0.5</text>
<line x1="29.70" y1="528.88" x2="32.70" y2="528.88" stroke="#231f20" stroke-width="0.9"/>
<text x="27.70" y="530.88" font-size="5.7" text-anchor="end" font-weight="bold" fill="#231f20" stroke="#231f20" stroke-width="0.15" textLength="6.75" lengthAdjust="spacingAndGlyphs">1.0</text>
<line x1="29.70" y1="513.12" x2="32.70" y2="513.12" stroke="#231f20" stroke-width="0.9"/>
<text x="27.70" y="515.12" font-size="5.7" text-anchor="end" font-weight="bold" fill="#231f20" stroke="#231f20" stroke-width="0.15" textLength="6.75" lengthAdjust="spacingAndGlyphs">1.5</text>
<line x1="29.70" y1="497.36" x2="32.70" y2="497.36" stroke="#231f20" stroke-width="0.9"/>
<text x="27.70" y="499.36" font-size="5.7" text-anchor="end" font-weight="bold" fill="#231f20" stroke="#231f20" stroke-width="0.15" textLength="6.75" lengthAdjust="spacingAndGlyphs">2.0</text>
<line x1="29.70" y1="481.60" x2="32.70" y2="481.60" stroke="#231f20" stroke-width="0.9"/>
<text x="27.70" y="483.60" font-size="5.7" text-anchor="end" font-weight="bold" fill="#231f20" stroke="#231f20" stroke-width="0.15" textLength="6.75" lengthAdjust="spacingAndGlyphs">2.5</text>
<line x1="44.80" y1="560.40" x2="44.80" y2="563.40" stroke="#231f20" stroke-width="0.9"/>
<text x="46.80" y="569.90" font-size="5.3" text-anchor="middle" font-weight="bold" fill="#231f20" stroke="#231f20" stroke-width="0.2">G1</text>
<line x1="62.90" y1="560.40" x2="62.90" y2="563.40" stroke="#231f20" stroke-width="0.9"/>
<text x="64.20" y="569.90" font-size="5.3" text-anchor="middle" font-weight="bold" fill="#231f20" stroke="#231f20" stroke-width="0.2">G2</text>
<line x1="80.80" y1="560.40" x2="80.80" y2="563.40" stroke="#231f20" stroke-width="0.9"/>
<text x="80.20" y="569.90" font-size="5.3" text-anchor="middle" font-weight="bold" fill="#231f20" stroke="#231f20" stroke-width="0.2">G3</text>
<line x1="98.60" y1="560.40" x2="98.60" y2="563.40" stroke="#231f20" stroke-width="0.9"/>
<text x="96.60" y="569.90" font-size="5.3" text-anchor="middle" font-weight="bold" fill="#231f20" stroke="#231f20" stroke-width="0.2">G4</text>
<rect x="43.35" y="486.45" width="2.9" height="2.9" fill="#72cfbb"/>
<rect x="43.35" y="511.67" width="2.9" height="2.9" fill="#72cfbb"/>
<rect x="43.35" y="517.66" width="2.9" height="2.9" fill="#72cfbb"/>
<rect x="38.75" y="518.60" width="2.9" height="2.9" fill="#72cfbb"/>
<rect x="38.75" y="513.25" width="2.9" height="2.9" fill="#72cfbb"/>
<line x1="44.80" y1="498.31" x2="44.80" y2="524.78" stroke="#72cfbb" stroke-width="0.55"/>
<line x1="41.80" y1="498.31" x2="47.80" y2="498.31" stroke="#72cfbb" stroke-width="0.6"/>
<line x1="41.80" y1="524.78" x2="47.80" y2="524.78" stroke="#72cfbb" stroke-width="0.6"/>
<line x1="38.80" y1="511.54" x2="50.80" y2="511.54" stroke="#72cfbb" stroke-width="0.8"/>
<polygon points="62.90,509.18 64.70,512.48 61.10,512.48" fill="#f0a957"/>
<polygon points="58.30,511.07 60.10,514.37 56.50,514.37" fill="#f0a957"/>
<polygon points="62.90,516.12 64.70,519.42 61.10,519.42" fill="#f0a957"/>
<polygon points="62.90,528.73 64.70,532.03 61.10,532.03" fill="#f0a957"/>
<polygon points="62.90,535.97 64.70,539.27 61.10,539.27" fill="#f0a957"/>
<line x1="62.90" y1="511.86" x2="62.90" y2="534.55" stroke="#f0a957" stroke-width="0.55"/>
<line x1="59.90" y1="511.86" x2="65.90" y2="511.86" stroke="#f0a957" stroke-width="0.6"/>
<line x1="59.90" y1="534.55" x2="65.90" y2="534.55" stroke="#f0a957" stroke-width="0.6"/>
<line x1="56.90" y1="523.21" x2="68.90" y2="523.21" stroke="#f0a957" stroke-width="0.8"/>
<polygon points="80.80,487.11 82.60,483.81 79.00,483.81" fill="#e8605a"/>
<polygon points="80.80,500.98 82.60,497.68 79.00,497.68" fill="#e8605a"/>
<polygon points="80.80,505.08 82.60,501.78 79.00,501.78" fill="#e8605a"/>
<polygon points="76.20,507.92 78.00,504.62 74.40,504.62" fill="#e8605a"/>
<polygon points="80.80,529.03 82.60,525.73 79.00,525.73" fill="#e8605a"/>
<line x1="80.80" y1="490.11" x2="80.80" y2="519.74" stroke="#e8605a" stroke-width="0.55"/>
<line x1="77.80" y1="490.11" x2="83.80" y2="490.11" stroke="#e8605a" stroke-width="0.6"/>
<line x1="77.80" y1="519.74" x2="83.80" y2="519.74" stroke="#e8605a" stroke-width="0.6"/>
<line x1="74.80" y1="504.92" x2="86.80" y2="504.92" stroke="#e8605a" stroke-width="0.8"/>
<circle cx="98.60" cy="542.43" r="1.6" fill="#6aa3d5"/>
<circle cx="98.60" cy="547.16" r="1.6" fill="#6aa3d5"/>
<circle cx="94.00" cy="548.11" r="1.6" fill="#6aa3d5"/>
<circle cx="98.60" cy="551.57" r="1.6" fill="#6aa3d5"/>
<line x1="98.60" y1="544.01" x2="98.60" y2="550.31" stroke="#6aa3d5" stroke-width="0.55"/>
<line x1="95.60" y1="544.01" x2="101.60" y2="544.01" stroke="#6aa3d5" stroke-width="0.6"/>
<line x1="95.60" y1="550.31" x2="101.60" y2="550.31" stroke="#6aa3d5" stroke-width="0.6"/>
<line x1="92.60" y1="547.16" x2="104.60" y2="547.16" stroke="#6aa3d5" stroke-width="0.8"/>
<path d="M44.60,477.80 L44.60,474.30 L99.60,474.30 L99.60,487.80" fill="none" stroke="#2a2a2a" stroke-width="0.95"/>
<text x="71.50" y="473.10" font-size="4.2" text-anchor="middle" font-style="italic" fill="#1a1a1a" stroke="#1a1a1a" stroke-width="0.08">p=0.0021</text>
<path d="M62.60,482.60 L62.60,479.20 L99.60,479.20 L99.60,487.70" fill="none" stroke="#2a2a2a" stroke-width="0.95"/>
<text x="82.50" y="478.30" font-size="4.2" text-anchor="middle" font-style="italic" fill="#1a1a1a" stroke="#1a1a1a" stroke-width="0.08">p=0.0009</text>
<path d="M81.00,487.30 L81.00,484.40 L99.60,484.40 L99.60,487.40" fill="none" stroke="#2a2a2a" stroke-width="0.95"/>
<text x="90.00" y="483.50" font-size="4.2" text-anchor="middle" font-style="italic" fill="#1a1a1a" stroke="#1a1a1a" stroke-width="0.08">p=0.0004</text>
<text x="18.20" y="525.00" font-size="6.3" font-weight="bold" fill="#231f20" stroke="#231f20" stroke-width="0.12" text-anchor="middle" transform="rotate(-90 18.20 525.00)">CD4<tspan dy="-2" font-size="4.3">+</tspan><tspan dy="2">IFN-γ</tspan><tspan dy="-2" font-size="4.3">+</tspan><tspan dy="2"> (%)</tspan></text>
<line x1="176.30" y1="481.60" x2="176.30" y2="560.80" stroke="#231f20" stroke-width="1.05"/>
<line x1="173.30" y1="560.30" x2="253.70" y2="560.30" stroke="#231f20" stroke-width="1.05"/>
<line x1="173.30" y1="560.30" x2="176.30" y2="560.30" stroke="#231f20" stroke-width="0.9"/>
<text x="171.30" y="562.30" font-size="5.7" text-anchor="end" font-weight="bold" fill="#231f20" stroke="#231f20" stroke-width="0.15" textLength="2.70" lengthAdjust="spacingAndGlyphs">0</text>
<line x1="173.30" y1="544.64" x2="176.30" y2="544.64" stroke="#231f20" stroke-width="0.9"/>
<text x="171.30" y="546.64" font-size="5.7" text-anchor="end" font-weight="bold" fill="#231f20" stroke="#231f20" stroke-width="0.15" textLength="2.70" lengthAdjust="spacingAndGlyphs">1</text>
<line x1="173.30" y1="528.98" x2="176.30" y2="528.98" stroke="#231f20" stroke-width="0.9"/>
<text x="171.30" y="530.98" font-size="5.7" text-anchor="end" font-weight="bold" fill="#231f20" stroke="#231f20" stroke-width="0.15" textLength="2.70" lengthAdjust="spacingAndGlyphs">2</text>
<line x1="173.30" y1="513.32" x2="176.30" y2="513.32" stroke="#231f20" stroke-width="0.9"/>
<text x="171.30" y="515.32" font-size="5.7" text-anchor="end" font-weight="bold" fill="#231f20" stroke="#231f20" stroke-width="0.15" textLength="2.70" lengthAdjust="spacingAndGlyphs">3</text>
<line x1="173.30" y1="497.66" x2="176.30" y2="497.66" stroke="#231f20" stroke-width="0.9"/>
<text x="171.30" y="499.66" font-size="5.7" text-anchor="end" font-weight="bold" fill="#231f20" stroke="#231f20" stroke-width="0.15" textLength="2.70" lengthAdjust="spacingAndGlyphs">4</text>
<line x1="173.30" y1="482.00" x2="176.30" y2="482.00" stroke="#231f20" stroke-width="0.9"/>
<text x="171.30" y="484.00" font-size="5.7" text-anchor="end" font-weight="bold" fill="#231f20" stroke="#231f20" stroke-width="0.15" textLength="2.70" lengthAdjust="spacingAndGlyphs">5</text>
<line x1="188.40" y1="560.30" x2="188.40" y2="563.30" stroke="#231f20" stroke-width="0.9"/>
<text x="190.40" y="569.80" font-size="5.3" text-anchor="middle" font-weight="bold" fill="#231f20" stroke="#231f20" stroke-width="0.2">G1</text>
<line x1="206.10" y1="560.30" x2="206.10" y2="563.30" stroke="#231f20" stroke-width="0.9"/>
<text x="207.40" y="569.80" font-size="5.3" text-anchor="middle" font-weight="bold" fill="#231f20" stroke="#231f20" stroke-width="0.2">G2</text>
<line x1="223.90" y1="560.30" x2="223.90" y2="563.30" stroke="#231f20" stroke-width="0.9"/>
<text x="223.30" y="569.80" font-size="5.3" text-anchor="middle" font-weight="bold" fill="#231f20" stroke="#231f20" stroke-width="0.2">G3</text>
<line x1="241.60" y1="560.30" x2="241.60" y2="563.30" stroke="#231f20" stroke-width="0.9"/>
<text x="239.60" y="569.80" font-size="5.3" text-anchor="middle" font-weight="bold" fill="#231f20" stroke="#231f20" stroke-width="0.2">G4</text>
<rect x="186.95" y="522.21" width="2.9" height="2.9" fill="#72cfbb"/>
<rect x="182.35" y="524.71" width="2.9" height="2.9" fill="#72cfbb"/>
<rect x="186.95" y="530.04" width="2.9" height="2.9" fill="#72cfbb"/>
<rect x="186.95" y="534.26" width="2.9" height="2.9" fill="#72cfbb"/>
<rect x="182.35" y="535.05" width="2.9" height="2.9" fill="#72cfbb"/>
<line x1="188.40" y1="527.10" x2="188.40" y2="536.50" stroke="#72cfbb" stroke-width="0.55"/>
<line x1="185.40" y1="527.10" x2="191.40" y2="527.10" stroke="#72cfbb" stroke-width="0.6"/>
<line x1="185.40" y1="536.50" x2="191.40" y2="536.50" stroke="#72cfbb" stroke-width="0.6"/>
<line x1="182.40" y1="531.80" x2="194.40" y2="531.80" stroke="#72cfbb" stroke-width="0.8"/>
<polygon points="206.10,526.46 207.90,529.76 204.30,529.76" fill="#f0a957"/>
<polygon points="206.10,530.07 207.90,533.37 204.30,533.37" fill="#f0a957"/>
<polygon points="206.10,534.45 207.90,537.75 204.30,537.75" fill="#f0a957"/>
<polygon points="206.10,541.50 207.90,544.80 204.30,544.80" fill="#f0a957"/>
<polygon points="201.50,542.28 203.30,545.58 199.70,545.58" fill="#f0a957"/>
<line x1="206.10" y1="528.98" x2="206.10" y2="544.01" stroke="#f0a957" stroke-width="0.55"/>
<line x1="203.10" y1="528.98" x2="209.10" y2="528.98" stroke="#f0a957" stroke-width="0.6"/>
<line x1="203.10" y1="544.01" x2="209.10" y2="544.01" stroke="#f0a957" stroke-width="0.6"/>
<line x1="200.10" y1="536.50" x2="212.10" y2="536.50" stroke="#f0a957" stroke-width="0.8"/>
<polygon points="223.90,489.37 225.70,486.07 222.10,486.07" fill="#e8605a"/>
<polygon points="223.90,525.70 225.70,522.40 222.10,522.40" fill="#e8605a"/>
<polygon points="223.90,532.75 225.70,529.45 222.10,529.45" fill="#e8605a"/>
<polygon points="219.30,533.53 221.10,530.23 217.50,530.23" fill="#e8605a"/>
<polygon points="223.90,536.98 225.70,533.68 222.10,533.68" fill="#e8605a"/>
<line x1="223.90" y1="502.67" x2="223.90" y2="542.45" stroke="#e8605a" stroke-width="0.55"/>
<line x1="220.90" y1="502.67" x2="226.90" y2="502.67" stroke="#e8605a" stroke-width="0.6"/>
<line x1="220.90" y1="542.45" x2="226.90" y2="542.45" stroke="#e8605a" stroke-width="0.6"/>
<line x1="217.90" y1="522.56" x2="229.90" y2="522.56" stroke="#e8605a" stroke-width="0.8"/>
<circle cx="241.60" cy="549.96" r="1.6" fill="#6aa3d5"/>
<circle cx="237.00" cy="550.75" r="1.6" fill="#6aa3d5"/>
<circle cx="246.20" cy="552.00" r="1.6" fill="#6aa3d5"/>
<circle cx="232.40" cy="552.47" r="1.6" fill="#6aa3d5"/>
<line x1="241.60" y1="550.28" x2="241.60" y2="552.16" stroke="#6aa3d5" stroke-width="0.55"/>
<line x1="238.60" y1="550.28" x2="244.60" y2="550.28" stroke="#6aa3d5" stroke-width="0.6"/>
<line x1="238.60" y1="552.16" x2="244.60" y2="552.16" stroke="#6aa3d5" stroke-width="0.6"/>
<line x1="235.60" y1="551.22" x2="247.60" y2="551.22" stroke="#6aa3d5" stroke-width="0.8"/>
<path d="M224.40,484.00 L224.40,480.20 L242.60,480.20 L242.60,484.00" fill="none" stroke="#2a2a2a" stroke-width="0.95"/>
<text x="233.10" y="479.00" font-size="4.2" text-anchor="middle" font-style="italic" fill="#1a1a1a" stroke="#1a1a1a" stroke-width="0.08">p=0.0001</text>
<text x="166.10" y="518.20" font-size="6.3" font-weight="bold" fill="#231f20" stroke="#231f20" stroke-width="0.12" text-anchor="middle" transform="rotate(-90 166.10 518.20)">CD4<tspan dy="-2" font-size="4.3">+</tspan><tspan dy="2">IL-17A</tspan><tspan dy="-2" font-size="4.3">+</tspan><tspan dy="2"> (%)</tspan></text>
<line x1="320.40" y1="481.80" x2="320.40" y2="561.20" stroke="#231f20" stroke-width="1.05"/>
<line x1="317.40" y1="560.70" x2="398.00" y2="560.70" stroke="#231f20" stroke-width="1.05"/>
<line x1="317.40" y1="560.70" x2="320.40" y2="560.70" stroke="#231f20" stroke-width="0.9"/>
<text x="315.40" y="562.70" font-size="5.7" text-anchor="end" font-weight="bold" fill="#231f20" stroke="#231f20" stroke-width="0.15" textLength="2.70" lengthAdjust="spacingAndGlyphs">0</text>
<line x1="317.40" y1="541.08" x2="320.40" y2="541.08" stroke="#231f20" stroke-width="0.9"/>
<text x="315.40" y="543.08" font-size="5.7" text-anchor="end" font-weight="bold" fill="#231f20" stroke="#231f20" stroke-width="0.15" textLength="2.70" lengthAdjust="spacingAndGlyphs">5</text>
<line x1="317.40" y1="521.45" x2="320.40" y2="521.45" stroke="#231f20" stroke-width="0.9"/>
<text x="315.40" y="523.45" font-size="5.7" text-anchor="end" font-weight="bold" fill="#231f20" stroke="#231f20" stroke-width="0.15" textLength="5.40" lengthAdjust="spacingAndGlyphs">10</text>
<line x1="317.40" y1="501.82" x2="320.40" y2="501.82" stroke="#231f20" stroke-width="0.9"/>
<text x="315.40" y="503.82" font-size="5.7" text-anchor="end" font-weight="bold" fill="#231f20" stroke="#231f20" stroke-width="0.15" textLength="5.40" lengthAdjust="spacingAndGlyphs">15</text>
<line x1="317.40" y1="482.20" x2="320.40" y2="482.20" stroke="#231f20" stroke-width="0.9"/>
<text x="315.40" y="484.20" font-size="5.7" text-anchor="end" font-weight="bold" fill="#231f20" stroke="#231f20" stroke-width="0.15" textLength="5.40" lengthAdjust="spacingAndGlyphs">20</text>
<line x1="332.50" y1="560.70" x2="332.50" y2="563.70" stroke="#231f20" stroke-width="0.9"/>
<text x="334.50" y="570.20" font-size="5.3" text-anchor="middle" font-weight="bold" fill="#231f20" stroke="#231f20" stroke-width="0.2">G1</text>
<line x1="350.50" y1="560.70" x2="350.50" y2="563.70" stroke="#231f20" stroke-width="0.9"/>
<text x="351.80" y="570.20" font-size="5.3" text-anchor="middle" font-weight="bold" fill="#231f20" stroke="#231f20" stroke-width="0.2">G2</text>
<line x1="368.20" y1="560.70" x2="368.20" y2="563.70" stroke="#231f20" stroke-width="0.9"/>
<text x="367.60" y="570.20" font-size="5.3" text-anchor="middle" font-weight="bold" fill="#231f20" stroke="#231f20" stroke-width="0.2">G3</text>
<line x1="386.40" y1="560.70" x2="386.40" y2="563.70" stroke="#231f20" stroke-width="0.9"/>
<text x="384.40" y="570.20" font-size="5.3" text-anchor="middle" font-weight="bold" fill="#231f20" stroke="#231f20" stroke-width="0.2">G4</text>
<rect x="331.05" y="545.75" width="2.9" height="2.9" fill="#72cfbb"/>
<rect x="326.45" y="547.24" width="2.9" height="2.9" fill="#72cfbb"/>
<rect x="331.05" y="551.09" width="2.9" height="2.9" fill="#72cfbb"/>
<rect x="326.45" y="553.72" width="2.9" height="2.9" fill="#72cfbb"/>
<rect x="331.05" y="554.30" width="2.9" height="2.9" fill="#72cfbb"/>
<line x1="332.50" y1="548.93" x2="332.50" y2="555.99" stroke="#72cfbb" stroke-width="0.55"/>
<line x1="329.50" y1="548.93" x2="335.50" y2="548.93" stroke="#72cfbb" stroke-width="0.6"/>
<line x1="329.50" y1="555.99" x2="335.50" y2="555.99" stroke="#72cfbb" stroke-width="0.6"/>
<line x1="326.50" y1="552.46" x2="338.50" y2="552.46" stroke="#72cfbb" stroke-width="0.8"/>
<polygon points="350.50,484.47 352.30,487.77 348.70,487.77" fill="#f0a957"/>
<polygon points="350.50,500.96 352.30,504.26 348.70,504.26" fill="#f0a957"/>
<polygon points="350.50,513.91 352.30,517.21 348.70,517.21" fill="#f0a957"/>
<polygon points="350.50,526.86 352.30,530.16 348.70,530.16" fill="#f0a957"/>
<polygon points="350.50,534.32 352.30,537.62 348.70,537.62" fill="#f0a957"/>
<polygon points="350.50,542.17 352.30,545.47 348.70,545.47" fill="#f0a957"/>
<line x1="350.50" y1="497.12" x2="350.50" y2="541.08" stroke="#f0a957" stroke-width="0.55"/>
<line x1="347.50" y1="497.12" x2="353.50" y2="497.12" stroke="#f0a957" stroke-width="0.6"/>
<line x1="347.50" y1="541.08" x2="353.50" y2="541.08" stroke="#f0a957" stroke-width="0.6"/>
<line x1="344.50" y1="519.10" x2="356.50" y2="519.10" stroke="#f0a957" stroke-width="0.8"/>
<polygon points="368.20,545.08 370.00,541.78 366.40,541.78" fill="#e8605a"/>
<polygon points="363.60,547.05 365.40,543.75 361.80,543.75" fill="#e8605a"/>
<polygon points="368.20,549.40 370.00,546.10 366.40,546.10" fill="#e8605a"/>
<polygon points="363.60,552.15 365.40,548.85 361.80,548.85" fill="#e8605a"/>
<polygon points="368.20,557.25 370.00,553.95 366.40,553.95" fill="#e8605a"/>
<line x1="368.20" y1="544.22" x2="368.20" y2="554.42" stroke="#e8605a" stroke-width="0.55"/>
<line x1="365.20" y1="544.22" x2="371.20" y2="544.22" stroke="#e8605a" stroke-width="0.6"/>
<line x1="365.20" y1="554.42" x2="371.20" y2="554.42" stroke="#e8605a" stroke-width="0.6"/>
<line x1="362.20" y1="549.32" x2="374.20" y2="549.32" stroke="#e8605a" stroke-width="0.8"/>
<circle cx="386.40" cy="558.54" r="1.6" fill="#6aa3d5"/>
<circle cx="381.80" cy="558.93" r="1.6" fill="#6aa3d5"/>
<circle cx="391.00" cy="559.33" r="1.6" fill="#6aa3d5"/>
<circle cx="377.20" cy="559.92" r="1.6" fill="#6aa3d5"/>
<line x1="386.40" y1="558.54" x2="386.40" y2="559.72" stroke="#6aa3d5" stroke-width="0.55"/>
<line x1="383.40" y1="558.54" x2="389.40" y2="558.54" stroke="#6aa3d5" stroke-width="0.6"/>
<line x1="383.40" y1="559.72" x2="389.40" y2="559.72" stroke="#6aa3d5" stroke-width="0.6"/>
<line x1="380.40" y1="559.13" x2="392.40" y2="559.13" stroke="#6aa3d5" stroke-width="0.8"/>
<path d="M330.20,488.20 L330.20,484.40 L345.40,484.40 L345.40,488.20" fill="none" stroke="#2a2a2a" stroke-width="0.95"/>
<text x="339.30" y="482.00" font-size="4.2" text-anchor="middle" font-style="italic" fill="#1a1a1a" stroke="#1a1a1a" stroke-width="0.08">p=0.0027</text>
<path d="M349.50,477.60 L349.50,474.20 L368.20,474.20 L368.20,477.60" fill="none" stroke="#2a2a2a" stroke-width="0.95"/>
<text x="358.30" y="471.60" font-size="4.2" text-anchor="middle" font-style="italic" fill="#1a1a1a" stroke="#1a1a1a" stroke-width="0.08">p=0.0068</text>
<path d="M349.50,488.20 L349.50,484.40 L386.50,484.40 L386.50,488.20" fill="none" stroke="#2a2a2a" stroke-width="0.95"/>
<text x="369.20" y="482.00" font-size="4.2" text-anchor="middle" font-style="italic" fill="#1a1a1a" stroke="#1a1a1a" stroke-width="0.08">p=0.0010</text>
<text x="307.10" y="519.80" font-size="6.3" font-weight="bold" fill="#231f20" stroke="#231f20" stroke-width="0.12" text-anchor="middle" transform="rotate(-90 307.10 519.80)">CD8<tspan dy="-2" font-size="4.3">+</tspan><tspan dy="2">Granzyme B</tspan><tspan dy="-2" font-size="4.3">+</tspan><tspan dy="2">(%)</tspan></text>
<line x1="463.50" y1="481.80" x2="463.50" y2="561.10" stroke="#231f20" stroke-width="1.05"/>
<line x1="460.50" y1="560.60" x2="541.10" y2="560.60" stroke="#231f20" stroke-width="1.05"/>
<line x1="460.50" y1="560.60" x2="463.50" y2="560.60" stroke="#231f20" stroke-width="0.9"/>
<text x="458.50" y="562.60" font-size="5.7" text-anchor="end" font-weight="bold" fill="#231f20" stroke="#231f20" stroke-width="0.15" textLength="2.70" lengthAdjust="spacingAndGlyphs">0</text>
<line x1="460.50" y1="544.92" x2="463.50" y2="544.92" stroke="#231f20" stroke-width="0.9"/>
<text x="458.50" y="546.92" font-size="5.7" text-anchor="end" font-weight="bold" fill="#231f20" stroke="#231f20" stroke-width="0.15" textLength="2.70" lengthAdjust="spacingAndGlyphs">5</text>
<line x1="460.50" y1="529.24" x2="463.50" y2="529.24" stroke="#231f20" stroke-width="0.9"/>
<text x="458.50" y="531.24" font-size="5.7" text-anchor="end" font-weight="bold" fill="#231f20" stroke="#231f20" stroke-width="0.15" textLength="5.40" lengthAdjust="spacingAndGlyphs">10</text>
<line x1="460.50" y1="513.56" x2="463.50" y2="513.56" stroke="#231f20" stroke-width="0.9"/>
<text x="458.50" y="515.56" font-size="5.7" text-anchor="end" font-weight="bold" fill="#231f20" stroke="#231f20" stroke-width="0.15" textLength="5.40" lengthAdjust="spacingAndGlyphs">15</text>
<line x1="460.50" y1="497.88" x2="463.50" y2="497.88" stroke="#231f20" stroke-width="0.9"/>
<text x="458.50" y="499.88" font-size="5.7" text-anchor="end" font-weight="bold" fill="#231f20" stroke="#231f20" stroke-width="0.15" textLength="5.40" lengthAdjust="spacingAndGlyphs">20</text>
<line x1="460.50" y1="482.20" x2="463.50" y2="482.20" stroke="#231f20" stroke-width="0.9"/>
<text x="458.50" y="484.20" font-size="5.7" text-anchor="end" font-weight="bold" fill="#231f20" stroke="#231f20" stroke-width="0.15" textLength="5.40" lengthAdjust="spacingAndGlyphs">25</text>
<line x1="475.40" y1="560.60" x2="475.40" y2="563.60" stroke="#231f20" stroke-width="0.9"/>
<text x="477.40" y="570.10" font-size="5.3" text-anchor="middle" font-weight="bold" fill="#231f20" stroke="#231f20" stroke-width="0.2">G1</text>
<line x1="493.40" y1="560.60" x2="493.40" y2="563.60" stroke="#231f20" stroke-width="0.9"/>
<text x="494.70" y="570.10" font-size="5.3" text-anchor="middle" font-weight="bold" fill="#231f20" stroke="#231f20" stroke-width="0.2">G2</text>
<line x1="511.20" y1="560.60" x2="511.20" y2="563.60" stroke="#231f20" stroke-width="0.9"/>
<text x="510.60" y="570.10" font-size="5.3" text-anchor="middle" font-weight="bold" fill="#231f20" stroke="#231f20" stroke-width="0.2">G3</text>
<line x1="529.20" y1="560.60" x2="529.20" y2="563.60" stroke="#231f20" stroke-width="0.9"/>
<text x="527.20" y="570.10" font-size="5.3" text-anchor="middle" font-weight="bold" fill="#231f20" stroke="#231f20" stroke-width="0.2">G4</text>
<rect x="473.95" y="535.94" width="2.9" height="2.9" fill="#72cfbb"/>
<rect x="473.95" y="539.39" width="2.9" height="2.9" fill="#72cfbb"/>
<rect x="469.35" y="545.98" width="2.9" height="2.9" fill="#72cfbb"/>
<rect x="473.95" y="545.04" width="2.9" height="2.9" fill="#72cfbb"/>
<rect x="478.55" y="545.35" width="2.9" height="2.9" fill="#72cfbb"/>
<line x1="475.40" y1="539.90" x2="475.40" y2="547.43" stroke="#72cfbb" stroke-width="0.55"/>
<line x1="472.40" y1="539.90" x2="478.40" y2="539.90" stroke="#72cfbb" stroke-width="0.6"/>
<line x1="472.40" y1="547.43" x2="478.40" y2="547.43" stroke="#72cfbb" stroke-width="0.6"/>
<line x1="469.40" y1="543.67" x2="481.40" y2="543.67" stroke="#72cfbb" stroke-width="0.8"/>
<polygon points="493.40,498.03 495.20,501.33 491.60,501.33" fill="#f0a957"/>
<polygon points="493.40,513.40 495.20,516.70 491.60,516.70" fill="#f0a957"/>
<polygon points="488.80,514.34 490.60,517.64 487.00,517.64" fill="#f0a957"/>
<polygon points="493.40,526.88 495.20,530.18 491.60,530.18" fill="#f0a957"/>
<polygon points="493.40,534.41 495.20,537.71 491.60,537.71" fill="#f0a957"/>
<polygon points="493.40,538.48 495.20,541.78 491.60,541.78" fill="#f0a957"/>
<line x1="493.40" y1="507.13" x2="493.40" y2="537.55" stroke="#f0a957" stroke-width="0.55"/>
<line x1="490.40" y1="507.13" x2="496.40" y2="507.13" stroke="#f0a957" stroke-width="0.6"/>
<line x1="490.40" y1="537.55" x2="496.40" y2="537.55" stroke="#f0a957" stroke-width="0.6"/>
<line x1="487.40" y1="522.34" x2="499.40" y2="522.34" stroke="#f0a957" stroke-width="0.8"/>
<polygon points="506.60,539.44 508.40,536.14 504.80,536.14" fill="#e8605a"/>
<polygon points="515.80,541.95 517.60,538.65 514.00,538.65" fill="#e8605a"/>
<polygon points="511.20,543.52 513.00,540.22 509.40,540.22" fill="#e8605a"/>
<polygon points="515.80,545.08 517.60,541.78 514.00,541.78" fill="#e8605a"/>
<polygon points="506.60,548.53 508.40,545.23 504.80,545.23" fill="#e8605a"/>
<line x1="511.20" y1="538.80" x2="511.20" y2="545.39" stroke="#e8605a" stroke-width="0.55"/>
<line x1="508.20" y1="538.80" x2="514.20" y2="538.80" stroke="#e8605a" stroke-width="0.6"/>
<line x1="508.20" y1="545.39" x2="514.20" y2="545.39" stroke="#e8605a" stroke-width="0.6"/>
<line x1="505.20" y1="542.10" x2="517.20" y2="542.10" stroke="#e8605a" stroke-width="0.8"/>
<circle cx="529.20" cy="548.37" r="1.6" fill="#6aa3d5"/>
<circle cx="524.60" cy="554.80" r="1.6" fill="#6aa3d5"/>
<circle cx="529.20" cy="553.39" r="1.6" fill="#6aa3d5"/>
<circle cx="533.80" cy="554.33" r="1.6" fill="#6aa3d5"/>
<line x1="529.20" y1="550.25" x2="529.20" y2="555.27" stroke="#6aa3d5" stroke-width="0.55"/>
<line x1="526.20" y1="550.25" x2="532.20" y2="550.25" stroke="#6aa3d5" stroke-width="0.6"/>
<line x1="526.20" y1="555.27" x2="532.20" y2="555.27" stroke="#6aa3d5" stroke-width="0.6"/>
<line x1="523.20" y1="552.76" x2="535.20" y2="552.76" stroke="#6aa3d5" stroke-width="0.8"/>
<path d="M474.70,497.40 L474.70,493.80 L489.70,493.80 L489.70,497.40" fill="none" stroke="#2a2a2a" stroke-width="0.95"/>
<text x="484.80" y="491.00" font-size="4.2" text-anchor="middle" font-style="italic" fill="#1a1a1a" stroke="#1a1a1a" stroke-width="0.08">p=0.0060</text>
<path d="M493.20,497.40 L493.20,493.80 L530.00,493.80 L530.00,497.40" fill="none" stroke="#2a2a2a" stroke-width="0.95"/>
<text x="512.50" y="491.00" font-size="4.2" text-anchor="middle" font-style="italic" fill="#1a1a1a" stroke="#1a1a1a" stroke-width="0.08">p=0.0005</text>
<path d="M493.20,485.30 L493.20,481.50 L511.70,481.50 L511.70,485.30" fill="none" stroke="#2a2a2a" stroke-width="0.95"/>
<text x="502.30" y="478.80" font-size="4.2" text-anchor="middle" font-style="italic" fill="#1a1a1a" stroke="#1a1a1a" stroke-width="0.08">p=0.0120</text>
<text x="450.20" y="521.40" font-size="6.3" font-weight="bold" fill="#231f20" stroke="#231f20" stroke-width="0.12" text-anchor="middle" transform="rotate(-90 450.20 521.40)">CD8<tspan dy="-2" font-size="4.3">+</tspan><tspan dy="2">Perforin</tspan><tspan dy="-2" font-size="4.3">+</tspan><tspan dy="2">(%)</tspan></text>
<rect x="562.8" y="418.50" width="9.8" height="6.6" fill="#9ee0cc" stroke="#8f9bc4" stroke-width="0.6"/>
<text x="577.4" y="424.90" font-size="8.4" font-weight="bold" fill="#231f20" stroke="#231f20" stroke-width="0.15" textLength="32.6" lengthAdjust="spacingAndGlyphs">G1:LNP</text>
<rect x="562.8" y="430.50" width="9.8" height="6.6" fill="#f2b46e" stroke="#8f9bc4" stroke-width="0.6"/>
<text x="577.4" y="436.30" font-size="8.4" font-weight="bold" fill="#231f20" stroke="#231f20" stroke-width="0.15" textLength="100.6" lengthAdjust="spacingAndGlyphs">G2:LNP-mRNA-Tp0136</text>
<text x="678.4" y="433.20" font-size="4.6" font-weight="bold" fill="#231f20" textLength="7.2" lengthAdjust="spacingAndGlyphs">T1</text>
<rect x="562.8" y="442.10" width="9.8" height="6.6" fill="#ec6a63" stroke="#8f9bc4" stroke-width="0.6"/>
<text x="577.4" y="447.80" font-size="8.4" font-weight="bold" fill="#231f20" stroke="#231f20" stroke-width="0.15" textLength="76.2" lengthAdjust="spacingAndGlyphs">G3:r<tspan font-style="italic" font-weight="normal">Pf</tspan>/Trx-Tp0136</text>
<text x="654.6" y="444.70" font-size="4.6" font-weight="bold" fill="#231f20" textLength="6.2" lengthAdjust="spacingAndGlyphs">T1</text>
<rect x="562.8" y="453.70" width="9.8" height="6.6" fill="#80b0d8" stroke="#8f9bc4" stroke-width="0.6"/>
<text x="577.4" y="459.60" font-size="8.4" font-weight="bold" fill="#231f20" stroke="#231f20" stroke-width="0.15" textLength="38.8" lengthAdjust="spacingAndGlyphs">G4:Mock</text>
</svg>
</body></html>
